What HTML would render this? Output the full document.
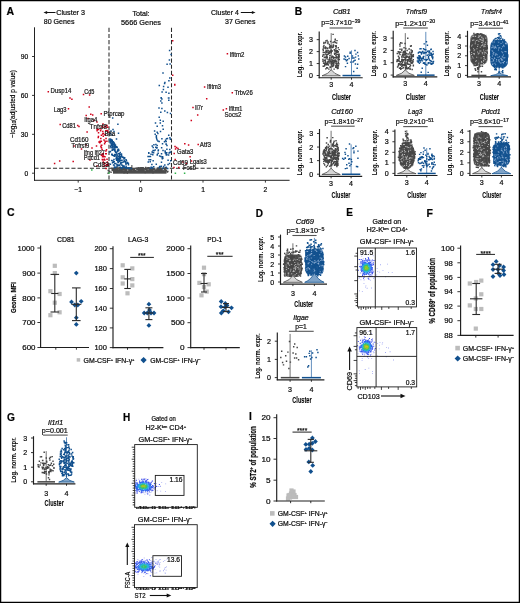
<!DOCTYPE html>
<html><head><meta charset="utf-8"><title>Figure</title>
<style>html,body{margin:0;padding:0;background:#fff;width:520px;height:603px;overflow:hidden}svg{display:block;will-change:transform}text{font-family:"Liberation Sans",sans-serif;stroke:#1a1a1a;stroke-width:0.22px}</style>
</head><body>
<svg width="520" height="603" viewBox="0 0 520 603" font-family='"Liberation Sans", sans-serif'><defs><filter id="bl" x="-20%" y="-20%" width="140%" height="140%"><feGaussianBlur stdDeviation="0.35"/></filter></defs><rect x="0.6" y="0.6" width="518.8" height="601.8" fill="none" stroke="#000" stroke-width="1.3"/>
<text x="6.6" y="14.55" font-size="10.5" font-weight="bold" fill="#000">A</text>
<line x1="55.5" y1="12.5" x2="45.66" y2="12.5" stroke="#111" stroke-width="1"/>
<path fill="#111" d="M43.5 12.5L47.1 10.88L47.1 14.12Z"/>
<text x="56.3" y="14.9" font-size="7.5" textLength="28.7" lengthAdjust="spacingAndGlyphs">Cluster 3</text>
<text x="43.7" y="24.2" font-size="7.5" textLength="30.8" lengthAdjust="spacingAndGlyphs">80 Genes</text>
<text x="141" y="16.1" font-size="7.5" text-anchor="middle" textLength="17.2" lengthAdjust="spacingAndGlyphs">Total:</text>
<text x="141" y="24.9" font-size="7.5" text-anchor="middle" textLength="40" lengthAdjust="spacingAndGlyphs">5666 Genes</text>
<text x="211" y="14.9" font-size="7.5" textLength="27.8" lengthAdjust="spacingAndGlyphs">Cluster 4</text>
<line x1="240.8" y1="12.5" x2="253.34" y2="12.5" stroke="#111" stroke-width="1"/>
<path fill="#111" d="M255.5 12.5L251.9 10.88L251.9 14.12Z"/>
<text x="255.5" y="24.2" font-size="7.5" text-anchor="end" textLength="30.4" lengthAdjust="spacingAndGlyphs">37 Genes</text>
<line x1="109" y1="27.8" x2="109" y2="180.3" stroke="#2a2a2a" stroke-width="1.05" stroke-dasharray="4.1 2.05"/>
<line x1="171.5" y1="27.8" x2="171.5" y2="180.3" stroke="#2a2a2a" stroke-width="1.05" stroke-dasharray="4.1 2.05"/>
<line x1="34.5" y1="168.2" x2="289.6" y2="168.2" stroke="#2a2a2a" stroke-width="1.1" stroke-dasharray="4.1 2.05"/>
<text x="11.9" y="104" font-size="7.8" text-anchor="middle" transform="rotate(-90 11.9 104)" textLength="68" lengthAdjust="spacingAndGlyphs" dy="2.8">−log<tspan font-size="5" dy="1.6">10</tspan><tspan dy="-1.6">(adjusted p value)</tspan></text>
<rect x="113" y="170.4" width="53.5" height="3.3" fill="#4d4d4d"/>
<path fill="#4a4a4a" d="M129.11 167.41h1.4v1.4h-1.4zM147.1 167.15h1.4v1.4h-1.4zM140.77 168.14h1.4v1.4h-1.4zM114.49 168.63h1.4v1.4h-1.4zM113.36 168.37h1.4v1.4h-1.4zM115.14 167.21h1.4v1.4h-1.4zM134.65 169.71h1.4v1.4h-1.4zM118.11 167.66h1.4v1.4h-1.4zM145.81 170.12h1.4v1.4h-1.4zM143.04 168.25h1.4v1.4h-1.4zM164.99 167.06h1.4v1.4h-1.4zM158.52 167.88h1.4v1.4h-1.4zM119.23 167.3h1.4v1.4h-1.4zM128.27 169.67h1.4v1.4h-1.4zM121.24 168.88h1.4v1.4h-1.4zM146.44 168.17h1.4v1.4h-1.4zM141.43 167.11h1.4v1.4h-1.4zM114.58 167.6h1.4v1.4h-1.4zM148.72 168.35h1.4v1.4h-1.4zM128.58 168.89h1.4v1.4h-1.4zM136.23 167.92h1.4v1.4h-1.4zM154.99 169.28h1.4v1.4h-1.4zM124.73 168.85h1.4v1.4h-1.4zM140.19 169.88h1.4v1.4h-1.4zM151.42 167.88h1.4v1.4h-1.4zM165.21 167.3h1.4v1.4h-1.4zM134.3 169.47h1.4v1.4h-1.4zM119.66 168.56h1.4v1.4h-1.4zM113.46 169.17h1.4v1.4h-1.4zM153.35 168.85h1.4v1.4h-1.4zM159.45 167.97h1.4v1.4h-1.4zM149.54 168.92h1.4v1.4h-1.4zM143.19 168.45h1.4v1.4h-1.4zM157.5 170.11h1.4v1.4h-1.4zM137.38 169.16h1.4v1.4h-1.4zM114.64 169.29h1.4v1.4h-1.4zM146.89 170.28h1.4v1.4h-1.4zM156.51 167.87h1.4v1.4h-1.4zM132.52 169.17h1.4v1.4h-1.4zM112.54 168.47h1.4v1.4h-1.4zM120.54 167.3h1.4v1.4h-1.4zM114.54 169.51h1.4v1.4h-1.4zM118.41 167.74h1.4v1.4h-1.4zM132.8 169.86h1.4v1.4h-1.4zM115.73 168.43h1.4v1.4h-1.4zM141.52 169.9h1.4v1.4h-1.4zM156.36 169.84h1.4v1.4h-1.4zM126.61 168.31h1.4v1.4h-1.4zM131.03 169.91h1.4v1.4h-1.4zM163.98 167.41h1.4v1.4h-1.4zM120.99 167.69h1.4v1.4h-1.4zM124.13 168.55h1.4v1.4h-1.4zM143.7 167.79h1.4v1.4h-1.4zM111.53 168.32h1.4v1.4h-1.4zM131.61 168.83h1.4v1.4h-1.4zM163.72 169.25h1.4v1.4h-1.4zM139.65 169h1.4v1.4h-1.4zM148.49 167.08h1.4v1.4h-1.4zM160.77 169.55h1.4v1.4h-1.4zM159.4 169.61h1.4v1.4h-1.4zM132.88 168.26h1.4v1.4h-1.4zM116.99 169.06h1.4v1.4h-1.4zM114.72 167.13h1.4v1.4h-1.4zM122.78 167.45h1.4v1.4h-1.4zM130 167.08h1.4v1.4h-1.4zM111.31 167.41h1.4v1.4h-1.4zM116.88 168.14h1.4v1.4h-1.4zM112.7 169.87h1.4v1.4h-1.4zM145.07 167.41h1.4v1.4h-1.4zM125.17 168.08h1.4v1.4h-1.4zM131.33 167.32h1.4v1.4h-1.4zM157.99 170.28h1.4v1.4h-1.4zM136.93 168.55h1.4v1.4h-1.4zM116.02 167.25h1.4v1.4h-1.4zM130.14 167.8h1.4v1.4h-1.4zM156.89 167.45h1.4v1.4h-1.4zM112.57 170.13h1.4v1.4h-1.4zM140.35 167.4h1.4v1.4h-1.4zM141.17 166.99h1.4v1.4h-1.4zM140.35 170.23h1.4v1.4h-1.4zM158.78 169.27h1.4v1.4h-1.4zM125.66 168.15h1.4v1.4h-1.4zM120.49 169.52h1.4v1.4h-1.4zM140.59 169.55h1.4v1.4h-1.4zM129.43 167.66h1.4v1.4h-1.4zM155.93 170.25h1.4v1.4h-1.4zM158.19 169.64h1.4v1.4h-1.4zM156.31 169.42h1.4v1.4h-1.4zM123.77 168.66h1.4v1.4h-1.4zM130.86 167h1.4v1.4h-1.4zM112.84 167.85h1.4v1.4h-1.4zM125.55 169.25h1.4v1.4h-1.4zM163.91 168.42h1.4v1.4h-1.4zM162.84 170.26h1.4v1.4h-1.4zM163.83 168.14h1.4v1.4h-1.4zM123.43 167.67h1.4v1.4h-1.4zM122.12 167.59h1.4v1.4h-1.4zM145.62 169.96h1.4v1.4h-1.4zM157.52 168.53h1.4v1.4h-1.4zM147.21 169.62h1.4v1.4h-1.4zM115.96 169.15h1.4v1.4h-1.4zM161.34 169.56h1.4v1.4h-1.4zM152.56 168.53h1.4v1.4h-1.4zM121.12 169.58h1.4v1.4h-1.4zM129.59 169.62h1.4v1.4h-1.4zM164.74 168.25h1.4v1.4h-1.4zM133.38 170.12h1.4v1.4h-1.4zM151.16 167.48h1.4v1.4h-1.4zM118.29 167.41h1.4v1.4h-1.4zM161.07 169.64h1.4v1.4h-1.4zM119.34 169.71h1.4v1.4h-1.4zM165.22 169.13h1.4v1.4h-1.4zM130.57 168.77h1.4v1.4h-1.4zM118.5 166.95h1.4v1.4h-1.4zM164.7 169.11h1.4v1.4h-1.4zM140.26 170.07h1.4v1.4h-1.4zM135.16 169.86h1.4v1.4h-1.4zM156.74 167.62h1.4v1.4h-1.4zM125.15 167.9h1.4v1.4h-1.4zM124.53 168.89h1.4v1.4h-1.4zM125.57 168.32h1.4v1.4h-1.4zM118.51 169.99h1.4v1.4h-1.4zM130.76 168.46h1.4v1.4h-1.4zM143.38 169.97h1.4v1.4h-1.4zM134.43 170.02h1.4v1.4h-1.4zM138.89 168.71h1.4v1.4h-1.4zM140.09 166.96h1.4v1.4h-1.4zM135.51 167.52h1.4v1.4h-1.4zM111.52 169.62h1.4v1.4h-1.4zM120.78 168.51h1.4v1.4h-1.4zM151.19 168.79h1.4v1.4h-1.4zM129.23 168.66h1.4v1.4h-1.4zM141.85 169.57h1.4v1.4h-1.4zM117.14 168.81h1.4v1.4h-1.4zM124.97 167.84h1.4v1.4h-1.4zM153.77 168.63h1.4v1.4h-1.4zM142.2 169.48h1.4v1.4h-1.4zM161.49 168.41h1.4v1.4h-1.4zM144.99 168.62h1.4v1.4h-1.4zM139.47 169.26h1.4v1.4h-1.4zM136.18 168.71h1.4v1.4h-1.4zM137.59 170.1h1.4v1.4h-1.4zM149.76 169.88h1.4v1.4h-1.4zM163.12 167.78h1.4v1.4h-1.4zM142.07 170.11h1.4v1.4h-1.4zM157.5 167.37h1.4v1.4h-1.4zM117.99 168.4h1.4v1.4h-1.4zM115.29 167.72h1.4v1.4h-1.4zM115.32 169.18h1.4v1.4h-1.4zM154.42 169.95h1.4v1.4h-1.4zM119.79 169.33h1.4v1.4h-1.4zM147.61 167.39h1.4v1.4h-1.4zM159.86 170.19h1.4v1.4h-1.4zM123.38 170.14h1.4v1.4h-1.4zM133.2 168.56h1.4v1.4h-1.4zM165.74 169.73h1.4v1.4h-1.4zM120.18 168.37h1.4v1.4h-1.4zM139.66 168.05h1.4v1.4h-1.4zM122.07 167.98h1.4v1.4h-1.4zM151.02 166.97h1.4v1.4h-1.4zM141.77 168.4h1.4v1.4h-1.4zM112.29 168.03h1.4v1.4h-1.4zM145.62 168.64h1.4v1.4h-1.4zM114.84 170.25h1.4v1.4h-1.4zM154.66 170.2h1.4v1.4h-1.4zM117.06 167.8h1.4v1.4h-1.4zM113.48 169.55h1.4v1.4h-1.4zM126.17 167.34h1.4v1.4h-1.4zM134.52 170h1.4v1.4h-1.4zM156.34 167.78h1.4v1.4h-1.4zM119.52 170.03h1.4v1.4h-1.4zM142.68 169.28h1.4v1.4h-1.4zM116.22 167.1h1.4v1.4h-1.4zM149.15 168.35h1.4v1.4h-1.4zM115.28 170.09h1.4v1.4h-1.4zM146.19 169.63h1.4v1.4h-1.4zM115.91 169.81h1.4v1.4h-1.4zM114.96 169.83h1.4v1.4h-1.4zM136.26 168.05h1.4v1.4h-1.4zM141.72 170.05h1.4v1.4h-1.4zM126.03 167.34h1.4v1.4h-1.4zM140.28 167.71h1.4v1.4h-1.4zM117.32 167.45h1.4v1.4h-1.4zM114.07 167.59h1.4v1.4h-1.4zM128.46 167.94h1.4v1.4h-1.4zM153.07 167.89h1.4v1.4h-1.4zM138.8 167.5h1.4v1.4h-1.4zM130.39 166.96h1.4v1.4h-1.4zM125.07 166.95h1.4v1.4h-1.4zM151.62 168.77h1.4v1.4h-1.4zM121.72 168.51h1.4v1.4h-1.4zM162.71 167.26h1.4v1.4h-1.4zM156.34 168.37h1.4v1.4h-1.4zM138.53 169.74h1.4v1.4h-1.4zM132.92 168.62h1.4v1.4h-1.4zM149.13 170.24h1.4v1.4h-1.4zM130.15 169.73h1.4v1.4h-1.4zM150.17 169.06h1.4v1.4h-1.4zM133.56 168.08h1.4v1.4h-1.4zM114.29 167.34h1.4v1.4h-1.4zM115.19 169.42h1.4v1.4h-1.4zM125.36 167.46h1.4v1.4h-1.4zM115.95 169.76h1.4v1.4h-1.4zM159.18 169.18h1.4v1.4h-1.4zM126.81 167.72h1.4v1.4h-1.4zM127.42 168.46h1.4v1.4h-1.4zM119.96 168.42h1.4v1.4h-1.4zM125.78 170.17h1.4v1.4h-1.4zM164.79 168.76h1.4v1.4h-1.4zM124.74 170.18h1.4v1.4h-1.4zM128.33 168.11h1.4v1.4h-1.4zM111.36 168.2h1.4v1.4h-1.4zM137.41 168.61h1.4v1.4h-1.4zM122.35 168.62h1.4v1.4h-1.4zM111.57 167.8h1.4v1.4h-1.4zM116.24 168.26h1.4v1.4h-1.4zM113.59 166.98h1.4v1.4h-1.4zM128.03 167.69h1.4v1.4h-1.4zM143.51 168.7h1.4v1.4h-1.4zM152.58 169.14h1.4v1.4h-1.4zM150.68 169.89h1.4v1.4h-1.4zM132.72 168.01h1.4v1.4h-1.4zM165.46 167.41h1.4v1.4h-1.4zM151.13 169.09h1.4v1.4h-1.4zM113.71 169.74h1.4v1.4h-1.4zM160.36 169.03h1.4v1.4h-1.4zM151.66 169.66h1.4v1.4h-1.4zM118.96 168.68h1.4v1.4h-1.4zM139.04 169.74h1.4v1.4h-1.4zM155.56 169.71h1.4v1.4h-1.4zM143.42 169.94h1.4v1.4h-1.4zM148.86 169.26h1.4v1.4h-1.4zM123.95 167.01h1.4v1.4h-1.4zM118.62 168.13h1.4v1.4h-1.4zM117.07 169.74h1.4v1.4h-1.4zM142.02 169.03h1.4v1.4h-1.4zM145.74 169.21h1.4v1.4h-1.4zM138.21 166.91h1.4v1.4h-1.4zM155.17 169.44h1.4v1.4h-1.4zM138.96 168.72h1.4v1.4h-1.4zM147.56 167.12h1.4v1.4h-1.4zM151.82 167.76h1.4v1.4h-1.4zM115.39 167.8h1.4v1.4h-1.4zM151.41 167.6h1.4v1.4h-1.4zM151.99 170.22h1.4v1.4h-1.4zM138.47 168.2h1.4v1.4h-1.4zM137.65 169.22h1.4v1.4h-1.4zM153.48 169h1.4v1.4h-1.4zM146.65 167.16h1.4v1.4h-1.4zM119.41 167.76h1.4v1.4h-1.4zM152.18 167.94h1.4v1.4h-1.4zM142.53 166.94h1.4v1.4h-1.4zM114.64 167.81h1.4v1.4h-1.4zM148.26 169.25h1.4v1.4h-1.4zM148.46 167.89h1.4v1.4h-1.4zM139.71 168.48h1.4v1.4h-1.4zM136.95 167.3h1.4v1.4h-1.4zM160.45 167.58h1.4v1.4h-1.4zM165.1 170.08h1.4v1.4h-1.4zM112.26 168.46h1.4v1.4h-1.4zM159.77 169.82h1.4v1.4h-1.4zM124.49 171.96h1.4v1.4h-1.4zM120.73 170.88h1.4v1.4h-1.4zM144.51 171.92h1.4v1.4h-1.4zM116.37 166.39h1.4v1.4h-1.4zM115.79 171.57h1.4v1.4h-1.4zM159.79 167.29h1.4v1.4h-1.4zM152.31 172.21h1.4v1.4h-1.4zM122.11 170.19h1.4v1.4h-1.4zM108.89 170.77h1.4v1.4h-1.4zM107.53 169.77h1.4v1.4h-1.4zM126.62 172.36h1.4v1.4h-1.4zM116.31 171.29h1.4v1.4h-1.4zM161.07 170.69h1.4v1.4h-1.4zM107.41 172.48h1.4v1.4h-1.4zM114.98 167.72h1.4v1.4h-1.4zM166.59 171.26h1.4v1.4h-1.4zM125.85 167.26h1.4v1.4h-1.4zM131.12 165.33h1.4v1.4h-1.4zM145.01 166.79h1.4v1.4h-1.4zM130.39 170.7h1.4v1.4h-1.4zM110.39 171.62h1.4v1.4h-1.4zM113.81 171.46h1.4v1.4h-1.4zM167.18 170.73h1.4v1.4h-1.4zM123.26 172.2h1.4v1.4h-1.4zM119.45 169.52h1.4v1.4h-1.4zM131.19 167.5h1.4v1.4h-1.4zM159.27 171.09h1.4v1.4h-1.4zM147.68 167.42h1.4v1.4h-1.4zM142.45 169.42h1.4v1.4h-1.4z"/>
<path fill="#11508e" d="M110.36 146.96h1.5v1.5h-1.5zM113.77 146.55h1.5v1.5h-1.5zM114.47 145.9h1.5v1.5h-1.5zM112.18 160.27h1.5v1.5h-1.5zM109.84 140.26h1.5v1.5h-1.5zM116.35 154.71h1.5v1.5h-1.5zM123.46 159.94h1.5v1.5h-1.5zM109.76 138.63h1.5v1.5h-1.5zM113.69 148.98h1.5v1.5h-1.5zM115.8 152.08h1.5v1.5h-1.5zM116.17 163.65h1.5v1.5h-1.5zM126.95 162.52h1.5v1.5h-1.5zM114.48 153.94h1.5v1.5h-1.5zM112.41 140.93h1.5v1.5h-1.5zM113.58 155.39h1.5v1.5h-1.5zM114.04 162.95h1.5v1.5h-1.5zM113.22 158.64h1.5v1.5h-1.5zM117.63 161.63h1.5v1.5h-1.5zM119.45 151.7h1.5v1.5h-1.5zM113.29 146h1.5v1.5h-1.5zM119.2 156.48h1.5v1.5h-1.5zM117.43 157.6h1.5v1.5h-1.5zM119.69 166.44h1.5v1.5h-1.5zM109.53 138.91h1.5v1.5h-1.5zM118.77 153.75h1.5v1.5h-1.5zM110.82 142.34h1.5v1.5h-1.5zM117.13 160.71h1.5v1.5h-1.5zM118.52 156.91h1.5v1.5h-1.5zM111.08 139.37h1.5v1.5h-1.5zM109.38 142.02h1.5v1.5h-1.5zM127.45 167.16h1.5v1.5h-1.5zM111.38 141.27h1.5v1.5h-1.5zM108.94 151.15h1.5v1.5h-1.5zM123.48 157.16h1.5v1.5h-1.5zM113.86 143.55h1.5v1.5h-1.5zM109.78 138.76h1.5v1.5h-1.5zM116.39 165.23h1.5v1.5h-1.5zM118.88 153.16h1.5v1.5h-1.5zM111.14 139.78h1.5v1.5h-1.5zM117.1 149.26h1.5v1.5h-1.5zM118.81 155.16h1.5v1.5h-1.5zM128.36 166.99h1.5v1.5h-1.5zM126.63 161.82h1.5v1.5h-1.5zM113.84 149.31h1.5v1.5h-1.5zM118.55 164.72h1.5v1.5h-1.5zM116.91 149.61h1.5v1.5h-1.5zM113.73 165.15h1.5v1.5h-1.5zM118.01 153.1h1.5v1.5h-1.5zM115.57 157.26h1.5v1.5h-1.5zM109.71 150.71h1.5v1.5h-1.5zM120.06 159.83h1.5v1.5h-1.5zM110.68 139.2h1.5v1.5h-1.5zM111.57 141.66h1.5v1.5h-1.5zM117.45 161.76h1.5v1.5h-1.5zM110.74 139.15h1.5v1.5h-1.5zM110.93 159.65h1.5v1.5h-1.5zM119.25 153.91h1.5v1.5h-1.5zM115.79 156.3h1.5v1.5h-1.5zM117.58 148.62h1.5v1.5h-1.5zM111.77 161.98h1.5v1.5h-1.5zM119.04 158.75h1.5v1.5h-1.5zM112.45 148.14h1.5v1.5h-1.5zM114.03 144.47h1.5v1.5h-1.5zM114.19 153.7h1.5v1.5h-1.5zM109.94 138.84h1.5v1.5h-1.5zM111.34 143.73h1.5v1.5h-1.5zM125.05 162.14h1.5v1.5h-1.5zM125.7 160.02h1.5v1.5h-1.5zM114.01 153.98h1.5v1.5h-1.5zM120.47 162.08h1.5v1.5h-1.5zM117.74 148.69h1.5v1.5h-1.5zM121.03 164.23h1.5v1.5h-1.5zM127.59 162.38h1.5v1.5h-1.5zM112.86 164.35h1.5v1.5h-1.5zM122 166.49h1.5v1.5h-1.5zM112.36 141.19h1.5v1.5h-1.5zM116.45 146.54h1.5v1.5h-1.5zM110.46 140.1h1.5v1.5h-1.5zM127.72 163.15h1.5v1.5h-1.5zM109.95 146.11h1.5v1.5h-1.5zM114.23 148.72h1.5v1.5h-1.5zM117.37 157.68h1.5v1.5h-1.5zM109.65 163.6h1.5v1.5h-1.5zM118.77 160.46h1.5v1.5h-1.5zM109.61 139.31h1.5v1.5h-1.5zM109.78 139.03h1.5v1.5h-1.5zM123.21 158.2h1.5v1.5h-1.5zM112.34 143.67h1.5v1.5h-1.5zM123.54 166.76h1.5v1.5h-1.5zM123.8 157.72h1.5v1.5h-1.5zM119.99 162.94h1.5v1.5h-1.5zM109.4 141.23h1.5v1.5h-1.5zM122.08 156.57h1.5v1.5h-1.5zM110.02 145.45h1.5v1.5h-1.5zM113.73 167.1h1.5v1.5h-1.5zM110.39 140.48h1.5v1.5h-1.5zM115.71 146.08h1.5v1.5h-1.5zM116.86 158.72h1.5v1.5h-1.5zM110.66 139.24h1.5v1.5h-1.5zM123.83 160.97h1.5v1.5h-1.5zM117.15 159.39h1.5v1.5h-1.5zM128.48 167.79h1.5v1.5h-1.5zM111.44 140.6h1.5v1.5h-1.5zM109.2 139.72h1.5v1.5h-1.5zM121.19 161.78h1.5v1.5h-1.5zM111.17 139.27h1.5v1.5h-1.5zM116.03 157.31h1.5v1.5h-1.5zM118.63 156h1.5v1.5h-1.5zM110.05 140.21h1.5v1.5h-1.5zM113.92 144.3h1.5v1.5h-1.5zM113.64 143.64h1.5v1.5h-1.5zM114.52 150.52h1.5v1.5h-1.5zM118.45 159.3h1.5v1.5h-1.5zM110.45 144.95h1.5v1.5h-1.5zM125.38 162.82h1.5v1.5h-1.5zM112.91 161.4h1.5v1.5h-1.5zM125.04 167.13h1.5v1.5h-1.5zM125.33 159.11h1.5v1.5h-1.5zM112.93 141.67h1.5v1.5h-1.5zM113.45 160.89h1.5v1.5h-1.5zM123.38 165.56h1.5v1.5h-1.5zM114.08 147.27h1.5v1.5h-1.5zM120.33 161.77h1.5v1.5h-1.5zM117.04 150.11h1.5v1.5h-1.5zM115.47 146.05h1.5v1.5h-1.5zM111.72 148.72h1.5v1.5h-1.5zM111.45 143.06h1.5v1.5h-1.5zM115.47 151.78h1.5v1.5h-1.5zM111.93 146.37h1.5v1.5h-1.5zM117.3 161.39h1.5v1.5h-1.5zM127.73 164.04h1.5v1.5h-1.5zM114.86 151.43h1.5v1.5h-1.5zM123.94 157.02h1.5v1.5h-1.5zM114.53 153.63h1.5v1.5h-1.5zM113.48 144.11h1.5v1.5h-1.5zM109.3 138.15h1.5v1.5h-1.5zM120.89 154.63h1.5v1.5h-1.5zM113.71 143.07h1.5v1.5h-1.5zM120.23 166.97h1.5v1.5h-1.5zM117.21 164.96h1.5v1.5h-1.5zM110.33 138.74h1.5v1.5h-1.5zM110.6 140.15h1.5v1.5h-1.5zM111.75 142.24h1.5v1.5h-1.5zM124.57 161.03h1.5v1.5h-1.5zM109.62 139.64h1.5v1.5h-1.5zM117.09 150.87h1.5v1.5h-1.5zM119.78 162.24h1.5v1.5h-1.5zM117.38 164.36h1.5v1.5h-1.5zM122.55 161.18h1.5v1.5h-1.5zM112.79 149.12h1.5v1.5h-1.5zM121.18 167.63h1.5v1.5h-1.5zM112.35 148.28h1.5v1.5h-1.5zM115.91 159.51h1.5v1.5h-1.5zM113.28 144.53h1.5v1.5h-1.5zM115.07 166.41h1.5v1.5h-1.5zM119.77 157.04h1.5v1.5h-1.5zM111.46 149.51h1.5v1.5h-1.5zM125.23 163.75h1.5v1.5h-1.5zM116.27 156.61h1.5v1.5h-1.5zM125.45 159.65h1.5v1.5h-1.5zM121.25 159.51h1.5v1.5h-1.5zM118.73 158.18h1.5v1.5h-1.5zM113.4 142.3h1.5v1.5h-1.5zM115.34 157.99h1.5v1.5h-1.5zM112.07 146.69h1.5v1.5h-1.5zM130.46 167.74h1.5v1.5h-1.5zM121.9 156.18h1.5v1.5h-1.5zM122.79 156.71h1.5v1.5h-1.5zM113.91 155.05h1.5v1.5h-1.5zM125.24 167.56h1.5v1.5h-1.5zM118.07 149.47h1.5v1.5h-1.5zM125.37 165.75h1.5v1.5h-1.5zM119.62 157.78h1.5v1.5h-1.5zM119.02 164.24h1.5v1.5h-1.5zM120.74 153.2h1.5v1.5h-1.5zM123.09 165.24h1.5v1.5h-1.5zM114.68 144.22h1.5v1.5h-1.5zM115.05 162.82h1.5v1.5h-1.5zM111.51 139.72h1.5v1.5h-1.5zM111.5 154.39h1.5v1.5h-1.5zM110.69 140.28h1.5v1.5h-1.5zM111.63 141h1.5v1.5h-1.5zM110.85 143.59h1.5v1.5h-1.5zM111.64 144.84h1.5v1.5h-1.5zM122.51 156.77h1.5v1.5h-1.5zM110.96 143.44h1.5v1.5h-1.5zM120.27 162.23h1.5v1.5h-1.5zM116.22 153.3h1.5v1.5h-1.5zM118.49 164.86h1.5v1.5h-1.5zM116.19 146.79h1.5v1.5h-1.5zM125.1 166.95h1.5v1.5h-1.5zM110.02 145.75h1.5v1.5h-1.5zM110.44 143.14h1.5v1.5h-1.5zM116.51 150.76h1.5v1.5h-1.5zM114.08 149.9h1.5v1.5h-1.5zM119.72 156.29h1.5v1.5h-1.5zM120.38 156.12h1.5v1.5h-1.5zM117.78 155.48h1.5v1.5h-1.5zM126.21 167.37h1.5v1.5h-1.5zM114.76 154.18h1.5v1.5h-1.5zM114.87 145.55h1.5v1.5h-1.5zM114.22 155.13h1.5v1.5h-1.5zM112.79 154.68h1.5v1.5h-1.5zM121.87 164.71h1.5v1.5h-1.5zM122.5 165.68h1.5v1.5h-1.5zM111.03 153.54h1.5v1.5h-1.5zM111.33 149.6h1.5v1.5h-1.5zM115.46 146.52h1.5v1.5h-1.5zM111.39 153.5h1.5v1.5h-1.5zM116.34 153.73h1.5v1.5h-1.5zM169.12 151.77h1.5v1.5h-1.5zM166.96 167.68h1.5v1.5h-1.5zM164.09 164.33h1.5v1.5h-1.5zM151.71 167.41h1.5v1.5h-1.5zM158.56 166.95h1.5v1.5h-1.5zM168.32 152.3h1.5v1.5h-1.5zM165.38 166.47h1.5v1.5h-1.5zM148.76 155.74h1.5v1.5h-1.5zM164.64 152.19h1.5v1.5h-1.5zM167.87 154.34h1.5v1.5h-1.5zM166.01 151.91h1.5v1.5h-1.5zM158.8 166.27h1.5v1.5h-1.5zM152.04 154.11h1.5v1.5h-1.5zM158.89 155.15h1.5v1.5h-1.5zM148.1 152.62h1.5v1.5h-1.5zM150.96 166.57h1.5v1.5h-1.5zM162.88 165.82h1.5v1.5h-1.5zM151.13 163.77h1.5v1.5h-1.5zM149.9 159.07h1.5v1.5h-1.5zM161.89 155.91h1.5v1.5h-1.5zM167.33 159.52h1.5v1.5h-1.5zM160.59 165.58h1.5v1.5h-1.5zM149.66 167.62h1.5v1.5h-1.5zM161.73 156.54h1.5v1.5h-1.5zM165.6 154.15h1.5v1.5h-1.5zM170.03 159.93h1.5v1.5h-1.5zM155.54 163.4h1.5v1.5h-1.5zM157.42 152.52h1.5v1.5h-1.5zM164.35 150.14h1.5v1.5h-1.5zM166.11 153.94h1.5v1.5h-1.5zM161.95 167.46h1.5v1.5h-1.5zM160.73 161.53h1.5v1.5h-1.5zM154.44 149.28h1.5v1.5h-1.5zM148.03 152.01h1.5v1.5h-1.5zM161.42 157.25h1.5v1.5h-1.5zM159.04 165.82h1.5v1.5h-1.5zM150.29 153.45h1.5v1.5h-1.5zM162.27 149.66h1.5v1.5h-1.5zM147.31 155.82h1.5v1.5h-1.5zM149.7 155.86h1.5v1.5h-1.5zM152.41 160.05h1.5v1.5h-1.5zM160.8 153.03h1.5v1.5h-1.5zM161.6 158.04h1.5v1.5h-1.5zM150.35 166.58h1.5v1.5h-1.5zM152.85 152.01h1.5v1.5h-1.5zM149.45 161.06h1.5v1.5h-1.5zM167.29 163.72h1.5v1.5h-1.5zM156.49 154.14h1.5v1.5h-1.5zM147.51 161.18h1.5v1.5h-1.5zM160.18 155.73h1.5v1.5h-1.5zM162.1 157.46h1.5v1.5h-1.5zM168.8 162.82h1.5v1.5h-1.5zM152.97 165.96h1.5v1.5h-1.5zM148.26 159.08h1.5v1.5h-1.5zM156.59 153.65h1.5v1.5h-1.5zM152.36 149.83h1.5v1.5h-1.5zM151.48 145.27h1.5v1.5h-1.5zM169.13 137.1h1.5v1.5h-1.5zM155.04 146.41h1.5v1.5h-1.5zM160.88 147.08h1.5v1.5h-1.5zM166.7 137.74h1.5v1.5h-1.5zM157.13 140.26h1.5v1.5h-1.5zM152.17 152.04h1.5v1.5h-1.5zM166.13 148.56h1.5v1.5h-1.5zM151.37 151.14h1.5v1.5h-1.5zM165.41 143.56h1.5v1.5h-1.5zM165.34 143.3h1.5v1.5h-1.5zM155.54 136.36h1.5v1.5h-1.5zM155.66 135.03h1.5v1.5h-1.5zM157.62 149.24h1.5v1.5h-1.5zM164.46 151.16h1.5v1.5h-1.5zM164.77 139.57h1.5v1.5h-1.5zM161.77 142.97h1.5v1.5h-1.5zM166.23 144.71h1.5v1.5h-1.5zM156.29 147.09h1.5v1.5h-1.5zM169.59 138.59h1.5v1.5h-1.5zM167.97 134.55h1.5v1.5h-1.5zM156.2 138.97h1.5v1.5h-1.5zM165.38 153.14h1.5v1.5h-1.5zM165.43 140.79h1.5v1.5h-1.5zM168.85 49.75h1.5v1.5h-1.5zM170.35 53.85h1.5v1.5h-1.5zM168.65 59.35h1.5v1.5h-1.5zM166.35 63.45h1.5v1.5h-1.5zM169.35 63.15h1.5v1.5h-1.5zM162.25 72.15h1.5v1.5h-1.5zM169.05 77.15h1.5v1.5h-1.5zM168.15 79.95h1.5v1.5h-1.5zM164.15 81.75h1.5v1.5h-1.5zM163.85 82.75h1.5v1.5h-1.5zM158.55 84.65h1.5v1.5h-1.5zM162.85 85.85h1.5v1.5h-1.5zM167.25 86.55h1.5v1.5h-1.5zM162.65 88.75h1.5v1.5h-1.5zM161.35 91.25h1.5v1.5h-1.5zM165.35 91.45h1.5v1.5h-1.5zM168.15 92.45h1.5v1.5h-1.5zM160.35 97.15h1.5v1.5h-1.5zM168.15 97.15h1.5v1.5h-1.5zM160.45 96.95h1.5v1.5h-1.5zM161.15 98.25h1.5v1.5h-1.5zM160.05 100.25h1.5v1.5h-1.5zM161.15 102.25h1.5v1.5h-1.5zM167.75 97.15h1.5v1.5h-1.5zM168.05 99.55h1.5v1.5h-1.5zM158.25 107.25h1.5v1.5h-1.5zM161.15 107.75h1.5v1.5h-1.5zM160.05 111.55h1.5v1.5h-1.5zM164.05 110.15h1.5v1.5h-1.5zM166.65 111.75h1.5v1.5h-1.5zM169.75 112.85h1.5v1.5h-1.5zM158.45 116.55h1.5v1.5h-1.5zM159.55 119.45h1.5v1.5h-1.5zM162.45 120.55h1.5v1.5h-1.5zM154.75 122.15h1.5v1.5h-1.5zM159.55 122.15h1.5v1.5h-1.5zM156.45 125.45h1.5v1.5h-1.5zM161.75 125.05h1.5v1.5h-1.5zM162.45 128.55h1.5v1.5h-1.5zM153.85 130.15h1.5v1.5h-1.5zM156.45 131.45h1.5v1.5h-1.5zM159.75 130.75h1.5v1.5h-1.5zM154.45 133.45h1.5v1.5h-1.5zM157.15 132.75h1.5v1.5h-1.5zM155.85 137.45h1.5v1.5h-1.5zM161.15 138.05h1.5v1.5h-1.5zM165.75 138.05h1.5v1.5h-1.5zM158.45 140.75h1.5v1.5h-1.5zM163.75 140.95h1.5v1.5h-1.5zM153.15 144.05h1.5v1.5h-1.5zM155.15 143.65h1.5v1.5h-1.5zM156.45 144.75h1.5v1.5h-1.5zM152.45 146.75h1.5v1.5h-1.5zM155.85 147.35h1.5v1.5h-1.5zM153.15 150.05h1.5v1.5h-1.5zM157.45 150.05h1.5v1.5h-1.5zM169.05 148.65h1.5v1.5h-1.5zM169.75 151.35h1.5v1.5h-1.5zM111.95 117.15h1.5v1.5h-1.5zM117.15 123.45h1.5v1.5h-1.5zM117.75 132.55h1.5v1.5h-1.5zM115.75 138.25h1.5v1.5h-1.5zM110.25 130.25h1.5v1.5h-1.5zM112.25 128.75h1.5v1.5h-1.5zM109.75 132.75h1.5v1.5h-1.5zM113.25 130.75h1.5v1.5h-1.5zM111.25 134.25h1.5v1.5h-1.5z"/>
<path fill="#d0021b" d="M47.55 90.95h1.5v1.5h-1.5zM82.75 93.85h1.5v1.5h-1.5zM88.85 94.25h1.5v1.5h-1.5zM69.25 97.35h1.5v1.5h-1.5zM71.15 98.45h1.5v1.5h-1.5zM67.75 107.95h1.5v1.5h-1.5zM88.45 106.15h1.5v1.5h-1.5zM85.45 114.85h1.5v1.5h-1.5zM90.05 113.45h1.5v1.5h-1.5zM91.95 114.25h1.5v1.5h-1.5zM100.45 112.95h1.5v1.5h-1.5zM59.45 123.85h1.5v1.5h-1.5zM76.95 124.65h1.5v1.5h-1.5zM78.25 125.75h1.5v1.5h-1.5zM86.35 131.15h1.5v1.5h-1.5zM87.25 117.75h1.5v1.5h-1.5zM93.25 119.75h1.5v1.5h-1.5zM96.25 121.25h1.5v1.5h-1.5zM102.25 123.25h1.5v1.5h-1.5zM104.75 126.25h1.5v1.5h-1.5zM106.25 124.75h1.5v1.5h-1.5zM171.95 40.05h1.5v1.5h-1.5zM171.95 74.55h1.5v1.5h-1.5zM174.05 84.25h1.5v1.5h-1.5zM226.65 53.05h1.5v1.5h-1.5zM203.85 86.25h1.5v1.5h-1.5zM231.55 92.05h1.5v1.5h-1.5zM205.95 98.05h1.5v1.5h-1.5zM192.25 106.75h1.5v1.5h-1.5zM222.55 109.35h1.5v1.5h-1.5zM225.65 107.95h1.5v1.5h-1.5zM196.95 114.15h1.5v1.5h-1.5zM190.55 119.85h1.5v1.5h-1.5zM174.05 83.85h1.5v1.5h-1.5zM197.45 143.65h1.5v1.5h-1.5zM184.05 143.05h1.5v1.5h-1.5zM187.85 144.25h1.5v1.5h-1.5zM174.25 145.75h1.5v1.5h-1.5zM175.75 146.75h1.5v1.5h-1.5zM177.25 147.75h1.5v1.5h-1.5zM174.75 148.25h1.5v1.5h-1.5zM173.45 152.85h1.5v1.5h-1.5zM189.35 156.05h1.5v1.5h-1.5zM174.45 158.65h1.5v1.5h-1.5zM190.75 160.15h1.5v1.5h-1.5zM185.55 162.75h1.5v1.5h-1.5zM178.05 166.75h1.5v1.5h-1.5zM173.25 166.75h1.5v1.5h-1.5zM182.25 161.25h1.5v1.5h-1.5zM72.45 160.75h1.5v1.5h-1.5zM89.25 159.25h1.5v1.5h-1.5zM58.95 160.15h1.5v1.5h-1.5zM53.85 162.85h1.5v1.5h-1.5zM98.25 141.25h1.5v1.5h-1.5zM95.75 145.25h1.5v1.5h-1.5zM91.25 147.25h1.5v1.5h-1.5zM85.25 144.25h1.5v1.5h-1.5zM73.25 145.25h1.5v1.5h-1.5zM80.75 148.25h1.5v1.5h-1.5zM96.25 165.25h1.5v1.5h-1.5zM102.25 159.25h1.5v1.5h-1.5zM105.88 163.98h1.5v1.5h-1.5zM97.71 135.77h1.5v1.5h-1.5zM102.48 153h1.5v1.5h-1.5zM100.68 154.52h1.5v1.5h-1.5zM100.18 145.91h1.5v1.5h-1.5zM101.79 155.95h1.5v1.5h-1.5zM100.98 144.49h1.5v1.5h-1.5zM105.13 150.34h1.5v1.5h-1.5zM100.64 134.58h1.5v1.5h-1.5zM96.35 128.67h1.5v1.5h-1.5zM107.24 131.61h1.5v1.5h-1.5zM96.37 129.94h1.5v1.5h-1.5zM106.15 140.42h1.5v1.5h-1.5zM107.02 126.51h1.5v1.5h-1.5zM103.26 155.73h1.5v1.5h-1.5zM102.59 155.92h1.5v1.5h-1.5zM100.22 128.14h1.5v1.5h-1.5zM99.6 141.24h1.5v1.5h-1.5zM102.54 161.31h1.5v1.5h-1.5zM96.78 128.15h1.5v1.5h-1.5zM103.05 165.48h1.5v1.5h-1.5zM105.07 129.96h1.5v1.5h-1.5zM107.14 130.18h1.5v1.5h-1.5zM103.19 162.55h1.5v1.5h-1.5zM101.53 153.15h1.5v1.5h-1.5zM105.45 153.04h1.5v1.5h-1.5zM106.37 129.64h1.5v1.5h-1.5zM106.28 158.57h1.5v1.5h-1.5zM103.26 139.29h1.5v1.5h-1.5zM104.26 126.17h1.5v1.5h-1.5zM100.07 137.68h1.5v1.5h-1.5zM104.44 141.44h1.5v1.5h-1.5zM105.37 167.67h1.5v1.5h-1.5zM104.25 162.71h1.5v1.5h-1.5zM102.3 126.61h1.5v1.5h-1.5zM100.54 144.45h1.5v1.5h-1.5zM100.59 140.51h1.5v1.5h-1.5zM105.78 148.92h1.5v1.5h-1.5zM107.07 163.19h1.5v1.5h-1.5zM106.59 161.32h1.5v1.5h-1.5zM104.93 125.31h1.5v1.5h-1.5zM101.55 158.79h1.5v1.5h-1.5zM101.19 125.44h1.5v1.5h-1.5zM100.72 146.88h1.5v1.5h-1.5zM101.94 133.37h1.5v1.5h-1.5zM99.34 140.53h1.5v1.5h-1.5zM97.49 136.72h1.5v1.5h-1.5zM105.31 137.73h1.5v1.5h-1.5zM104.21 156.03h1.5v1.5h-1.5zM99.9 130.09h1.5v1.5h-1.5zM97.88 128.81h1.5v1.5h-1.5zM102.26 155.92h1.5v1.5h-1.5zM104.94 152.88h1.5v1.5h-1.5zM103.85 142.91h1.5v1.5h-1.5zM107.12 164.43h1.5v1.5h-1.5zM107.42 164.34h1.5v1.5h-1.5zM104.62 134.32h1.5v1.5h-1.5zM105.1 164.9h1.5v1.5h-1.5zM99.08 141.94h1.5v1.5h-1.5zM102.53 135.53h1.5v1.5h-1.5zM101.35 148.64h1.5v1.5h-1.5zM103.53 158.38h1.5v1.5h-1.5zM104.33 140.58h1.5v1.5h-1.5zM97.77 132.08h1.5v1.5h-1.5zM102.33 154.38h1.5v1.5h-1.5zM102.52 132.71h1.5v1.5h-1.5zM104.05 159.28h1.5v1.5h-1.5zM102.07 130.8h1.5v1.5h-1.5zM106.35 164.2h1.5v1.5h-1.5zM104.15 133.68h1.5v1.5h-1.5z"/>
<path fill="#2fb34a" d="M91.05 169.25h1.5v1.5h-1.5zM108.25 172.25h1.5v1.5h-1.5zM174.65 172.55h1.5v1.5h-1.5zM183.85 172.55h1.5v1.5h-1.5z"/>
<text x="50.6" y="93.18" font-size="6.6" fill="#1a1a1a" textLength="20.8" lengthAdjust="spacingAndGlyphs">Dusp14</text>
<text x="84.2" y="93.58" font-size="6.6" fill="#1a1a1a" textLength="10.2" lengthAdjust="spacingAndGlyphs">Cd5</text>
<text x="53.7" y="111.58" font-size="6.6" fill="#1a1a1a" textLength="12.8" lengthAdjust="spacingAndGlyphs">Lag3</text>
<text x="103.5" y="116.38" font-size="6.6" fill="#1a1a1a" textLength="21" lengthAdjust="spacingAndGlyphs">Ptprcap</text>
<text x="84.2" y="122.18" font-size="6.6" fill="#1a1a1a" textLength="13" lengthAdjust="spacingAndGlyphs">Itga4</text>
<text x="62.2" y="128.18" font-size="6.6" fill="#1a1a1a" textLength="13.8" lengthAdjust="spacingAndGlyphs">Cd81</text>
<text x="89.6" y="128.78" font-size="6.6" fill="#1a1a1a" textLength="17.4" lengthAdjust="spacingAndGlyphs">Tnfsf8</text>
<text x="104.6" y="136.18" font-size="6.6" fill="#1a1a1a" textLength="10.5" lengthAdjust="spacingAndGlyphs">Btla</text>
<text x="70" y="141.58" font-size="6.6" fill="#1a1a1a" textLength="18.5" lengthAdjust="spacingAndGlyphs">Cd160</text>
<text x="71.5" y="147.78" font-size="6.6" fill="#1a1a1a" textLength="17.7" lengthAdjust="spacingAndGlyphs">Tnfrsf9</text>
<text x="83.8" y="154.68" font-size="6.6" fill="#1a1a1a" textLength="21" lengthAdjust="spacingAndGlyphs">Ifng Ifi27</text>
<text x="83.8" y="160.08" font-size="6.6" fill="#1a1a1a" textLength="16.2" lengthAdjust="spacingAndGlyphs">Pdcd1</text>
<text x="93" y="166.98" font-size="6.6" fill="#1a1a1a" textLength="16" lengthAdjust="spacingAndGlyphs">Cd83</text>
<text x="229.7" y="56.58" font-size="6.6" fill="#1a1a1a" textLength="14.7" lengthAdjust="spacingAndGlyphs">Ifitm2</text>
<text x="206.9" y="89.08" font-size="6.6" fill="#1a1a1a" textLength="14.1" lengthAdjust="spacingAndGlyphs">Ifitm3</text>
<text x="234.4" y="94.78" font-size="6.6" fill="#1a1a1a" textLength="18.3" lengthAdjust="spacingAndGlyphs">Trbv26</text>
<text x="195" y="109.88" font-size="6.6" fill="#1a1a1a" textLength="7.9" lengthAdjust="spacingAndGlyphs">Il7r</text>
<text x="228.8" y="111.28" font-size="6.6" fill="#1a1a1a" textLength="13.5" lengthAdjust="spacingAndGlyphs">Ifitm1</text>
<text x="224.5" y="117.08" font-size="6.6" fill="#1a1a1a" textLength="16.8" lengthAdjust="spacingAndGlyphs">Socs2</text>
<text x="199.8" y="146.78" font-size="6.6" fill="#1a1a1a" textLength="11.1" lengthAdjust="spacingAndGlyphs">Atf3</text>
<text x="177.1" y="154.08" font-size="6.6" fill="#1a1a1a" textLength="16.2" lengthAdjust="spacingAndGlyphs">Gata3</text>
<text x="173" y="164.88" font-size="6.6" fill="#1a1a1a" textLength="15" lengthAdjust="spacingAndGlyphs">Cd69</text>
<text x="189.8" y="164.08" font-size="6.6" fill="#1a1a1a" textLength="17" lengthAdjust="spacingAndGlyphs">Lgals3</text>
<text x="182.9" y="170.18" font-size="6.6" fill="#1a1a1a" textLength="13.2" lengthAdjust="spacingAndGlyphs">Fosb</text>
<line x1="34.5" y1="27.3" x2="34.5" y2="180.8" stroke="#222" stroke-width="1"/>
<line x1="34" y1="180.3" x2="289.6" y2="180.3" stroke="#222" stroke-width="1"/>
<line x1="32" y1="173.2" x2="34.5" y2="173.2" stroke="#222" stroke-width="0.9"/>
<text x="28.2" y="175.61" font-size="6.7" text-anchor="end">0</text>
<line x1="32" y1="134.3" x2="34.5" y2="134.3" stroke="#222" stroke-width="0.9"/>
<text x="28.2" y="136.71" font-size="6.7" text-anchor="end">30</text>
<line x1="32" y1="95.4" x2="34.5" y2="95.4" stroke="#222" stroke-width="0.9"/>
<text x="28.2" y="97.81" font-size="6.7" text-anchor="end">60</text>
<line x1="32" y1="56.5" x2="34.5" y2="56.5" stroke="#222" stroke-width="0.9"/>
<text x="28.2" y="58.91" font-size="6.7" text-anchor="end">90</text>
<line x1="78.2" y1="180.3" x2="78.2" y2="182.6" stroke="#222" stroke-width="0.9"/>
<text x="78.2" y="191.91" font-size="6.7" text-anchor="middle">−1</text>
<line x1="140.6" y1="180.3" x2="140.6" y2="182.6" stroke="#222" stroke-width="0.9"/>
<text x="140.6" y="191.91" font-size="6.7" text-anchor="middle">0</text>
<line x1="203" y1="180.3" x2="203" y2="182.6" stroke="#222" stroke-width="0.9"/>
<text x="203" y="191.91" font-size="6.7" text-anchor="middle">1</text>
<line x1="265.4" y1="180.3" x2="265.4" y2="182.6" stroke="#222" stroke-width="0.9"/>
<text x="265.4" y="191.91" font-size="6.7" text-anchor="middle">2</text>
<text x="294.8" y="14.91" font-size="10.3" font-weight="bold" fill="#000">B</text>
<line x1="331.2" y1="33.08" x2="331.2" y2="75.5" stroke="#454545" stroke-width="0.75"/>
<path fill="#454545" d="M324.65 60.67h1.44v1.44h-1.44zM327.53 51.89h1.44v1.44h-1.44zM330.85 50.05h1.44v1.44h-1.44zM325.21 51.42h1.44v1.44h-1.44zM338.38 48.89h1.44v1.44h-1.44zM338.43 56.21h1.44v1.44h-1.44zM323.71 59.78h1.44v1.44h-1.44zM334.56 38.54h1.44v1.44h-1.44zM325.26 56.66h1.44v1.44h-1.44zM332.7 65.18h1.44v1.44h-1.44zM328.59 50.89h1.44v1.44h-1.44zM322.55 51.87h1.44v1.44h-1.44zM333.43 68.43h1.44v1.44h-1.44zM330.49 46.26h1.44v1.44h-1.44zM324.52 62.39h1.44v1.44h-1.44zM332.19 63.05h1.44v1.44h-1.44zM336.76 67.83h1.44v1.44h-1.44zM329.34 47.36h1.44v1.44h-1.44zM329.17 62.34h1.44v1.44h-1.44zM337 53.73h1.44v1.44h-1.44zM334.53 41.44h1.44v1.44h-1.44zM333.5 61.07h1.44v1.44h-1.44zM327.36 61.87h1.44v1.44h-1.44zM332.59 63.32h1.44v1.44h-1.44zM335.13 48.02h1.44v1.44h-1.44zM334.07 50.27h1.44v1.44h-1.44zM329.19 60.33h1.44v1.44h-1.44zM329.72 60.61h1.44v1.44h-1.44zM333.4 62.3h1.44v1.44h-1.44zM337.66 62.02h1.44v1.44h-1.44zM335.16 50.33h1.44v1.44h-1.44zM328.76 43.73h1.44v1.44h-1.44zM322.55 54.11h1.44v1.44h-1.44zM335.23 60.77h1.44v1.44h-1.44zM338.05 57.09h1.44v1.44h-1.44zM331.75 59.77h1.44v1.44h-1.44zM331.19 56.16h1.44v1.44h-1.44zM332.87 57.85h1.44v1.44h-1.44zM335.69 66.17h1.44v1.44h-1.44zM337.72 64.79h1.44v1.44h-1.44zM325.5 56.91h1.44v1.44h-1.44zM334.96 59.25h1.44v1.44h-1.44zM324.3 63.86h1.44v1.44h-1.44zM323.24 47.3h1.44v1.44h-1.44zM326.6 56.48h1.44v1.44h-1.44zM329.08 56.85h1.44v1.44h-1.44zM329.11 54.8h1.44v1.44h-1.44zM326.46 58.33h1.44v1.44h-1.44zM325.96 63.57h1.44v1.44h-1.44zM330.95 56.8h1.44v1.44h-1.44zM328.64 52.53h1.44v1.44h-1.44zM326.37 39.85h1.44v1.44h-1.44zM335.37 44.99h1.44v1.44h-1.44zM332.58 44.4h1.44v1.44h-1.44zM326.2 66.96h1.44v1.44h-1.44zM338.43 53.44h1.44v1.44h-1.44zM335.72 63.38h1.44v1.44h-1.44zM335.51 45.46h1.44v1.44h-1.44zM331.28 62.99h1.44v1.44h-1.44zM324.04 54.17h1.44v1.44h-1.44zM336.43 51.45h1.44v1.44h-1.44zM326.63 62.91h1.44v1.44h-1.44zM329.23 60.54h1.44v1.44h-1.44zM325.17 50.85h1.44v1.44h-1.44zM327.25 41.33h1.44v1.44h-1.44zM326.09 55.42h1.44v1.44h-1.44zM329.26 58.94h1.44v1.44h-1.44zM332.68 45.96h1.44v1.44h-1.44zM337.74 60.25h1.44v1.44h-1.44zM336.35 62.82h1.44v1.44h-1.44zM336.28 39.92h1.44v1.44h-1.44zM335.24 49.76h1.44v1.44h-1.44zM332.58 44.91h1.44v1.44h-1.44zM323.14 42.6h1.44v1.44h-1.44zM332.35 33.65h1.44v1.44h-1.44zM326.19 54.07h1.44v1.44h-1.44zM325.95 51.66h1.44v1.44h-1.44zM335.2 52.7h1.44v1.44h-1.44zM337.39 58.6h1.44v1.44h-1.44zM335.43 51.42h1.44v1.44h-1.44zM332.23 46.35h1.44v1.44h-1.44zM334.44 39.24h1.44v1.44h-1.44zM335.12 64.97h1.44v1.44h-1.44zM333.77 52.51h1.44v1.44h-1.44zM331 60.7h1.44v1.44h-1.44zM337.06 56.15h1.44v1.44h-1.44zM331.36 65.28h1.44v1.44h-1.44zM324.28 56.26h1.44v1.44h-1.44zM330.36 49.14h1.44v1.44h-1.44zM324.75 46.27h1.44v1.44h-1.44zM330.33 52.05h1.44v1.44h-1.44zM336.17 66.82h1.44v1.44h-1.44zM321.99 55.53h1.44v1.44h-1.44zM331.53 50.22h1.44v1.44h-1.44zM333.17 64.14h1.44v1.44h-1.44zM329.11 50.98h1.44v1.44h-1.44zM338.09 62.98h1.44v1.44h-1.44zM332.61 44.31h1.44v1.44h-1.44zM322.57 49.84h1.44v1.44h-1.44zM337.32 66.14h1.44v1.44h-1.44zM327.72 64.29h1.44v1.44h-1.44zM330.24 45.02h1.44v1.44h-1.44zM337.31 56.89h1.44v1.44h-1.44zM332.34 41.72h1.44v1.44h-1.44zM327.72 52.64h1.44v1.44h-1.44zM330.05 50.13h1.44v1.44h-1.44zM330.91 62.2h1.44v1.44h-1.44zM329.37 54.87h1.44v1.44h-1.44zM329.18 61.77h1.44v1.44h-1.44zM327 61.25h1.44v1.44h-1.44zM330.54 51.38h1.44v1.44h-1.44zM326.74 63.71h1.44v1.44h-1.44zM333.14 56.64h1.44v1.44h-1.44zM327.34 53.57h1.44v1.44h-1.44zM327.18 63.42h1.44v1.44h-1.44zM334.95 66.55h1.44v1.44h-1.44zM322.82 62.24h1.44v1.44h-1.44zM331.25 58.85h1.44v1.44h-1.44zM322.31 48.45h1.44v1.44h-1.44zM325.17 53.33h1.44v1.44h-1.44zM332.97 44.85h1.44v1.44h-1.44zM335.33 61.48h1.44v1.44h-1.44zM332.33 45.26h1.44v1.44h-1.44zM332.59 62.28h1.44v1.44h-1.44zM333.56 59.65h1.44v1.44h-1.44zM325.99 67.05h1.44v1.44h-1.44zM334.92 60.6h1.44v1.44h-1.44zM323.99 64.26h1.44v1.44h-1.44zM335.2 54.63h1.44v1.44h-1.44zM337.58 53.43h1.44v1.44h-1.44zM335.93 60.46h1.44v1.44h-1.44zM335.22 62.79h1.44v1.44h-1.44zM327.18 62.06h1.44v1.44h-1.44zM329.14 58.29h1.44v1.44h-1.44zM332.89 59.63h1.44v1.44h-1.44zM337.54 47.01h1.44v1.44h-1.44zM323.23 44.73h1.44v1.44h-1.44zM324 51.76h1.44v1.44h-1.44zM337.58 51.32h1.44v1.44h-1.44zM329.64 66.56h1.44v1.44h-1.44zM331.97 46.83h1.44v1.44h-1.44zM338.01 54.87h1.44v1.44h-1.44zM329.08 45.55h1.44v1.44h-1.44zM323.64 56.89h1.44v1.44h-1.44zM324.55 59.47h1.44v1.44h-1.44zM322.29 60.54h1.44v1.44h-1.44zM324.81 42.07h1.44v1.44h-1.44zM338.5 55.25h1.44v1.44h-1.44zM325.13 40.27h1.44v1.44h-1.44zM322.73 46.15h1.44v1.44h-1.44zM334.49 56.94h1.44v1.44h-1.44zM325.27 62.21h1.44v1.44h-1.44zM333.61 40.96h1.44v1.44h-1.44zM336.49 50.87h1.44v1.44h-1.44zM332.69 56.14h1.44v1.44h-1.44zM334.04 59.39h1.44v1.44h-1.44zM326.33 50.56h1.44v1.44h-1.44zM323.2 41.77h1.44v1.44h-1.44zM322.2 58.83h1.44v1.44h-1.44zM323.74 65.32h1.44v1.44h-1.44zM324.86 61.08h1.44v1.44h-1.44zM335.91 42.22h1.44v1.44h-1.44zM328.22 58.8h1.44v1.44h-1.44zM331.77 55.39h1.44v1.44h-1.44zM325.04 68.15h1.44v1.44h-1.44zM335.5 50.6h1.44v1.44h-1.44zM332.6 64.08h1.44v1.44h-1.44zM329.17 45.89h1.44v1.44h-1.44zM337.37 67.52h1.44v1.44h-1.44zM335 45.3h1.44v1.44h-1.44zM323.18 62.47h1.44v1.44h-1.44zM338.58 58.7h1.44v1.44h-1.44zM327.64 60.52h1.44v1.44h-1.44zM327.27 49.72h1.44v1.44h-1.44zM329.35 66.26h1.44v1.44h-1.44zM333.56 49.01h1.44v1.44h-1.44zM332.19 61.29h1.44v1.44h-1.44zM327.19 42.74h1.44v1.44h-1.44zM322.51 65.54h1.44v1.44h-1.44zM331.97 56.43h1.44v1.44h-1.44zM335.57 46.3h1.44v1.44h-1.44zM336.19 53.66h1.44v1.44h-1.44zM335.83 57.37h1.44v1.44h-1.44zM326.76 47.82h1.44v1.44h-1.44zM336.19 64.31h1.44v1.44h-1.44zM337.48 50.88h1.44v1.44h-1.44zM328.15 68.41h1.44v1.44h-1.44zM335.24 45.86h1.44v1.44h-1.44zM325.46 49.86h1.44v1.44h-1.44zM325.91 55.64h1.44v1.44h-1.44zM329.93 66.22h1.44v1.44h-1.44zM325.69 64.05h1.44v1.44h-1.44zM335.5 56.1h1.44v1.44h-1.44zM329.89 40.72h1.44v1.44h-1.44zM334.54 41.82h1.44v1.44h-1.44zM326.13 47.15h1.44v1.44h-1.44zM336.7 64.82h1.44v1.44h-1.44zM331.9 65.76h1.44v1.44h-1.44zM325.14 57.06h1.44v1.44h-1.44zM333.93 53.65h1.44v1.44h-1.44zM328.17 50.37h1.44v1.44h-1.44zM330.76 64.02h1.44v1.44h-1.44zM324.5 59.24h1.44v1.44h-1.44zM328.43 47.18h1.44v1.44h-1.44zM335.07 45.69h1.44v1.44h-1.44zM324.83 47.81h1.44v1.44h-1.44zM330.8 62.41h1.44v1.44h-1.44zM322.37 60.39h1.44v1.44h-1.44zM336.62 49.94h1.44v1.44h-1.44zM326.77 67.22h1.44v1.44h-1.44zM335.28 54.66h1.44v1.44h-1.44z"/>
<path d="M322 75.8 Q328.44 74.05 331.2 69.7 Q333.96 74.05 340.4 75.8 Z" fill="#d6d6d6" stroke="#454545" stroke-width="0.8"/>
<line x1="351.5" y1="50.41" x2="351.5" y2="75.5" stroke="#2f6aa8" stroke-width="0.75"/>
<path fill="#11508e" d="M352.98 70.87h1.44v1.44h-1.44zM355.21 53.41h1.44v1.44h-1.44zM343.72 55.24h1.44v1.44h-1.44zM345.84 60.18h1.44v1.44h-1.44zM343.36 58.3h1.44v1.44h-1.44zM351.71 57.21h1.44v1.44h-1.44zM357.59 55.15h1.44v1.44h-1.44zM356.96 63.57h1.44v1.44h-1.44zM349.43 52.57h1.44v1.44h-1.44zM344.73 56.4h1.44v1.44h-1.44zM351.76 55.23h1.44v1.44h-1.44zM353.1 60.29h1.44v1.44h-1.44zM349.48 51.54h1.44v1.44h-1.44zM349.94 61.41h1.44v1.44h-1.44zM356.87 51.74h1.44v1.44h-1.44zM346.73 58.98h1.44v1.44h-1.44zM348.35 57.76h1.44v1.44h-1.44zM354.27 49.7h1.44v1.44h-1.44zM344.82 65.93h1.44v1.44h-1.44zM353.17 57.33h1.44v1.44h-1.44zM356.45 67.48h1.44v1.44h-1.44zM354.84 56.42h1.44v1.44h-1.44zM358.03 58.21h1.44v1.44h-1.44zM352.27 61.25h1.44v1.44h-1.44zM354.71 63.31h1.44v1.44h-1.44zM347.03 55.49h1.44v1.44h-1.44zM344.81 56.32h1.44v1.44h-1.44zM346.67 62.49h1.44v1.44h-1.44zM344.86 58.86h1.44v1.44h-1.44zM354.38 59.62h1.44v1.44h-1.44zM345.73 60.01h1.44v1.44h-1.44z"/>
<rect x="342.5" y="74.8" width="18" height="1.5" fill="#11508e"/>
<line x1="319.2" y1="31.5" x2="319.2" y2="78.25" stroke="#1e1e1e" stroke-width="1.15"/>
<line x1="318.65" y1="77.7" x2="362.7" y2="77.7" stroke="#1e1e1e" stroke-width="1.15"/>
<line x1="316.7" y1="75.5" x2="319.2" y2="75.5" stroke="#1e1e1e" stroke-width="0.9"/>
<text x="312.9" y="78.06" font-size="7.1" text-anchor="end">0</text>
<line x1="316.7" y1="63.55" x2="319.2" y2="63.55" stroke="#1e1e1e" stroke-width="0.9"/>
<text x="312.9" y="66.11" font-size="7.1" text-anchor="end">1</text>
<line x1="316.7" y1="51.6" x2="319.2" y2="51.6" stroke="#1e1e1e" stroke-width="0.9"/>
<text x="312.9" y="54.16" font-size="7.1" text-anchor="end">2</text>
<line x1="316.7" y1="39.65" x2="319.2" y2="39.65" stroke="#1e1e1e" stroke-width="0.9"/>
<text x="312.9" y="42.21" font-size="7.1" text-anchor="end">3</text>
<line x1="331.2" y1="77.7" x2="331.2" y2="79.7" stroke="#1e1e1e" stroke-width="0.9"/>
<text x="331.2" y="87.26" font-size="7.1" text-anchor="middle">3</text>
<line x1="351.5" y1="77.7" x2="351.5" y2="79.7" stroke="#1e1e1e" stroke-width="0.9"/>
<text x="351.5" y="87.26" font-size="7.1" text-anchor="middle">4</text>
<text x="341.7" y="14.09" font-size="7.2" text-anchor="middle" font-style="italic" textLength="17.6" lengthAdjust="spacingAndGlyphs">Cd81</text>
<text x="340.8" y="25.3" font-size="6.4" text-anchor="middle" textLength="39" lengthAdjust="spacingAndGlyphs" fill="#111">p=3.7×10<tspan font-size="4.5" dy="-2.4">−39</tspan></text>
<line x1="329.6" y1="28" x2="352.7" y2="28" stroke="#555" stroke-width="1.1"/>
<text x="298.7" y="57.44" font-size="7.9" text-anchor="middle" font-weight="bold" textLength="45.5" lengthAdjust="spacingAndGlyphs" transform="rotate(-90 298.7 54.6)" style="stroke-width:0.05px">Log. norm. expr.</text>
<text x="341.5" y="100.2" font-size="8.9" text-anchor="middle" font-weight="bold" textLength="19" lengthAdjust="spacingAndGlyphs" style="stroke-width:0.1px">Cluster</text>
<line x1="405.3" y1="33.11" x2="405.3" y2="75.1" stroke="#454545" stroke-width="0.75"/>
<path fill="#454545" d="M401.31 42.39h1.44v1.44h-1.44zM411.81 55.13h1.44v1.44h-1.44zM399.3 48.55h1.44v1.44h-1.44zM411.77 62.11h1.44v1.44h-1.44zM410.39 57.85h1.44v1.44h-1.44zM401.97 64.57h1.44v1.44h-1.44zM409.82 64.81h1.44v1.44h-1.44zM398.52 57.48h1.44v1.44h-1.44zM408.21 58.49h1.44v1.44h-1.44zM405.48 56.45h1.44v1.44h-1.44zM401.04 49.73h1.44v1.44h-1.44zM403.34 47.12h1.44v1.44h-1.44zM410.27 55.65h1.44v1.44h-1.44zM401.86 54.05h1.44v1.44h-1.44zM401.56 54.69h1.44v1.44h-1.44zM410.93 51.45h1.44v1.44h-1.44zM399.15 43.46h1.44v1.44h-1.44zM409.81 45.43h1.44v1.44h-1.44zM404.2 61.45h1.44v1.44h-1.44zM401.04 63.39h1.44v1.44h-1.44zM402.27 59.19h1.44v1.44h-1.44zM412.65 53.98h1.44v1.44h-1.44zM399.94 42.07h1.44v1.44h-1.44zM401 59.15h1.44v1.44h-1.44zM408.41 56.92h1.44v1.44h-1.44zM401.08 60.49h1.44v1.44h-1.44zM409.79 57.62h1.44v1.44h-1.44zM401.88 59.12h1.44v1.44h-1.44zM410.23 58.65h1.44v1.44h-1.44zM405.03 58.59h1.44v1.44h-1.44zM411.49 55.83h1.44v1.44h-1.44zM400.13 51.66h1.44v1.44h-1.44zM399.24 62.58h1.44v1.44h-1.44zM409.16 60.69h1.44v1.44h-1.44zM397.44 60.11h1.44v1.44h-1.44zM397.78 63.71h1.44v1.44h-1.44zM400.97 65.67h1.44v1.44h-1.44zM399.78 64.41h1.44v1.44h-1.44zM409.34 67.78h1.44v1.44h-1.44zM405.88 66.49h1.44v1.44h-1.44zM408.53 58.14h1.44v1.44h-1.44zM403.03 56.33h1.44v1.44h-1.44zM409.86 59.39h1.44v1.44h-1.44zM401.8 61.4h1.44v1.44h-1.44zM404.47 50.85h1.44v1.44h-1.44zM404.3 42.75h1.44v1.44h-1.44zM410.88 57.37h1.44v1.44h-1.44zM410.22 59.43h1.44v1.44h-1.44zM402.39 54.21h1.44v1.44h-1.44zM406.16 55.25h1.44v1.44h-1.44zM396.58 52.83h1.44v1.44h-1.44zM404.82 66.93h1.44v1.44h-1.44zM398.14 59.94h1.44v1.44h-1.44zM410.72 61.95h1.44v1.44h-1.44zM402.63 63.98h1.44v1.44h-1.44zM408.25 48.41h1.44v1.44h-1.44zM410.5 44.99h1.44v1.44h-1.44zM404.5 53.3h1.44v1.44h-1.44zM405.15 68.02h1.44v1.44h-1.44zM396.44 59.7h1.44v1.44h-1.44zM399.37 53.78h1.44v1.44h-1.44zM397.84 60.01h1.44v1.44h-1.44zM396.59 58.98h1.44v1.44h-1.44zM399.26 45.28h1.44v1.44h-1.44zM396.41 60.48h1.44v1.44h-1.44zM406.22 63.58h1.44v1.44h-1.44zM407.74 66.94h1.44v1.44h-1.44zM397.99 63.11h1.44v1.44h-1.44zM397.5 50.91h1.44v1.44h-1.44zM398.79 67.55h1.44v1.44h-1.44zM401.2 67.67h1.44v1.44h-1.44zM398.16 58.59h1.44v1.44h-1.44zM406.12 62.28h1.44v1.44h-1.44zM410.68 56.7h1.44v1.44h-1.44zM408.58 53.13h1.44v1.44h-1.44zM399.32 51.22h1.44v1.44h-1.44zM402.85 50.92h1.44v1.44h-1.44zM404.99 52.15h1.44v1.44h-1.44zM408.6 48.18h1.44v1.44h-1.44zM401.81 61.84h1.44v1.44h-1.44zM403.52 54.28h1.44v1.44h-1.44zM410.09 45.65h1.44v1.44h-1.44zM409.92 60.52h1.44v1.44h-1.44zM404.87 57.53h1.44v1.44h-1.44zM412.32 60.95h1.44v1.44h-1.44zM403.3 53.8h1.44v1.44h-1.44zM406.82 61.19h1.44v1.44h-1.44zM397.61 64.95h1.44v1.44h-1.44zM403.51 52.08h1.44v1.44h-1.44zM398.47 60.46h1.44v1.44h-1.44zM412.56 58.99h1.44v1.44h-1.44zM406.82 56.05h1.44v1.44h-1.44zM410.84 53.34h1.44v1.44h-1.44zM401.14 48.57h1.44v1.44h-1.44zM407.59 56.67h1.44v1.44h-1.44zM411.78 60.3h1.44v1.44h-1.44zM406.42 49.78h1.44v1.44h-1.44zM403.45 58.98h1.44v1.44h-1.44zM411.45 49.96h1.44v1.44h-1.44zM407.08 60.42h1.44v1.44h-1.44zM398.45 52.79h1.44v1.44h-1.44zM404.04 64.78h1.44v1.44h-1.44zM405.15 59.45h1.44v1.44h-1.44zM398.36 56.67h1.44v1.44h-1.44zM401.12 55.88h1.44v1.44h-1.44zM400.37 64.03h1.44v1.44h-1.44zM397.68 55.56h1.44v1.44h-1.44zM406.41 63.01h1.44v1.44h-1.44zM400.11 68.66h1.44v1.44h-1.44zM408.05 63.53h1.44v1.44h-1.44zM406.29 68h1.44v1.44h-1.44zM404.06 56.67h1.44v1.44h-1.44zM399.87 60.99h1.44v1.44h-1.44zM404.78 53.82h1.44v1.44h-1.44zM396.87 66.25h1.44v1.44h-1.44zM402.22 52.35h1.44v1.44h-1.44zM405.53 55.41h1.44v1.44h-1.44zM404.44 63.12h1.44v1.44h-1.44zM401.21 63.7h1.44v1.44h-1.44zM407.05 37.53h1.44v1.44h-1.44zM410.87 57.45h1.44v1.44h-1.44zM403.57 56.63h1.44v1.44h-1.44zM403.62 52.15h1.44v1.44h-1.44zM408.54 56.15h1.44v1.44h-1.44zM412.21 54.85h1.44v1.44h-1.44zM408.57 55.59h1.44v1.44h-1.44zM402.12 55.15h1.44v1.44h-1.44zM407.44 53.4h1.44v1.44h-1.44zM409.39 68.58h1.44v1.44h-1.44zM408.71 60.3h1.44v1.44h-1.44zM409.42 58.43h1.44v1.44h-1.44zM407.8 67.34h1.44v1.44h-1.44zM410.79 55.62h1.44v1.44h-1.44zM396.2 60.92h1.44v1.44h-1.44zM404.54 57.97h1.44v1.44h-1.44zM411.48 68.73h1.44v1.44h-1.44zM409.1 65.88h1.44v1.44h-1.44zM410.82 62.31h1.44v1.44h-1.44zM403.8 64.6h1.44v1.44h-1.44zM403.88 63.46h1.44v1.44h-1.44zM402.72 59.98h1.44v1.44h-1.44zM405.47 65.02h1.44v1.44h-1.44zM409.3 63.83h1.44v1.44h-1.44zM410.37 54.61h1.44v1.44h-1.44zM399.66 66.97h1.44v1.44h-1.44zM401.25 58.92h1.44v1.44h-1.44zM405.9 53h1.44v1.44h-1.44zM398.11 51.28h1.44v1.44h-1.44zM410.16 53.19h1.44v1.44h-1.44zM410.25 62.09h1.44v1.44h-1.44zM403.37 54.1h1.44v1.44h-1.44zM411.54 60.23h1.44v1.44h-1.44zM405.68 56.64h1.44v1.44h-1.44zM404.53 58.79h1.44v1.44h-1.44zM405.13 47.74h1.44v1.44h-1.44zM412.63 65.07h1.44v1.44h-1.44zM407.41 67.83h1.44v1.44h-1.44zM402.7 59.92h1.44v1.44h-1.44zM402.18 65.18h1.44v1.44h-1.44zM411.59 51.18h1.44v1.44h-1.44zM397.91 62.97h1.44v1.44h-1.44zM402.63 67.04h1.44v1.44h-1.44zM405.74 66.67h1.44v1.44h-1.44zM410.77 53.39h1.44v1.44h-1.44zM403.66 50.6h1.44v1.44h-1.44zM406.69 60.84h1.44v1.44h-1.44zM405.06 52.15h1.44v1.44h-1.44zM409.95 59.11h1.44v1.44h-1.44zM412.61 55.84h1.44v1.44h-1.44zM409.88 53.25h1.44v1.44h-1.44zM411.17 62.52h1.44v1.44h-1.44zM407.81 59.23h1.44v1.44h-1.44zM410.39 49.27h1.44v1.44h-1.44zM401.08 62.74h1.44v1.44h-1.44zM404.78 56.88h1.44v1.44h-1.44zM399.35 63.72h1.44v1.44h-1.44zM406.79 59.09h1.44v1.44h-1.44zM412.63 64.46h1.44v1.44h-1.44zM406.85 63.12h1.44v1.44h-1.44zM409.12 51.58h1.44v1.44h-1.44zM401.31 56.94h1.44v1.44h-1.44zM401.26 59.18h1.44v1.44h-1.44zM410.39 59.55h1.44v1.44h-1.44zM400.01 68.37h1.44v1.44h-1.44zM404.55 64.62h1.44v1.44h-1.44z"/>
<path d="M396.3 75.4 Q402.6 73.8 405.3 69.9 Q408 73.8 414.3 75.4 Z" fill="#d6d6d6" stroke="#454545" stroke-width="0.8"/>
<line x1="425.8" y1="31.87" x2="425.8" y2="75.1" stroke="#2f6aa8" stroke-width="0.75"/>
<path fill="#11508e" d="M427.47 62.75h1.44v1.44h-1.44zM425.61 59.46h1.44v1.44h-1.44zM423.75 48.83h1.44v1.44h-1.44zM418.65 57.87h1.44v1.44h-1.44zM418.82 51.37h1.44v1.44h-1.44zM419.22 48.15h1.44v1.44h-1.44zM430.44 53.75h1.44v1.44h-1.44zM426.84 50.46h1.44v1.44h-1.44zM416.8 56.86h1.44v1.44h-1.44zM429.64 59.99h1.44v1.44h-1.44zM422.69 62.46h1.44v1.44h-1.44zM420.25 48.05h1.44v1.44h-1.44zM431.94 58.03h1.44v1.44h-1.44zM426.46 54.62h1.44v1.44h-1.44zM423.19 62.03h1.44v1.44h-1.44zM417.95 51.67h1.44v1.44h-1.44zM432.31 50.77h1.44v1.44h-1.44zM424.11 63.41h1.44v1.44h-1.44zM417.5 61.45h1.44v1.44h-1.44zM432.26 61.23h1.44v1.44h-1.44zM431.72 54.1h1.44v1.44h-1.44zM430.26 62.38h1.44v1.44h-1.44zM432.78 60.76h1.44v1.44h-1.44zM425.01 49h1.44v1.44h-1.44zM423.28 52.89h1.44v1.44h-1.44zM428.78 59.28h1.44v1.44h-1.44zM431.45 56.66h1.44v1.44h-1.44zM424.83 51.96h1.44v1.44h-1.44zM419.55 56.36h1.44v1.44h-1.44zM422.76 62.6h1.44v1.44h-1.44zM421.8 50.67h1.44v1.44h-1.44zM425.74 41.01h1.44v1.44h-1.44zM423.26 51.41h1.44v1.44h-1.44zM423.51 52.16h1.44v1.44h-1.44zM430.53 54.51h1.44v1.44h-1.44zM422.56 56.31h1.44v1.44h-1.44zM421.4 57.57h1.44v1.44h-1.44zM420.75 53.28h1.44v1.44h-1.44zM422.77 47.91h1.44v1.44h-1.44zM419.28 55.52h1.44v1.44h-1.44zM421.17 58.53h1.44v1.44h-1.44zM430.7 60.59h1.44v1.44h-1.44zM430.56 52.6h1.44v1.44h-1.44zM430.03 52.42h1.44v1.44h-1.44zM428.79 54.29h1.44v1.44h-1.44zM423.08 52.37h1.44v1.44h-1.44zM432.5 53.23h1.44v1.44h-1.44zM425.16 58.91h1.44v1.44h-1.44zM418.82 56.65h1.44v1.44h-1.44zM428.29 50.33h1.44v1.44h-1.44zM426.57 58.69h1.44v1.44h-1.44zM423.49 43.18h1.44v1.44h-1.44zM420.19 57.49h1.44v1.44h-1.44zM430.58 48.41h1.44v1.44h-1.44zM425.77 51.87h1.44v1.44h-1.44zM421.38 52.03h1.44v1.44h-1.44zM427.75 56.8h1.44v1.44h-1.44zM426.15 64.34h1.44v1.44h-1.44zM418.11 60.22h1.44v1.44h-1.44zM419.93 51.44h1.44v1.44h-1.44zM427.79 54.16h1.44v1.44h-1.44zM418.68 62.52h1.44v1.44h-1.44zM425.09 63.66h1.44v1.44h-1.44zM421.66 60.15h1.44v1.44h-1.44zM420.64 52.34h1.44v1.44h-1.44zM418.78 55.35h1.44v1.44h-1.44zM423.44 58.86h1.44v1.44h-1.44zM431.71 63.12h1.44v1.44h-1.44zM431.17 55.51h1.44v1.44h-1.44zM420.51 71.6h1.44v1.44h-1.44zM428.13 57.98h1.44v1.44h-1.44zM427.85 56.07h1.44v1.44h-1.44zM427.71 61.88h1.44v1.44h-1.44zM428.3 52.08h1.44v1.44h-1.44zM422.57 57.58h1.44v1.44h-1.44zM426.73 44.55h1.44v1.44h-1.44zM432.07 56.31h1.44v1.44h-1.44zM429 54.65h1.44v1.44h-1.44zM417.26 58.16h1.44v1.44h-1.44zM419.37 59.61h1.44v1.44h-1.44zM423.06 55.86h1.44v1.44h-1.44zM417.62 52.24h1.44v1.44h-1.44zM419.75 61.33h1.44v1.44h-1.44zM430.14 48.72h1.44v1.44h-1.44zM421.51 67.46h1.44v1.44h-1.44zM424.01 62.31h1.44v1.44h-1.44zM416.68 60.23h1.44v1.44h-1.44zM430.46 63.47h1.44v1.44h-1.44zM417.32 56.78h1.44v1.44h-1.44zM430.81 63.21h1.44v1.44h-1.44zM420.76 59.36h1.44v1.44h-1.44zM418.49 59.03h1.44v1.44h-1.44zM432.11 56.51h1.44v1.44h-1.44zM429.18 62.22h1.44v1.44h-1.44zM423.49 48.74h1.44v1.44h-1.44zM429.09 52.32h1.44v1.44h-1.44zM418.19 55.09h1.44v1.44h-1.44zM432.38 62.56h1.44v1.44h-1.44zM427.46 71.63h1.44v1.44h-1.44zM428.81 50.5h1.44v1.44h-1.44z"/>
<rect x="417" y="74.4" width="17.6" height="1.5" fill="#11508e"/>
<line x1="393.2" y1="30.8" x2="393.2" y2="77.45" stroke="#1e1e1e" stroke-width="1.15"/>
<line x1="392.65" y1="76.9" x2="437.3" y2="76.9" stroke="#1e1e1e" stroke-width="1.15"/>
<line x1="390.7" y1="75.1" x2="393.2" y2="75.1" stroke="#1e1e1e" stroke-width="0.9"/>
<text x="386.9" y="77.66" font-size="7.1" text-anchor="end">0</text>
<line x1="390.7" y1="62.75" x2="393.2" y2="62.75" stroke="#1e1e1e" stroke-width="0.9"/>
<text x="386.9" y="65.31" font-size="7.1" text-anchor="end">1</text>
<line x1="390.7" y1="50.4" x2="393.2" y2="50.4" stroke="#1e1e1e" stroke-width="0.9"/>
<text x="386.9" y="52.96" font-size="7.1" text-anchor="end">2</text>
<line x1="390.7" y1="38.05" x2="393.2" y2="38.05" stroke="#1e1e1e" stroke-width="0.9"/>
<text x="386.9" y="40.61" font-size="7.1" text-anchor="end">3</text>
<line x1="405.3" y1="76.9" x2="405.3" y2="78.9" stroke="#1e1e1e" stroke-width="0.9"/>
<text x="405.3" y="86.46" font-size="7.1" text-anchor="middle">3</text>
<line x1="425.8" y1="76.9" x2="425.8" y2="78.9" stroke="#1e1e1e" stroke-width="0.9"/>
<text x="425.8" y="86.46" font-size="7.1" text-anchor="middle">4</text>
<text x="416.5" y="14.19" font-size="7.2" text-anchor="middle" font-style="italic" textLength="21.4" lengthAdjust="spacingAndGlyphs">Tnfrsf9</text>
<text x="415.2" y="25.7" font-size="6.4" text-anchor="middle" textLength="40" lengthAdjust="spacingAndGlyphs" fill="#111">p=1.2×10<tspan font-size="4.5" dy="-2.4">−20</tspan></text>
<line x1="403.2" y1="28" x2="427.8" y2="28" stroke="#555" stroke-width="1.1"/>
<text x="373" y="56.69" font-size="7.9" text-anchor="middle" font-weight="bold" textLength="45.5" lengthAdjust="spacingAndGlyphs" transform="rotate(-90 373 53.85)" style="stroke-width:0.05px">Log. norm. expr.</text>
<text x="415.6" y="100.4" font-size="8.9" text-anchor="middle" font-weight="bold" textLength="19.7" lengthAdjust="spacingAndGlyphs" style="stroke-width:0.1px">Cluster</text>
<line x1="478.9" y1="33.26" x2="478.9" y2="75.4" stroke="#454545" stroke-width="0.75"/>
<rect x="470.3" y="33.75" width="17.2" height="30.87" fill="#525252" rx="5.16"/>
<path fill="#454545" d="M477.42 42.24h1.44v1.44h-1.44zM472.08 59.09h1.44v1.44h-1.44zM478.38 51.2h1.44v1.44h-1.44zM484.51 57.06h1.44v1.44h-1.44zM471.81 37.83h1.44v1.44h-1.44zM480.97 37.48h1.44v1.44h-1.44zM478.97 45.87h1.44v1.44h-1.44zM485.63 54.67h1.44v1.44h-1.44zM474.28 55.4h1.44v1.44h-1.44zM471.57 56.62h1.44v1.44h-1.44zM473.36 53.91h1.44v1.44h-1.44zM475.22 41.14h1.44v1.44h-1.44zM480.68 39.18h1.44v1.44h-1.44zM474.53 37.77h1.44v1.44h-1.44zM477.24 47.67h1.44v1.44h-1.44zM484.22 37.62h1.44v1.44h-1.44zM484.55 52.65h1.44v1.44h-1.44zM472.43 42.24h1.44v1.44h-1.44zM483.07 55.55h1.44v1.44h-1.44zM479 51.3h1.44v1.44h-1.44zM481.04 47.87h1.44v1.44h-1.44zM479.79 53.58h1.44v1.44h-1.44zM481.96 62.81h1.44v1.44h-1.44zM471.72 44.59h1.44v1.44h-1.44zM473.17 50.26h1.44v1.44h-1.44zM471.51 40.13h1.44v1.44h-1.44zM481.64 49.35h1.44v1.44h-1.44zM477.34 42.49h1.44v1.44h-1.44zM477.68 42.3h1.44v1.44h-1.44zM475.94 43.13h1.44v1.44h-1.44zM469.81 46.54h1.44v1.44h-1.44zM486.5 45.26h1.44v1.44h-1.44zM481.91 48.21h1.44v1.44h-1.44zM486.23 51.91h1.44v1.44h-1.44zM477.99 52.12h1.44v1.44h-1.44zM477.05 49.87h1.44v1.44h-1.44zM469.99 44.14h1.44v1.44h-1.44zM484.07 37.96h1.44v1.44h-1.44zM484.87 55.85h1.44v1.44h-1.44zM480.36 57.99h1.44v1.44h-1.44zM471.96 48.28h1.44v1.44h-1.44zM470.72 41.59h1.44v1.44h-1.44zM474.72 45.64h1.44v1.44h-1.44zM475.02 64.89h1.44v1.44h-1.44zM483.99 59.25h1.44v1.44h-1.44zM474.07 61.23h1.44v1.44h-1.44zM482.25 44.63h1.44v1.44h-1.44zM476.39 64.44h1.44v1.44h-1.44zM475.33 41.63h1.44v1.44h-1.44zM476.72 33.12h1.44v1.44h-1.44zM483.21 56.25h1.44v1.44h-1.44zM473.76 50.89h1.44v1.44h-1.44zM479.92 37.19h1.44v1.44h-1.44zM483.59 45.3h1.44v1.44h-1.44zM485.43 53.5h1.44v1.44h-1.44zM478.13 66.62h1.44v1.44h-1.44zM474.91 53.38h1.44v1.44h-1.44zM479.58 48.2h1.44v1.44h-1.44zM473.75 36.43h1.44v1.44h-1.44zM477.28 41.72h1.44v1.44h-1.44zM470.48 44.47h1.44v1.44h-1.44zM477.14 48.94h1.44v1.44h-1.44zM470.05 43.09h1.44v1.44h-1.44zM482.38 35.05h1.44v1.44h-1.44zM477.1 38.69h1.44v1.44h-1.44zM475.39 60.46h1.44v1.44h-1.44zM476.9 53.81h1.44v1.44h-1.44zM475.81 57.23h1.44v1.44h-1.44zM482.41 60.33h1.44v1.44h-1.44zM484.81 43.31h1.44v1.44h-1.44zM477.23 44.44h1.44v1.44h-1.44zM479.19 41.88h1.44v1.44h-1.44zM471.2 51.58h1.44v1.44h-1.44zM475.28 43.47h1.44v1.44h-1.44zM480.76 71h1.44v1.44h-1.44zM484.07 42.44h1.44v1.44h-1.44zM480.19 51.83h1.44v1.44h-1.44zM481.21 47.06h1.44v1.44h-1.44zM480.03 51.1h1.44v1.44h-1.44zM485.8 51.56h1.44v1.44h-1.44zM477.92 37.24h1.44v1.44h-1.44zM475.59 52.69h1.44v1.44h-1.44zM484.37 54.16h1.44v1.44h-1.44zM481.07 42.6h1.44v1.44h-1.44zM477.28 47.23h1.44v1.44h-1.44zM476.45 37.07h1.44v1.44h-1.44zM479.46 41.61h1.44v1.44h-1.44zM479.12 57.6h1.44v1.44h-1.44zM476.5 42.78h1.44v1.44h-1.44zM484.66 44.03h1.44v1.44h-1.44zM478.99 44.56h1.44v1.44h-1.44zM475.18 34.85h1.44v1.44h-1.44zM472.75 36.84h1.44v1.44h-1.44zM478.01 54.81h1.44v1.44h-1.44zM479.11 49.51h1.44v1.44h-1.44zM471.56 46.53h1.44v1.44h-1.44zM478.36 36.84h1.44v1.44h-1.44zM476.63 51.28h1.44v1.44h-1.44zM470.89 50.12h1.44v1.44h-1.44zM478.7 64.57h1.44v1.44h-1.44zM481.58 41.69h1.44v1.44h-1.44zM486.62 48.03h1.44v1.44h-1.44zM481.86 52.57h1.44v1.44h-1.44zM476.86 34.91h1.44v1.44h-1.44zM473.51 38.28h1.44v1.44h-1.44zM481.93 37.23h1.44v1.44h-1.44zM472.03 51.04h1.44v1.44h-1.44zM473.66 47.72h1.44v1.44h-1.44zM476.02 51.22h1.44v1.44h-1.44zM474.41 36.43h1.44v1.44h-1.44zM474.75 47.09h1.44v1.44h-1.44zM484.79 50.68h1.44v1.44h-1.44zM479.97 57.18h1.44v1.44h-1.44zM484.55 40.34h1.44v1.44h-1.44zM483.79 56.39h1.44v1.44h-1.44zM475.71 41.03h1.44v1.44h-1.44zM481.5 35.52h1.44v1.44h-1.44zM472.27 55.19h1.44v1.44h-1.44zM476.76 63.16h1.44v1.44h-1.44zM481.97 49.94h1.44v1.44h-1.44zM474.93 69.6h1.44v1.44h-1.44zM479 51.43h1.44v1.44h-1.44zM483.33 50.67h1.44v1.44h-1.44zM480.11 32.98h1.44v1.44h-1.44zM475.15 35.13h1.44v1.44h-1.44zM483.87 44.86h1.44v1.44h-1.44zM479.38 39.23h1.44v1.44h-1.44zM471.5 46.85h1.44v1.44h-1.44zM483.34 47.03h1.44v1.44h-1.44zM474.7 43.78h1.44v1.44h-1.44zM480.8 37.92h1.44v1.44h-1.44zM484.48 51.83h1.44v1.44h-1.44zM478.83 44.87h1.44v1.44h-1.44zM485.39 54.17h1.44v1.44h-1.44zM472.72 63.1h1.44v1.44h-1.44zM478.21 50.99h1.44v1.44h-1.44zM484.38 44h1.44v1.44h-1.44zM472.72 47.48h1.44v1.44h-1.44zM483.6 50.47h1.44v1.44h-1.44zM477.77 51.99h1.44v1.44h-1.44zM472.98 56.18h1.44v1.44h-1.44zM484.3 43.26h1.44v1.44h-1.44zM479.9 55.51h1.44v1.44h-1.44zM473.74 41.22h1.44v1.44h-1.44zM484.79 44.6h1.44v1.44h-1.44zM472.55 50.45h1.44v1.44h-1.44zM475.8 49.62h1.44v1.44h-1.44zM476.67 59.55h1.44v1.44h-1.44zM475.69 45.89h1.44v1.44h-1.44zM475.97 36.62h1.44v1.44h-1.44zM469.94 47.78h1.44v1.44h-1.44zM470.98 41.7h1.44v1.44h-1.44zM474.72 40.21h1.44v1.44h-1.44zM475.02 37.79h1.44v1.44h-1.44zM479.26 55.1h1.44v1.44h-1.44zM478.66 48.22h1.44v1.44h-1.44zM470.96 55.56h1.44v1.44h-1.44zM482.56 62.28h1.44v1.44h-1.44zM482.62 53.85h1.44v1.44h-1.44zM476.12 56.61h1.44v1.44h-1.44zM475 57.51h1.44v1.44h-1.44zM485.37 43.19h1.44v1.44h-1.44zM479.94 65.41h1.44v1.44h-1.44zM482.11 53.2h1.44v1.44h-1.44zM478.28 34.1h1.44v1.44h-1.44zM479 53.63h1.44v1.44h-1.44zM476.68 54.37h1.44v1.44h-1.44zM475.45 40.79h1.44v1.44h-1.44zM486.44 45.25h1.44v1.44h-1.44zM474.33 56.6h1.44v1.44h-1.44zM473.63 47.24h1.44v1.44h-1.44zM469.83 51h1.44v1.44h-1.44zM484.38 44.35h1.44v1.44h-1.44zM479.19 57.39h1.44v1.44h-1.44zM474.83 45.44h1.44v1.44h-1.44zM474.78 46.63h1.44v1.44h-1.44zM474.94 45.37h1.44v1.44h-1.44zM485.67 49.85h1.44v1.44h-1.44zM476.01 59.27h1.44v1.44h-1.44zM472.29 37.95h1.44v1.44h-1.44zM472.97 53.76h1.44v1.44h-1.44zM477.28 71.06h1.44v1.44h-1.44zM481.65 60.86h1.44v1.44h-1.44zM473.64 64.21h1.44v1.44h-1.44zM477.94 40.48h1.44v1.44h-1.44zM474.26 42.51h1.44v1.44h-1.44zM470.25 52.42h1.44v1.44h-1.44zM481.61 44.66h1.44v1.44h-1.44zM473.66 42.23h1.44v1.44h-1.44zM479.87 52.98h1.44v1.44h-1.44zM484.3 44.74h1.44v1.44h-1.44zM482.11 51.71h1.44v1.44h-1.44zM485.82 52.9h1.44v1.44h-1.44zM483.42 51.11h1.44v1.44h-1.44zM484.58 50.35h1.44v1.44h-1.44zM472.89 50.81h1.44v1.44h-1.44zM478.8 44.2h1.44v1.44h-1.44zM484.42 39.28h1.44v1.44h-1.44zM473.93 57.11h1.44v1.44h-1.44zM480.52 55.02h1.44v1.44h-1.44zM477 35.22h1.44v1.44h-1.44zM470.74 51.68h1.44v1.44h-1.44zM476.85 55.44h1.44v1.44h-1.44zM476.01 36.35h1.44v1.44h-1.44zM478.09 44.73h1.44v1.44h-1.44zM477.59 53.77h1.44v1.44h-1.44zM470.06 52.14h1.44v1.44h-1.44zM485.06 38.08h1.44v1.44h-1.44zM470.92 53.36h1.44v1.44h-1.44zM475.82 58.9h1.44v1.44h-1.44zM472.26 57.51h1.44v1.44h-1.44zM482.71 45.5h1.44v1.44h-1.44zM471.35 44.15h1.44v1.44h-1.44zM478.83 44.6h1.44v1.44h-1.44zM479.5 56.73h1.44v1.44h-1.44zM479.49 60.37h1.44v1.44h-1.44zM475.38 52.59h1.44v1.44h-1.44zM481.82 48.6h1.44v1.44h-1.44zM482.32 55.02h1.44v1.44h-1.44zM482.86 46.99h1.44v1.44h-1.44zM485.55 55.71h1.44v1.44h-1.44zM478.55 55.04h1.44v1.44h-1.44zM485.7 46.15h1.44v1.44h-1.44zM477.76 47.42h1.44v1.44h-1.44zM480.85 47.34h1.44v1.44h-1.44zM486.57 46.95h1.44v1.44h-1.44zM474.08 56.49h1.44v1.44h-1.44zM470.06 48.06h1.44v1.44h-1.44zM472.06 52.05h1.44v1.44h-1.44zM478.97 38.54h1.44v1.44h-1.44zM472.86 44.38h1.44v1.44h-1.44zM472.82 40.4h1.44v1.44h-1.44zM472.73 51.33h1.44v1.44h-1.44zM472.39 49.75h1.44v1.44h-1.44zM474.39 68.06h1.44v1.44h-1.44zM486.45 47.06h1.44v1.44h-1.44zM478.16 54.69h1.44v1.44h-1.44zM483.08 53.54h1.44v1.44h-1.44zM477.54 54.34h1.44v1.44h-1.44zM472.32 56.75h1.44v1.44h-1.44zM480.68 48.56h1.44v1.44h-1.44zM476.53 51.45h1.44v1.44h-1.44zM479.28 46.18h1.44v1.44h-1.44zM476.65 50.56h1.44v1.44h-1.44zM479.96 58.55h1.44v1.44h-1.44zM474.1 47.13h1.44v1.44h-1.44zM477.13 41.59h1.44v1.44h-1.44zM482.63 47.53h1.44v1.44h-1.44zM480.48 42.32h1.44v1.44h-1.44zM473.94 56.72h1.44v1.44h-1.44zM484.17 52.89h1.44v1.44h-1.44zM484.47 50.4h1.44v1.44h-1.44zM483.71 49.81h1.44v1.44h-1.44zM475.71 33.59h1.44v1.44h-1.44zM484.59 53.2h1.44v1.44h-1.44zM473.18 39.36h1.44v1.44h-1.44zM477.41 53.1h1.44v1.44h-1.44zM479.27 59.07h1.44v1.44h-1.44zM484.53 43.73h1.44v1.44h-1.44zM475.85 52.28h1.44v1.44h-1.44zM472.83 44.94h1.44v1.44h-1.44zM481.7 65.51h1.44v1.44h-1.44zM470.82 40.81h1.44v1.44h-1.44zM471.5 48.46h1.44v1.44h-1.44zM485.24 47.02h1.44v1.44h-1.44zM472.17 48.41h1.44v1.44h-1.44zM472.48 48.57h1.44v1.44h-1.44zM481.23 52.2h1.44v1.44h-1.44zM484.77 41.44h1.44v1.44h-1.44zM481.77 43.91h1.44v1.44h-1.44zM473.47 64.85h1.44v1.44h-1.44zM481.42 46.71h1.44v1.44h-1.44zM473.2 32.66h1.44v1.44h-1.44zM477.08 54.62h1.44v1.44h-1.44zM471.38 48.41h1.44v1.44h-1.44zM475.09 44.85h1.44v1.44h-1.44zM477.97 44.99h1.44v1.44h-1.44zM472.03 51.31h1.44v1.44h-1.44zM481.22 53.21h1.44v1.44h-1.44zM472.19 45.81h1.44v1.44h-1.44zM471.52 48.99h1.44v1.44h-1.44zM476.13 58.59h1.44v1.44h-1.44zM476.96 67.97h1.44v1.44h-1.44zM473.28 47.76h1.44v1.44h-1.44zM482.06 51.93h1.44v1.44h-1.44zM474.14 49.01h1.44v1.44h-1.44zM471.18 42.77h1.44v1.44h-1.44zM476.88 38.09h1.44v1.44h-1.44zM479.14 45.4h1.44v1.44h-1.44zM481.41 49.06h1.44v1.44h-1.44zM480.81 47.24h1.44v1.44h-1.44zM480.8 58.93h1.44v1.44h-1.44zM486.33 51.26h1.44v1.44h-1.44zM476.74 38.36h1.44v1.44h-1.44zM475.6 58.2h1.44v1.44h-1.44zM477.33 68.93h1.44v1.44h-1.44zM476.65 36.69h1.44v1.44h-1.44zM486.47 52.36h1.44v1.44h-1.44zM469.78 45.59h1.44v1.44h-1.44zM475.56 63.91h1.44v1.44h-1.44zM479.58 60.85h1.44v1.44h-1.44zM473.21 52.91h1.44v1.44h-1.44zM471.84 43.65h1.44v1.44h-1.44zM484.29 39.7h1.44v1.44h-1.44zM472.55 61.1h1.44v1.44h-1.44zM480.66 50.9h1.44v1.44h-1.44zM478.94 55.56h1.44v1.44h-1.44zM470.95 57.65h1.44v1.44h-1.44zM478.35 48.63h1.44v1.44h-1.44zM479.07 65.5h1.44v1.44h-1.44zM480.24 41.78h1.44v1.44h-1.44zM482.36 48.43h1.44v1.44h-1.44zM476.67 58.3h1.44v1.44h-1.44zM478.56 38.62h1.44v1.44h-1.44zM475.66 58.29h1.44v1.44h-1.44zM480.1 56.85h1.44v1.44h-1.44zM479.98 54.26h1.44v1.44h-1.44zM474.16 49.9h1.44v1.44h-1.44zM481.51 39.83h1.44v1.44h-1.44zM478.54 53.64h1.44v1.44h-1.44zM472.46 54.39h1.44v1.44h-1.44zM485.52 47.31h1.44v1.44h-1.44zM478.56 58.79h1.44v1.44h-1.44zM483.53 50.15h1.44v1.44h-1.44zM483.71 47.83h1.44v1.44h-1.44zM477.53 42.81h1.44v1.44h-1.44zM483.66 58.72h1.44v1.44h-1.44zM482.8 60.99h1.44v1.44h-1.44zM483.18 39.89h1.44v1.44h-1.44zM483.59 45.9h1.44v1.44h-1.44zM474.01 44.57h1.44v1.44h-1.44zM471.51 44.66h1.44v1.44h-1.44zM478.48 58.1h1.44v1.44h-1.44zM477.58 35.76h1.44v1.44h-1.44zM485.84 40.69h1.44v1.44h-1.44zM481.4 43.57h1.44v1.44h-1.44zM482.48 57.78h1.44v1.44h-1.44zM482.55 45.07h1.44v1.44h-1.44zM476.15 40.38h1.44v1.44h-1.44zM478.46 37.45h1.44v1.44h-1.44zM475.43 47.56h1.44v1.44h-1.44zM476.4 39.76h1.44v1.44h-1.44zM479.32 42.35h1.44v1.44h-1.44zM470.58 47.56h1.44v1.44h-1.44zM474.57 42.12h1.44v1.44h-1.44zM475.96 35.58h1.44v1.44h-1.44zM471.16 47.36h1.44v1.44h-1.44zM474.19 59.67h1.44v1.44h-1.44zM477.23 61.4h1.44v1.44h-1.44zM476.02 45.01h1.44v1.44h-1.44zM472.18 60.02h1.44v1.44h-1.44zM481.42 56.11h1.44v1.44h-1.44zM474.72 45.24h1.44v1.44h-1.44zM482.47 58.89h1.44v1.44h-1.44zM475.87 41.25h1.44v1.44h-1.44zM484.49 56.94h1.44v1.44h-1.44zM473.44 40.57h1.44v1.44h-1.44zM476.65 34.53h1.44v1.44h-1.44zM480.99 50.71h1.44v1.44h-1.44zM482.56 49.84h1.44v1.44h-1.44zM476.14 45.25h1.44v1.44h-1.44zM483.83 58.42h1.44v1.44h-1.44zM482.58 49.89h1.44v1.44h-1.44zM477.68 36.55h1.44v1.44h-1.44zM477.53 46.33h1.44v1.44h-1.44zM477.75 43.35h1.44v1.44h-1.44zM484.16 55.94h1.44v1.44h-1.44zM478.35 57.75h1.44v1.44h-1.44zM483.61 44.44h1.44v1.44h-1.44zM476.64 55.17h1.44v1.44h-1.44zM472.39 60.93h1.44v1.44h-1.44zM482.61 53h1.44v1.44h-1.44zM481.99 58.35h1.44v1.44h-1.44zM471.2 43.63h1.44v1.44h-1.44zM483.46 44.01h1.44v1.44h-1.44zM482.46 45.18h1.44v1.44h-1.44zM479.28 45.96h1.44v1.44h-1.44zM480.86 35.68h1.44v1.44h-1.44zM477.9 43.7h1.44v1.44h-1.44zM477.15 35.5h1.44v1.44h-1.44zM479.57 43.66h1.44v1.44h-1.44zM484.58 48.41h1.44v1.44h-1.44zM478.48 43.36h1.44v1.44h-1.44zM470.31 41.92h1.44v1.44h-1.44zM474.47 41.17h1.44v1.44h-1.44zM474.97 48.72h1.44v1.44h-1.44zM479.14 48.77h1.44v1.44h-1.44zM471.62 57.41h1.44v1.44h-1.44zM474.82 48.85h1.44v1.44h-1.44zM483.11 37.59h1.44v1.44h-1.44zM474.98 60.01h1.44v1.44h-1.44zM478.81 47.36h1.44v1.44h-1.44zM476.04 45.46h1.44v1.44h-1.44zM479.37 58.18h1.44v1.44h-1.44zM475.89 45.94h1.44v1.44h-1.44zM485.34 46.35h1.44v1.44h-1.44zM479.09 53.81h1.44v1.44h-1.44zM478.69 40.95h1.44v1.44h-1.44zM476.63 45.8h1.44v1.44h-1.44zM474.65 55.38h1.44v1.44h-1.44zM483.18 51.31h1.44v1.44h-1.44zM483.26 51.8h1.44v1.44h-1.44zM479.3 34.8h1.44v1.44h-1.44zM477.73 68h1.44v1.44h-1.44zM484.27 42.42h1.44v1.44h-1.44zM480.24 39.43h1.44v1.44h-1.44zM470.59 44.88h1.44v1.44h-1.44zM479.82 46h1.44v1.44h-1.44zM472.75 50.81h1.44v1.44h-1.44zM482.45 38.22h1.44v1.44h-1.44zM478.15 53.52h1.44v1.44h-1.44zM474.9 54.31h1.44v1.44h-1.44zM474.37 59.96h1.44v1.44h-1.44zM485.27 45.61h1.44v1.44h-1.44zM473.31 52.43h1.44v1.44h-1.44zM482.97 45.04h1.44v1.44h-1.44zM485.85 45.88h1.44v1.44h-1.44zM474.9 59.34h1.44v1.44h-1.44zM484.6 41.61h1.44v1.44h-1.44zM470.61 50.22h1.44v1.44h-1.44zM481.41 52.93h1.44v1.44h-1.44zM474.76 43.87h1.44v1.44h-1.44zM475.07 46.95h1.44v1.44h-1.44zM478.98 36.64h1.44v1.44h-1.44zM475.79 37.19h1.44v1.44h-1.44zM483.25 45.47h1.44v1.44h-1.44zM486.15 52.47h1.44v1.44h-1.44zM476.13 49.99h1.44v1.44h-1.44zM480.59 46.78h1.44v1.44h-1.44zM471.24 46.37h1.44v1.44h-1.44zM477.69 37.29h1.44v1.44h-1.44zM481.25 49.49h1.44v1.44h-1.44zM472.56 57.48h1.44v1.44h-1.44zM485.4 46.09h1.44v1.44h-1.44zM486.46 52.19h1.44v1.44h-1.44zM475.21 38.21h1.44v1.44h-1.44zM475.64 52.23h1.44v1.44h-1.44zM485.57 48.2h1.44v1.44h-1.44zM472.48 58.55h1.44v1.44h-1.44zM479.11 65.76h1.44v1.44h-1.44zM478.88 46.53h1.44v1.44h-1.44zM474.37 44.11h1.44v1.44h-1.44zM484.86 45.67h1.44v1.44h-1.44zM485.31 44.65h1.44v1.44h-1.44zM470.55 53.45h1.44v1.44h-1.44zM476.82 66.99h1.44v1.44h-1.44zM483.58 61.64h1.44v1.44h-1.44zM475.32 49.79h1.44v1.44h-1.44zM477.32 50.57h1.44v1.44h-1.44zM472.66 47.98h1.44v1.44h-1.44zM481.48 33.7h1.44v1.44h-1.44zM479.2 49.22h1.44v1.44h-1.44zM471.36 45.03h1.44v1.44h-1.44zM479.26 62.95h1.44v1.44h-1.44zM477.55 53.17h1.44v1.44h-1.44zM472.54 37.87h1.44v1.44h-1.44zM480.68 45.99h1.44v1.44h-1.44zM475.93 40.39h1.44v1.44h-1.44zM476.31 39.68h1.44v1.44h-1.44zM472.58 50.96h1.44v1.44h-1.44zM485.48 52.73h1.44v1.44h-1.44zM483.8 56.54h1.44v1.44h-1.44zM477.96 33.45h1.44v1.44h-1.44zM484.63 45.9h1.44v1.44h-1.44zM471.72 45.06h1.44v1.44h-1.44zM472.96 59.15h1.44v1.44h-1.44zM477.63 47.95h1.44v1.44h-1.44zM478.29 42.6h1.44v1.44h-1.44zM476.25 38.85h1.44v1.44h-1.44zM473.16 45.33h1.44v1.44h-1.44zM472.6 39.73h1.44v1.44h-1.44zM478.21 47.09h1.44v1.44h-1.44zM485.78 47.03h1.44v1.44h-1.44zM477.98 49.2h1.44v1.44h-1.44zM481.38 45.3h1.44v1.44h-1.44zM474.51 59.31h1.44v1.44h-1.44zM474.12 48.22h1.44v1.44h-1.44zM470.51 53.31h1.44v1.44h-1.44zM475.05 56.57h1.44v1.44h-1.44zM484.35 41.6h1.44v1.44h-1.44zM474.41 38.22h1.44v1.44h-1.44zM479.71 42.36h1.44v1.44h-1.44zM470.77 45.27h1.44v1.44h-1.44zM475.12 61.8h1.44v1.44h-1.44z"/>
<path fill="#b8b8b8" d="M479.99 35.2h1v1h-1zM471.06 45.57h1v1h-1zM481.47 39.99h1v1h-1zM475.87 40.1h1v1h-1zM477.79 36.97h1v1h-1zM470.57 36.42h1v1h-1zM476.99 51.57h1v1h-1zM471.81 56.18h1v1h-1zM482.14 43.85h1v1h-1zM472.82 53.35h1v1h-1zM472.65 57.51h1v1h-1zM473.91 53.73h1v1h-1zM486.02 34.8h1v1h-1zM483.07 49.51h1v1h-1zM478.36 40.99h1v1h-1zM484.93 41.78h1v1h-1zM480.58 57.48h1v1h-1zM480.4 39.1h1v1h-1zM482.99 60.51h1v1h-1zM481.88 53.22h1v1h-1zM473 35.69h1v1h-1zM481.16 41.95h1v1h-1zM472.56 39.6h1v1h-1zM485.39 37.43h1v1h-1zM482.32 39.48h1v1h-1zM483.23 46.36h1v1h-1zM477.37 39.69h1v1h-1zM482.95 38.39h1v1h-1zM475.18 35.83h1v1h-1zM478.91 36.26h1v1h-1zM472.25 35.62h1v1h-1zM483 55.98h1v1h-1zM483.81 56.54h1v1h-1zM473.57 50.13h1v1h-1zM474.19 49.14h1v1h-1zM484.93 43.66h1v1h-1zM481.77 52h1v1h-1zM482.94 40.58h1v1h-1zM481.33 36.38h1v1h-1zM483.61 51.59h1v1h-1zM471.79 44.6h1v1h-1zM483.78 53.49h1v1h-1zM479.92 39.37h1v1h-1zM483.09 63.01h1v1h-1zM478.22 62.68h1v1h-1zM472.17 40.05h1v1h-1zM477.1 45.95h1v1h-1zM477.72 53.61h1v1h-1zM473.82 53.09h1v1h-1zM483.91 45.54h1v1h-1zM475.07 60.64h1v1h-1zM474.74 43.21h1v1h-1zM477.47 44.35h1v1h-1zM483.31 59.71h1v1h-1zM481.33 61.96h1v1h-1zM483.57 57.91h1v1h-1zM474.74 35.92h1v1h-1zM476.2 56.77h1v1h-1zM484.64 45.8h1v1h-1zM484.7 51.93h1v1h-1zM478.39 35.98h1v1h-1zM478.51 35.05h1v1h-1zM473.43 39.53h1v1h-1zM473 48.16h1v1h-1zM470.41 58.16h1v1h-1zM485.52 50.22h1v1h-1zM483.35 56.01h1v1h-1zM476.04 60.27h1v1h-1zM479.24 38.63h1v1h-1zM478.62 52.43h1v1h-1zM485.26 37.74h1v1h-1zM481.06 60.98h1v1h-1zM480.38 50.52h1v1h-1zM485.73 52.86h1v1h-1zM480.98 45.18h1v1h-1zM476.41 48.3h1v1h-1zM481.22 37.36h1v1h-1zM478.37 52.8h1v1h-1zM486.02 61.52h1v1h-1zM483.76 43.71h1v1h-1zM479.32 50.42h1v1h-1zM482.42 37.81h1v1h-1zM482.06 41.83h1v1h-1zM470.96 53.9h1v1h-1zM472.59 36.06h1v1h-1zM484.66 59.03h1v1h-1zM479.8 46.75h1v1h-1zM471.15 51.99h1v1h-1zM482.36 44.91h1v1h-1zM474.89 41.47h1v1h-1z"/>
<rect x="471.4" y="74.7" width="15" height="1.5" fill="#454545"/>
<line x1="499.2" y1="33.26" x2="499.2" y2="75.4" stroke="#2f6aa8" stroke-width="0.75"/>
<rect x="490.4" y="40.12" width="17.6" height="27.44" fill="#1b5894" rx="5.28"/>
<path fill="#11508e" d="M497.11 55.63h1.44v1.44h-1.44zM505.23 43.62h1.44v1.44h-1.44zM501.09 61.54h1.44v1.44h-1.44zM496.95 64.52h1.44v1.44h-1.44zM500.84 41.12h1.44v1.44h-1.44zM494.64 55.96h1.44v1.44h-1.44zM503.82 47.73h1.44v1.44h-1.44zM502.77 44.39h1.44v1.44h-1.44zM498.76 55.59h1.44v1.44h-1.44zM504.92 49.59h1.44v1.44h-1.44zM493.29 46.39h1.44v1.44h-1.44zM496.01 42.19h1.44v1.44h-1.44zM496.61 46.9h1.44v1.44h-1.44zM506.6 50.95h1.44v1.44h-1.44zM495.32 48.22h1.44v1.44h-1.44zM506.26 54.31h1.44v1.44h-1.44zM497.41 50.88h1.44v1.44h-1.44zM492.27 46.6h1.44v1.44h-1.44zM496.47 53.62h1.44v1.44h-1.44zM505.51 45.29h1.44v1.44h-1.44zM505.67 53.68h1.44v1.44h-1.44zM497.66 47.85h1.44v1.44h-1.44zM503 47.31h1.44v1.44h-1.44zM495.87 62.65h1.44v1.44h-1.44zM498.02 45.51h1.44v1.44h-1.44zM499.26 42.35h1.44v1.44h-1.44zM494.89 59.39h1.44v1.44h-1.44zM496.73 64.63h1.44v1.44h-1.44zM495.34 44.76h1.44v1.44h-1.44zM500.65 57.89h1.44v1.44h-1.44zM490.42 53.94h1.44v1.44h-1.44zM502.18 39.68h1.44v1.44h-1.44zM505.42 59.81h1.44v1.44h-1.44zM494.44 56.09h1.44v1.44h-1.44zM499.33 53h1.44v1.44h-1.44zM502.85 50.14h1.44v1.44h-1.44zM503.73 56.65h1.44v1.44h-1.44zM492.47 60.4h1.44v1.44h-1.44zM506.4 57.07h1.44v1.44h-1.44zM500.27 42.55h1.44v1.44h-1.44zM496.73 57.94h1.44v1.44h-1.44zM503.73 65.77h1.44v1.44h-1.44zM496.59 53.46h1.44v1.44h-1.44zM503.23 60.28h1.44v1.44h-1.44zM504.88 56.07h1.44v1.44h-1.44zM499.02 49.05h1.44v1.44h-1.44zM503.58 64.68h1.44v1.44h-1.44zM492.07 54.67h1.44v1.44h-1.44zM496.96 54.65h1.44v1.44h-1.44zM498.52 50.66h1.44v1.44h-1.44zM499.7 46.16h1.44v1.44h-1.44zM497.11 62.45h1.44v1.44h-1.44zM504.1 58.73h1.44v1.44h-1.44zM503.46 55.92h1.44v1.44h-1.44zM501.46 50.75h1.44v1.44h-1.44zM502.8 56.93h1.44v1.44h-1.44zM502.02 69.88h1.44v1.44h-1.44zM502.76 53.18h1.44v1.44h-1.44zM504.77 48.23h1.44v1.44h-1.44zM493.45 63.35h1.44v1.44h-1.44zM500.4 56.6h1.44v1.44h-1.44zM495.65 64.84h1.44v1.44h-1.44zM503.01 43.4h1.44v1.44h-1.44zM494.67 48.74h1.44v1.44h-1.44zM491.36 51.84h1.44v1.44h-1.44zM501.36 47.69h1.44v1.44h-1.44zM496.94 39.18h1.44v1.44h-1.44zM501.95 55.34h1.44v1.44h-1.44zM496.5 39.66h1.44v1.44h-1.44zM490.61 46.56h1.44v1.44h-1.44zM494.6 56.07h1.44v1.44h-1.44zM490.9 56.23h1.44v1.44h-1.44zM502.84 62.52h1.44v1.44h-1.44zM490.59 49.78h1.44v1.44h-1.44zM493.67 51.35h1.44v1.44h-1.44zM500.7 56.47h1.44v1.44h-1.44zM499.64 56.89h1.44v1.44h-1.44zM493.92 47.19h1.44v1.44h-1.44zM504.42 51.67h1.44v1.44h-1.44zM503.57 58.29h1.44v1.44h-1.44zM503.33 55.02h1.44v1.44h-1.44zM490.18 53.57h1.44v1.44h-1.44zM491.96 61.35h1.44v1.44h-1.44zM500.77 53.36h1.44v1.44h-1.44zM496.73 54.78h1.44v1.44h-1.44zM498.64 63.38h1.44v1.44h-1.44zM504.6 57.89h1.44v1.44h-1.44zM507.02 56.09h1.44v1.44h-1.44zM495.79 46.44h1.44v1.44h-1.44zM502.08 71.97h1.44v1.44h-1.44zM492.98 45.07h1.44v1.44h-1.44zM497.7 49.24h1.44v1.44h-1.44zM497.73 58.17h1.44v1.44h-1.44zM496.43 64.34h1.44v1.44h-1.44zM494.73 50.19h1.44v1.44h-1.44zM493.77 45.72h1.44v1.44h-1.44zM497.4 53.95h1.44v1.44h-1.44zM494.19 62.53h1.44v1.44h-1.44zM494.38 54.61h1.44v1.44h-1.44zM499.48 58.09h1.44v1.44h-1.44zM502.43 59.48h1.44v1.44h-1.44zM500.46 36.42h1.44v1.44h-1.44zM502.06 58.74h1.44v1.44h-1.44zM490.4 48.21h1.44v1.44h-1.44zM504.81 51.08h1.44v1.44h-1.44zM494.36 55.06h1.44v1.44h-1.44zM496.57 64.01h1.44v1.44h-1.44zM506.46 47.39h1.44v1.44h-1.44zM495.74 43.62h1.44v1.44h-1.44zM496.07 48.44h1.44v1.44h-1.44zM505.47 51.78h1.44v1.44h-1.44zM491.62 50.22h1.44v1.44h-1.44zM492.59 61.26h1.44v1.44h-1.44zM498.04 45.4h1.44v1.44h-1.44zM504.84 41.93h1.44v1.44h-1.44zM498.18 41.26h1.44v1.44h-1.44zM503.45 60.47h1.44v1.44h-1.44zM499.58 50.51h1.44v1.44h-1.44zM498.62 50.4h1.44v1.44h-1.44zM490.1 51.61h1.44v1.44h-1.44zM505.11 47.34h1.44v1.44h-1.44zM506.5 57.8h1.44v1.44h-1.44zM497.99 71.43h1.44v1.44h-1.44zM503.96 53.97h1.44v1.44h-1.44zM503.68 60.79h1.44v1.44h-1.44zM493.46 52.28h1.44v1.44h-1.44zM499.98 52.18h1.44v1.44h-1.44zM504.29 53.89h1.44v1.44h-1.44zM503.51 52.39h1.44v1.44h-1.44zM505.24 55.39h1.44v1.44h-1.44zM499.08 52.59h1.44v1.44h-1.44zM500.47 46.87h1.44v1.44h-1.44zM505.12 50.13h1.44v1.44h-1.44zM494.66 64.27h1.44v1.44h-1.44zM493.98 52.03h1.44v1.44h-1.44zM492.17 46.73h1.44v1.44h-1.44zM500.01 57.42h1.44v1.44h-1.44zM497.74 49.45h1.44v1.44h-1.44zM499.94 49.39h1.44v1.44h-1.44zM497.57 61.16h1.44v1.44h-1.44zM492.31 62.4h1.44v1.44h-1.44zM497.96 53.54h1.44v1.44h-1.44zM496.75 55.69h1.44v1.44h-1.44zM494.26 58.9h1.44v1.44h-1.44zM500.44 64.09h1.44v1.44h-1.44zM492.33 56.28h1.44v1.44h-1.44zM504.57 61.4h1.44v1.44h-1.44zM493.94 55.41h1.44v1.44h-1.44zM506.99 54.77h1.44v1.44h-1.44zM503.54 52.08h1.44v1.44h-1.44zM503.4 45.36h1.44v1.44h-1.44zM491.69 61.72h1.44v1.44h-1.44zM492.77 62.74h1.44v1.44h-1.44zM493.43 39.15h1.44v1.44h-1.44zM490.62 55.23h1.44v1.44h-1.44zM493.56 52.03h1.44v1.44h-1.44zM499.84 35.04h1.44v1.44h-1.44zM504.22 42.99h1.44v1.44h-1.44zM494.53 57.86h1.44v1.44h-1.44zM503 52.26h1.44v1.44h-1.44zM491.53 51.88h1.44v1.44h-1.44zM494.64 40.96h1.44v1.44h-1.44zM503.83 55.19h1.44v1.44h-1.44zM491.94 48.23h1.44v1.44h-1.44zM502.8 45.1h1.44v1.44h-1.44zM492.84 39.69h1.44v1.44h-1.44zM503.04 64.28h1.44v1.44h-1.44zM498.51 66.78h1.44v1.44h-1.44zM500.46 58.13h1.44v1.44h-1.44zM493.14 64.77h1.44v1.44h-1.44zM491.73 60.99h1.44v1.44h-1.44zM496.83 59.36h1.44v1.44h-1.44zM489.89 54.95h1.44v1.44h-1.44zM504.28 53.17h1.44v1.44h-1.44zM503.92 54.85h1.44v1.44h-1.44zM501.03 56.98h1.44v1.44h-1.44zM493.34 52.08h1.44v1.44h-1.44zM506.63 56.54h1.44v1.44h-1.44zM499.29 51.48h1.44v1.44h-1.44zM502.49 55.21h1.44v1.44h-1.44zM504.52 50.33h1.44v1.44h-1.44zM496.17 51.02h1.44v1.44h-1.44zM495.08 56.08h1.44v1.44h-1.44zM500.35 52.77h1.44v1.44h-1.44zM506.51 57.54h1.44v1.44h-1.44zM491 53.01h1.44v1.44h-1.44zM491.69 54.04h1.44v1.44h-1.44zM498.82 56.87h1.44v1.44h-1.44zM497.87 63.03h1.44v1.44h-1.44zM500.63 62.12h1.44v1.44h-1.44zM505.21 47.2h1.44v1.44h-1.44zM505.71 54.64h1.44v1.44h-1.44zM502.18 67.03h1.44v1.44h-1.44zM501.66 53.53h1.44v1.44h-1.44zM504.58 55.03h1.44v1.44h-1.44zM495.13 67.71h1.44v1.44h-1.44zM505.45 46.34h1.44v1.44h-1.44zM495.32 64.58h1.44v1.44h-1.44zM495.13 48.73h1.44v1.44h-1.44zM491.62 57.15h1.44v1.44h-1.44zM497.55 47.46h1.44v1.44h-1.44zM504.04 41.78h1.44v1.44h-1.44zM503.08 54.49h1.44v1.44h-1.44zM501.41 40.05h1.44v1.44h-1.44zM496.94 54.02h1.44v1.44h-1.44zM490.73 47.25h1.44v1.44h-1.44zM505.82 51.15h1.44v1.44h-1.44zM496.89 36.89h1.44v1.44h-1.44zM505.29 51.39h1.44v1.44h-1.44zM501.82 66.55h1.44v1.44h-1.44zM504.03 56.74h1.44v1.44h-1.44zM495.2 53.86h1.44v1.44h-1.44zM499.09 58.36h1.44v1.44h-1.44zM506.12 58.49h1.44v1.44h-1.44zM500.96 48.01h1.44v1.44h-1.44zM499.05 44.94h1.44v1.44h-1.44zM504.85 45.7h1.44v1.44h-1.44zM501.75 56.17h1.44v1.44h-1.44zM493.55 49.79h1.44v1.44h-1.44zM494.74 53.81h1.44v1.44h-1.44zM494.27 52.04h1.44v1.44h-1.44zM502.27 53.84h1.44v1.44h-1.44zM497.45 48.25h1.44v1.44h-1.44zM501.77 53.44h1.44v1.44h-1.44zM502.7 57.85h1.44v1.44h-1.44zM495.38 65.21h1.44v1.44h-1.44zM501.84 53.2h1.44v1.44h-1.44zM493.41 51.26h1.44v1.44h-1.44zM500.99 54.33h1.44v1.44h-1.44zM499.07 32.91h1.44v1.44h-1.44zM501.63 59.01h1.44v1.44h-1.44zM495.62 61.91h1.44v1.44h-1.44zM490.08 50.43h1.44v1.44h-1.44zM496.05 51.98h1.44v1.44h-1.44zM498.37 50.72h1.44v1.44h-1.44zM506.57 50.13h1.44v1.44h-1.44zM503.16 55.52h1.44v1.44h-1.44zM493.26 58.91h1.44v1.44h-1.44zM496.99 47.73h1.44v1.44h-1.44zM501.69 49.2h1.44v1.44h-1.44zM493.43 65.03h1.44v1.44h-1.44zM505.75 48.83h1.44v1.44h-1.44zM491.45 61.24h1.44v1.44h-1.44zM502.46 40.73h1.44v1.44h-1.44zM503.74 50.83h1.44v1.44h-1.44zM500.19 37.88h1.44v1.44h-1.44zM493.02 53.31h1.44v1.44h-1.44zM505.59 52.04h1.44v1.44h-1.44zM499.87 46.84h1.44v1.44h-1.44zM500.74 43.48h1.44v1.44h-1.44zM491.45 51.28h1.44v1.44h-1.44zM506.66 49.16h1.44v1.44h-1.44zM499.51 61.57h1.44v1.44h-1.44zM494.26 45.48h1.44v1.44h-1.44zM504.66 51.88h1.44v1.44h-1.44zM491.97 52.58h1.44v1.44h-1.44zM501.93 45.87h1.44v1.44h-1.44zM492.16 54.83h1.44v1.44h-1.44zM496.14 51.71h1.44v1.44h-1.44zM498.85 58.92h1.44v1.44h-1.44zM503.43 48.59h1.44v1.44h-1.44zM494.83 49.3h1.44v1.44h-1.44zM494.63 62.89h1.44v1.44h-1.44zM494.08 44.04h1.44v1.44h-1.44zM496.12 51.63h1.44v1.44h-1.44zM500.64 45.55h1.44v1.44h-1.44zM494.11 68.7h1.44v1.44h-1.44zM501.31 50.33h1.44v1.44h-1.44zM490.37 50.16h1.44v1.44h-1.44zM497.46 58.03h1.44v1.44h-1.44zM501.84 46.62h1.44v1.44h-1.44zM491.89 47.33h1.44v1.44h-1.44zM493.32 46.5h1.44v1.44h-1.44zM494.14 47.08h1.44v1.44h-1.44zM491.12 56.78h1.44v1.44h-1.44zM496.05 51.68h1.44v1.44h-1.44zM498.91 71.19h1.44v1.44h-1.44zM491.17 49.58h1.44v1.44h-1.44zM499.57 50.89h1.44v1.44h-1.44zM502.86 40.37h1.44v1.44h-1.44zM494.53 38.06h1.44v1.44h-1.44zM506.04 56.74h1.44v1.44h-1.44zM493.13 58.85h1.44v1.44h-1.44zM504.89 54.02h1.44v1.44h-1.44zM494.36 52.36h1.44v1.44h-1.44zM505.76 49.95h1.44v1.44h-1.44zM493.31 65.45h1.44v1.44h-1.44zM497.67 50.03h1.44v1.44h-1.44zM501.31 55.32h1.44v1.44h-1.44zM496.17 48.28h1.44v1.44h-1.44zM498.31 36.63h1.44v1.44h-1.44zM495.33 37.69h1.44v1.44h-1.44zM498.67 41.74h1.44v1.44h-1.44zM490.12 52.34h1.44v1.44h-1.44zM498.92 65.77h1.44v1.44h-1.44zM493.86 50.73h1.44v1.44h-1.44zM500.49 63.8h1.44v1.44h-1.44zM492.23 53.05h1.44v1.44h-1.44zM502.33 46.86h1.44v1.44h-1.44zM501.37 70.97h1.44v1.44h-1.44zM494.4 64.53h1.44v1.44h-1.44zM495.2 40.62h1.44v1.44h-1.44zM493.85 66.9h1.44v1.44h-1.44zM494.53 62.87h1.44v1.44h-1.44zM493.11 44.9h1.44v1.44h-1.44zM493.1 51.23h1.44v1.44h-1.44zM506.21 53.19h1.44v1.44h-1.44zM497.15 63.49h1.44v1.44h-1.44zM506.37 53.66h1.44v1.44h-1.44zM493.8 54.25h1.44v1.44h-1.44zM504.87 62.41h1.44v1.44h-1.44zM498.34 51.77h1.44v1.44h-1.44zM494.75 42.21h1.44v1.44h-1.44zM504.35 53.68h1.44v1.44h-1.44zM497.86 43.92h1.44v1.44h-1.44zM495.41 50.15h1.44v1.44h-1.44zM497.85 33.35h1.44v1.44h-1.44zM490.89 59.56h1.44v1.44h-1.44zM496.72 43.41h1.44v1.44h-1.44zM490.87 45.4h1.44v1.44h-1.44zM499.77 40.6h1.44v1.44h-1.44zM499.57 53.55h1.44v1.44h-1.44zM501.59 44.5h1.44v1.44h-1.44zM492.03 49.35h1.44v1.44h-1.44zM506.2 48.69h1.44v1.44h-1.44zM498.86 50.6h1.44v1.44h-1.44zM499.87 49.69h1.44v1.44h-1.44zM493.85 51.09h1.44v1.44h-1.44zM492.67 54.88h1.44v1.44h-1.44zM497.08 60.51h1.44v1.44h-1.44zM505 57.53h1.44v1.44h-1.44zM505.31 61.31h1.44v1.44h-1.44zM495.83 66.34h1.44v1.44h-1.44zM491.6 45.62h1.44v1.44h-1.44zM505.64 55.98h1.44v1.44h-1.44zM494.79 51.95h1.44v1.44h-1.44zM494.77 52.22h1.44v1.44h-1.44zM497.7 37.61h1.44v1.44h-1.44zM498.98 56.39h1.44v1.44h-1.44zM500.76 44.85h1.44v1.44h-1.44zM498.64 64.69h1.44v1.44h-1.44zM501.14 48.76h1.44v1.44h-1.44zM499.94 49.2h1.44v1.44h-1.44zM506.08 47.83h1.44v1.44h-1.44zM495.57 69.04h1.44v1.44h-1.44zM499.2 38.26h1.44v1.44h-1.44zM493.63 45.43h1.44v1.44h-1.44zM493.9 55.26h1.44v1.44h-1.44zM496.3 58.75h1.44v1.44h-1.44zM493.09 64.78h1.44v1.44h-1.44zM502.69 54.88h1.44v1.44h-1.44zM501.23 59.41h1.44v1.44h-1.44zM503.28 59.35h1.44v1.44h-1.44zM501.06 44.23h1.44v1.44h-1.44zM502.16 52.58h1.44v1.44h-1.44zM506.38 56.09h1.44v1.44h-1.44zM503.32 57.07h1.44v1.44h-1.44zM506.52 52.23h1.44v1.44h-1.44zM494.12 44.85h1.44v1.44h-1.44zM502 69.96h1.44v1.44h-1.44zM494.94 42.3h1.44v1.44h-1.44zM501.35 53.8h1.44v1.44h-1.44zM502.59 60.49h1.44v1.44h-1.44zM493.64 49.25h1.44v1.44h-1.44zM494.52 49.12h1.44v1.44h-1.44zM496.9 48.99h1.44v1.44h-1.44zM497.09 52.18h1.44v1.44h-1.44zM504.83 43.97h1.44v1.44h-1.44zM499.76 48.26h1.44v1.44h-1.44zM497.52 60.66h1.44v1.44h-1.44zM493.93 43.48h1.44v1.44h-1.44zM501.56 54.59h1.44v1.44h-1.44zM492.51 52.95h1.44v1.44h-1.44zM501.44 66.84h1.44v1.44h-1.44zM501.97 38.45h1.44v1.44h-1.44zM501.68 60.1h1.44v1.44h-1.44zM505.31 61.78h1.44v1.44h-1.44zM495.14 48.7h1.44v1.44h-1.44zM495.56 40.51h1.44v1.44h-1.44zM504.32 48.5h1.44v1.44h-1.44zM503.76 62.69h1.44v1.44h-1.44zM490.34 57.54h1.44v1.44h-1.44zM499.08 55.88h1.44v1.44h-1.44zM490.93 54.07h1.44v1.44h-1.44zM490.54 59.3h1.44v1.44h-1.44zM490.4 47.51h1.44v1.44h-1.44zM494.89 42.4h1.44v1.44h-1.44zM507.03 54.29h1.44v1.44h-1.44zM492.63 40.82h1.44v1.44h-1.44zM503.68 39.33h1.44v1.44h-1.44zM494.14 41.08h1.44v1.44h-1.44zM495.49 57.99h1.44v1.44h-1.44zM497.25 44.93h1.44v1.44h-1.44zM491.31 59.13h1.44v1.44h-1.44zM491.17 52.32h1.44v1.44h-1.44zM500.65 51.33h1.44v1.44h-1.44zM501.87 50.19h1.44v1.44h-1.44z"/>
<path fill="#8eaed4" d="M494.91 45.7h1v1h-1zM502.36 56.73h1v1h-1zM498.57 60.48h1v1h-1zM505.56 51.37h1v1h-1zM491.52 61.33h1v1h-1zM501.78 55.66h1v1h-1zM502.17 59.48h1v1h-1zM503.45 45.45h1v1h-1zM492.21 50.74h1v1h-1zM493.76 47.76h1v1h-1zM503.56 45.71h1v1h-1zM494.4 62.81h1v1h-1zM501.32 51.26h1v1h-1zM492.91 60.38h1v1h-1zM500.02 62.46h1v1h-1zM500.84 59.2h1v1h-1zM494.84 54.72h1v1h-1zM499.23 47.35h1v1h-1zM491.19 47.35h1v1h-1zM494.24 57.98h1v1h-1zM500.94 48.17h1v1h-1zM500.54 43.01h1v1h-1zM493.97 57.48h1v1h-1zM501.3 58.71h1v1h-1zM493.22 59.56h1v1h-1zM503.04 44.84h1v1h-1zM502.16 41.61h1v1h-1zM503.41 57.51h1v1h-1zM495.75 47.43h1v1h-1zM491.59 50.17h1v1h-1zM492.13 63.9h1v1h-1zM498.92 61.39h1v1h-1zM505.61 43.61h1v1h-1zM498.09 60.26h1v1h-1zM492.61 52.68h1v1h-1zM499.04 56.21h1v1h-1zM502.16 52.13h1v1h-1zM503.11 62.5h1v1h-1zM491.82 55.62h1v1h-1zM498.44 58.91h1v1h-1zM501.4 59.66h1v1h-1zM495.79 53.42h1v1h-1zM502.1 46.23h1v1h-1zM496.65 54.15h1v1h-1zM505.54 42.22h1v1h-1zM500.6 62.53h1v1h-1zM497.99 49.5h1v1h-1zM495.16 64.18h1v1h-1zM506.4 42.81h1v1h-1zM492.76 53.69h1v1h-1zM500.61 57.75h1v1h-1zM491.8 46.71h1v1h-1zM503.03 54.38h1v1h-1zM492.07 55.45h1v1h-1zM492.2 41.49h1v1h-1zM491.52 58.04h1v1h-1zM502.99 61.79h1v1h-1zM492.4 63.37h1v1h-1zM493.32 52.07h1v1h-1zM504.03 60.96h1v1h-1zM493.48 46.36h1v1h-1zM497.51 56.82h1v1h-1zM492.67 59.15h1v1h-1zM506.25 62.23h1v1h-1zM494.85 46.95h1v1h-1zM504.97 42.95h1v1h-1zM498.26 41.67h1v1h-1zM500.36 58.03h1v1h-1zM498.14 47.56h1v1h-1zM502.44 61.92h1v1h-1zM493.8 41.62h1v1h-1zM492.41 45.17h1v1h-1zM496.12 59.03h1v1h-1zM494.78 53.6h1v1h-1zM506.55 61.46h1v1h-1zM504.37 57.23h1v1h-1zM493.46 46.85h1v1h-1zM496.17 60.51h1v1h-1zM497.39 44.97h1v1h-1zM504.51 51.02h1v1h-1z"/>
<path d="M490.7 75.7 Q496.65 74.78 499.2 72.9 Q501.75 74.78 507.7 75.7 Z" fill="#7ea3c8" stroke="#11508e" stroke-width="0.8"/>
<line x1="467.5" y1="30.8" x2="467.5" y2="77.45" stroke="#1e1e1e" stroke-width="1.15"/>
<line x1="466.95" y1="76.9" x2="511" y2="76.9" stroke="#1e1e1e" stroke-width="1.15"/>
<line x1="465" y1="75.4" x2="467.5" y2="75.4" stroke="#1e1e1e" stroke-width="0.9"/>
<text x="461.2" y="77.96" font-size="7.1" text-anchor="end">0</text>
<line x1="465" y1="65.6" x2="467.5" y2="65.6" stroke="#1e1e1e" stroke-width="0.9"/>
<text x="461.2" y="68.16" font-size="7.1" text-anchor="end">1</text>
<line x1="465" y1="55.8" x2="467.5" y2="55.8" stroke="#1e1e1e" stroke-width="0.9"/>
<text x="461.2" y="58.36" font-size="7.1" text-anchor="end">2</text>
<line x1="465" y1="46" x2="467.5" y2="46" stroke="#1e1e1e" stroke-width="0.9"/>
<text x="461.2" y="48.56" font-size="7.1" text-anchor="end">3</text>
<line x1="465" y1="36.2" x2="467.5" y2="36.2" stroke="#1e1e1e" stroke-width="0.9"/>
<text x="461.2" y="38.76" font-size="7.1" text-anchor="end">4</text>
<line x1="478.9" y1="76.9" x2="478.9" y2="78.9" stroke="#1e1e1e" stroke-width="0.9"/>
<text x="478.9" y="86.46" font-size="7.1" text-anchor="middle">3</text>
<line x1="499.2" y1="76.9" x2="499.2" y2="78.9" stroke="#1e1e1e" stroke-width="0.9"/>
<text x="499.2" y="86.46" font-size="7.1" text-anchor="middle">4</text>
<text x="491.5" y="14.39" font-size="7.2" text-anchor="middle" font-style="italic" textLength="20.9" lengthAdjust="spacingAndGlyphs">Tnfsfr4</text>
<text x="489.5" y="26.2" font-size="6.4" text-anchor="middle" textLength="38.3" lengthAdjust="spacingAndGlyphs" fill="#111">p=3.4×10<tspan font-size="4.5" dy="-2.4">−41</tspan></text>
<line x1="478.5" y1="28.2" x2="503" y2="28.2" stroke="#555" stroke-width="1.1"/>
<text x="446.5" y="56.69" font-size="7.9" text-anchor="middle" font-weight="bold" textLength="45.5" lengthAdjust="spacingAndGlyphs" transform="rotate(-90 446.5 53.85)" style="stroke-width:0.05px">Log. norm. expr.</text>
<text x="489.3" y="100.4" font-size="8.9" text-anchor="middle" font-weight="bold" textLength="19.3" lengthAdjust="spacingAndGlyphs" style="stroke-width:0.1px">Cluster</text>
<line x1="331.1" y1="130.78" x2="331.1" y2="174.2" stroke="#454545" stroke-width="0.75"/>
<path fill="#454545" d="M331.71 143.66h1.44v1.44h-1.44zM337 154.41h1.44v1.44h-1.44zM335.76 149.39h1.44v1.44h-1.44zM335.64 156.95h1.44v1.44h-1.44zM328.3 155.81h1.44v1.44h-1.44zM328.15 148.72h1.44v1.44h-1.44zM325.91 157.53h1.44v1.44h-1.44zM337.1 152.89h1.44v1.44h-1.44zM335.94 163.32h1.44v1.44h-1.44zM334.39 150.02h1.44v1.44h-1.44zM335.43 154.62h1.44v1.44h-1.44zM335.3 139.94h1.44v1.44h-1.44zM335.55 156.72h1.44v1.44h-1.44zM328.4 155.36h1.44v1.44h-1.44zM334.94 145.25h1.44v1.44h-1.44zM327.85 149.52h1.44v1.44h-1.44zM335.26 148.88h1.44v1.44h-1.44zM335.51 162.53h1.44v1.44h-1.44zM335.26 144.36h1.44v1.44h-1.44zM333.6 144.88h1.44v1.44h-1.44zM332.5 142.88h1.44v1.44h-1.44zM336.5 156.38h1.44v1.44h-1.44zM331.17 156.9h1.44v1.44h-1.44zM334.73 161.1h1.44v1.44h-1.44zM335.04 153.46h1.44v1.44h-1.44zM327.79 151.94h1.44v1.44h-1.44zM326.32 158.6h1.44v1.44h-1.44zM322.91 150.28h1.44v1.44h-1.44zM335.17 151.6h1.44v1.44h-1.44zM323.21 154.79h1.44v1.44h-1.44zM334.33 152.59h1.44v1.44h-1.44zM328.77 152.76h1.44v1.44h-1.44zM334.87 148h1.44v1.44h-1.44zM332.43 149.56h1.44v1.44h-1.44zM336.89 156.82h1.44v1.44h-1.44zM334.2 152.48h1.44v1.44h-1.44zM331.53 160.37h1.44v1.44h-1.44zM325.79 142.37h1.44v1.44h-1.44zM330.66 161.82h1.44v1.44h-1.44zM336.06 162.17h1.44v1.44h-1.44zM333.12 154.45h1.44v1.44h-1.44zM328.12 153.48h1.44v1.44h-1.44zM337.38 148.95h1.44v1.44h-1.44zM337.24 156.33h1.44v1.44h-1.44zM322.84 158.46h1.44v1.44h-1.44zM333.71 161.24h1.44v1.44h-1.44zM329.24 159.06h1.44v1.44h-1.44zM335.17 148.25h1.44v1.44h-1.44zM334.97 150.63h1.44v1.44h-1.44zM334.37 158.15h1.44v1.44h-1.44zM335.24 151.39h1.44v1.44h-1.44zM338.42 152.44h1.44v1.44h-1.44zM329.65 141.37h1.44v1.44h-1.44zM336.63 162.97h1.44v1.44h-1.44zM325.97 147.88h1.44v1.44h-1.44zM334.2 157.1h1.44v1.44h-1.44zM325.54 149.42h1.44v1.44h-1.44zM332.84 162.81h1.44v1.44h-1.44zM324.53 157.48h1.44v1.44h-1.44zM331.26 163.37h1.44v1.44h-1.44zM337.17 153.95h1.44v1.44h-1.44zM331.2 159.31h1.44v1.44h-1.44zM328.09 154.34h1.44v1.44h-1.44zM322.75 151.05h1.44v1.44h-1.44zM330.42 157.29h1.44v1.44h-1.44zM335.98 143.44h1.44v1.44h-1.44zM330.53 163.83h1.44v1.44h-1.44zM325.22 147.23h1.44v1.44h-1.44zM332.5 158.73h1.44v1.44h-1.44zM332.05 152.81h1.44v1.44h-1.44zM326.76 161.89h1.44v1.44h-1.44zM330.6 156.31h1.44v1.44h-1.44zM329.91 148.17h1.44v1.44h-1.44zM327.73 154.56h1.44v1.44h-1.44zM333.98 154.76h1.44v1.44h-1.44zM326.32 155.21h1.44v1.44h-1.44zM330.64 160.15h1.44v1.44h-1.44zM336.84 151h1.44v1.44h-1.44zM326.11 146.93h1.44v1.44h-1.44zM333.81 164.47h1.44v1.44h-1.44zM333.67 160.71h1.44v1.44h-1.44zM335.98 156.49h1.44v1.44h-1.44zM337.03 160.41h1.44v1.44h-1.44zM329.81 139.74h1.44v1.44h-1.44zM323.92 149.88h1.44v1.44h-1.44zM332.65 144.19h1.44v1.44h-1.44zM324.77 150.03h1.44v1.44h-1.44zM337.2 164.54h1.44v1.44h-1.44zM327.69 152.75h1.44v1.44h-1.44zM325.38 154.63h1.44v1.44h-1.44zM325.06 160.22h1.44v1.44h-1.44zM327.53 163.11h1.44v1.44h-1.44zM325.07 150.12h1.44v1.44h-1.44zM325.29 154.6h1.44v1.44h-1.44zM327.37 152.36h1.44v1.44h-1.44zM330.06 159.48h1.44v1.44h-1.44zM329.38 155.28h1.44v1.44h-1.44zM336.87 147.44h1.44v1.44h-1.44zM329.91 156.48h1.44v1.44h-1.44zM324.59 152.24h1.44v1.44h-1.44zM325.7 146.56h1.44v1.44h-1.44zM336.77 145.71h1.44v1.44h-1.44zM328.85 150.47h1.44v1.44h-1.44zM328.02 159.5h1.44v1.44h-1.44zM333.33 149.49h1.44v1.44h-1.44zM336.31 158.2h1.44v1.44h-1.44zM331.57 152.71h1.44v1.44h-1.44zM332.98 141.97h1.44v1.44h-1.44zM327.97 154.63h1.44v1.44h-1.44zM329.09 165.61h1.44v1.44h-1.44zM331.23 160.37h1.44v1.44h-1.44zM333.05 152.81h1.44v1.44h-1.44zM324.52 156.71h1.44v1.44h-1.44zM334.46 163.98h1.44v1.44h-1.44zM331.59 145.27h1.44v1.44h-1.44zM337.65 157.89h1.44v1.44h-1.44zM331.15 160.71h1.44v1.44h-1.44zM324.17 158.68h1.44v1.44h-1.44zM336.89 152.68h1.44v1.44h-1.44zM327.45 154.67h1.44v1.44h-1.44zM330.04 156.66h1.44v1.44h-1.44zM336.37 161.61h1.44v1.44h-1.44zM327.89 154.99h1.44v1.44h-1.44zM332.64 158.28h1.44v1.44h-1.44zM328.65 161.2h1.44v1.44h-1.44zM332.19 154.28h1.44v1.44h-1.44zM328.24 153.98h1.44v1.44h-1.44zM328.62 160.3h1.44v1.44h-1.44zM330.91 164.92h1.44v1.44h-1.44zM327.57 143.78h1.44v1.44h-1.44zM325.2 161.39h1.44v1.44h-1.44zM332.81 144.22h1.44v1.44h-1.44zM323.37 150.76h1.44v1.44h-1.44zM335.45 154.55h1.44v1.44h-1.44zM323.17 152.21h1.44v1.44h-1.44zM326.59 151.27h1.44v1.44h-1.44zM337.17 156.29h1.44v1.44h-1.44zM336.15 165.93h1.44v1.44h-1.44zM323.9 159.98h1.44v1.44h-1.44zM325.72 148.71h1.44v1.44h-1.44zM334.4 158.44h1.44v1.44h-1.44zM323.88 150.94h1.44v1.44h-1.44zM336.22 160.36h1.44v1.44h-1.44zM338.29 154.96h1.44v1.44h-1.44zM323.99 164.31h1.44v1.44h-1.44zM322.63 151.88h1.44v1.44h-1.44zM333.83 153.96h1.44v1.44h-1.44zM324.83 157.43h1.44v1.44h-1.44zM325.15 157.58h1.44v1.44h-1.44zM337.2 163h1.44v1.44h-1.44zM328.27 161.59h1.44v1.44h-1.44zM328.76 147.98h1.44v1.44h-1.44zM326.29 156.11h1.44v1.44h-1.44zM338.52 153.16h1.44v1.44h-1.44zM332.03 136.88h1.44v1.44h-1.44zM324.65 153.22h1.44v1.44h-1.44zM327.98 151.35h1.44v1.44h-1.44zM330.88 155.35h1.44v1.44h-1.44zM333.34 157.52h1.44v1.44h-1.44zM334.7 148.02h1.44v1.44h-1.44zM331.63 153.63h1.44v1.44h-1.44zM331.99 150.96h1.44v1.44h-1.44zM337.54 158.7h1.44v1.44h-1.44zM335.92 149.34h1.44v1.44h-1.44zM325.13 147.67h1.44v1.44h-1.44zM325.21 159.6h1.44v1.44h-1.44zM323.16 162.88h1.44v1.44h-1.44zM334.89 148.2h1.44v1.44h-1.44zM322.23 153.33h1.44v1.44h-1.44zM334.69 163.11h1.44v1.44h-1.44zM331.37 163.82h1.44v1.44h-1.44zM333.96 149.97h1.44v1.44h-1.44zM336.64 145.83h1.44v1.44h-1.44zM327.77 146.7h1.44v1.44h-1.44zM328.4 159.21h1.44v1.44h-1.44zM335.2 156.9h1.44v1.44h-1.44zM333.39 140.58h1.44v1.44h-1.44zM333 146.17h1.44v1.44h-1.44zM326.62 159.91h1.44v1.44h-1.44zM331.84 144.77h1.44v1.44h-1.44zM330.21 147.87h1.44v1.44h-1.44zM327.54 143.92h1.44v1.44h-1.44zM337.43 152.66h1.44v1.44h-1.44zM334.63 156.48h1.44v1.44h-1.44zM331.48 148.36h1.44v1.44h-1.44zM335.99 145.91h1.44v1.44h-1.44zM337.01 161.29h1.44v1.44h-1.44zM323.73 158.87h1.44v1.44h-1.44zM326.67 154.63h1.44v1.44h-1.44zM324.1 158.28h1.44v1.44h-1.44zM333.93 150.1h1.44v1.44h-1.44zM326.58 160.46h1.44v1.44h-1.44zM323.72 156.37h1.44v1.44h-1.44zM330.3 164.9h1.44v1.44h-1.44zM332.94 155.99h1.44v1.44h-1.44zM326.86 159.8h1.44v1.44h-1.44zM336.18 165.63h1.44v1.44h-1.44zM336.71 144.08h1.44v1.44h-1.44zM334.85 163.08h1.44v1.44h-1.44zM334.53 151.24h1.44v1.44h-1.44zM328.79 151.48h1.44v1.44h-1.44zM324.74 147.86h1.44v1.44h-1.44zM334.47 157.53h1.44v1.44h-1.44zM323.58 148.88h1.44v1.44h-1.44zM337.41 147.08h1.44v1.44h-1.44zM325.62 165.94h1.44v1.44h-1.44zM332.61 158h1.44v1.44h-1.44zM335.46 158.83h1.44v1.44h-1.44zM322.85 151.56h1.44v1.44h-1.44zM336.11 158.03h1.44v1.44h-1.44zM336.91 154.76h1.44v1.44h-1.44zM329.92 147.75h1.44v1.44h-1.44zM333.99 153.53h1.44v1.44h-1.44zM337.55 155.97h1.44v1.44h-1.44zM325.57 161.33h1.44v1.44h-1.44zM324.92 147.02h1.44v1.44h-1.44zM326.08 145.73h1.44v1.44h-1.44zM325.24 161.3h1.44v1.44h-1.44zM337.52 155.17h1.44v1.44h-1.44zM326.27 153.22h1.44v1.44h-1.44zM336.89 151.07h1.44v1.44h-1.44zM332.23 157.66h1.44v1.44h-1.44zM332.01 143.7h1.44v1.44h-1.44zM330.92 157.27h1.44v1.44h-1.44zM324 150.66h1.44v1.44h-1.44zM336.76 160.97h1.44v1.44h-1.44zM334.33 151.65h1.44v1.44h-1.44zM326.75 164.81h1.44v1.44h-1.44zM337.91 152.28h1.44v1.44h-1.44zM333.35 151.6h1.44v1.44h-1.44zM331.27 157.02h1.44v1.44h-1.44zM324.51 158.56h1.44v1.44h-1.44zM329.89 152.85h1.44v1.44h-1.44zM328.32 160.51h1.44v1.44h-1.44zM331.28 154.93h1.44v1.44h-1.44zM324.78 154.49h1.44v1.44h-1.44zM335.75 164.19h1.44v1.44h-1.44zM336.01 142.45h1.44v1.44h-1.44zM337.6 149.46h1.44v1.44h-1.44zM328.66 148.24h1.44v1.44h-1.44zM323.08 160.79h1.44v1.44h-1.44zM325.51 156.89h1.44v1.44h-1.44zM332.46 151.21h1.44v1.44h-1.44zM331.39 151.26h1.44v1.44h-1.44zM328.52 145.38h1.44v1.44h-1.44zM337.67 158.46h1.44v1.44h-1.44zM335.99 160.82h1.44v1.44h-1.44zM332.96 161.5h1.44v1.44h-1.44zM327.31 161.07h1.44v1.44h-1.44zM337.36 148.05h1.44v1.44h-1.44zM323.16 154.5h1.44v1.44h-1.44zM326.42 136.95h1.44v1.44h-1.44zM330.5 159.51h1.44v1.44h-1.44zM324.07 156.67h1.44v1.44h-1.44z"/>
<path d="M321.9 174.5 Q328.34 172.7 331.1 168.2 Q333.86 172.7 340.3 174.5 Z" fill="#d6d6d6" stroke="#454545" stroke-width="0.8"/>
<line x1="351.1" y1="144.35" x2="351.1" y2="174.2" stroke="#2f6aa8" stroke-width="0.75"/>
<path fill="#11508e" d="M353.24 151.96h1.44v1.44h-1.44zM356.07 165.82h1.44v1.44h-1.44zM352.96 146.99h1.44v1.44h-1.44zM341.92 157.7h1.44v1.44h-1.44zM357.23 150.38h1.44v1.44h-1.44zM347.25 155.02h1.44v1.44h-1.44zM348.95 158.02h1.44v1.44h-1.44zM357.22 157.57h1.44v1.44h-1.44zM344.68 167.9h1.44v1.44h-1.44zM346.02 163.94h1.44v1.44h-1.44zM344.25 151.68h1.44v1.44h-1.44zM355.13 145.62h1.44v1.44h-1.44zM350.64 158.73h1.44v1.44h-1.44zM348.78 143.29h1.44v1.44h-1.44zM353.27 150.43h1.44v1.44h-1.44zM343.07 158.64h1.44v1.44h-1.44zM345.37 147.94h1.44v1.44h-1.44zM344.39 157.32h1.44v1.44h-1.44zM348.28 162.58h1.44v1.44h-1.44zM356.89 166.04h1.44v1.44h-1.44zM352.33 147.72h1.44v1.44h-1.44zM344.62 157.58h1.44v1.44h-1.44zM348 158.48h1.44v1.44h-1.44zM355.76 165.69h1.44v1.44h-1.44zM344.57 157.32h1.44v1.44h-1.44zM344.69 153.45h1.44v1.44h-1.44zM346.3 167.55h1.44v1.44h-1.44zM350.42 163.63h1.44v1.44h-1.44zM349.16 164.96h1.44v1.44h-1.44zM351.08 161.12h1.44v1.44h-1.44z"/>
<rect x="341.9" y="173.5" width="18.4" height="1.5" fill="#11508e"/>
<line x1="319.5" y1="129" x2="319.5" y2="176.85" stroke="#1e1e1e" stroke-width="1.15"/>
<line x1="318.95" y1="176.3" x2="362.2" y2="176.3" stroke="#1e1e1e" stroke-width="1.15"/>
<line x1="317" y1="174.2" x2="319.5" y2="174.2" stroke="#1e1e1e" stroke-width="0.9"/>
<text x="313.2" y="176.76" font-size="7.1" text-anchor="end">0</text>
<line x1="317" y1="160.63" x2="319.5" y2="160.63" stroke="#1e1e1e" stroke-width="0.9"/>
<text x="313.2" y="163.19" font-size="7.1" text-anchor="end">1</text>
<line x1="317" y1="147.06" x2="319.5" y2="147.06" stroke="#1e1e1e" stroke-width="0.9"/>
<text x="313.2" y="149.62" font-size="7.1" text-anchor="end">2</text>
<line x1="317" y1="133.49" x2="319.5" y2="133.49" stroke="#1e1e1e" stroke-width="0.9"/>
<text x="313.2" y="136.05" font-size="7.1" text-anchor="end">3</text>
<line x1="331.1" y1="176.3" x2="331.1" y2="178.3" stroke="#1e1e1e" stroke-width="0.9"/>
<text x="331.1" y="185.86" font-size="7.1" text-anchor="middle">3</text>
<line x1="351.1" y1="176.3" x2="351.1" y2="178.3" stroke="#1e1e1e" stroke-width="0.9"/>
<text x="351.1" y="185.86" font-size="7.1" text-anchor="middle">4</text>
<text x="342" y="113.89" font-size="7.2" text-anchor="middle" font-style="italic" textLength="21.6" lengthAdjust="spacingAndGlyphs">Cd160</text>
<text x="343.7" y="123.9" font-size="6.4" text-anchor="middle" textLength="38.5" lengthAdjust="spacingAndGlyphs" fill="#111">p=1.8×10<tspan font-size="4.5" dy="-2.4">−27</tspan></text>
<line x1="331.1" y1="126.2" x2="354.7" y2="126.2" stroke="#555" stroke-width="1.1"/>
<text x="299.1" y="155.49" font-size="7.9" text-anchor="middle" font-weight="bold" textLength="45.5" lengthAdjust="spacingAndGlyphs" transform="rotate(-90 299.1 152.65)" style="stroke-width:0.05px">Log. norm. expr.</text>
<text x="341" y="197.8" font-size="8.9" text-anchor="middle" font-weight="bold" textLength="19" lengthAdjust="spacingAndGlyphs" style="stroke-width:0.1px">Cluster</text>
<line x1="406.8" y1="130.15" x2="406.8" y2="173.4" stroke="#454545" stroke-width="0.75"/>
<ellipse cx="406.8" cy="155.47" rx="8.3" ry="13.72" fill="#525252"/>
<path fill="#454545" d="M404.79 150.78h1.44v1.44h-1.44zM401.55 153.41h1.44v1.44h-1.44zM411.65 153.42h1.44v1.44h-1.44zM402.21 159.97h1.44v1.44h-1.44zM404.54 145.66h1.44v1.44h-1.44zM403.51 148.41h1.44v1.44h-1.44zM409 153.12h1.44v1.44h-1.44zM411.16 159.65h1.44v1.44h-1.44zM411.37 163.23h1.44v1.44h-1.44zM407.82 150.76h1.44v1.44h-1.44zM398.94 152.34h1.44v1.44h-1.44zM403.27 150.78h1.44v1.44h-1.44zM405.18 143.33h1.44v1.44h-1.44zM403.24 147.22h1.44v1.44h-1.44zM401.72 155.2h1.44v1.44h-1.44zM403.23 149.63h1.44v1.44h-1.44zM412.31 147.74h1.44v1.44h-1.44zM400.45 156.12h1.44v1.44h-1.44zM400.05 162.29h1.44v1.44h-1.44zM407.65 141.93h1.44v1.44h-1.44zM402.33 142.3h1.44v1.44h-1.44zM406.2 155.76h1.44v1.44h-1.44zM403.29 155.76h1.44v1.44h-1.44zM408.5 142.57h1.44v1.44h-1.44zM406.22 145.35h1.44v1.44h-1.44zM405.08 147.51h1.44v1.44h-1.44zM407.9 142.76h1.44v1.44h-1.44zM402.32 138.4h1.44v1.44h-1.44zM402.7 143.79h1.44v1.44h-1.44zM399.48 158.2h1.44v1.44h-1.44zM409.18 150.34h1.44v1.44h-1.44zM402.8 146.07h1.44v1.44h-1.44zM409.01 153.98h1.44v1.44h-1.44zM409.3 152.23h1.44v1.44h-1.44zM405.15 145.27h1.44v1.44h-1.44zM406.81 151.89h1.44v1.44h-1.44zM414.31 151.01h1.44v1.44h-1.44zM406.12 150.3h1.44v1.44h-1.44zM405.88 155.56h1.44v1.44h-1.44zM406.01 149.36h1.44v1.44h-1.44zM409.34 141.89h1.44v1.44h-1.44zM411.01 158.81h1.44v1.44h-1.44zM405.95 134.7h1.44v1.44h-1.44zM400.46 147.57h1.44v1.44h-1.44zM408.7 146.16h1.44v1.44h-1.44zM413.91 157.28h1.44v1.44h-1.44zM400.76 164.18h1.44v1.44h-1.44zM399.67 156.97h1.44v1.44h-1.44zM407.5 154.92h1.44v1.44h-1.44zM409.83 151.17h1.44v1.44h-1.44zM404.2 161.21h1.44v1.44h-1.44zM408.54 143.06h1.44v1.44h-1.44zM405.07 157.62h1.44v1.44h-1.44zM404.75 130.68h1.44v1.44h-1.44zM410.06 142.29h1.44v1.44h-1.44zM408.02 146.31h1.44v1.44h-1.44zM408.78 144.1h1.44v1.44h-1.44zM402.81 139.51h1.44v1.44h-1.44zM399.74 162.9h1.44v1.44h-1.44zM400 145.1h1.44v1.44h-1.44zM411.91 164.11h1.44v1.44h-1.44zM404.46 140.01h1.44v1.44h-1.44zM409.72 141.23h1.44v1.44h-1.44zM407.29 161.72h1.44v1.44h-1.44zM410.76 141.78h1.44v1.44h-1.44zM407.19 156.01h1.44v1.44h-1.44zM405.8 150.33h1.44v1.44h-1.44zM404.06 144.05h1.44v1.44h-1.44zM407.35 160.77h1.44v1.44h-1.44zM402.1 146.5h1.44v1.44h-1.44zM406.15 155.4h1.44v1.44h-1.44zM405.08 143.86h1.44v1.44h-1.44zM406.61 156.47h1.44v1.44h-1.44zM402.5 158.33h1.44v1.44h-1.44zM410.87 152.04h1.44v1.44h-1.44zM406.24 166.75h1.44v1.44h-1.44zM406.27 153.56h1.44v1.44h-1.44zM405.49 134.45h1.44v1.44h-1.44zM409.61 155.84h1.44v1.44h-1.44zM410.39 145.41h1.44v1.44h-1.44zM403.5 167.29h1.44v1.44h-1.44zM405.26 152.2h1.44v1.44h-1.44zM403.83 158.22h1.44v1.44h-1.44zM410 148.07h1.44v1.44h-1.44zM401.51 154.29h1.44v1.44h-1.44zM410.44 159.41h1.44v1.44h-1.44zM408.02 160.84h1.44v1.44h-1.44zM408.35 164.15h1.44v1.44h-1.44zM403.68 154.12h1.44v1.44h-1.44zM398.28 150.73h1.44v1.44h-1.44zM408.14 143.69h1.44v1.44h-1.44zM413.94 156.13h1.44v1.44h-1.44zM403.32 151.65h1.44v1.44h-1.44zM400.08 159.43h1.44v1.44h-1.44zM405.88 149.79h1.44v1.44h-1.44zM404.86 166.92h1.44v1.44h-1.44zM409.71 154.9h1.44v1.44h-1.44zM410.98 144.01h1.44v1.44h-1.44zM405.34 143.81h1.44v1.44h-1.44zM405.39 167.49h1.44v1.44h-1.44zM401.97 162.63h1.44v1.44h-1.44zM404.83 132.69h1.44v1.44h-1.44zM411.86 157.37h1.44v1.44h-1.44zM405.23 134.98h1.44v1.44h-1.44zM405.24 143.1h1.44v1.44h-1.44zM404.12 148.54h1.44v1.44h-1.44zM402.65 140.11h1.44v1.44h-1.44zM404.63 146.25h1.44v1.44h-1.44zM407.57 158.9h1.44v1.44h-1.44zM404.19 153.75h1.44v1.44h-1.44zM404.02 151.98h1.44v1.44h-1.44zM409.65 145.57h1.44v1.44h-1.44zM403.21 153.12h1.44v1.44h-1.44zM401.18 158.75h1.44v1.44h-1.44zM400.55 164.37h1.44v1.44h-1.44zM402.87 159h1.44v1.44h-1.44zM402.53 164h1.44v1.44h-1.44zM403.16 142.33h1.44v1.44h-1.44zM403.84 163.15h1.44v1.44h-1.44zM398.96 159.37h1.44v1.44h-1.44zM407.65 159.22h1.44v1.44h-1.44zM406.19 142.89h1.44v1.44h-1.44zM403.03 149.49h1.44v1.44h-1.44zM404.72 149.63h1.44v1.44h-1.44zM402.06 165.57h1.44v1.44h-1.44zM410.37 139.9h1.44v1.44h-1.44zM401.69 152.69h1.44v1.44h-1.44zM406.65 137.09h1.44v1.44h-1.44zM411.13 155.37h1.44v1.44h-1.44zM411.37 152.05h1.44v1.44h-1.44zM405.73 155.45h1.44v1.44h-1.44zM410.09 139.19h1.44v1.44h-1.44zM402.29 145.91h1.44v1.44h-1.44zM408.17 150.92h1.44v1.44h-1.44zM406.89 150.86h1.44v1.44h-1.44zM401.8 165.18h1.44v1.44h-1.44zM403.14 143.84h1.44v1.44h-1.44zM414.56 153.54h1.44v1.44h-1.44zM400.82 162.78h1.44v1.44h-1.44zM398.43 159.36h1.44v1.44h-1.44zM399.14 152.31h1.44v1.44h-1.44zM405.09 146.88h1.44v1.44h-1.44zM406.21 149.31h1.44v1.44h-1.44zM406.35 156.9h1.44v1.44h-1.44zM410.77 140.96h1.44v1.44h-1.44zM405.98 148.79h1.44v1.44h-1.44zM404.4 144.87h1.44v1.44h-1.44zM412.27 149.97h1.44v1.44h-1.44zM403.8 158.12h1.44v1.44h-1.44zM407.04 159.65h1.44v1.44h-1.44zM403.47 143.67h1.44v1.44h-1.44zM405.37 135.55h1.44v1.44h-1.44zM401.62 143.04h1.44v1.44h-1.44zM403.44 159.45h1.44v1.44h-1.44zM403.81 162.35h1.44v1.44h-1.44zM404.75 149.38h1.44v1.44h-1.44zM412.9 160.04h1.44v1.44h-1.44zM400.85 159.18h1.44v1.44h-1.44zM408.48 147.12h1.44v1.44h-1.44zM404.58 158.37h1.44v1.44h-1.44zM402.39 161.58h1.44v1.44h-1.44zM411.68 151.37h1.44v1.44h-1.44zM404.47 162.73h1.44v1.44h-1.44zM401.26 153.9h1.44v1.44h-1.44zM413.89 155.72h1.44v1.44h-1.44zM406.03 158.92h1.44v1.44h-1.44zM405.78 165.23h1.44v1.44h-1.44zM408.55 152.01h1.44v1.44h-1.44zM409.14 148.77h1.44v1.44h-1.44zM399.83 154.35h1.44v1.44h-1.44zM407.24 141.57h1.44v1.44h-1.44zM403.13 148.93h1.44v1.44h-1.44zM406.74 144.81h1.44v1.44h-1.44zM407.81 147.23h1.44v1.44h-1.44zM400.85 146.45h1.44v1.44h-1.44zM406.82 158.27h1.44v1.44h-1.44zM407.3 141.83h1.44v1.44h-1.44zM401.37 151.64h1.44v1.44h-1.44zM405.42 164.48h1.44v1.44h-1.44zM410.03 148.42h1.44v1.44h-1.44zM404.38 163.25h1.44v1.44h-1.44zM410.72 146.59h1.44v1.44h-1.44zM407.97 155.99h1.44v1.44h-1.44zM398.35 156.97h1.44v1.44h-1.44zM406.96 133.03h1.44v1.44h-1.44zM403.09 162.8h1.44v1.44h-1.44zM411.55 150.71h1.44v1.44h-1.44zM406.41 158.03h1.44v1.44h-1.44zM405.73 136.03h1.44v1.44h-1.44zM411.7 151.94h1.44v1.44h-1.44zM411.99 157.61h1.44v1.44h-1.44zM402.39 163.33h1.44v1.44h-1.44zM398.95 147.52h1.44v1.44h-1.44zM403.47 158.26h1.44v1.44h-1.44zM408.15 150.7h1.44v1.44h-1.44zM399.6 152.37h1.44v1.44h-1.44zM402.46 149.92h1.44v1.44h-1.44zM412.47 147.77h1.44v1.44h-1.44zM410.26 139.56h1.44v1.44h-1.44zM405.33 163.24h1.44v1.44h-1.44zM413.32 151.74h1.44v1.44h-1.44zM410.67 160.26h1.44v1.44h-1.44zM399.06 154.37h1.44v1.44h-1.44zM412.52 159.72h1.44v1.44h-1.44zM410.15 164.69h1.44v1.44h-1.44zM400.24 157.43h1.44v1.44h-1.44zM410.85 156.64h1.44v1.44h-1.44zM405.51 162.64h1.44v1.44h-1.44zM402.9 146.75h1.44v1.44h-1.44zM407.12 133.74h1.44v1.44h-1.44zM409.32 150.58h1.44v1.44h-1.44zM404.48 159.25h1.44v1.44h-1.44zM413.86 152.73h1.44v1.44h-1.44zM404.07 147.86h1.44v1.44h-1.44zM400.32 163.63h1.44v1.44h-1.44zM410.44 154.31h1.44v1.44h-1.44zM403.62 154.22h1.44v1.44h-1.44zM410.02 151.74h1.44v1.44h-1.44zM408.3 146.14h1.44v1.44h-1.44zM401.48 162.24h1.44v1.44h-1.44zM412.5 147.96h1.44v1.44h-1.44zM409.58 163.57h1.44v1.44h-1.44zM400.94 151.92h1.44v1.44h-1.44zM411.42 155.05h1.44v1.44h-1.44zM400.43 161.45h1.44v1.44h-1.44zM405.78 155.64h1.44v1.44h-1.44zM404.78 141.86h1.44v1.44h-1.44zM405.1 158.9h1.44v1.44h-1.44zM397.75 156.5h1.44v1.44h-1.44zM411.69 151.75h1.44v1.44h-1.44zM406.87 159.85h1.44v1.44h-1.44zM401.39 163.2h1.44v1.44h-1.44zM410.09 160.74h1.44v1.44h-1.44zM410.68 158.08h1.44v1.44h-1.44zM407.29 137.45h1.44v1.44h-1.44zM408.93 150.09h1.44v1.44h-1.44zM412.2 161.98h1.44v1.44h-1.44zM404.58 152.24h1.44v1.44h-1.44zM406.24 150.08h1.44v1.44h-1.44zM412.11 150.16h1.44v1.44h-1.44zM404.3 148.88h1.44v1.44h-1.44zM407.37 150.51h1.44v1.44h-1.44zM401.09 149.37h1.44v1.44h-1.44zM405.37 164.05h1.44v1.44h-1.44zM406.14 152.05h1.44v1.44h-1.44zM413.46 152.89h1.44v1.44h-1.44zM400.94 155.02h1.44v1.44h-1.44zM406.68 139.69h1.44v1.44h-1.44zM406.71 150.25h1.44v1.44h-1.44zM402.85 150.72h1.44v1.44h-1.44zM407.96 139.28h1.44v1.44h-1.44zM408.61 152.19h1.44v1.44h-1.44zM404.63 142.78h1.44v1.44h-1.44z"/>
<path fill="#b8b8b8" d="M406.06 165.06h1v1h-1zM408.02 150.53h1v1h-1zM402.14 153.79h1v1h-1zM409.1 164.22h1v1h-1zM410.37 146.37h1v1h-1zM400.91 160.8h1v1h-1zM401.31 160.71h1v1h-1zM401.34 155.21h1v1h-1zM403.3 159.6h1v1h-1zM405.84 157.95h1v1h-1zM409.76 149.8h1v1h-1zM401.67 161.38h1v1h-1zM400.4 158.93h1v1h-1zM401.6 150.39h1v1h-1zM409.66 143.46h1v1h-1zM402.81 165.72h1v1h-1zM409.38 157.01h1v1h-1zM411.47 157.46h1v1h-1zM404.05 164.88h1v1h-1zM411.67 154.68h1v1h-1zM405.59 156.43h1v1h-1zM409.52 147.29h1v1h-1zM406.01 162.43h1v1h-1zM405.18 145.88h1v1h-1zM405.19 151.23h1v1h-1zM407.02 155.86h1v1h-1zM407.2 160.88h1v1h-1zM406.99 146.5h1v1h-1zM401.26 158.01h1v1h-1zM410.87 143.86h1v1h-1zM400.46 152.02h1v1h-1zM407.88 147h1v1h-1zM405.94 163.53h1v1h-1zM403.9 150.03h1v1h-1zM409.04 161.82h1v1h-1zM408.01 151.33h1v1h-1zM408.19 166.06h1v1h-1zM405.6 159.03h1v1h-1zM407.47 158.75h1v1h-1zM401.84 151.01h1v1h-1zM403.74 148.22h1v1h-1zM403.97 153.9h1v1h-1zM410 163.89h1v1h-1zM409.07 164.99h1v1h-1zM411.54 165.99h1v1h-1zM408.99 158.01h1v1h-1zM402.46 157.4h1v1h-1zM406.32 156.94h1v1h-1zM401.77 154.44h1v1h-1zM403.9 144.12h1v1h-1zM404.9 156.47h1v1h-1zM403.04 144.08h1v1h-1zM404.16 151.57h1v1h-1zM410.29 157.44h1v1h-1zM409.36 160.1h1v1h-1zM401.61 165.59h1v1h-1zM405.69 146.29h1v1h-1zM402.74 156.35h1v1h-1zM409.45 160.16h1v1h-1zM402.13 154.52h1v1h-1z"/>
<path d="M397.5 173.7 Q404.01 172.2 406.8 168.6 Q409.59 172.2 416.1 173.7 Z" fill="#d6d6d6" stroke="#454545" stroke-width="0.8"/>
<line x1="426.7" y1="148.08" x2="426.7" y2="173.4" stroke="#2f6aa8" stroke-width="0.75"/>
<path fill="#11508e" d="M432.26 154.88h1.44v1.44h-1.44zM424.54 160.52h1.44v1.44h-1.44zM418.89 153.65h1.44v1.44h-1.44zM422.73 156.65h1.44v1.44h-1.44zM419.42 168.9h1.44v1.44h-1.44zM432.92 165.78h1.44v1.44h-1.44zM429.58 157.27h1.44v1.44h-1.44zM417.89 157.96h1.44v1.44h-1.44zM425.53 163.22h1.44v1.44h-1.44zM417.74 158.95h1.44v1.44h-1.44zM418.87 158.68h1.44v1.44h-1.44zM419.11 157.73h1.44v1.44h-1.44zM419.81 158.68h1.44v1.44h-1.44zM430.99 154.49h1.44v1.44h-1.44zM421.67 164.91h1.44v1.44h-1.44zM431.76 158.87h1.44v1.44h-1.44zM420.23 151.93h1.44v1.44h-1.44zM433.5 158.3h1.44v1.44h-1.44zM431.66 167.64h1.44v1.44h-1.44zM419.38 156.81h1.44v1.44h-1.44zM427.28 152.86h1.44v1.44h-1.44zM429.68 157.58h1.44v1.44h-1.44zM420.61 162.26h1.44v1.44h-1.44zM425 154.38h1.44v1.44h-1.44zM422.54 162.6h1.44v1.44h-1.44zM422.57 153.52h1.44v1.44h-1.44zM431.13 162.61h1.44v1.44h-1.44zM425.91 162.99h1.44v1.44h-1.44zM426.13 160.7h1.44v1.44h-1.44zM426.05 158.23h1.44v1.44h-1.44zM424.47 162.14h1.44v1.44h-1.44zM432.29 166.59h1.44v1.44h-1.44zM432.64 163.51h1.44v1.44h-1.44zM423.26 147.2h1.44v1.44h-1.44zM431.38 161.93h1.44v1.44h-1.44zM434.37 164.06h1.44v1.44h-1.44zM428.48 163.61h1.44v1.44h-1.44zM418.87 158.36h1.44v1.44h-1.44zM431.6 167.97h1.44v1.44h-1.44zM427.96 159.05h1.44v1.44h-1.44zM420.9 157.07h1.44v1.44h-1.44zM420.16 170h1.44v1.44h-1.44zM428.72 158.94h1.44v1.44h-1.44zM428.4 155.85h1.44v1.44h-1.44zM429.09 157.05h1.44v1.44h-1.44zM433.66 157.43h1.44v1.44h-1.44zM424.11 160.06h1.44v1.44h-1.44zM429.17 166.08h1.44v1.44h-1.44zM430.06 158.52h1.44v1.44h-1.44zM427.14 164.53h1.44v1.44h-1.44zM426.23 165.84h1.44v1.44h-1.44zM433.47 155.68h1.44v1.44h-1.44zM429.23 147.96h1.44v1.44h-1.44zM431.29 154.59h1.44v1.44h-1.44zM421.52 161.38h1.44v1.44h-1.44zM433.52 161.5h1.44v1.44h-1.44zM430.73 170.26h1.44v1.44h-1.44zM430.8 157.75h1.44v1.44h-1.44zM425.56 164.22h1.44v1.44h-1.44zM431.07 163.2h1.44v1.44h-1.44zM431.54 155.94h1.44v1.44h-1.44zM420.6 156.24h1.44v1.44h-1.44zM420.7 168.23h1.44v1.44h-1.44zM423.25 164.72h1.44v1.44h-1.44zM419.18 162.73h1.44v1.44h-1.44zM421.5 155.88h1.44v1.44h-1.44zM431.24 153.46h1.44v1.44h-1.44zM422.8 166.45h1.44v1.44h-1.44zM422.77 151.16h1.44v1.44h-1.44zM424.87 161.79h1.44v1.44h-1.44zM423.92 160.52h1.44v1.44h-1.44zM424.38 149.57h1.44v1.44h-1.44zM417.4 160.16h1.44v1.44h-1.44zM421.88 157.03h1.44v1.44h-1.44zM417.82 162.1h1.44v1.44h-1.44zM427.23 153.68h1.44v1.44h-1.44zM426.05 155.73h1.44v1.44h-1.44z"/>
<rect x="417.7" y="172.7" width="18" height="1.5" fill="#11508e"/>
<line x1="394.9" y1="129.5" x2="394.9" y2="176.05" stroke="#1e1e1e" stroke-width="1.15"/>
<line x1="394.35" y1="175.5" x2="437.5" y2="175.5" stroke="#1e1e1e" stroke-width="1.15"/>
<line x1="392.4" y1="173.4" x2="394.9" y2="173.4" stroke="#1e1e1e" stroke-width="0.9"/>
<text x="388.6" y="175.96" font-size="7.1" text-anchor="end">0</text>
<line x1="392.4" y1="162.85" x2="394.9" y2="162.85" stroke="#1e1e1e" stroke-width="0.9"/>
<text x="388.6" y="165.41" font-size="7.1" text-anchor="end">1</text>
<line x1="392.4" y1="152.3" x2="394.9" y2="152.3" stroke="#1e1e1e" stroke-width="0.9"/>
<text x="388.6" y="154.86" font-size="7.1" text-anchor="end">2</text>
<line x1="392.4" y1="141.75" x2="394.9" y2="141.75" stroke="#1e1e1e" stroke-width="0.9"/>
<text x="388.6" y="144.31" font-size="7.1" text-anchor="end">3</text>
<line x1="392.4" y1="131.2" x2="394.9" y2="131.2" stroke="#1e1e1e" stroke-width="0.9"/>
<text x="388.6" y="133.76" font-size="7.1" text-anchor="end">4</text>
<line x1="406.8" y1="175.5" x2="406.8" y2="177.5" stroke="#1e1e1e" stroke-width="0.9"/>
<text x="406.8" y="185.06" font-size="7.1" text-anchor="middle">3</text>
<line x1="426.7" y1="175.5" x2="426.7" y2="177.5" stroke="#1e1e1e" stroke-width="0.9"/>
<text x="426.7" y="185.06" font-size="7.1" text-anchor="middle">4</text>
<text x="415.2" y="114.09" font-size="7.2" text-anchor="middle" font-style="italic" textLength="14.2" lengthAdjust="spacingAndGlyphs">Lag3</text>
<text x="414.8" y="123.9" font-size="6.4" text-anchor="middle" textLength="38.2" lengthAdjust="spacingAndGlyphs" fill="#111">p=9.2×10<tspan font-size="4.5" dy="-2.4">−51</tspan></text>
<line x1="403.2" y1="126.6" x2="427.7" y2="126.6" stroke="#555" stroke-width="1.1"/>
<text x="374.1" y="155.34" font-size="7.9" text-anchor="middle" font-weight="bold" textLength="45.5" lengthAdjust="spacingAndGlyphs" transform="rotate(-90 374.1 152.5)" style="stroke-width:0.05px">Log. norm. expr.</text>
<text x="416.8" y="198.1" font-size="8.9" text-anchor="middle" font-weight="bold" textLength="19" lengthAdjust="spacingAndGlyphs" style="stroke-width:0.1px">Cluster</text>
<line x1="481.8" y1="132.25" x2="481.8" y2="173.4" stroke="#454545" stroke-width="0.75"/>
<rect x="473.6" y="132.25" width="16.4" height="34.29" fill="#525252" rx="4.92"/>
<path fill="#454545" d="M489.17 149.28h1.44v1.44h-1.44zM478.96 141.67h1.44v1.44h-1.44zM474.63 150.78h1.44v1.44h-1.44zM484.71 148.34h1.44v1.44h-1.44zM486.4 151.07h1.44v1.44h-1.44zM486.41 153.5h1.44v1.44h-1.44zM475.54 160.77h1.44v1.44h-1.44zM479.4 156.7h1.44v1.44h-1.44zM475.78 151.32h1.44v1.44h-1.44zM485.86 152.68h1.44v1.44h-1.44zM483.12 161.44h1.44v1.44h-1.44zM486.01 161.98h1.44v1.44h-1.44zM488.2 157.17h1.44v1.44h-1.44zM478.88 152.91h1.44v1.44h-1.44zM484.54 142.62h1.44v1.44h-1.44zM488.39 144.35h1.44v1.44h-1.44zM488.3 158h1.44v1.44h-1.44zM485.54 160.57h1.44v1.44h-1.44zM485.31 159.42h1.44v1.44h-1.44zM477.97 145.92h1.44v1.44h-1.44zM486.1 139.29h1.44v1.44h-1.44zM476.92 141.07h1.44v1.44h-1.44zM474.91 157.59h1.44v1.44h-1.44zM478.31 142.19h1.44v1.44h-1.44zM488.52 141.13h1.44v1.44h-1.44zM485.83 139.16h1.44v1.44h-1.44zM483.35 149.68h1.44v1.44h-1.44zM475.89 137.73h1.44v1.44h-1.44zM473.17 140.21h1.44v1.44h-1.44zM480.75 144.68h1.44v1.44h-1.44zM479.72 137.09h1.44v1.44h-1.44zM482.49 139.78h1.44v1.44h-1.44zM477 162.85h1.44v1.44h-1.44zM479.29 153.2h1.44v1.44h-1.44zM483.44 139.08h1.44v1.44h-1.44zM482.85 157.85h1.44v1.44h-1.44zM489.62 149.75h1.44v1.44h-1.44zM472.72 146.95h1.44v1.44h-1.44zM474.35 141.26h1.44v1.44h-1.44zM486.59 140.11h1.44v1.44h-1.44zM484.46 146.07h1.44v1.44h-1.44zM482.32 131.79h1.44v1.44h-1.44zM482.45 153.29h1.44v1.44h-1.44zM477.17 140.16h1.44v1.44h-1.44zM483.16 148.74h1.44v1.44h-1.44zM479.08 138.59h1.44v1.44h-1.44zM480.94 144.72h1.44v1.44h-1.44zM485.03 153.11h1.44v1.44h-1.44zM486.23 146.98h1.44v1.44h-1.44zM482.77 153.31h1.44v1.44h-1.44zM487.44 152.2h1.44v1.44h-1.44zM474.3 133.52h1.44v1.44h-1.44zM487.58 150.82h1.44v1.44h-1.44zM488.24 153.36h1.44v1.44h-1.44zM486.56 156.05h1.44v1.44h-1.44zM482.38 143.81h1.44v1.44h-1.44zM479.02 153.85h1.44v1.44h-1.44zM483.06 154.05h1.44v1.44h-1.44zM478.54 134.07h1.44v1.44h-1.44zM482.21 155.29h1.44v1.44h-1.44zM489.04 138.97h1.44v1.44h-1.44zM473.16 155.81h1.44v1.44h-1.44zM484.7 161.13h1.44v1.44h-1.44zM489.1 146.47h1.44v1.44h-1.44zM483.31 157.21h1.44v1.44h-1.44zM481.64 157.04h1.44v1.44h-1.44zM472.91 155.9h1.44v1.44h-1.44zM473.79 157.78h1.44v1.44h-1.44zM485.29 131.92h1.44v1.44h-1.44zM485.75 136h1.44v1.44h-1.44zM476.59 146.82h1.44v1.44h-1.44zM484.55 154.47h1.44v1.44h-1.44zM481.57 144.85h1.44v1.44h-1.44zM482.54 156.11h1.44v1.44h-1.44zM488.78 154.66h1.44v1.44h-1.44zM476.78 145.21h1.44v1.44h-1.44zM478.56 158.8h1.44v1.44h-1.44zM486.3 150.41h1.44v1.44h-1.44zM485.71 143.96h1.44v1.44h-1.44zM488.1 138.65h1.44v1.44h-1.44zM480.96 141.98h1.44v1.44h-1.44zM488.58 148.59h1.44v1.44h-1.44zM479.4 140.02h1.44v1.44h-1.44zM481.8 133.91h1.44v1.44h-1.44zM478.16 146.36h1.44v1.44h-1.44zM475.17 150.98h1.44v1.44h-1.44zM484.48 144.08h1.44v1.44h-1.44zM482.44 143.45h1.44v1.44h-1.44zM481.2 137.16h1.44v1.44h-1.44zM475.4 137.64h1.44v1.44h-1.44zM476.36 141.93h1.44v1.44h-1.44zM487.65 165.38h1.44v1.44h-1.44zM472.53 146.93h1.44v1.44h-1.44zM487.26 155.83h1.44v1.44h-1.44zM485.65 147.49h1.44v1.44h-1.44zM485.74 153.29h1.44v1.44h-1.44zM488.78 161.45h1.44v1.44h-1.44zM478.4 162.84h1.44v1.44h-1.44zM478.07 138.71h1.44v1.44h-1.44zM486.97 155.32h1.44v1.44h-1.44zM482.12 162.65h1.44v1.44h-1.44zM481.82 150.63h1.44v1.44h-1.44zM474.98 142.33h1.44v1.44h-1.44zM477.02 136.82h1.44v1.44h-1.44zM484.06 164.85h1.44v1.44h-1.44zM485.86 151.72h1.44v1.44h-1.44zM485.61 153.76h1.44v1.44h-1.44zM477.33 150.97h1.44v1.44h-1.44zM485.71 145.42h1.44v1.44h-1.44zM476.1 166.54h1.44v1.44h-1.44zM474.36 145.85h1.44v1.44h-1.44zM475.67 160.86h1.44v1.44h-1.44zM474.7 133.58h1.44v1.44h-1.44zM483.97 149.4h1.44v1.44h-1.44zM473.98 153.62h1.44v1.44h-1.44zM487.51 149.19h1.44v1.44h-1.44zM479.68 135.46h1.44v1.44h-1.44zM478.35 151.74h1.44v1.44h-1.44zM476.64 148.73h1.44v1.44h-1.44zM485.94 145.85h1.44v1.44h-1.44zM481.56 164.06h1.44v1.44h-1.44zM479.11 151.02h1.44v1.44h-1.44zM477.56 154.17h1.44v1.44h-1.44zM476.19 152.6h1.44v1.44h-1.44zM478.44 134.22h1.44v1.44h-1.44zM483.44 153.31h1.44v1.44h-1.44zM480.8 130.89h1.44v1.44h-1.44zM487.68 165.08h1.44v1.44h-1.44zM480.31 134.79h1.44v1.44h-1.44zM477.53 166.74h1.44v1.44h-1.44zM477.06 157.18h1.44v1.44h-1.44zM485.5 140.53h1.44v1.44h-1.44zM475.32 142.7h1.44v1.44h-1.44zM480.78 137.52h1.44v1.44h-1.44zM487.18 162.89h1.44v1.44h-1.44zM479.12 137.24h1.44v1.44h-1.44zM485.01 139.83h1.44v1.44h-1.44zM488.01 140.01h1.44v1.44h-1.44zM481.33 153.83h1.44v1.44h-1.44zM477.52 156.35h1.44v1.44h-1.44zM487.78 159.53h1.44v1.44h-1.44zM488.01 145.92h1.44v1.44h-1.44zM488.66 139.78h1.44v1.44h-1.44zM474.95 154.3h1.44v1.44h-1.44zM487 137.53h1.44v1.44h-1.44zM479.62 155.93h1.44v1.44h-1.44zM487.05 147.34h1.44v1.44h-1.44zM486.58 149.59h1.44v1.44h-1.44zM476.57 162.02h1.44v1.44h-1.44zM485.05 136.8h1.44v1.44h-1.44zM476.12 159.05h1.44v1.44h-1.44zM486.23 147.55h1.44v1.44h-1.44zM489.3 149.96h1.44v1.44h-1.44zM476.33 153.54h1.44v1.44h-1.44zM482.36 156.43h1.44v1.44h-1.44zM487.62 142.53h1.44v1.44h-1.44zM478.96 136.81h1.44v1.44h-1.44zM474.4 154.01h1.44v1.44h-1.44zM482.43 139.04h1.44v1.44h-1.44zM480.18 144.66h1.44v1.44h-1.44zM478.65 139.72h1.44v1.44h-1.44zM479.67 150.55h1.44v1.44h-1.44zM482.55 138.86h1.44v1.44h-1.44zM477 159.11h1.44v1.44h-1.44zM477.92 152.12h1.44v1.44h-1.44zM488.85 159.79h1.44v1.44h-1.44zM482.16 149.05h1.44v1.44h-1.44zM475.22 148.63h1.44v1.44h-1.44zM478.44 146.43h1.44v1.44h-1.44zM476.59 145.43h1.44v1.44h-1.44zM481.72 147.53h1.44v1.44h-1.44zM481.62 159.54h1.44v1.44h-1.44zM483.94 146.08h1.44v1.44h-1.44zM484.33 148.54h1.44v1.44h-1.44zM485.89 165.02h1.44v1.44h-1.44zM478.05 134.93h1.44v1.44h-1.44zM483.56 138.47h1.44v1.44h-1.44zM476.4 144.55h1.44v1.44h-1.44zM473.55 138.91h1.44v1.44h-1.44zM485.13 146.49h1.44v1.44h-1.44zM480.16 154.88h1.44v1.44h-1.44zM476.56 154.92h1.44v1.44h-1.44zM486.49 147.12h1.44v1.44h-1.44zM480.29 143.94h1.44v1.44h-1.44zM486.35 151.36h1.44v1.44h-1.44zM482.66 158.04h1.44v1.44h-1.44zM482.13 154.85h1.44v1.44h-1.44zM475.94 157.28h1.44v1.44h-1.44zM481.58 135.48h1.44v1.44h-1.44zM483.46 151.8h1.44v1.44h-1.44zM476.57 142.54h1.44v1.44h-1.44zM486.9 144.43h1.44v1.44h-1.44zM487.06 139.21h1.44v1.44h-1.44zM485.94 148.64h1.44v1.44h-1.44zM476.48 151.04h1.44v1.44h-1.44zM484.48 157.36h1.44v1.44h-1.44zM478.53 154.05h1.44v1.44h-1.44zM485.07 134.96h1.44v1.44h-1.44zM488.37 165.12h1.44v1.44h-1.44zM479.06 157.2h1.44v1.44h-1.44zM487.56 148.13h1.44v1.44h-1.44zM472.99 149.58h1.44v1.44h-1.44zM485.52 158.51h1.44v1.44h-1.44zM477.91 152.11h1.44v1.44h-1.44zM481.94 145.16h1.44v1.44h-1.44zM484.89 133.41h1.44v1.44h-1.44zM485.73 152.06h1.44v1.44h-1.44zM476.23 149.3h1.44v1.44h-1.44zM476.93 149.78h1.44v1.44h-1.44zM483.93 149.41h1.44v1.44h-1.44zM480.1 148.27h1.44v1.44h-1.44zM484.7 162.92h1.44v1.44h-1.44zM481.68 152.62h1.44v1.44h-1.44zM482.73 155.1h1.44v1.44h-1.44zM477.83 150.31h1.44v1.44h-1.44zM478.44 155.72h1.44v1.44h-1.44zM484.92 142.23h1.44v1.44h-1.44zM482.4 144.49h1.44v1.44h-1.44zM474.67 142.3h1.44v1.44h-1.44zM484.98 135.84h1.44v1.44h-1.44zM476.83 146.91h1.44v1.44h-1.44zM481.34 146.05h1.44v1.44h-1.44zM488.59 151.95h1.44v1.44h-1.44zM484.42 152.76h1.44v1.44h-1.44zM482 134.01h1.44v1.44h-1.44zM488.93 150.19h1.44v1.44h-1.44zM478.12 141h1.44v1.44h-1.44zM475.89 148.77h1.44v1.44h-1.44zM473.22 140.86h1.44v1.44h-1.44zM472.79 145.28h1.44v1.44h-1.44zM487.77 156.48h1.44v1.44h-1.44zM474.49 150.39h1.44v1.44h-1.44zM478.85 142.98h1.44v1.44h-1.44zM476.83 145.1h1.44v1.44h-1.44zM482.41 145.39h1.44v1.44h-1.44zM481.51 157.11h1.44v1.44h-1.44zM485.78 146.78h1.44v1.44h-1.44zM488.26 150.88h1.44v1.44h-1.44zM485.89 158.07h1.44v1.44h-1.44zM478.31 159.46h1.44v1.44h-1.44zM474.84 153.55h1.44v1.44h-1.44zM474.53 139.69h1.44v1.44h-1.44zM488.11 158.03h1.44v1.44h-1.44zM484.52 147.59h1.44v1.44h-1.44zM476.58 151.09h1.44v1.44h-1.44zM478.53 153.46h1.44v1.44h-1.44zM476.34 163.52h1.44v1.44h-1.44zM483.26 149.32h1.44v1.44h-1.44zM476.14 137.24h1.44v1.44h-1.44zM477.2 150.14h1.44v1.44h-1.44zM474.53 152.14h1.44v1.44h-1.44zM475.63 142.56h1.44v1.44h-1.44zM485.91 140.1h1.44v1.44h-1.44zM486.89 138.56h1.44v1.44h-1.44zM474.86 141.92h1.44v1.44h-1.44zM480.57 146.19h1.44v1.44h-1.44zM487.55 133.65h1.44v1.44h-1.44zM488.84 154.49h1.44v1.44h-1.44zM478.49 141.33h1.44v1.44h-1.44zM475.98 153.67h1.44v1.44h-1.44zM474.65 155.88h1.44v1.44h-1.44zM485.16 139.94h1.44v1.44h-1.44zM482.65 162.8h1.44v1.44h-1.44zM474.95 135.4h1.44v1.44h-1.44zM477.96 146.28h1.44v1.44h-1.44zM483.89 164.35h1.44v1.44h-1.44zM473.97 162.86h1.44v1.44h-1.44zM488.25 141.04h1.44v1.44h-1.44zM480.63 162.27h1.44v1.44h-1.44zM486.08 138.1h1.44v1.44h-1.44zM472.98 153.23h1.44v1.44h-1.44zM480.91 138.16h1.44v1.44h-1.44zM483.7 132.95h1.44v1.44h-1.44zM479.85 140.5h1.44v1.44h-1.44zM488.88 153.17h1.44v1.44h-1.44zM484.65 136.6h1.44v1.44h-1.44zM482.85 142.13h1.44v1.44h-1.44zM480.03 147.34h1.44v1.44h-1.44zM477.63 163.89h1.44v1.44h-1.44zM473.4 159.27h1.44v1.44h-1.44zM473.38 142.79h1.44v1.44h-1.44zM474.87 152.96h1.44v1.44h-1.44zM476.72 133.9h1.44v1.44h-1.44zM475 149.98h1.44v1.44h-1.44zM482.41 138.23h1.44v1.44h-1.44zM474.98 157.88h1.44v1.44h-1.44zM473.18 137.56h1.44v1.44h-1.44zM489.6 152.31h1.44v1.44h-1.44zM474.28 147.89h1.44v1.44h-1.44zM484.45 132.02h1.44v1.44h-1.44zM473.33 154.69h1.44v1.44h-1.44zM480.93 153.19h1.44v1.44h-1.44zM475.33 159.89h1.44v1.44h-1.44zM475.68 166.51h1.44v1.44h-1.44zM487.54 150.78h1.44v1.44h-1.44zM476.7 156.01h1.44v1.44h-1.44zM480.39 145.87h1.44v1.44h-1.44zM487.59 156.88h1.44v1.44h-1.44zM481.27 159.33h1.44v1.44h-1.44zM476.2 151.73h1.44v1.44h-1.44zM477.99 141.04h1.44v1.44h-1.44zM474.62 148.59h1.44v1.44h-1.44zM488.3 151.67h1.44v1.44h-1.44zM480.81 148.23h1.44v1.44h-1.44zM484.79 138.84h1.44v1.44h-1.44zM485.28 159.6h1.44v1.44h-1.44z"/>
<path fill="#b8b8b8" d="M478.52 143.49h1v1h-1zM477.18 149.01h1v1h-1zM482.63 142.02h1v1h-1zM476.65 155.68h1v1h-1zM485.84 141.11h1v1h-1zM487.99 162.83h1v1h-1zM477.24 163.2h1v1h-1zM484.43 142.98h1v1h-1zM483.37 141.9h1v1h-1zM481.52 148.77h1v1h-1zM487.19 146.05h1v1h-1zM483.48 147.94h1v1h-1zM481.21 142.62h1v1h-1zM482.32 162.49h1v1h-1zM480.26 153.23h1v1h-1zM480.35 148.81h1v1h-1zM479.36 154.19h1v1h-1zM480.28 154.81h1v1h-1zM487.91 163.71h1v1h-1zM474.54 143.73h1v1h-1zM479.83 152.36h1v1h-1zM482.59 154.95h1v1h-1zM477.65 166.08h1v1h-1zM486.53 136.85h1v1h-1zM478.3 151.85h1v1h-1zM478.83 164.72h1v1h-1zM486.8 140.1h1v1h-1zM477.67 158.5h1v1h-1zM484.07 141.35h1v1h-1zM480.88 154.31h1v1h-1zM477.57 141.3h1v1h-1zM486.39 139.42h1v1h-1zM475.9 147.78h1v1h-1zM488.09 143.93h1v1h-1zM480.73 161.98h1v1h-1zM475.15 143.41h1v1h-1zM475.26 140.97h1v1h-1zM483.62 151.58h1v1h-1zM486.78 137.05h1v1h-1zM482.93 163.41h1v1h-1zM482.54 153.25h1v1h-1zM477.79 137.18h1v1h-1zM484.52 162.72h1v1h-1zM477.51 155.73h1v1h-1zM482.32 156.29h1v1h-1zM480.45 140.83h1v1h-1zM476.84 143.78h1v1h-1zM478.93 136.67h1v1h-1zM487.63 156.21h1v1h-1zM482.78 163.06h1v1h-1zM480.05 146.84h1v1h-1zM483.23 155.73h1v1h-1zM474.77 162.64h1v1h-1zM482.15 161.15h1v1h-1zM478.59 147h1v1h-1zM486.91 150.26h1v1h-1zM477.87 148.03h1v1h-1zM478.16 141.81h1v1h-1zM476.48 158.28h1v1h-1zM480.44 137.83h1v1h-1zM476.62 160.48h1v1h-1zM476.14 159.81h1v1h-1zM478.95 154.07h1v1h-1zM484.94 153.79h1v1h-1zM480.95 154.02h1v1h-1zM485.14 137.98h1v1h-1zM480.26 137.41h1v1h-1zM477.81 135.62h1v1h-1zM481.65 144.99h1v1h-1zM479.64 157.98h1v1h-1zM476.19 138.55h1v1h-1zM479.33 144.46h1v1h-1zM480.75 149.9h1v1h-1zM477.2 160.97h1v1h-1zM479.01 145h1v1h-1zM481.91 166.49h1v1h-1zM484.25 152.86h1v1h-1zM475.27 158.34h1v1h-1zM477.26 140.53h1v1h-1zM482 156.23h1v1h-1z"/>
<path d="M472.5 173.7 Q479.01 171.95 481.8 167.6 Q484.59 171.95 491.1 173.7 Z" fill="#d6d6d6" stroke="#454545" stroke-width="0.8"/>
<line x1="501.4" y1="135.42" x2="501.4" y2="173.4" stroke="#2f6aa8" stroke-width="0.75"/>
<rect x="493.2" y="142.81" width="16.4" height="23.21" fill="#1b5894" rx="4.92"/>
<path fill="#11508e" d="M496.9 152.57h1.44v1.44h-1.44zM498.17 145.63h1.44v1.44h-1.44zM504.04 148.87h1.44v1.44h-1.44zM494.6 143.42h1.44v1.44h-1.44zM493.37 160.77h1.44v1.44h-1.44zM501.16 149.29h1.44v1.44h-1.44zM506.04 147.04h1.44v1.44h-1.44zM496.51 160.31h1.44v1.44h-1.44zM508.78 157.22h1.44v1.44h-1.44zM492.87 152.47h1.44v1.44h-1.44zM508.47 160.34h1.44v1.44h-1.44zM494.1 153.26h1.44v1.44h-1.44zM502.67 136.27h1.44v1.44h-1.44zM497.61 163.6h1.44v1.44h-1.44zM495.07 138.75h1.44v1.44h-1.44zM508.71 147.81h1.44v1.44h-1.44zM502.65 138.14h1.44v1.44h-1.44zM496.8 155.49h1.44v1.44h-1.44zM493.86 158.88h1.44v1.44h-1.44zM502.6 150.13h1.44v1.44h-1.44zM498.1 152.87h1.44v1.44h-1.44zM507.99 149.14h1.44v1.44h-1.44zM496.65 144.31h1.44v1.44h-1.44zM503.28 146.56h1.44v1.44h-1.44zM500.84 142.41h1.44v1.44h-1.44zM494.36 145.28h1.44v1.44h-1.44zM496.33 137.1h1.44v1.44h-1.44zM500.27 152.11h1.44v1.44h-1.44zM501.51 142.51h1.44v1.44h-1.44zM500.14 155.21h1.44v1.44h-1.44zM494.22 137.27h1.44v1.44h-1.44zM497.61 148.49h1.44v1.44h-1.44zM505.28 145.5h1.44v1.44h-1.44zM494.81 143.66h1.44v1.44h-1.44zM503.86 157.17h1.44v1.44h-1.44zM495.51 136.8h1.44v1.44h-1.44zM499.16 158.47h1.44v1.44h-1.44zM497.72 145.69h1.44v1.44h-1.44zM495.04 142.38h1.44v1.44h-1.44zM494.39 148.26h1.44v1.44h-1.44zM498.81 145.27h1.44v1.44h-1.44zM499.19 162.78h1.44v1.44h-1.44zM505.78 156.03h1.44v1.44h-1.44zM507.82 146.21h1.44v1.44h-1.44zM506.84 148.68h1.44v1.44h-1.44zM501.2 140.01h1.44v1.44h-1.44zM505.39 159.49h1.44v1.44h-1.44zM496.54 156.43h1.44v1.44h-1.44zM493.78 154.49h1.44v1.44h-1.44zM499.13 147.37h1.44v1.44h-1.44zM501.32 157.89h1.44v1.44h-1.44zM505.19 142h1.44v1.44h-1.44zM505.46 144.81h1.44v1.44h-1.44zM494.77 147.23h1.44v1.44h-1.44zM505.06 157.65h1.44v1.44h-1.44zM498.01 155.48h1.44v1.44h-1.44zM495.08 160.26h1.44v1.44h-1.44zM505.93 148.02h1.44v1.44h-1.44zM498.11 160.8h1.44v1.44h-1.44zM504.82 157.02h1.44v1.44h-1.44zM506.71 143.5h1.44v1.44h-1.44zM499.13 160.48h1.44v1.44h-1.44zM506.24 142.29h1.44v1.44h-1.44zM498.32 151.95h1.44v1.44h-1.44zM497.23 163.36h1.44v1.44h-1.44zM497.76 141.26h1.44v1.44h-1.44zM494.25 162.67h1.44v1.44h-1.44zM493.19 145.27h1.44v1.44h-1.44zM501.59 148.82h1.44v1.44h-1.44zM501.3 162.26h1.44v1.44h-1.44zM494.22 161.74h1.44v1.44h-1.44zM507.65 146.88h1.44v1.44h-1.44zM503.61 148.95h1.44v1.44h-1.44zM503.08 149.86h1.44v1.44h-1.44zM507.93 148.11h1.44v1.44h-1.44zM494.08 164.78h1.44v1.44h-1.44zM505.29 146.44h1.44v1.44h-1.44zM494.71 152.22h1.44v1.44h-1.44zM494.82 155.46h1.44v1.44h-1.44zM504.89 155.75h1.44v1.44h-1.44zM497.09 160.36h1.44v1.44h-1.44zM508.33 146.87h1.44v1.44h-1.44zM497.34 150.04h1.44v1.44h-1.44zM504.06 165.12h1.44v1.44h-1.44zM498.34 151.38h1.44v1.44h-1.44zM499.91 143.2h1.44v1.44h-1.44zM501.68 161.32h1.44v1.44h-1.44zM508.49 149.13h1.44v1.44h-1.44zM493.01 162.38h1.44v1.44h-1.44zM500.52 141.97h1.44v1.44h-1.44zM506.3 160.67h1.44v1.44h-1.44zM504.28 148.09h1.44v1.44h-1.44zM506.02 146.47h1.44v1.44h-1.44zM502.4 133.25h1.44v1.44h-1.44zM493.52 148.48h1.44v1.44h-1.44zM501.88 151.42h1.44v1.44h-1.44zM499.79 155.5h1.44v1.44h-1.44zM493.69 146.73h1.44v1.44h-1.44zM501.51 139.09h1.44v1.44h-1.44zM499.8 161.36h1.44v1.44h-1.44zM498.09 156.75h1.44v1.44h-1.44zM507.93 141.93h1.44v1.44h-1.44zM505.36 139.55h1.44v1.44h-1.44zM493.48 156.33h1.44v1.44h-1.44zM494.45 147.09h1.44v1.44h-1.44zM499.39 147.19h1.44v1.44h-1.44zM506.72 136.69h1.44v1.44h-1.44zM495.9 154.03h1.44v1.44h-1.44zM496.79 152.31h1.44v1.44h-1.44zM493.08 150.83h1.44v1.44h-1.44zM503.52 159.66h1.44v1.44h-1.44zM501.73 153.89h1.44v1.44h-1.44zM504.58 158.47h1.44v1.44h-1.44zM503.88 156.73h1.44v1.44h-1.44zM500.06 154.76h1.44v1.44h-1.44zM497.32 161.92h1.44v1.44h-1.44zM502.51 143.48h1.44v1.44h-1.44zM495.31 150.28h1.44v1.44h-1.44zM506.03 141.58h1.44v1.44h-1.44zM505.18 166h1.44v1.44h-1.44zM496.86 157.87h1.44v1.44h-1.44zM504.77 152.25h1.44v1.44h-1.44zM492.34 148.56h1.44v1.44h-1.44zM498.16 153.03h1.44v1.44h-1.44zM494.32 159.29h1.44v1.44h-1.44zM506.09 143.39h1.44v1.44h-1.44zM498.02 162.34h1.44v1.44h-1.44zM498.1 136.93h1.44v1.44h-1.44zM502.07 142.79h1.44v1.44h-1.44zM504.42 133.05h1.44v1.44h-1.44zM504.31 142.89h1.44v1.44h-1.44zM508.86 148.56h1.44v1.44h-1.44zM498.53 148.99h1.44v1.44h-1.44zM509.24 154.17h1.44v1.44h-1.44zM496.53 157.24h1.44v1.44h-1.44zM496.66 149.37h1.44v1.44h-1.44zM501.94 160.04h1.44v1.44h-1.44zM508.07 155.6h1.44v1.44h-1.44zM497.52 136.31h1.44v1.44h-1.44zM506.02 158.29h1.44v1.44h-1.44zM507.73 143.93h1.44v1.44h-1.44zM496.46 151.63h1.44v1.44h-1.44zM496.41 160.12h1.44v1.44h-1.44zM504.02 144.38h1.44v1.44h-1.44zM507.87 154.8h1.44v1.44h-1.44zM493.38 155.72h1.44v1.44h-1.44zM494.59 155.21h1.44v1.44h-1.44zM493.83 160.01h1.44v1.44h-1.44zM500.12 137.5h1.44v1.44h-1.44zM505.75 152.85h1.44v1.44h-1.44zM501.06 133.7h1.44v1.44h-1.44zM496.86 156.27h1.44v1.44h-1.44zM504.61 155.4h1.44v1.44h-1.44zM499.21 160.48h1.44v1.44h-1.44zM495.69 158.57h1.44v1.44h-1.44zM501.32 151.44h1.44v1.44h-1.44zM501.96 154.09h1.44v1.44h-1.44zM499.77 141.08h1.44v1.44h-1.44zM496.43 137.48h1.44v1.44h-1.44zM499.57 162.23h1.44v1.44h-1.44zM492.44 146.68h1.44v1.44h-1.44zM495.13 141.48h1.44v1.44h-1.44zM496.7 145.32h1.44v1.44h-1.44zM507 146.7h1.44v1.44h-1.44zM505.05 152.24h1.44v1.44h-1.44zM502.38 151.87h1.44v1.44h-1.44zM499.5 153.71h1.44v1.44h-1.44zM496.17 151.41h1.44v1.44h-1.44zM496.43 165.08h1.44v1.44h-1.44zM494.82 141.06h1.44v1.44h-1.44zM496.09 146.73h1.44v1.44h-1.44zM497.92 143.44h1.44v1.44h-1.44zM494.96 156.49h1.44v1.44h-1.44zM499.13 143.86h1.44v1.44h-1.44zM505.75 154.93h1.44v1.44h-1.44zM495.53 159.74h1.44v1.44h-1.44zM499.94 143.11h1.44v1.44h-1.44zM507.5 145.57h1.44v1.44h-1.44zM503.25 141.6h1.44v1.44h-1.44zM498.62 144.06h1.44v1.44h-1.44zM504.83 144.6h1.44v1.44h-1.44zM500.24 144.26h1.44v1.44h-1.44zM502.27 165.29h1.44v1.44h-1.44zM499.37 150.43h1.44v1.44h-1.44zM501.52 148.95h1.44v1.44h-1.44zM506.98 143.96h1.44v1.44h-1.44zM498.07 141.87h1.44v1.44h-1.44zM495.91 152.99h1.44v1.44h-1.44zM496.73 162.07h1.44v1.44h-1.44zM503.62 162.74h1.44v1.44h-1.44zM507.69 144.22h1.44v1.44h-1.44zM499.59 152.68h1.44v1.44h-1.44zM496.07 162.4h1.44v1.44h-1.44zM500.29 146.02h1.44v1.44h-1.44zM504.85 149.76h1.44v1.44h-1.44zM503.1 165.9h1.44v1.44h-1.44zM492.8 149.39h1.44v1.44h-1.44zM499.5 152.6h1.44v1.44h-1.44zM502.73 142.47h1.44v1.44h-1.44zM495.58 150.89h1.44v1.44h-1.44zM508.35 147.24h1.44v1.44h-1.44zM498.35 159.49h1.44v1.44h-1.44zM496.85 160.32h1.44v1.44h-1.44zM505.24 159.85h1.44v1.44h-1.44zM497.73 146.24h1.44v1.44h-1.44zM507.25 152.47h1.44v1.44h-1.44zM497.24 154.94h1.44v1.44h-1.44zM502.56 152.64h1.44v1.44h-1.44zM505.47 151.17h1.44v1.44h-1.44zM498.83 156.42h1.44v1.44h-1.44zM499.7 161.36h1.44v1.44h-1.44zM509.1 153.97h1.44v1.44h-1.44zM503.73 136.15h1.44v1.44h-1.44zM503.83 161.83h1.44v1.44h-1.44zM506.36 151.21h1.44v1.44h-1.44zM503.65 150.88h1.44v1.44h-1.44zM496.78 157.62h1.44v1.44h-1.44zM507.7 157.98h1.44v1.44h-1.44zM497.94 154.29h1.44v1.44h-1.44zM498.08 152.97h1.44v1.44h-1.44zM506.97 143.02h1.44v1.44h-1.44zM499.26 152.33h1.44v1.44h-1.44zM494 153.35h1.44v1.44h-1.44zM505.63 154.96h1.44v1.44h-1.44zM492.32 151.52h1.44v1.44h-1.44zM493.8 156.77h1.44v1.44h-1.44zM500.94 143.93h1.44v1.44h-1.44zM496.89 165.9h1.44v1.44h-1.44zM497.69 149.97h1.44v1.44h-1.44zM492.21 155.98h1.44v1.44h-1.44zM504.99 143.95h1.44v1.44h-1.44zM505.86 153.57h1.44v1.44h-1.44zM504.73 164.75h1.44v1.44h-1.44zM495.86 133.17h1.44v1.44h-1.44zM504.59 162.24h1.44v1.44h-1.44zM497.96 151.52h1.44v1.44h-1.44zM508.61 145.24h1.44v1.44h-1.44z"/>
<path fill="#8eaed4" d="M494.74 155.88h1v1h-1zM495.69 143.42h1v1h-1zM500.85 149.96h1v1h-1zM501.18 148.52h1v1h-1zM498.61 156.36h1v1h-1zM504.32 149.95h1v1h-1zM506.33 158.66h1v1h-1zM505.78 149.18h1v1h-1zM501.93 156.47h1v1h-1zM501.84 163.81h1v1h-1zM495.26 158.62h1v1h-1zM495.63 164.44h1v1h-1zM503.94 149.31h1v1h-1zM502.52 160.95h1v1h-1zM504.01 147.22h1v1h-1zM502.57 160.48h1v1h-1zM501.8 156.77h1v1h-1zM497.67 162.22h1v1h-1zM506.01 151.51h1v1h-1zM506.96 161.7h1v1h-1zM497.6 154.23h1v1h-1zM494.73 158.82h1v1h-1zM501.46 154.84h1v1h-1zM506.63 152.72h1v1h-1zM502.83 152.55h1v1h-1zM504.89 157.4h1v1h-1zM493.91 143.79h1v1h-1zM504.99 162.71h1v1h-1zM495.47 160.59h1v1h-1zM503.11 162.61h1v1h-1zM494.18 154.57h1v1h-1zM493.99 159.78h1v1h-1zM499.25 160.97h1v1h-1zM493.93 159.76h1v1h-1zM497.31 158.33h1v1h-1zM499.7 157.54h1v1h-1zM498.44 165.09h1v1h-1zM505.62 149.16h1v1h-1zM500.8 165.45h1v1h-1zM497.17 145.56h1v1h-1zM500.3 160.97h1v1h-1zM505.38 145.76h1v1h-1zM495.61 154.41h1v1h-1zM501.76 162.92h1v1h-1zM498.37 151.82h1v1h-1zM503.33 151.59h1v1h-1zM502.58 157.14h1v1h-1zM494.86 165.16h1v1h-1zM505.63 146.35h1v1h-1zM506.57 163.83h1v1h-1zM504.67 161.71h1v1h-1zM498.75 161.08h1v1h-1zM505.94 147.37h1v1h-1zM505.56 157.06h1v1h-1zM507 159.75h1v1h-1zM501.94 150.6h1v1h-1zM497.17 157.06h1v1h-1zM495.3 147.87h1v1h-1zM496.48 162.5h1v1h-1zM497.79 151.33h1v1h-1z"/>
<path d="M492.1 173.7 Q498.61 171.85 501.4 167.2 Q504.19 171.85 510.7 173.7 Z" fill="#7ea3c8" stroke="#11508e" stroke-width="0.8"/>
<line x1="469.9" y1="129.9" x2="469.9" y2="176.05" stroke="#1e1e1e" stroke-width="1.15"/>
<line x1="469.35" y1="175.5" x2="513" y2="175.5" stroke="#1e1e1e" stroke-width="1.15"/>
<line x1="467.4" y1="173.4" x2="469.9" y2="173.4" stroke="#1e1e1e" stroke-width="0.9"/>
<text x="463.6" y="175.96" font-size="7.1" text-anchor="end">0</text>
<line x1="467.4" y1="162.85" x2="469.9" y2="162.85" stroke="#1e1e1e" stroke-width="0.9"/>
<text x="463.6" y="165.41" font-size="7.1" text-anchor="end">1</text>
<line x1="467.4" y1="152.3" x2="469.9" y2="152.3" stroke="#1e1e1e" stroke-width="0.9"/>
<text x="463.6" y="154.86" font-size="7.1" text-anchor="end">2</text>
<line x1="467.4" y1="141.75" x2="469.9" y2="141.75" stroke="#1e1e1e" stroke-width="0.9"/>
<text x="463.6" y="144.31" font-size="7.1" text-anchor="end">3</text>
<line x1="467.4" y1="131.2" x2="469.9" y2="131.2" stroke="#1e1e1e" stroke-width="0.9"/>
<text x="463.6" y="133.76" font-size="7.1" text-anchor="end">4</text>
<line x1="481.8" y1="175.5" x2="481.8" y2="177.5" stroke="#1e1e1e" stroke-width="0.9"/>
<text x="481.8" y="185.06" font-size="7.1" text-anchor="middle">3</text>
<line x1="501.4" y1="175.5" x2="501.4" y2="177.5" stroke="#1e1e1e" stroke-width="0.9"/>
<text x="501.4" y="185.06" font-size="7.1" text-anchor="middle">4</text>
<text x="490.9" y="114.19" font-size="7.2" text-anchor="middle" font-style="italic" textLength="19.4" lengthAdjust="spacingAndGlyphs">Pdcd1</text>
<text x="489.4" y="123.9" font-size="6.4" text-anchor="middle" textLength="39" lengthAdjust="spacingAndGlyphs" fill="#111">p=3.6×10<tspan font-size="4.5" dy="-2.4">−17</tspan></text>
<line x1="478.5" y1="126.6" x2="502.7" y2="126.6" stroke="#555" stroke-width="1.1"/>
<text x="449.4" y="155.54" font-size="7.9" text-anchor="middle" font-weight="bold" textLength="45.5" lengthAdjust="spacingAndGlyphs" transform="rotate(-90 449.4 152.7)" style="stroke-width:0.05px">Log. norm. expr.</text>
<text x="491.8" y="198.1" font-size="8.9" text-anchor="middle" font-weight="bold" textLength="19" lengthAdjust="spacingAndGlyphs" style="stroke-width:0.1px">Cluster</text>
<text x="255.8" y="216.79" font-size="10" font-weight="bold" fill="#000">D</text>
<line x1="292.9" y1="243.3" x2="292.9" y2="282" stroke="#454545" stroke-width="0.75"/>
<rect x="283.9" y="254.55" width="18" height="22.5" fill="#525252" rx="5.4"/>
<path fill="#454545" d="M298.62 269.9h1.44v1.44h-1.44zM296.73 270.85h1.44v1.44h-1.44zM285.99 261.95h1.44v1.44h-1.44zM287.66 255.56h1.44v1.44h-1.44zM289.37 262.44h1.44v1.44h-1.44zM299.41 261.88h1.44v1.44h-1.44zM286.91 265.9h1.44v1.44h-1.44zM293.89 266.74h1.44v1.44h-1.44zM284.57 265.82h1.44v1.44h-1.44zM293.42 264.49h1.44v1.44h-1.44zM297.28 266.55h1.44v1.44h-1.44zM287.31 265.93h1.44v1.44h-1.44zM289.33 271.67h1.44v1.44h-1.44zM300.39 268.88h1.44v1.44h-1.44zM292.91 270.17h1.44v1.44h-1.44zM298.44 259.57h1.44v1.44h-1.44zM292.81 251.88h1.44v1.44h-1.44zM296.25 265.14h1.44v1.44h-1.44zM287.54 252.22h1.44v1.44h-1.44zM293.46 266.41h1.44v1.44h-1.44zM297.35 269.03h1.44v1.44h-1.44zM286.96 262.24h1.44v1.44h-1.44zM290.81 266.27h1.44v1.44h-1.44zM295.83 272.26h1.44v1.44h-1.44zM301.45 267.61h1.44v1.44h-1.44zM295.35 262.44h1.44v1.44h-1.44zM292.1 269.54h1.44v1.44h-1.44zM289.63 256.88h1.44v1.44h-1.44zM283.34 267.05h1.44v1.44h-1.44zM288.83 272.9h1.44v1.44h-1.44zM284.78 262.52h1.44v1.44h-1.44zM286.05 266.92h1.44v1.44h-1.44zM291.13 263.9h1.44v1.44h-1.44zM292.73 269.08h1.44v1.44h-1.44zM290.18 257.26h1.44v1.44h-1.44zM293.3 263.25h1.44v1.44h-1.44zM301.01 263.15h1.44v1.44h-1.44zM288.79 265.49h1.44v1.44h-1.44zM296.55 257.61h1.44v1.44h-1.44zM282.88 263.63h1.44v1.44h-1.44zM289.74 260.89h1.44v1.44h-1.44zM290.31 260.56h1.44v1.44h-1.44zM291.19 251.85h1.44v1.44h-1.44zM294.67 272.65h1.44v1.44h-1.44zM289.42 275.37h1.44v1.44h-1.44zM283.93 271.75h1.44v1.44h-1.44zM293.62 255.59h1.44v1.44h-1.44zM284.08 266.52h1.44v1.44h-1.44zM294.87 264.4h1.44v1.44h-1.44zM288.3 271.14h1.44v1.44h-1.44zM288.11 258.17h1.44v1.44h-1.44zM299.5 267.58h1.44v1.44h-1.44zM291.93 263.2h1.44v1.44h-1.44zM300.95 258.54h1.44v1.44h-1.44zM297.67 260.48h1.44v1.44h-1.44zM284.28 260.89h1.44v1.44h-1.44zM295.75 274.99h1.44v1.44h-1.44zM297.47 257.73h1.44v1.44h-1.44zM289.8 252.98h1.44v1.44h-1.44zM297.53 254.02h1.44v1.44h-1.44zM291.77 261.49h1.44v1.44h-1.44zM292.11 264.38h1.44v1.44h-1.44zM283.85 260.07h1.44v1.44h-1.44zM293.49 256.63h1.44v1.44h-1.44zM298.04 251.6h1.44v1.44h-1.44zM291.6 259.37h1.44v1.44h-1.44zM285.12 257.49h1.44v1.44h-1.44zM296.38 265.55h1.44v1.44h-1.44zM292.31 247.98h1.44v1.44h-1.44zM299.76 275.23h1.44v1.44h-1.44zM293.82 273.26h1.44v1.44h-1.44zM286.94 250.31h1.44v1.44h-1.44zM287.39 259.64h1.44v1.44h-1.44zM293.69 258.56h1.44v1.44h-1.44zM291.46 257.64h1.44v1.44h-1.44zM296.22 268.08h1.44v1.44h-1.44zM292.88 263.44h1.44v1.44h-1.44zM300.24 269.12h1.44v1.44h-1.44zM298.98 251.47h1.44v1.44h-1.44zM290.1 261.47h1.44v1.44h-1.44zM291.24 264.44h1.44v1.44h-1.44zM299.79 264.67h1.44v1.44h-1.44zM286.25 252.31h1.44v1.44h-1.44zM299.48 264.91h1.44v1.44h-1.44zM291.37 267.41h1.44v1.44h-1.44zM292.51 263.15h1.44v1.44h-1.44zM288.04 263.15h1.44v1.44h-1.44zM301.12 268.68h1.44v1.44h-1.44zM285.25 254.31h1.44v1.44h-1.44zM296.89 263.45h1.44v1.44h-1.44zM287.26 256.6h1.44v1.44h-1.44zM283.79 260.47h1.44v1.44h-1.44zM284.5 267.78h1.44v1.44h-1.44zM300.72 257.84h1.44v1.44h-1.44zM289.48 260.89h1.44v1.44h-1.44zM292.48 264.57h1.44v1.44h-1.44zM292.92 266.04h1.44v1.44h-1.44zM291.22 256.44h1.44v1.44h-1.44zM289.03 258.7h1.44v1.44h-1.44zM285.24 258.84h1.44v1.44h-1.44zM285.41 273.84h1.44v1.44h-1.44zM294.68 258.85h1.44v1.44h-1.44zM300.96 262.36h1.44v1.44h-1.44zM286.35 250.06h1.44v1.44h-1.44zM297.63 266.99h1.44v1.44h-1.44zM301.5 263.56h1.44v1.44h-1.44zM293.93 272.3h1.44v1.44h-1.44zM285.31 260.48h1.44v1.44h-1.44zM294.23 260.78h1.44v1.44h-1.44zM283.84 274.29h1.44v1.44h-1.44zM283.81 274.18h1.44v1.44h-1.44zM287.88 258.65h1.44v1.44h-1.44zM299.07 265.14h1.44v1.44h-1.44zM298.98 254.41h1.44v1.44h-1.44zM293.28 255.95h1.44v1.44h-1.44zM294.18 264.79h1.44v1.44h-1.44zM294.32 264.67h1.44v1.44h-1.44zM284.93 263.04h1.44v1.44h-1.44zM287.33 272.79h1.44v1.44h-1.44zM284.81 265.86h1.44v1.44h-1.44zM287.52 266.58h1.44v1.44h-1.44zM289.51 261.58h1.44v1.44h-1.44zM300.29 272.85h1.44v1.44h-1.44zM293.39 268.82h1.44v1.44h-1.44zM298.82 266.77h1.44v1.44h-1.44zM293.6 269.39h1.44v1.44h-1.44zM301.06 258.53h1.44v1.44h-1.44zM293.71 267.11h1.44v1.44h-1.44zM288.86 267.66h1.44v1.44h-1.44zM284.19 275.4h1.44v1.44h-1.44zM292.32 262.28h1.44v1.44h-1.44zM298.12 268h1.44v1.44h-1.44zM291.61 255.23h1.44v1.44h-1.44zM287.67 268.26h1.44v1.44h-1.44zM292.37 268.51h1.44v1.44h-1.44zM297.04 269.19h1.44v1.44h-1.44zM292.17 265.22h1.44v1.44h-1.44zM298.44 267.57h1.44v1.44h-1.44zM299.6 259.84h1.44v1.44h-1.44zM284.31 259.15h1.44v1.44h-1.44zM294.64 266.24h1.44v1.44h-1.44zM294.97 250.17h1.44v1.44h-1.44zM289.13 261.98h1.44v1.44h-1.44zM286.4 274.36h1.44v1.44h-1.44zM289.68 260.25h1.44v1.44h-1.44zM293.77 261.69h1.44v1.44h-1.44zM285.49 274.77h1.44v1.44h-1.44zM283.38 263.04h1.44v1.44h-1.44zM294.74 258.75h1.44v1.44h-1.44zM293.15 271.4h1.44v1.44h-1.44zM292.49 257.12h1.44v1.44h-1.44zM288.13 268.15h1.44v1.44h-1.44zM291.95 260.41h1.44v1.44h-1.44zM286.74 257.45h1.44v1.44h-1.44zM294.5 264.09h1.44v1.44h-1.44zM299.71 272.35h1.44v1.44h-1.44zM297.11 264.65h1.44v1.44h-1.44zM295.95 262.65h1.44v1.44h-1.44zM294 263.24h1.44v1.44h-1.44zM283.65 269.06h1.44v1.44h-1.44zM291.31 271.12h1.44v1.44h-1.44zM283.81 259.18h1.44v1.44h-1.44zM285.58 272.58h1.44v1.44h-1.44zM286.2 256.72h1.44v1.44h-1.44zM295.97 269.27h1.44v1.44h-1.44zM294.51 251.35h1.44v1.44h-1.44zM297.72 270.74h1.44v1.44h-1.44zM297.76 257.33h1.44v1.44h-1.44zM289.25 259.98h1.44v1.44h-1.44zM295.74 255.26h1.44v1.44h-1.44zM284 252.84h1.44v1.44h-1.44zM300.14 255.71h1.44v1.44h-1.44zM294.37 260.6h1.44v1.44h-1.44zM293.6 261.76h1.44v1.44h-1.44zM286.23 266.56h1.44v1.44h-1.44zM291.5 266.2h1.44v1.44h-1.44zM283.75 260.62h1.44v1.44h-1.44zM299.55 269.93h1.44v1.44h-1.44zM296.87 272.82h1.44v1.44h-1.44zM292.87 251.27h1.44v1.44h-1.44zM300.04 257.55h1.44v1.44h-1.44zM295.98 267.14h1.44v1.44h-1.44zM286.04 264.03h1.44v1.44h-1.44zM299.18 255.26h1.44v1.44h-1.44zM292.04 265.08h1.44v1.44h-1.44zM296.03 269.08h1.44v1.44h-1.44zM291.49 254.77h1.44v1.44h-1.44zM296.21 265.38h1.44v1.44h-1.44zM287.34 256.76h1.44v1.44h-1.44zM295.09 259.65h1.44v1.44h-1.44zM284.4 257.25h1.44v1.44h-1.44zM287.83 266.77h1.44v1.44h-1.44zM295.78 245.14h1.44v1.44h-1.44zM291.92 265.22h1.44v1.44h-1.44zM299.07 261.31h1.44v1.44h-1.44zM296 263.8h1.44v1.44h-1.44zM294.44 266.41h1.44v1.44h-1.44zM292.55 274.76h1.44v1.44h-1.44zM286.23 263h1.44v1.44h-1.44zM288.61 265.45h1.44v1.44h-1.44zM298.71 267.74h1.44v1.44h-1.44zM295.9 272.02h1.44v1.44h-1.44zM292.04 267.76h1.44v1.44h-1.44zM283.59 270.99h1.44v1.44h-1.44zM289.49 258.1h1.44v1.44h-1.44zM299.6 258.34h1.44v1.44h-1.44zM298.82 266.58h1.44v1.44h-1.44zM288.15 267.66h1.44v1.44h-1.44zM294.13 260.66h1.44v1.44h-1.44zM296.31 274.02h1.44v1.44h-1.44zM292.98 265.67h1.44v1.44h-1.44zM296.23 250.61h1.44v1.44h-1.44zM290.51 261.23h1.44v1.44h-1.44zM289.63 268.84h1.44v1.44h-1.44zM295.14 251.17h1.44v1.44h-1.44zM292 257.34h1.44v1.44h-1.44zM284.23 268.34h1.44v1.44h-1.44zM292.8 271.05h1.44v1.44h-1.44zM292.13 255.64h1.44v1.44h-1.44zM295.38 264.46h1.44v1.44h-1.44zM289.26 259.07h1.44v1.44h-1.44zM299.43 249.85h1.44v1.44h-1.44zM288.12 270.12h1.44v1.44h-1.44zM289.56 267.55h1.44v1.44h-1.44zM284.18 264.49h1.44v1.44h-1.44zM297.11 264.36h1.44v1.44h-1.44zM300.18 267.98h1.44v1.44h-1.44zM283.92 259.81h1.44v1.44h-1.44zM284.56 256.21h1.44v1.44h-1.44zM290.28 254.29h1.44v1.44h-1.44zM290.79 267.32h1.44v1.44h-1.44zM298.79 271.02h1.44v1.44h-1.44zM299.39 269.73h1.44v1.44h-1.44zM297.42 264.62h1.44v1.44h-1.44zM294.95 263.34h1.44v1.44h-1.44zM284.23 265.77h1.44v1.44h-1.44zM299.63 266.52h1.44v1.44h-1.44zM300.84 269.52h1.44v1.44h-1.44zM286.65 258.03h1.44v1.44h-1.44zM293.33 265.88h1.44v1.44h-1.44zM296.65 266.11h1.44v1.44h-1.44zM300.62 257.5h1.44v1.44h-1.44zM297.73 254.02h1.44v1.44h-1.44zM296.18 259.77h1.44v1.44h-1.44zM297.85 268.13h1.44v1.44h-1.44zM286.44 271.55h1.44v1.44h-1.44zM289.31 271.94h1.44v1.44h-1.44zM297.26 270.68h1.44v1.44h-1.44zM288.81 251.5h1.44v1.44h-1.44zM283.99 261.67h1.44v1.44h-1.44zM288.94 264.28h1.44v1.44h-1.44zM290.08 248.59h1.44v1.44h-1.44zM290.21 255.96h1.44v1.44h-1.44zM294.56 258.74h1.44v1.44h-1.44zM291.1 271.2h1.44v1.44h-1.44zM288.07 259.7h1.44v1.44h-1.44zM285.85 272.29h1.44v1.44h-1.44zM285.54 265.49h1.44v1.44h-1.44zM290.9 264.72h1.44v1.44h-1.44zM286.81 248.49h1.44v1.44h-1.44zM299.15 258.07h1.44v1.44h-1.44zM286.14 254.17h1.44v1.44h-1.44zM287.71 261.26h1.44v1.44h-1.44zM291.09 274.82h1.44v1.44h-1.44zM290.69 258.46h1.44v1.44h-1.44zM288.26 271.32h1.44v1.44h-1.44zM300.49 259.15h1.44v1.44h-1.44zM293.09 262.78h1.44v1.44h-1.44zM289.42 260.61h1.44v1.44h-1.44zM295.5 264.55h1.44v1.44h-1.44zM289.64 266.19h1.44v1.44h-1.44zM290.96 258.72h1.44v1.44h-1.44zM288.77 266.86h1.44v1.44h-1.44zM295.27 269.9h1.44v1.44h-1.44zM290.52 265.4h1.44v1.44h-1.44zM291.37 265.73h1.44v1.44h-1.44zM293.22 269.95h1.44v1.44h-1.44zM290.85 266.24h1.44v1.44h-1.44zM285.15 274.44h1.44v1.44h-1.44zM286.29 261.09h1.44v1.44h-1.44zM286.27 261.55h1.44v1.44h-1.44z"/>
<path fill="#b8b8b8" d="M294.99 269.35h1v1h-1zM298.93 271.47h1v1h-1zM288.33 272.48h1v1h-1zM286.71 262.59h1v1h-1zM293.65 271.12h1v1h-1zM297.37 262.72h1v1h-1zM291.26 264.07h1v1h-1zM294.91 267.37h1v1h-1zM285.87 268.88h1v1h-1zM299.54 268.71h1v1h-1zM294.62 274.35h1v1h-1zM296.78 258.99h1v1h-1zM290.37 268.73h1v1h-1zM292.61 271.1h1v1h-1zM287.76 273.55h1v1h-1zM295.39 266.01h1v1h-1zM299.7 257.04h1v1h-1zM298.39 257.4h1v1h-1zM297.81 275.61h1v1h-1zM286.47 256.78h1v1h-1zM298.38 263.91h1v1h-1zM294.31 267.46h1v1h-1zM291.2 273.21h1v1h-1zM293.17 270.66h1v1h-1zM286.35 258.87h1v1h-1zM293.6 258.75h1v1h-1zM289.1 264.68h1v1h-1zM288.83 259.65h1v1h-1zM287.74 263.28h1v1h-1zM293.28 269.65h1v1h-1zM285.68 266.46h1v1h-1zM292.77 259.9h1v1h-1zM287.65 272.43h1v1h-1zM289.29 260.21h1v1h-1zM288.11 263.55h1v1h-1zM284.91 274.47h1v1h-1zM295.73 266.26h1v1h-1zM286.2 266.74h1v1h-1zM299.45 268.36h1v1h-1zM293.31 267.78h1v1h-1zM292.49 275.24h1v1h-1zM298.53 264.62h1v1h-1zM289.95 270.47h1v1h-1zM287.39 257.61h1v1h-1zM297.86 268.61h1v1h-1zM294.05 265.16h1v1h-1zM287.6 275.44h1v1h-1zM296.17 272.88h1v1h-1zM293.44 275.76h1v1h-1zM284.75 272.85h1v1h-1zM294.86 263.97h1v1h-1zM300.26 263.03h1v1h-1zM292.75 275.84h1v1h-1zM299.73 266.42h1v1h-1zM298.13 275.27h1v1h-1zM297.76 266.68h1v1h-1zM287.87 268.06h1v1h-1zM285.6 264.6h1v1h-1zM287.9 262.21h1v1h-1zM287.18 262.44h1v1h-1zM294.28 262.01h1v1h-1zM299.61 270.25h1v1h-1zM295.33 268.23h1v1h-1zM298.7 259.76h1v1h-1zM296.62 264.22h1v1h-1zM288.58 258.12h1v1h-1zM299.9 257.29h1v1h-1zM289.81 259.83h1v1h-1zM295.26 259.47h1v1h-1zM297.23 267.1h1v1h-1z"/>
<path d="M283.4 282.3 Q290.05 280.38 292.9 275.5 Q295.75 280.38 302.4 282.3 Z" fill="#d6d6d6" stroke="#454545" stroke-width="0.8"/>
<line x1="314.4" y1="237.9" x2="314.4" y2="282" stroke="#2f6aa8" stroke-width="0.75"/>
<rect x="305.2" y="248.7" width="18.4" height="26.55" fill="#1b5894" rx="5.52"/>
<path fill="#11508e" d="M316.37 271.1h1.44v1.44h-1.44zM314.4 250.85h1.44v1.44h-1.44zM304.35 258.24h1.44v1.44h-1.44zM313 261.15h1.44v1.44h-1.44zM306.69 246.93h1.44v1.44h-1.44zM320.58 250.74h1.44v1.44h-1.44zM318.55 259h1.44v1.44h-1.44zM317.04 255.39h1.44v1.44h-1.44zM314.63 268.9h1.44v1.44h-1.44zM322.07 253.86h1.44v1.44h-1.44zM313.01 269.76h1.44v1.44h-1.44zM311.99 260.16h1.44v1.44h-1.44zM317.37 261.13h1.44v1.44h-1.44zM321.83 263.34h1.44v1.44h-1.44zM310.87 258.97h1.44v1.44h-1.44zM306.53 269.79h1.44v1.44h-1.44zM320.59 251.25h1.44v1.44h-1.44zM320.55 254.15h1.44v1.44h-1.44zM319.44 254.2h1.44v1.44h-1.44zM313.34 247.37h1.44v1.44h-1.44zM310.55 256.4h1.44v1.44h-1.44zM313.95 263.73h1.44v1.44h-1.44zM309.89 260.97h1.44v1.44h-1.44zM320.33 268.43h1.44v1.44h-1.44zM308.55 266.25h1.44v1.44h-1.44zM313.36 254.37h1.44v1.44h-1.44zM316.78 261.77h1.44v1.44h-1.44zM313.56 267.07h1.44v1.44h-1.44zM310.74 238.99h1.44v1.44h-1.44zM314.56 258.13h1.44v1.44h-1.44zM305.49 254.35h1.44v1.44h-1.44zM308.03 261.09h1.44v1.44h-1.44zM313.99 250.63h1.44v1.44h-1.44zM305.94 246.72h1.44v1.44h-1.44zM307.44 260.99h1.44v1.44h-1.44zM310.21 250.08h1.44v1.44h-1.44zM308.76 252.43h1.44v1.44h-1.44zM315.52 264.64h1.44v1.44h-1.44zM316.4 252.23h1.44v1.44h-1.44zM306.03 253.29h1.44v1.44h-1.44zM318.22 266.33h1.44v1.44h-1.44zM315.9 261.77h1.44v1.44h-1.44zM307.98 250.35h1.44v1.44h-1.44zM307.8 265.64h1.44v1.44h-1.44zM305.39 263.91h1.44v1.44h-1.44zM312.31 273.83h1.44v1.44h-1.44zM320.81 261.54h1.44v1.44h-1.44zM314.76 250.78h1.44v1.44h-1.44zM309.41 260.18h1.44v1.44h-1.44zM315.65 273.45h1.44v1.44h-1.44zM314.25 266.18h1.44v1.44h-1.44zM316.79 253.19h1.44v1.44h-1.44zM307.45 252.09h1.44v1.44h-1.44zM310.55 246.21h1.44v1.44h-1.44zM311.46 245.95h1.44v1.44h-1.44zM322.39 257.54h1.44v1.44h-1.44zM307.94 260.34h1.44v1.44h-1.44zM308.01 246.29h1.44v1.44h-1.44zM318.49 256.69h1.44v1.44h-1.44zM310.98 255.52h1.44v1.44h-1.44zM305.7 259.5h1.44v1.44h-1.44zM318.08 267.02h1.44v1.44h-1.44zM313.54 258.33h1.44v1.44h-1.44zM308.39 244.45h1.44v1.44h-1.44zM321.62 263.06h1.44v1.44h-1.44zM314.17 251.43h1.44v1.44h-1.44zM307.54 266.1h1.44v1.44h-1.44zM307.87 262.14h1.44v1.44h-1.44zM315.83 254.53h1.44v1.44h-1.44zM315.04 265.92h1.44v1.44h-1.44zM319.27 247.33h1.44v1.44h-1.44zM313.81 246.29h1.44v1.44h-1.44zM316.09 251.48h1.44v1.44h-1.44zM311.88 258.77h1.44v1.44h-1.44zM317.46 247.21h1.44v1.44h-1.44zM309.9 263.52h1.44v1.44h-1.44zM318.5 261.93h1.44v1.44h-1.44zM314.47 248.29h1.44v1.44h-1.44zM317.8 258.53h1.44v1.44h-1.44zM313.24 264.07h1.44v1.44h-1.44zM318.23 251.57h1.44v1.44h-1.44zM309.32 251h1.44v1.44h-1.44zM315.37 255.4h1.44v1.44h-1.44zM308.53 260.01h1.44v1.44h-1.44zM321.09 254.19h1.44v1.44h-1.44zM317.81 270.6h1.44v1.44h-1.44zM309.75 247.07h1.44v1.44h-1.44zM321.98 260.69h1.44v1.44h-1.44zM316.19 260.04h1.44v1.44h-1.44zM313.59 252.23h1.44v1.44h-1.44zM316.86 253.31h1.44v1.44h-1.44zM316 264.03h1.44v1.44h-1.44zM307.14 242.45h1.44v1.44h-1.44zM310.06 252.63h1.44v1.44h-1.44zM317.08 274.97h1.44v1.44h-1.44zM306.12 248.99h1.44v1.44h-1.44zM319.38 272.57h1.44v1.44h-1.44zM317.26 259.53h1.44v1.44h-1.44zM313.12 245.11h1.44v1.44h-1.44zM322.2 247.76h1.44v1.44h-1.44zM322.02 268.12h1.44v1.44h-1.44zM316.62 271.51h1.44v1.44h-1.44zM311.81 265.54h1.44v1.44h-1.44zM308.6 269.32h1.44v1.44h-1.44zM309.09 259.61h1.44v1.44h-1.44zM317.25 250.91h1.44v1.44h-1.44zM316.86 272.66h1.44v1.44h-1.44zM316.62 270.23h1.44v1.44h-1.44zM304.22 260.35h1.44v1.44h-1.44zM308.26 252.26h1.44v1.44h-1.44zM309.01 262.87h1.44v1.44h-1.44zM319.9 259.02h1.44v1.44h-1.44zM318.59 245.48h1.44v1.44h-1.44zM320.7 256.72h1.44v1.44h-1.44zM311.22 260.52h1.44v1.44h-1.44zM312.95 240.94h1.44v1.44h-1.44zM316.91 250h1.44v1.44h-1.44zM306.25 262.77h1.44v1.44h-1.44zM306.34 253.33h1.44v1.44h-1.44zM319.9 259.49h1.44v1.44h-1.44zM317.1 259.64h1.44v1.44h-1.44zM309.37 239.32h1.44v1.44h-1.44zM314.2 261.41h1.44v1.44h-1.44zM305.83 266.55h1.44v1.44h-1.44zM315.17 252.6h1.44v1.44h-1.44zM316.94 272.04h1.44v1.44h-1.44zM310.34 261.95h1.44v1.44h-1.44zM318.24 256.1h1.44v1.44h-1.44zM308.76 263.7h1.44v1.44h-1.44zM313.2 261.36h1.44v1.44h-1.44zM312.72 257.24h1.44v1.44h-1.44zM306.65 259.46h1.44v1.44h-1.44zM318.43 256.42h1.44v1.44h-1.44zM319.31 262.41h1.44v1.44h-1.44zM323.01 263.73h1.44v1.44h-1.44zM315.79 250.4h1.44v1.44h-1.44zM309.74 245.28h1.44v1.44h-1.44zM312.22 252.98h1.44v1.44h-1.44zM310.15 261.61h1.44v1.44h-1.44zM317.06 269.37h1.44v1.44h-1.44zM308.39 273.36h1.44v1.44h-1.44zM313.79 246.73h1.44v1.44h-1.44zM320.39 260.47h1.44v1.44h-1.44zM318.87 251.14h1.44v1.44h-1.44zM318.81 252.85h1.44v1.44h-1.44zM313.27 261.04h1.44v1.44h-1.44zM309.26 262.26h1.44v1.44h-1.44zM312.86 266.02h1.44v1.44h-1.44zM314.39 264.79h1.44v1.44h-1.44zM310.11 274.15h1.44v1.44h-1.44zM309.61 268.65h1.44v1.44h-1.44zM320.38 258.1h1.44v1.44h-1.44zM321.65 256.05h1.44v1.44h-1.44zM321.27 254.3h1.44v1.44h-1.44zM320.51 254.24h1.44v1.44h-1.44zM309.94 263.11h1.44v1.44h-1.44zM313.73 254.07h1.44v1.44h-1.44zM304.42 257.19h1.44v1.44h-1.44zM317.17 259.89h1.44v1.44h-1.44zM307.46 250.52h1.44v1.44h-1.44zM305.98 254.49h1.44v1.44h-1.44zM306.57 254.61h1.44v1.44h-1.44zM320.25 248.1h1.44v1.44h-1.44zM305.4 250.91h1.44v1.44h-1.44zM316.52 254.45h1.44v1.44h-1.44zM310.42 274.38h1.44v1.44h-1.44zM304.99 258.26h1.44v1.44h-1.44zM322.35 262.7h1.44v1.44h-1.44zM318.52 256.45h1.44v1.44h-1.44zM306.83 241.97h1.44v1.44h-1.44zM307.35 250h1.44v1.44h-1.44zM316.77 253.15h1.44v1.44h-1.44zM313.23 262.43h1.44v1.44h-1.44zM308.26 264.87h1.44v1.44h-1.44zM317.18 251.79h1.44v1.44h-1.44zM315.9 267.95h1.44v1.44h-1.44zM318.13 244.02h1.44v1.44h-1.44zM313.96 253.38h1.44v1.44h-1.44zM318.35 267.63h1.44v1.44h-1.44zM314.3 264.76h1.44v1.44h-1.44zM308.19 261.37h1.44v1.44h-1.44zM304.82 250.07h1.44v1.44h-1.44zM317.88 261.82h1.44v1.44h-1.44zM315.27 257.23h1.44v1.44h-1.44zM315.11 250.34h1.44v1.44h-1.44zM317.06 269.04h1.44v1.44h-1.44zM320.97 257.28h1.44v1.44h-1.44zM316.65 273.79h1.44v1.44h-1.44zM306.39 261.07h1.44v1.44h-1.44zM310.88 260.08h1.44v1.44h-1.44zM313.52 252.66h1.44v1.44h-1.44zM317.97 267.52h1.44v1.44h-1.44zM321.38 268.35h1.44v1.44h-1.44zM307.54 250.58h1.44v1.44h-1.44zM311.62 273.76h1.44v1.44h-1.44zM319.81 274.52h1.44v1.44h-1.44zM306.88 257.32h1.44v1.44h-1.44zM319.36 266.39h1.44v1.44h-1.44zM313.01 266.17h1.44v1.44h-1.44zM318.01 255.87h1.44v1.44h-1.44zM318.07 245.47h1.44v1.44h-1.44zM308.02 270.82h1.44v1.44h-1.44zM307.93 260.33h1.44v1.44h-1.44zM310.61 258.98h1.44v1.44h-1.44zM306.7 255.61h1.44v1.44h-1.44zM316.47 251.41h1.44v1.44h-1.44zM317.18 264.85h1.44v1.44h-1.44zM310.4 256.45h1.44v1.44h-1.44zM317.76 244.39h1.44v1.44h-1.44zM320.91 257.37h1.44v1.44h-1.44zM317.44 261.4h1.44v1.44h-1.44zM307.08 253.58h1.44v1.44h-1.44zM314.52 248.15h1.44v1.44h-1.44zM305.11 262.14h1.44v1.44h-1.44zM322.89 261.44h1.44v1.44h-1.44zM307.21 251.37h1.44v1.44h-1.44zM322.68 262.41h1.44v1.44h-1.44zM318.41 261.46h1.44v1.44h-1.44zM307.65 254.53h1.44v1.44h-1.44zM309.27 272.13h1.44v1.44h-1.44zM306.22 249.73h1.44v1.44h-1.44zM307.72 257.17h1.44v1.44h-1.44zM318.95 251.32h1.44v1.44h-1.44zM310.31 243.5h1.44v1.44h-1.44zM306.89 254.99h1.44v1.44h-1.44zM311.4 260.55h1.44v1.44h-1.44zM319.22 258.42h1.44v1.44h-1.44zM314.52 263.15h1.44v1.44h-1.44zM304.92 257.48h1.44v1.44h-1.44zM306.26 266.68h1.44v1.44h-1.44zM318.73 261.29h1.44v1.44h-1.44zM308.28 269.18h1.44v1.44h-1.44zM320.41 260.7h1.44v1.44h-1.44zM317.49 254.19h1.44v1.44h-1.44zM305.18 252.35h1.44v1.44h-1.44zM313.09 248.91h1.44v1.44h-1.44zM317.88 260.3h1.44v1.44h-1.44zM316.74 245.92h1.44v1.44h-1.44zM316.37 258.9h1.44v1.44h-1.44zM317.4 257.41h1.44v1.44h-1.44zM320.04 244.24h1.44v1.44h-1.44zM311.02 258.78h1.44v1.44h-1.44zM321.05 271.35h1.44v1.44h-1.44zM316.55 261.08h1.44v1.44h-1.44zM313.51 273.48h1.44v1.44h-1.44zM304.72 261.04h1.44v1.44h-1.44zM310.67 267.69h1.44v1.44h-1.44zM311.66 262.13h1.44v1.44h-1.44zM318.42 258.42h1.44v1.44h-1.44zM320.82 252.79h1.44v1.44h-1.44zM307.63 274.75h1.44v1.44h-1.44zM313.98 255.45h1.44v1.44h-1.44zM311.52 260.17h1.44v1.44h-1.44zM308.2 273.79h1.44v1.44h-1.44zM316.37 248.91h1.44v1.44h-1.44zM310.74 262.39h1.44v1.44h-1.44zM311.94 251.7h1.44v1.44h-1.44zM320.9 252.81h1.44v1.44h-1.44zM314.97 266.73h1.44v1.44h-1.44zM318.06 271.31h1.44v1.44h-1.44zM314.89 241.63h1.44v1.44h-1.44zM315.05 239.49h1.44v1.44h-1.44zM317.62 258.37h1.44v1.44h-1.44zM317.99 256.39h1.44v1.44h-1.44zM313.43 262.79h1.44v1.44h-1.44zM318.71 265.06h1.44v1.44h-1.44zM306.52 270.95h1.44v1.44h-1.44zM318.25 273.41h1.44v1.44h-1.44zM314.28 248.37h1.44v1.44h-1.44zM305.51 258.74h1.44v1.44h-1.44zM320.16 270.18h1.44v1.44h-1.44zM305.77 253.81h1.44v1.44h-1.44zM307.4 274.08h1.44v1.44h-1.44zM321.21 260.56h1.44v1.44h-1.44zM308.29 252.8h1.44v1.44h-1.44zM306.91 262.46h1.44v1.44h-1.44zM317.65 258.08h1.44v1.44h-1.44zM321.64 251.39h1.44v1.44h-1.44zM312.33 266.88h1.44v1.44h-1.44zM312.12 259.76h1.44v1.44h-1.44zM304.52 259.8h1.44v1.44h-1.44zM306.81 249.74h1.44v1.44h-1.44zM310.17 248.8h1.44v1.44h-1.44zM305.3 269.44h1.44v1.44h-1.44zM306.22 261.29h1.44v1.44h-1.44zM305.93 263.35h1.44v1.44h-1.44zM313.29 267.07h1.44v1.44h-1.44zM305.66 254.8h1.44v1.44h-1.44zM314.66 258.17h1.44v1.44h-1.44zM307.21 246.06h1.44v1.44h-1.44zM314.43 263.13h1.44v1.44h-1.44zM317.1 273.66h1.44v1.44h-1.44zM315.27 242.33h1.44v1.44h-1.44zM314.19 260.04h1.44v1.44h-1.44zM311.48 251.01h1.44v1.44h-1.44zM312.17 262.92h1.44v1.44h-1.44zM323.01 261.06h1.44v1.44h-1.44zM318.33 267.43h1.44v1.44h-1.44zM319.53 253.98h1.44v1.44h-1.44zM317.74 260.36h1.44v1.44h-1.44zM308.18 267.59h1.44v1.44h-1.44zM307.78 260.76h1.44v1.44h-1.44zM307.45 260.65h1.44v1.44h-1.44zM304.91 267.61h1.44v1.44h-1.44zM320.31 249.06h1.44v1.44h-1.44zM320.66 243.03h1.44v1.44h-1.44zM315.69 248.86h1.44v1.44h-1.44zM312.76 249.31h1.44v1.44h-1.44zM319.06 258.35h1.44v1.44h-1.44zM316.52 261.38h1.44v1.44h-1.44zM305.68 258.92h1.44v1.44h-1.44zM314.12 264.22h1.44v1.44h-1.44zM307.94 269.37h1.44v1.44h-1.44zM314.93 267.34h1.44v1.44h-1.44zM319.65 253.61h1.44v1.44h-1.44zM322.52 260.88h1.44v1.44h-1.44zM312.13 263.75h1.44v1.44h-1.44zM313.08 267.4h1.44v1.44h-1.44zM309.47 257.42h1.44v1.44h-1.44zM307.44 257.43h1.44v1.44h-1.44z"/>
<path fill="#8eaed4" d="M320.69 265.17h1v1h-1zM320.28 260.11h1v1h-1zM320.67 251.7h1v1h-1zM317.49 263h1v1h-1zM309.54 260.08h1v1h-1zM310.7 253.42h1v1h-1zM306.13 258.26h1v1h-1zM311.16 263.71h1v1h-1zM314.62 249.54h1v1h-1zM322.29 265.3h1v1h-1zM321.68 250.21h1v1h-1zM314.34 260.1h1v1h-1zM308.76 254.41h1v1h-1zM313.65 255.1h1v1h-1zM321.07 258.59h1v1h-1zM317.22 260.47h1v1h-1zM307.63 262.73h1v1h-1zM306.46 269.75h1v1h-1zM322.07 264.72h1v1h-1zM307.7 263.34h1v1h-1zM306.42 259h1v1h-1zM309.28 268.82h1v1h-1zM316.23 250.98h1v1h-1zM305.63 256.28h1v1h-1zM315.29 262.03h1v1h-1zM312.56 274.02h1v1h-1zM311.38 261.11h1v1h-1zM311.1 249.25h1v1h-1zM311.18 252.99h1v1h-1zM319.18 254.28h1v1h-1zM313.76 261.71h1v1h-1zM319.74 271.34h1v1h-1zM309.22 273.97h1v1h-1zM313.75 262.87h1v1h-1zM321.65 250.84h1v1h-1zM312.3 261.8h1v1h-1zM307.19 255.32h1v1h-1zM314.22 270.07h1v1h-1zM320.31 273.23h1v1h-1zM308.67 262.27h1v1h-1zM322.35 270.81h1v1h-1zM309.93 254.36h1v1h-1zM311.12 250.89h1v1h-1zM305.72 268.3h1v1h-1zM310.67 252.93h1v1h-1zM307.14 257.32h1v1h-1zM320.47 249.75h1v1h-1zM319.1 273.03h1v1h-1zM313.61 268.8h1v1h-1zM307.47 268.17h1v1h-1zM317.9 259.81h1v1h-1zM307.62 267.1h1v1h-1zM306.52 250.96h1v1h-1zM318.22 262.4h1v1h-1zM321.74 249.65h1v1h-1zM308.91 267.89h1v1h-1zM308.65 258.47h1v1h-1zM315.51 261.24h1v1h-1zM318.56 260.95h1v1h-1zM310.75 257.45h1v1h-1zM321.54 273.04h1v1h-1zM313.66 270.78h1v1h-1zM318.1 263.43h1v1h-1zM319.66 257.43h1v1h-1zM321.71 259.69h1v1h-1zM315.53 249.75h1v1h-1zM319.05 265.78h1v1h-1zM307.16 251.08h1v1h-1zM306.48 251.03h1v1h-1zM321.27 257.63h1v1h-1z"/>
<path d="M304.7 282.3 Q311.49 279.62 314.4 272.5 Q317.31 279.62 324.1 282.3 Z" fill="#7ea3c8" stroke="#11508e" stroke-width="0.8"/>
<line x1="280.5" y1="234.6" x2="280.5" y2="284.65" stroke="#1e1e1e" stroke-width="1.15"/>
<line x1="279.95" y1="284.1" x2="327" y2="284.1" stroke="#1e1e1e" stroke-width="1.15"/>
<line x1="278" y1="282" x2="280.5" y2="282" stroke="#1e1e1e" stroke-width="0.9"/>
<text x="274.2" y="284.56" font-size="7.1" text-anchor="end">0</text>
<line x1="278" y1="273" x2="280.5" y2="273" stroke="#1e1e1e" stroke-width="0.9"/>
<text x="274.2" y="275.56" font-size="7.1" text-anchor="end">1</text>
<line x1="278" y1="264" x2="280.5" y2="264" stroke="#1e1e1e" stroke-width="0.9"/>
<text x="274.2" y="266.56" font-size="7.1" text-anchor="end">2</text>
<line x1="278" y1="255" x2="280.5" y2="255" stroke="#1e1e1e" stroke-width="0.9"/>
<text x="274.2" y="257.56" font-size="7.1" text-anchor="end">3</text>
<line x1="278" y1="246" x2="280.5" y2="246" stroke="#1e1e1e" stroke-width="0.9"/>
<text x="274.2" y="248.56" font-size="7.1" text-anchor="end">4</text>
<line x1="278" y1="237" x2="280.5" y2="237" stroke="#1e1e1e" stroke-width="0.9"/>
<text x="274.2" y="239.56" font-size="7.1" text-anchor="end">5</text>
<line x1="292.9" y1="284.1" x2="292.9" y2="286.1" stroke="#1e1e1e" stroke-width="0.9"/>
<text x="292.9" y="296.16" font-size="7.1" text-anchor="middle">3</text>
<line x1="314.4" y1="284.1" x2="314.4" y2="286.1" stroke="#1e1e1e" stroke-width="0.9"/>
<text x="314.4" y="296.16" font-size="7.1" text-anchor="middle">4</text>
<text x="304.9" y="223.89" font-size="7.2" text-anchor="middle" font-style="italic" textLength="18.2" lengthAdjust="spacingAndGlyphs">Cd69</text>
<text x="305.4" y="232.9" font-size="6.4" text-anchor="middle" textLength="38" lengthAdjust="spacingAndGlyphs" fill="#111">p=1.8×10<tspan font-size="4.5" dy="-2.4">−5</tspan></text>
<line x1="292.4" y1="235.5" x2="316.6" y2="235.5" stroke="#555" stroke-width="1.1"/>
<text x="260.3" y="262.19" font-size="7.9" text-anchor="middle" font-weight="bold" textLength="45.5" lengthAdjust="spacingAndGlyphs" transform="rotate(-90 260.3 259.35)" style="stroke-width:0.05px">Log. norm. expr.</text>
<text x="303.7" y="307.2" font-size="8.9" text-anchor="middle" font-weight="bold" textLength="19" lengthAdjust="spacingAndGlyphs" style="stroke-width:0.1px">Cluster</text>
<line x1="290.1" y1="333.92" x2="290.1" y2="377.6" stroke="#454545" stroke-width="0.75"/>
<path fill="#454545" d="M280.98 350.49h1.44v1.44h-1.44zM287.18 351.4h1.44v1.44h-1.44zM280.08 356.86h1.44v1.44h-1.44zM284.98 355.04h1.44v1.44h-1.44zM285.78 360.5h1.44v1.44h-1.44zM281.88 361.77h1.44v1.44h-1.44zM282.78 364.14h1.44v1.44h-1.44zM288.78 340.84h1.44v1.44h-1.44zM293.98 343.21h1.44v1.44h-1.44zM292.98 345.94h1.44v1.44h-1.44zM296.48 346.85h1.44v1.44h-1.44zM292.38 352.31h1.44v1.44h-1.44zM295.88 357.22h1.44v1.44h-1.44zM297.88 359.04h1.44v1.44h-1.44zM293.88 357.22h1.44v1.44h-1.44zM289.68 361.41h1.44v1.44h-1.44zM288.18 367.78h1.44v1.44h-1.44zM295.08 353.22h1.44v1.44h-1.44z"/>
<rect x="280.8" y="376.9" width="18.6" height="1.5" fill="#454545"/>
<line x1="311.4" y1="350.3" x2="311.4" y2="377.6" stroke="#2f6aa8" stroke-width="0.75"/>
<path fill="#11508e" d="M303.88 355.95h1.44v1.44h-1.44zM305.68 355.95h1.44v1.44h-1.44zM308.48 352.67h1.44v1.44h-1.44zM309.08 355.04h1.44v1.44h-1.44zM311.88 352.31h1.44v1.44h-1.44zM316.28 349.03h1.44v1.44h-1.44zM317.18 351.76h1.44v1.44h-1.44zM315.38 356.86h1.44v1.44h-1.44zM309.88 358.32h1.44v1.44h-1.44zM307.88 365.05h1.44v1.44h-1.44zM307.08 366.32h1.44v1.44h-1.44zM309.08 350.49h1.44v1.44h-1.44zM311.18 356.86h1.44v1.44h-1.44z"/>
<rect x="301.9" y="376.9" width="19" height="1.5" fill="#11508e"/>
<line x1="277.3" y1="332.4" x2="277.3" y2="380.35" stroke="#1e1e1e" stroke-width="1.15"/>
<line x1="276.75" y1="379.8" x2="324.4" y2="379.8" stroke="#1e1e1e" stroke-width="1.15"/>
<line x1="274.8" y1="377.6" x2="277.3" y2="377.6" stroke="#1e1e1e" stroke-width="0.9"/>
<text x="271" y="380.16" font-size="7.1" text-anchor="end">0</text>
<line x1="274.8" y1="359.4" x2="277.3" y2="359.4" stroke="#1e1e1e" stroke-width="0.9"/>
<text x="271" y="361.96" font-size="7.1" text-anchor="end">1</text>
<line x1="274.8" y1="341.2" x2="277.3" y2="341.2" stroke="#1e1e1e" stroke-width="0.9"/>
<text x="271" y="343.76" font-size="7.1" text-anchor="end">2</text>
<line x1="290.1" y1="379.8" x2="290.1" y2="381.8" stroke="#1e1e1e" stroke-width="0.9"/>
<text x="290.1" y="392.36" font-size="7.1" text-anchor="middle">3</text>
<line x1="311.4" y1="379.8" x2="311.4" y2="381.8" stroke="#1e1e1e" stroke-width="0.9"/>
<text x="311.4" y="392.36" font-size="7.1" text-anchor="middle">4</text>
<text x="301" y="320.39" font-size="7.2" text-anchor="middle" font-style="italic" textLength="15.5" lengthAdjust="spacingAndGlyphs">Itgae</text>
<text x="301" y="329" font-size="6.4" text-anchor="middle" textLength="11.4" lengthAdjust="spacingAndGlyphs" fill="#111">p=1</text>
<line x1="288.9" y1="331.3" x2="313.7" y2="331.3" stroke="#555" stroke-width="1.1"/>
<text x="257.5" y="358.94" font-size="7.9" text-anchor="middle" font-weight="bold" textLength="45.5" lengthAdjust="spacingAndGlyphs" transform="rotate(-90 257.5 356.1)" style="stroke-width:0.05px">Log. norm. expr.</text>
<text x="302" y="402.5" font-size="8.9" text-anchor="middle" font-weight="bold" textLength="19.4" lengthAdjust="spacingAndGlyphs" style="stroke-width:0.1px">Cluster</text>
<text x="6.9" y="420.84" font-size="10.2" font-weight="bold" fill="#000">G</text>
<line x1="46.2" y1="451.14" x2="46.2" y2="481.8" stroke="#454545" stroke-width="0.75"/>
<path fill="#454545" d="M48.89 457.44h1.44v1.44h-1.44zM47.02 467.54h1.44v1.44h-1.44zM49.46 464.61h1.44v1.44h-1.44zM44.7 462.69h1.44v1.44h-1.44zM41.93 459.73h1.44v1.44h-1.44zM41.89 459.75h1.44v1.44h-1.44zM49.17 459.25h1.44v1.44h-1.44zM50.21 470.71h1.44v1.44h-1.44zM44.47 470.92h1.44v1.44h-1.44zM43.18 462.54h1.44v1.44h-1.44zM42.21 462.85h1.44v1.44h-1.44zM47.76 476.96h1.44v1.44h-1.44zM48.52 464.86h1.44v1.44h-1.44zM50 464.3h1.44v1.44h-1.44zM48.29 474.16h1.44v1.44h-1.44zM50.83 469.28h1.44v1.44h-1.44zM40.8 456.12h1.44v1.44h-1.44zM42.07 459.72h1.44v1.44h-1.44zM43.54 468.3h1.44v1.44h-1.44zM42.56 472.05h1.44v1.44h-1.44zM38.3 466.3h1.44v1.44h-1.44zM48.33 471.34h1.44v1.44h-1.44zM44 471.82h1.44v1.44h-1.44zM39.41 464.34h1.44v1.44h-1.44zM37.6 465.87h1.44v1.44h-1.44zM41.56 471.71h1.44v1.44h-1.44zM45.89 467.4h1.44v1.44h-1.44zM53.01 463.44h1.44v1.44h-1.44zM51.81 464.98h1.44v1.44h-1.44zM45.59 457.29h1.44v1.44h-1.44zM46.09 461.42h1.44v1.44h-1.44zM52.29 460.51h1.44v1.44h-1.44zM48.06 472.06h1.44v1.44h-1.44zM50.67 462.52h1.44v1.44h-1.44zM42.54 466.5h1.44v1.44h-1.44zM51.48 455.93h1.44v1.44h-1.44zM49.38 469.96h1.44v1.44h-1.44zM49.72 470.53h1.44v1.44h-1.44zM38.65 460.52h1.44v1.44h-1.44zM48.53 472.36h1.44v1.44h-1.44zM42.92 466.87h1.44v1.44h-1.44zM43.83 472.51h1.44v1.44h-1.44zM48.17 470.92h1.44v1.44h-1.44zM45.88 460.41h1.44v1.44h-1.44zM45.22 468.22h1.44v1.44h-1.44zM42.03 462.57h1.44v1.44h-1.44zM43.8 468.95h1.44v1.44h-1.44zM53.24 466.97h1.44v1.44h-1.44zM45.53 467.79h1.44v1.44h-1.44zM37.74 465.76h1.44v1.44h-1.44zM43.79 471h1.44v1.44h-1.44zM53.23 467.31h1.44v1.44h-1.44zM46.9 466.12h1.44v1.44h-1.44zM41.35 466.39h1.44v1.44h-1.44zM42.81 464.66h1.44v1.44h-1.44zM45.24 467.15h1.44v1.44h-1.44zM41.81 467.94h1.44v1.44h-1.44zM45.72 473.21h1.44v1.44h-1.44zM49.44 468.55h1.44v1.44h-1.44zM48.03 466.77h1.44v1.44h-1.44zM45.22 466.72h1.44v1.44h-1.44zM43.05 464.24h1.44v1.44h-1.44zM48.79 478.73h1.44v1.44h-1.44zM37.4 463.96h1.44v1.44h-1.44zM49.81 456.62h1.44v1.44h-1.44zM45.45 471.09h1.44v1.44h-1.44zM43.42 462.88h1.44v1.44h-1.44zM47.56 463.9h1.44v1.44h-1.44zM39.69 456.13h1.44v1.44h-1.44zM41.95 466.76h1.44v1.44h-1.44zM43.48 451.6h1.44v1.44h-1.44zM52.31 469.99h1.44v1.44h-1.44zM53.23 467.68h1.44v1.44h-1.44zM40.21 462.15h1.44v1.44h-1.44z"/>
<rect x="37.4" y="481.1" width="17.6" height="1.5" fill="#454545"/>
<line x1="66.5" y1="437.27" x2="66.5" y2="481.8" stroke="#2f6aa8" stroke-width="0.75"/>
<path fill="#11508e" d="M65 456.11h1.44v1.44h-1.44zM71.39 463.41h1.44v1.44h-1.44zM61.42 447.81h1.44v1.44h-1.44zM63.08 456.43h1.44v1.44h-1.44zM60.37 459.94h1.44v1.44h-1.44zM68.73 468.21h1.44v1.44h-1.44zM72.51 457.18h1.44v1.44h-1.44zM67.54 451.58h1.44v1.44h-1.44zM60.36 461.93h1.44v1.44h-1.44zM69.43 474.6h1.44v1.44h-1.44zM61.87 472.26h1.44v1.44h-1.44zM68.16 451.14h1.44v1.44h-1.44zM67.9 444.33h1.44v1.44h-1.44zM60.45 449.55h1.44v1.44h-1.44zM69.09 455.65h1.44v1.44h-1.44zM58.5 458.5h1.44v1.44h-1.44zM68.82 468.06h1.44v1.44h-1.44zM64.37 448.45h1.44v1.44h-1.44zM63.25 460.77h1.44v1.44h-1.44zM64.1 451.9h1.44v1.44h-1.44zM64.78 455.31h1.44v1.44h-1.44zM68.75 467.71h1.44v1.44h-1.44zM72.81 457.96h1.44v1.44h-1.44zM64.34 457.33h1.44v1.44h-1.44zM70.26 474.56h1.44v1.44h-1.44zM69.11 453.22h1.44v1.44h-1.44zM71.69 465.25h1.44v1.44h-1.44zM64.48 450.31h1.44v1.44h-1.44zM58.64 463.76h1.44v1.44h-1.44zM59.41 468.73h1.44v1.44h-1.44zM73.05 462.02h1.44v1.44h-1.44zM59.41 467.81h1.44v1.44h-1.44zM64.87 441.64h1.44v1.44h-1.44zM68.29 457.88h1.44v1.44h-1.44zM65.66 473.45h1.44v1.44h-1.44zM68.27 446.76h1.44v1.44h-1.44zM65.51 451.67h1.44v1.44h-1.44zM65.73 475.27h1.44v1.44h-1.44zM65.45 466.65h1.44v1.44h-1.44zM67.98 474.87h1.44v1.44h-1.44zM63.35 459.25h1.44v1.44h-1.44zM68.34 459.24h1.44v1.44h-1.44zM64.23 469.03h1.44v1.44h-1.44zM67.95 443.88h1.44v1.44h-1.44zM64.54 472.94h1.44v1.44h-1.44zM67.22 466.19h1.44v1.44h-1.44zM59.71 453.13h1.44v1.44h-1.44zM59.78 466.3h1.44v1.44h-1.44zM71.94 451.79h1.44v1.44h-1.44zM68.71 467.85h1.44v1.44h-1.44zM64.63 463.49h1.44v1.44h-1.44zM62.25 475.01h1.44v1.44h-1.44zM68.27 449.67h1.44v1.44h-1.44zM63.14 474.84h1.44v1.44h-1.44zM64.22 471.17h1.44v1.44h-1.44zM65.62 460.6h1.44v1.44h-1.44zM67.49 454.15h1.44v1.44h-1.44zM63.67 441.7h1.44v1.44h-1.44zM69.72 463.48h1.44v1.44h-1.44zM66.57 469.31h1.44v1.44h-1.44zM68.84 452.61h1.44v1.44h-1.44zM63.92 464.77h1.44v1.44h-1.44zM68.7 448.12h1.44v1.44h-1.44zM70.91 473.21h1.44v1.44h-1.44zM62.53 460.13h1.44v1.44h-1.44zM65.95 442.03h1.44v1.44h-1.44zM67.94 460.08h1.44v1.44h-1.44zM64.37 451.71h1.44v1.44h-1.44zM68.6 451.95h1.44v1.44h-1.44zM70.69 461.34h1.44v1.44h-1.44zM63.96 466.59h1.44v1.44h-1.44zM63.69 453.7h1.44v1.44h-1.44zM61.74 475.1h1.44v1.44h-1.44zM71.82 451.71h1.44v1.44h-1.44zM67.85 457.81h1.44v1.44h-1.44zM63.51 471.49h1.44v1.44h-1.44zM64.04 459h1.44v1.44h-1.44zM62.4 466.8h1.44v1.44h-1.44zM70.99 460.61h1.44v1.44h-1.44zM67.69 466.62h1.44v1.44h-1.44zM61.67 468.07h1.44v1.44h-1.44zM66.73 452.41h1.44v1.44h-1.44zM61.11 460.45h1.44v1.44h-1.44zM62.69 468.14h1.44v1.44h-1.44zM69.3 462.66h1.44v1.44h-1.44zM68.82 469.89h1.44v1.44h-1.44zM64.39 449.57h1.44v1.44h-1.44zM66.19 444.12h1.44v1.44h-1.44zM66.94 457.31h1.44v1.44h-1.44zM71.55 465h1.44v1.44h-1.44zM60.03 470.79h1.44v1.44h-1.44zM64.79 448.75h1.44v1.44h-1.44zM71.73 463.02h1.44v1.44h-1.44zM59.83 451.3h1.44v1.44h-1.44zM67.4 467.85h1.44v1.44h-1.44zM69.72 470.38h1.44v1.44h-1.44zM60.76 454.64h1.44v1.44h-1.44zM62.25 456.42h1.44v1.44h-1.44zM59.52 466.9h1.44v1.44h-1.44zM66.18 455.22h1.44v1.44h-1.44zM72.02 456.35h1.44v1.44h-1.44zM63.95 457.23h1.44v1.44h-1.44zM67.67 454.26h1.44v1.44h-1.44zM61.29 468.56h1.44v1.44h-1.44zM60.5 450.27h1.44v1.44h-1.44zM61.95 472.97h1.44v1.44h-1.44zM59.75 467.39h1.44v1.44h-1.44zM72.04 462.22h1.44v1.44h-1.44zM68.55 463.45h1.44v1.44h-1.44zM59.54 455.84h1.44v1.44h-1.44zM60.43 453.03h1.44v1.44h-1.44zM70.44 471.36h1.44v1.44h-1.44zM68.12 446.24h1.44v1.44h-1.44zM65.92 468.18h1.44v1.44h-1.44zM67.71 469.46h1.44v1.44h-1.44zM69.95 469.46h1.44v1.44h-1.44zM62.83 460.45h1.44v1.44h-1.44zM71 471.6h1.44v1.44h-1.44zM63.75 453.27h1.44v1.44h-1.44zM62.09 468.75h1.44v1.44h-1.44zM63.69 457.02h1.44v1.44h-1.44zM65.45 459.25h1.44v1.44h-1.44zM62.8 466.12h1.44v1.44h-1.44zM61.98 473.95h1.44v1.44h-1.44zM65.6 467.76h1.44v1.44h-1.44zM68.27 455.81h1.44v1.44h-1.44zM62.76 448.97h1.44v1.44h-1.44zM63.24 459.73h1.44v1.44h-1.44zM70.91 453.25h1.44v1.44h-1.44zM64.58 449.74h1.44v1.44h-1.44zM65.3 471.68h1.44v1.44h-1.44zM72.32 457.71h1.44v1.44h-1.44zM60.81 451.37h1.44v1.44h-1.44zM70.65 465.19h1.44v1.44h-1.44zM62.92 457.08h1.44v1.44h-1.44zM68.55 463.49h1.44v1.44h-1.44zM65.99 460.41h1.44v1.44h-1.44zM69.24 456.24h1.44v1.44h-1.44zM63.43 473.94h1.44v1.44h-1.44zM59.11 460.71h1.44v1.44h-1.44zM70.48 448.82h1.44v1.44h-1.44zM63.74 462.52h1.44v1.44h-1.44zM60.81 470.68h1.44v1.44h-1.44zM62.21 474.85h1.44v1.44h-1.44zM60.18 465.7h1.44v1.44h-1.44zM69.95 464.53h1.44v1.44h-1.44zM64.69 469.71h1.44v1.44h-1.44zM64.48 442.97h1.44v1.44h-1.44zM66.32 462.62h1.44v1.44h-1.44zM69.82 468.83h1.44v1.44h-1.44zM68.65 465.62h1.44v1.44h-1.44zM65.85 457.85h1.44v1.44h-1.44zM66.37 466.72h1.44v1.44h-1.44zM70.38 462h1.44v1.44h-1.44zM65.01 461.43h1.44v1.44h-1.44zM66.47 451.32h1.44v1.44h-1.44zM67.99 446.17h1.44v1.44h-1.44zM71.9 461.42h1.44v1.44h-1.44zM61.1 472.85h1.44v1.44h-1.44zM67.76 463.26h1.44v1.44h-1.44zM61.82 456.1h1.44v1.44h-1.44zM61.19 455.97h1.44v1.44h-1.44zM66.37 459.8h1.44v1.44h-1.44zM59.88 470.05h1.44v1.44h-1.44zM66.19 457.93h1.44v1.44h-1.44zM59.22 460.72h1.44v1.44h-1.44zM60.78 456.8h1.44v1.44h-1.44zM65.26 464.94h1.44v1.44h-1.44zM60.91 457.55h1.44v1.44h-1.44zM63.19 462.32h1.44v1.44h-1.44zM63.4 440.21h1.44v1.44h-1.44zM67.56 450.74h1.44v1.44h-1.44zM71.57 460.23h1.44v1.44h-1.44zM61.63 470.69h1.44v1.44h-1.44zM71.49 464.16h1.44v1.44h-1.44zM65.94 455.17h1.44v1.44h-1.44zM70.3 468.26h1.44v1.44h-1.44zM59.21 465.54h1.44v1.44h-1.44zM61.61 456.03h1.44v1.44h-1.44zM63.84 447.84h1.44v1.44h-1.44zM64.52 445.05h1.44v1.44h-1.44zM65.12 447.39h1.44v1.44h-1.44zM60 462.78h1.44v1.44h-1.44zM72.08 465.45h1.44v1.44h-1.44zM64.68 455.2h1.44v1.44h-1.44zM59.76 453.79h1.44v1.44h-1.44zM71.67 461.82h1.44v1.44h-1.44zM66.7 446.89h1.44v1.44h-1.44zM62.92 453.63h1.44v1.44h-1.44zM72.59 455.96h1.44v1.44h-1.44zM66.52 468.65h1.44v1.44h-1.44zM64.97 441.66h1.44v1.44h-1.44zM68.31 467.64h1.44v1.44h-1.44zM58.77 462.4h1.44v1.44h-1.44zM67.71 473.3h1.44v1.44h-1.44zM59.79 460.22h1.44v1.44h-1.44zM59.84 466.37h1.44v1.44h-1.44zM70.74 464.63h1.44v1.44h-1.44zM64.53 461.78h1.44v1.44h-1.44zM65.11 446.39h1.44v1.44h-1.44zM61.08 461.04h1.44v1.44h-1.44zM69.9 471.36h1.44v1.44h-1.44zM71.22 455.31h1.44v1.44h-1.44zM68.21 461.5h1.44v1.44h-1.44zM68.54 458.94h1.44v1.44h-1.44zM69.54 470.13h1.44v1.44h-1.44zM67.07 473.26h1.44v1.44h-1.44zM72.32 458.67h1.44v1.44h-1.44zM68.15 464.72h1.44v1.44h-1.44zM67.78 456.23h1.44v1.44h-1.44z"/>
<path d="M58.7 482.1 Q64.16 480.75 66.5 477.6 Q68.84 480.75 74.3 482.1 Z" fill="#7ea3c8" stroke="#11508e" stroke-width="0.8"/>
<line x1="33.5" y1="436.2" x2="33.5" y2="484.35" stroke="#1e1e1e" stroke-width="1.15"/>
<line x1="32.95" y1="483.8" x2="75.4" y2="483.8" stroke="#1e1e1e" stroke-width="1.15"/>
<line x1="31" y1="481.8" x2="33.5" y2="481.8" stroke="#1e1e1e" stroke-width="0.9"/>
<text x="27.2" y="484.36" font-size="7.1" text-anchor="end">0</text>
<line x1="31" y1="467.2" x2="33.5" y2="467.2" stroke="#1e1e1e" stroke-width="0.9"/>
<text x="27.2" y="469.76" font-size="7.1" text-anchor="end">1</text>
<line x1="31" y1="452.6" x2="33.5" y2="452.6" stroke="#1e1e1e" stroke-width="0.9"/>
<text x="27.2" y="455.16" font-size="7.1" text-anchor="end">2</text>
<line x1="31" y1="438" x2="33.5" y2="438" stroke="#1e1e1e" stroke-width="0.9"/>
<text x="27.2" y="440.56" font-size="7.1" text-anchor="end">3</text>
<line x1="46.2" y1="483.8" x2="46.2" y2="485.8" stroke="#1e1e1e" stroke-width="0.9"/>
<text x="46.2" y="495.86" font-size="7.1" text-anchor="middle">3</text>
<line x1="66.5" y1="483.8" x2="66.5" y2="485.8" stroke="#1e1e1e" stroke-width="0.9"/>
<text x="66.5" y="495.86" font-size="7.1" text-anchor="middle">4</text>
<text x="55.5" y="424.89" font-size="7.2" text-anchor="middle" font-style="italic" textLength="15" lengthAdjust="spacingAndGlyphs">Il1rl1</text>
<text x="54.8" y="433.1" font-size="6.4" text-anchor="middle" textLength="26" lengthAdjust="spacingAndGlyphs" fill="#111">p=0.001</text>
<line x1="43" y1="435.1" x2="67.7" y2="435.1" stroke="#555" stroke-width="1.1"/>
<text x="12.9" y="462.84" font-size="7.9" text-anchor="middle" font-weight="bold" textLength="45.5" lengthAdjust="spacingAndGlyphs" transform="rotate(-90 12.9 460)" style="stroke-width:0.05px">Log. norm. expr.</text>
<text x="54.2" y="506.3" font-size="8.9" text-anchor="middle" font-weight="bold" textLength="19.2" lengthAdjust="spacingAndGlyphs" style="stroke-width:0.1px">Cluster</text>
<text x="6.9" y="216.25" font-size="10.5" font-weight="bold" fill="#000">C</text>
<line x1="37.4" y1="248" x2="40.6" y2="248" stroke="#1e1e1e" stroke-width="0.9"/>
<text x="34.5" y="250.74" font-size="7.6" text-anchor="end" textLength="17" lengthAdjust="spacingAndGlyphs">1000</text>
<line x1="37.4" y1="273.1" x2="40.6" y2="273.1" stroke="#1e1e1e" stroke-width="0.9"/>
<text x="35.5" y="275.84" font-size="7.6" text-anchor="end" textLength="13.2" lengthAdjust="spacingAndGlyphs">900</text>
<line x1="37.4" y1="297.9" x2="40.6" y2="297.9" stroke="#1e1e1e" stroke-width="0.9"/>
<text x="35.5" y="300.64" font-size="7.6" text-anchor="end" textLength="13.2" lengthAdjust="spacingAndGlyphs">800</text>
<line x1="37.4" y1="322.5" x2="40.6" y2="322.5" stroke="#1e1e1e" stroke-width="0.9"/>
<text x="35.5" y="325.24" font-size="7.6" text-anchor="end" textLength="13.2" lengthAdjust="spacingAndGlyphs">700</text>
<line x1="37.4" y1="347.5" x2="40.6" y2="347.5" stroke="#1e1e1e" stroke-width="0.9"/>
<text x="35.5" y="350.24" font-size="7.6" text-anchor="end" textLength="13.2" lengthAdjust="spacingAndGlyphs">600</text>
<rect x="52.7" y="263.7" width="4.2" height="4.2" fill="#bcbcbc"/>
<rect x="52.7" y="271" width="4.2" height="4.2" fill="#bcbcbc"/>
<rect x="48.3" y="289.1" width="4.2" height="4.2" fill="#bcbcbc"/>
<rect x="57.5" y="291.9" width="4.2" height="4.2" fill="#bcbcbc"/>
<rect x="52.7" y="300.6" width="4.2" height="4.2" fill="#bcbcbc"/>
<rect x="57.5" y="310.2" width="4.2" height="4.2" fill="#bcbcbc"/>
<rect x="48.3" y="313.1" width="4.2" height="4.2" fill="#bcbcbc"/>
<path fill="#11508e" d="M76.3 270.7L78.7 273.1L76.3 275.5L73.9 273.1Z"/>
<path fill="#11508e" d="M71.5 299.5L73.9 301.9L71.5 304.3L69.1 301.9Z"/>
<path fill="#11508e" d="M81.2 298.9L83.6 301.3L81.2 303.7L78.8 301.3Z"/>
<path fill="#11508e" d="M74.8 302.6L77.2 305L74.8 307.4L72.4 305Z"/>
<path fill="#11508e" d="M77.8 302.6L80.2 305L77.8 307.4L75.4 305Z"/>
<path fill="#11508e" d="M76.3 315.3L78.7 317.7L76.3 320.1L73.9 317.7Z"/>
<path fill="#11508e" d="M76.3 322L78.7 324.4L76.3 326.8L73.9 324.4Z"/>
<line x1="54.8" y1="274.4" x2="54.8" y2="312" stroke="#2a2a2a" stroke-width="1.1"/>
<line x1="50.5" y1="274.4" x2="59.1" y2="274.4" stroke="#2a2a2a" stroke-width="1.1"/>
<line x1="50.5" y1="312" x2="59.1" y2="312" stroke="#2a2a2a" stroke-width="1.1"/>
<line x1="51.2" y1="293.5" x2="58.4" y2="293.5" stroke="#2a2a2a" stroke-width="1.1"/>
<line x1="76.3" y1="287.9" x2="76.3" y2="320.6" stroke="#2a2a2a" stroke-width="1.1"/>
<line x1="72" y1="287.9" x2="80.6" y2="287.9" stroke="#2a2a2a" stroke-width="1.1"/>
<line x1="72" y1="320.6" x2="80.6" y2="320.6" stroke="#2a2a2a" stroke-width="1.1"/>
<line x1="71.3" y1="304.3" x2="81.3" y2="304.3" stroke="#2a2a2a" stroke-width="1.1"/>
<line x1="40.6" y1="245.4" x2="40.6" y2="348.05" stroke="#1e1e1e" stroke-width="1.15"/>
<line x1="40.05" y1="347.5" x2="89" y2="347.5" stroke="#1e1e1e" stroke-width="1.15"/>
<line x1="55.8" y1="347.5" x2="55.8" y2="349.7" stroke="#1e1e1e" stroke-width="0.9"/>
<line x1="76.4" y1="347.5" x2="76.4" y2="349.7" stroke="#1e1e1e" stroke-width="0.9"/>
<text x="65.8" y="241.65" font-size="6.8" text-anchor="middle" textLength="17.7" lengthAdjust="spacingAndGlyphs">CD81</text>
<line x1="109.8" y1="248.7" x2="113" y2="248.7" stroke="#1e1e1e" stroke-width="0.9"/>
<text x="106.9" y="251.44" font-size="7.6" text-anchor="end" textLength="12.5" lengthAdjust="spacingAndGlyphs">200</text>
<line x1="109.8" y1="268.6" x2="113" y2="268.6" stroke="#1e1e1e" stroke-width="0.9"/>
<text x="106.9" y="271.34" font-size="7.6" text-anchor="end" textLength="12.5" lengthAdjust="spacingAndGlyphs">180</text>
<line x1="109.8" y1="288.5" x2="113" y2="288.5" stroke="#1e1e1e" stroke-width="0.9"/>
<text x="106.9" y="291.24" font-size="7.6" text-anchor="end" textLength="12.5" lengthAdjust="spacingAndGlyphs">160</text>
<line x1="109.8" y1="308.2" x2="113" y2="308.2" stroke="#1e1e1e" stroke-width="0.9"/>
<text x="106.9" y="310.94" font-size="7.6" text-anchor="end" textLength="12.5" lengthAdjust="spacingAndGlyphs">140</text>
<line x1="109.8" y1="327.9" x2="113" y2="327.9" stroke="#1e1e1e" stroke-width="0.9"/>
<text x="106.9" y="330.64" font-size="7.6" text-anchor="end" textLength="12.5" lengthAdjust="spacingAndGlyphs">120</text>
<line x1="109.8" y1="347.6" x2="113" y2="347.6" stroke="#1e1e1e" stroke-width="0.9"/>
<text x="106.9" y="350.34" font-size="7.6" text-anchor="end" textLength="12.5" lengthAdjust="spacingAndGlyphs">100</text>
<rect x="120.6" y="263.2" width="4.2" height="4.2" fill="#bcbcbc"/>
<rect x="130.2" y="266.3" width="4.2" height="4.2" fill="#bcbcbc"/>
<rect x="120.6" y="275.2" width="4.2" height="4.2" fill="#bcbcbc"/>
<rect x="130.2" y="277" width="4.2" height="4.2" fill="#bcbcbc"/>
<rect x="120.6" y="281.4" width="4.2" height="4.2" fill="#bcbcbc"/>
<rect x="130.2" y="283.3" width="4.2" height="4.2" fill="#bcbcbc"/>
<rect x="125.4" y="291.2" width="4.2" height="4.2" fill="#bcbcbc"/>
<path fill="#11508e" d="M148.9 301.8L151.3 304.2L148.9 306.6L146.5 304.2Z"/>
<path fill="#11508e" d="M144.2 310.6L146.6 313L144.2 315.4L141.8 313Z"/>
<path fill="#11508e" d="M147.3 310.6L149.7 313L147.3 315.4L144.9 313Z"/>
<path fill="#11508e" d="M151 310.6L153.4 313L151 315.4L148.6 313Z"/>
<path fill="#11508e" d="M154 310.6L156.4 313L154 315.4L151.6 313Z"/>
<path fill="#11508e" d="M148.9 323L151.3 325.4L148.9 327.8L146.5 325.4Z"/>
<path fill="#11508e" d="M149.5 307.6L151.9 310L149.5 312.4L147.1 310Z"/>
<line x1="127.5" y1="269.4" x2="127.5" y2="288.5" stroke="#2a2a2a" stroke-width="1.1"/>
<line x1="124.3" y1="269.4" x2="130.7" y2="269.4" stroke="#2a2a2a" stroke-width="1.1"/>
<line x1="124.3" y1="288.5" x2="130.7" y2="288.5" stroke="#2a2a2a" stroke-width="1.1"/>
<line x1="124.3" y1="278.9" x2="130.7" y2="278.9" stroke="#2a2a2a" stroke-width="1.1"/>
<line x1="148.9" y1="307.8" x2="148.9" y2="319.6" stroke="#2a2a2a" stroke-width="1.1"/>
<line x1="145.4" y1="307.8" x2="152.4" y2="307.8" stroke="#2a2a2a" stroke-width="1.1"/>
<line x1="145.4" y1="319.6" x2="152.4" y2="319.6" stroke="#2a2a2a" stroke-width="1.1"/>
<line x1="144.4" y1="313" x2="153.4" y2="313" stroke="#2a2a2a" stroke-width="1.1"/>
<line x1="113" y1="246.2" x2="113" y2="348.15" stroke="#1e1e1e" stroke-width="1.15"/>
<line x1="112.45" y1="347.6" x2="163.4" y2="347.6" stroke="#1e1e1e" stroke-width="1.15"/>
<line x1="127.5" y1="347.6" x2="127.5" y2="349.8" stroke="#1e1e1e" stroke-width="0.9"/>
<line x1="148.9" y1="347.6" x2="148.9" y2="349.8" stroke="#1e1e1e" stroke-width="0.9"/>
<text x="138.2" y="241.75" font-size="6.8" text-anchor="middle" textLength="20.2" lengthAdjust="spacingAndGlyphs">LAG-3</text>
<line x1="130.2" y1="257.4" x2="153.9" y2="257.4" stroke="#222" stroke-width="1"/>
<text x="141.8" y="258.3" font-size="7.5" text-anchor="middle" textLength="7.8" lengthAdjust="spacingAndGlyphs">***</text>
<line x1="187.5" y1="248.7" x2="190.7" y2="248.7" stroke="#1e1e1e" stroke-width="0.9"/>
<text x="184.6" y="251.44" font-size="7.6" text-anchor="end" textLength="18.3" lengthAdjust="spacingAndGlyphs">2000</text>
<line x1="187.5" y1="273.5" x2="190.7" y2="273.5" stroke="#1e1e1e" stroke-width="0.9"/>
<text x="184.6" y="276.24" font-size="7.6" text-anchor="end" textLength="18.3" lengthAdjust="spacingAndGlyphs">1500</text>
<line x1="187.5" y1="298" x2="190.7" y2="298" stroke="#1e1e1e" stroke-width="0.9"/>
<text x="184.6" y="300.74" font-size="7.6" text-anchor="end" textLength="18.3" lengthAdjust="spacingAndGlyphs">1000</text>
<line x1="187.5" y1="322.7" x2="190.7" y2="322.7" stroke="#1e1e1e" stroke-width="0.9"/>
<text x="184.6" y="325.44" font-size="7.6" text-anchor="end" textLength="13.7" lengthAdjust="spacingAndGlyphs">500</text>
<line x1="187.5" y1="347.6" x2="190.7" y2="347.6" stroke="#1e1e1e" stroke-width="0.9"/>
<text x="184.6" y="350.34" font-size="7.6" text-anchor="end" textLength="4.6" lengthAdjust="spacingAndGlyphs">0</text>
<rect x="201.9" y="265.6" width="4.2" height="4.2" fill="#bcbcbc"/>
<rect x="201.9" y="272.1" width="4.2" height="4.2" fill="#bcbcbc"/>
<rect x="197.3" y="280.8" width="4.2" height="4.2" fill="#bcbcbc"/>
<rect x="206.6" y="282.2" width="4.2" height="4.2" fill="#bcbcbc"/>
<rect x="201.9" y="284.9" width="4.2" height="4.2" fill="#bcbcbc"/>
<rect x="204.6" y="289.5" width="4.2" height="4.2" fill="#bcbcbc"/>
<rect x="199.4" y="293.2" width="4.2" height="4.2" fill="#bcbcbc"/>
<path fill="#11508e" d="M221.2 299.1L223.6 301.5L221.2 303.9L218.8 301.5Z"/>
<path fill="#11508e" d="M225.3 301.1L227.7 303.5L225.3 305.9L222.9 303.5Z"/>
<path fill="#11508e" d="M227 303.1L229.4 305.5L227 307.9L224.6 305.5Z"/>
<path fill="#11508e" d="M221 304.3L223.4 306.7L221 309.1L218.6 306.7Z"/>
<path fill="#11508e" d="M231.5 305.4L233.9 307.8L231.5 310.2L229.1 307.8Z"/>
<path fill="#11508e" d="M223.2 308.4L225.6 310.8L223.2 313.2L220.8 310.8Z"/>
<path fill="#11508e" d="M228.5 309.4L230.9 311.8L228.5 314.2L226.1 311.8Z"/>
<path fill="#11508e" d="M221.3 310.6L223.7 313L221.3 315.4L218.9 313Z"/>
<path fill="#11508e" d="M225 304.6L227.4 307L225 309.4L222.6 307Z"/>
<line x1="204" y1="273.5" x2="204" y2="292" stroke="#2a2a2a" stroke-width="1.1"/>
<line x1="201" y1="273.5" x2="207" y2="273.5" stroke="#2a2a2a" stroke-width="1.1"/>
<line x1="201" y1="292" x2="207" y2="292" stroke="#2a2a2a" stroke-width="1.1"/>
<line x1="200.5" y1="283.5" x2="207.5" y2="283.5" stroke="#2a2a2a" stroke-width="1.1"/>
<line x1="226" y1="303.6" x2="226" y2="311.6" stroke="#2a2a2a" stroke-width="1.1"/>
<line x1="223" y1="303.6" x2="229" y2="303.6" stroke="#2a2a2a" stroke-width="1.1"/>
<line x1="223" y1="311.6" x2="229" y2="311.6" stroke="#2a2a2a" stroke-width="1.1"/>
<line x1="222" y1="307.4" x2="230" y2="307.4" stroke="#2a2a2a" stroke-width="1.1"/>
<line x1="190.7" y1="245.6" x2="190.7" y2="348.15" stroke="#1e1e1e" stroke-width="1.15"/>
<line x1="190.15" y1="347.6" x2="239.8" y2="347.6" stroke="#1e1e1e" stroke-width="1.15"/>
<line x1="204" y1="347.6" x2="204" y2="349.8" stroke="#1e1e1e" stroke-width="0.9"/>
<line x1="226" y1="347.6" x2="226" y2="349.8" stroke="#1e1e1e" stroke-width="0.9"/>
<text x="214.8" y="241.75" font-size="6.8" text-anchor="middle" textLength="14.9" lengthAdjust="spacingAndGlyphs">PD-1</text>
<line x1="207.3" y1="256.3" x2="232.6" y2="256.3" stroke="#222" stroke-width="1"/>
<text x="219.7" y="256.9" font-size="7.5" text-anchor="middle" textLength="7.8" lengthAdjust="spacingAndGlyphs">***</text>
<text x="12.7" y="300.38" font-size="8" text-anchor="middle" font-weight="bold" textLength="31" lengthAdjust="spacingAndGlyphs" transform="rotate(-90 12.7 297.5)">Geom. MFI</text>
<rect x="76.7" y="358.15" width="3.5" height="3.5" fill="#bcbcbc"/>
<text x="83.5" y="362.55" font-size="6.8" textLength="51" lengthAdjust="spacingAndGlyphs">GM-CSF<tspan font-size="4" dy="-2">+</tspan><tspan dy="2"> IFN-γ</tspan><tspan font-size="4" dy="-2">+</tspan></text>
<path fill="#11508e" d="M143.6 357L146.7 360.1L143.6 363.2L140.5 360.1Z"/>
<text x="150.2" y="362.55" font-size="6.8" textLength="50.5" lengthAdjust="spacingAndGlyphs">GM-CSF<tspan font-size="4" dy="-2">+</tspan><tspan dy="2"> IFN-γ</tspan><tspan font-size="4" dy="-2">−</tspan></text>
<text x="426.6" y="216.85" font-size="10.5" font-weight="bold" fill="#000">F</text>
<line x1="457.4" y1="248.2" x2="460.6" y2="248.2" stroke="#1e1e1e" stroke-width="0.9"/>
<text x="454.5" y="250.94" font-size="7.6" text-anchor="end" textLength="13.4" lengthAdjust="spacingAndGlyphs">100</text>
<line x1="457.4" y1="262.8" x2="460.6" y2="262.8" stroke="#1e1e1e" stroke-width="0.9"/>
<text x="452.9" y="265.54" font-size="7.6" text-anchor="end" textLength="8.6" lengthAdjust="spacingAndGlyphs">98</text>
<line x1="457.4" y1="277.4" x2="460.6" y2="277.4" stroke="#1e1e1e" stroke-width="0.9"/>
<text x="452.9" y="280.14" font-size="7.6" text-anchor="end" textLength="8.6" lengthAdjust="spacingAndGlyphs">96</text>
<line x1="457.4" y1="291.7" x2="460.6" y2="291.7" stroke="#1e1e1e" stroke-width="0.9"/>
<text x="452.9" y="294.44" font-size="7.6" text-anchor="end" textLength="8.6" lengthAdjust="spacingAndGlyphs">94</text>
<line x1="457.4" y1="306.1" x2="460.6" y2="306.1" stroke="#1e1e1e" stroke-width="0.9"/>
<text x="452.9" y="308.84" font-size="7.6" text-anchor="end" textLength="8.6" lengthAdjust="spacingAndGlyphs">92</text>
<line x1="457.4" y1="320.7" x2="460.6" y2="320.7" stroke="#1e1e1e" stroke-width="0.9"/>
<text x="452.9" y="323.44" font-size="7.6" text-anchor="end" textLength="8.6" lengthAdjust="spacingAndGlyphs">90</text>
<line x1="457.4" y1="335.4" x2="460.6" y2="335.4" stroke="#1e1e1e" stroke-width="0.9"/>
<text x="452.9" y="338.14" font-size="7.6" text-anchor="end" textLength="8.6" lengthAdjust="spacingAndGlyphs">88</text>
<rect x="467.7" y="281.4" width="4.2" height="4.2" fill="#bcbcbc"/>
<rect x="474.1" y="279.9" width="4.2" height="4.2" fill="#bcbcbc"/>
<rect x="479.2" y="278.5" width="4.2" height="4.2" fill="#bcbcbc"/>
<rect x="479.2" y="292.2" width="4.2" height="4.2" fill="#bcbcbc"/>
<rect x="473.7" y="296.4" width="4.2" height="4.2" fill="#bcbcbc"/>
<rect x="467.7" y="303.3" width="4.2" height="4.2" fill="#bcbcbc"/>
<rect x="473.7" y="306.9" width="4.2" height="4.2" fill="#bcbcbc"/>
<rect x="479.2" y="306.9" width="4.2" height="4.2" fill="#bcbcbc"/>
<rect x="473.7" y="326.5" width="4.2" height="4.2" fill="#bcbcbc"/>
<path fill="#11508e" d="M496.2 259L498.6 261.4L496.2 263.8L493.8 261.4Z"/>
<path fill="#11508e" d="M493 262.3L495.4 264.7L493 267.1L490.6 264.7Z"/>
<path fill="#11508e" d="M499.5 263.1L501.9 265.5L499.5 267.9L497.1 265.5Z"/>
<path fill="#11508e" d="M503.6 264.6L506 267L503.6 269.4L501.2 267Z"/>
<path fill="#11508e" d="M493 267.1L495.4 269.5L493 271.9L490.6 269.5Z"/>
<path fill="#11508e" d="M498 267.1L500.4 269.5L498 271.9L495.6 269.5Z"/>
<path fill="#11508e" d="M503.6 268.1L506 270.5L503.6 272.9L501.2 270.5Z"/>
<path fill="#11508e" d="M498.5 271.1L500.9 273.5L498.5 275.9L496.1 273.5Z"/>
<path fill="#11508e" d="M493 274.1L495.4 276.5L493 278.9L490.6 276.5Z"/>
<path fill="#11508e" d="M500 273.1L502.4 275.5L500 277.9L497.6 275.5Z"/>
<path fill="#11508e" d="M504 272.1L506.4 274.5L504 276.9L501.6 274.5Z"/>
<line x1="476.2" y1="283.5" x2="476.2" y2="314.5" stroke="#2a2a2a" stroke-width="1.1"/>
<line x1="472.3" y1="283.5" x2="480.1" y2="283.5" stroke="#2a2a2a" stroke-width="1.1"/>
<line x1="472.3" y1="314.5" x2="480.1" y2="314.5" stroke="#2a2a2a" stroke-width="1.1"/>
<line x1="470" y1="298.8" x2="482.4" y2="298.8" stroke="#2a2a2a" stroke-width="1.1"/>
<line x1="498.1" y1="264.3" x2="498.1" y2="273.4" stroke="#2a2a2a" stroke-width="1.1"/>
<line x1="494.6" y1="264.3" x2="501.6" y2="264.3" stroke="#2a2a2a" stroke-width="1.1"/>
<line x1="494.6" y1="273.4" x2="501.6" y2="273.4" stroke="#2a2a2a" stroke-width="1.1"/>
<line x1="493.1" y1="269.2" x2="503.1" y2="269.2" stroke="#2a2a2a" stroke-width="1.1"/>
<line x1="460.6" y1="245.4" x2="460.6" y2="335.95" stroke="#1e1e1e" stroke-width="1.15"/>
<line x1="460.05" y1="335.4" x2="513.6" y2="335.4" stroke="#1e1e1e" stroke-width="1.15"/>
<line x1="475.8" y1="335.4" x2="475.8" y2="337.6" stroke="#1e1e1e" stroke-width="0.9"/>
<line x1="498.1" y1="335.4" x2="498.1" y2="337.6" stroke="#1e1e1e" stroke-width="0.9"/>
<line x1="476.2" y1="254.4" x2="495" y2="254.4" stroke="#222" stroke-width="1"/>
<text x="485.7" y="255.5" font-size="7.5" text-anchor="middle" textLength="10.4" lengthAdjust="spacingAndGlyphs">****</text>
<text x="431.8" y="293.82" font-size="8.4" text-anchor="middle" font-weight="bold" textLength="65.5" lengthAdjust="spacingAndGlyphs" transform="rotate(-90 431.8 290.8)">% CD69<tspan font-size="4.8" dy="-2.4">+</tspan><tspan dy="2.4"> of population</tspan></text>
<rect x="455.3" y="345.8" width="4.6" height="4.6" fill="#bcbcbc"/>
<text x="462.7" y="350.75" font-size="6.8" textLength="51.5" lengthAdjust="spacingAndGlyphs">GM-CSF<tspan font-size="4" dy="-2">+</tspan><tspan dy="2"> IFN-γ</tspan><tspan font-size="4" dy="-2">+</tspan></text>
<path fill="#11508e" d="M457.7 355.4L460.8 358.5L457.7 361.6L454.6 358.5Z"/>
<text x="462.7" y="360.95" font-size="6.8" textLength="51.5" lengthAdjust="spacingAndGlyphs">GM-CSF<tspan font-size="4" dy="-2">+</tspan><tspan dy="2"> IFN-γ</tspan><tspan font-size="4" dy="-2">−</tspan></text>
<text x="249" y="420.19" font-size="10" font-weight="bold" fill="#000">I</text>
<line x1="273.5" y1="417.7" x2="276.7" y2="417.7" stroke="#1e1e1e" stroke-width="0.9"/>
<text x="270.6" y="420.44" font-size="7.6" text-anchor="end" textLength="9.1" lengthAdjust="spacingAndGlyphs">20</text>
<line x1="273.5" y1="438.5" x2="276.7" y2="438.5" stroke="#1e1e1e" stroke-width="0.9"/>
<text x="270.6" y="441.24" font-size="7.6" text-anchor="end" textLength="9.1" lengthAdjust="spacingAndGlyphs">15</text>
<line x1="273.5" y1="459.2" x2="276.7" y2="459.2" stroke="#1e1e1e" stroke-width="0.9"/>
<text x="270.6" y="461.94" font-size="7.6" text-anchor="end" textLength="9.1" lengthAdjust="spacingAndGlyphs">10</text>
<line x1="273.5" y1="480.2" x2="276.7" y2="480.2" stroke="#1e1e1e" stroke-width="0.9"/>
<text x="270.6" y="482.94" font-size="7.6" text-anchor="end" textLength="4.6" lengthAdjust="spacingAndGlyphs">5</text>
<line x1="273.5" y1="501" x2="276.7" y2="501" stroke="#1e1e1e" stroke-width="0.9"/>
<text x="270.6" y="503.74" font-size="7.6" text-anchor="end" textLength="4.6" lengthAdjust="spacingAndGlyphs">0</text>
<rect x="286.4" y="493.4" width="4.2" height="4.2" fill="#bcbcbc"/>
<rect x="288.9" y="491.4" width="4.2" height="4.2" fill="#bcbcbc"/>
<rect x="291.4" y="489.4" width="4.2" height="4.2" fill="#bcbcbc"/>
<rect x="292.4" y="492.9" width="4.2" height="4.2" fill="#bcbcbc"/>
<rect x="293.9" y="494.9" width="4.2" height="4.2" fill="#bcbcbc"/>
<rect x="287.9" y="495.4" width="4.2" height="4.2" fill="#bcbcbc"/>
<rect x="285.9" y="496.4" width="4.2" height="4.2" fill="#bcbcbc"/>
<rect x="289.9" y="494.9" width="4.2" height="4.2" fill="#bcbcbc"/>
<rect x="290.9" y="493.9" width="4.2" height="4.2" fill="#bcbcbc"/>
<rect x="287.4" y="492.9" width="4.2" height="4.2" fill="#bcbcbc"/>
<rect x="289.4" y="488.4" width="4.2" height="4.2" fill="#bcbcbc"/>
<path fill="#11508e" d="M312.4 435.5L314.8 437.9L312.4 440.3L310 437.9Z"/>
<path fill="#11508e" d="M315.4 439.1L317.8 441.5L315.4 443.9L313 441.5Z"/>
<path fill="#11508e" d="M305.8 442L308.2 444.4L305.8 446.8L303.4 444.4Z"/>
<path fill="#11508e" d="M309.2 441.8L311.6 444.2L309.2 446.6L306.8 444.2Z"/>
<path fill="#11508e" d="M312.3 440.9L314.7 443.3L312.3 445.7L309.9 443.3Z"/>
<path fill="#11508e" d="M309.2 445.9L311.6 448.3L309.2 450.7L306.8 448.3Z"/>
<path fill="#11508e" d="M312.3 447.6L314.7 450L312.3 452.4L309.9 450Z"/>
<path fill="#11508e" d="M306 447L308.4 449.4L306 451.8L303.6 449.4Z"/>
<path fill="#11508e" d="M308.8 459.5L311.2 461.9L308.8 464.3L306.4 461.9Z"/>
<path fill="#11508e" d="M312.7 463L315.1 465.4L312.7 467.8L310.3 465.4Z"/>
<path fill="#11508e" d="M310.8 469.1L313.2 471.5L310.8 473.9L308.4 471.5Z"/>
<line x1="310.8" y1="439.4" x2="310.8" y2="462.3" stroke="#2a2a2a" stroke-width="1.1"/>
<line x1="307.7" y1="439.4" x2="313.9" y2="439.4" stroke="#2a2a2a" stroke-width="1.1"/>
<line x1="307.7" y1="462.3" x2="313.9" y2="462.3" stroke="#2a2a2a" stroke-width="1.1"/>
<line x1="304.3" y1="450.8" x2="317.3" y2="450.8" stroke="#2a2a2a" stroke-width="1.1"/>
<line x1="276.7" y1="414.2" x2="276.7" y2="501.55" stroke="#1e1e1e" stroke-width="1.15"/>
<line x1="276.15" y1="501" x2="324.8" y2="501" stroke="#1e1e1e" stroke-width="1.15"/>
<line x1="290.6" y1="501" x2="290.6" y2="503.2" stroke="#1e1e1e" stroke-width="0.9"/>
<line x1="310.8" y1="501" x2="310.8" y2="503.2" stroke="#1e1e1e" stroke-width="0.9"/>
<line x1="292.5" y1="432.1" x2="311.7" y2="432.1" stroke="#222" stroke-width="1"/>
<text x="302.1" y="433.2" font-size="7.5" text-anchor="middle" textLength="10.4" lengthAdjust="spacingAndGlyphs">****</text>
<text x="252.6" y="460.02" font-size="8.4" text-anchor="middle" font-weight="bold" textLength="61.6" lengthAdjust="spacingAndGlyphs" transform="rotate(-90 252.6 457)">% ST2<tspan font-size="4.8" dy="-2.4">+</tspan><tspan dy="2.4"> of population</tspan></text>
<rect x="270" y="511.1" width="4.6" height="4.6" fill="#bcbcbc"/>
<text x="277.7" y="515.95" font-size="6.8" textLength="50" lengthAdjust="spacingAndGlyphs">GM-CSF<tspan font-size="4" dy="-2">+</tspan><tspan dy="2"> IFN-γ</tspan><tspan font-size="4" dy="-2">+</tspan></text>
<path fill="#11508e" d="M272.6 520.7L275.7 523.8L272.6 526.9L269.5 523.8Z"/>
<text x="277.7" y="526.25" font-size="6.8" textLength="50" lengthAdjust="spacingAndGlyphs">GM-CSF<tspan font-size="4" dy="-2">+</tspan><tspan dy="2"> IFN-γ</tspan><tspan font-size="4" dy="-2">−</tspan></text>
<text x="346.2" y="216.49" font-size="10" font-weight="bold" fill="#000">E</text>
<text x="386.9" y="223.84" font-size="6.5" text-anchor="middle" textLength="28.6" lengthAdjust="spacingAndGlyphs">Gated on</text>
<text x="387.1" y="232.34" font-size="6.5" text-anchor="middle" textLength="41.2" lengthAdjust="spacingAndGlyphs">H2-K<tspan font-size="3.6" dy="-2">bm</tspan><tspan dy="2"> CD4</tspan><tspan font-size="3.8" dy="-2">+</tspan></text>
<text x="386.8" y="244.02" font-size="7" text-anchor="middle" textLength="54.1" lengthAdjust="spacingAndGlyphs">GM-CSF<tspan font-size="4" dy="-2">+</tspan><tspan dy="2"> IFN-γ</tspan><tspan font-size="4" dy="-2">+</tspan></text>
<text x="386.8" y="325.32" font-size="7" text-anchor="middle" textLength="54.5" lengthAdjust="spacingAndGlyphs">GM-CSF<tspan font-size="4" dy="-2">+</tspan><tspan dy="2"> IFN-γ</tspan><tspan font-size="4" dy="-2">−</tspan></text>
<g filter="url(#bl)">
<path fill="#b4b8f4" d="M365.18 267.03h1v1h-1zM358.17 259.01h1v1h-1zM368.97 271.38h1v1h-1zM359.8 272.52h1v1h-1zM368.56 258.55h1v1h-1zM368.21 267.3h1v1h-1zM363.86 265.5h1v1h-1zM364.89 266.94h1v1h-1zM361.83 264.42h1v1h-1zM368.42 270.33h1v1h-1zM359.91 264.83h1v1h-1zM372.96 271.34h1v1h-1zM373.34 260.21h1v1h-1zM361.22 255.79h1v1h-1zM361.17 261.61h1v1h-1zM362.76 266.48h1v1h-1zM369.65 270.51h1v1h-1zM357.98 275.53h1v1h-1zM364.41 262.09h1v1h-1zM365.76 265.33h1v1h-1zM359.64 275.9h1v1h-1zM363.29 264.25h1v1h-1zM368.33 276.53h1v1h-1zM368.08 262.64h1v1h-1zM367.88 273.47h1v1h-1zM367.62 270.99h1v1h-1zM363.74 267.12h1v1h-1zM358.32 263.61h1v1h-1zM360.78 267.53h1v1h-1zM372.64 255.35h1v1h-1zM359.95 262.47h1v1h-1zM365.5 273.78h1v1h-1zM362.4 263.25h1v1h-1zM371.37 269.51h1v1h-1zM368.28 272h1v1h-1zM362.56 268.7h1v1h-1zM362.94 263.59h1v1h-1zM366.51 269.85h1v1h-1zM360.16 263.33h1v1h-1zM368.65 268.4h1v1h-1zM368.9 265.79h1v1h-1zM362.28 271.72h1v1h-1zM368.61 252.12h1v1h-1zM369.81 263.38h1v1h-1zM368.92 276h1v1h-1zM364.64 262.24h1v1h-1zM367.06 267.98h1v1h-1zM368.46 259.89h1v1h-1zM367.01 272.33h1v1h-1zM369.06 270.9h1v1h-1zM371.31 263.02h1v1h-1zM371.42 268.63h1v1h-1zM361.41 265.88h1v1h-1zM367.13 269.29h1v1h-1zM371.99 268.53h1v1h-1zM363.6 279.33h1v1h-1zM364.41 263.03h1v1h-1zM370.09 265.24h1v1h-1zM362.35 261.73h1v1h-1zM371.26 261.74h1v1h-1zM366.37 265.02h1v1h-1zM365.04 263.07h1v1h-1zM366.59 270.77h1v1h-1zM370.66 265.55h1v1h-1zM360.65 259.46h1v1h-1zM365.94 254.04h1v1h-1zM371.92 267.66h1v1h-1zM366.46 259.93h1v1h-1zM363 263.47h1v1h-1zM368.96 265.28h1v1h-1zM368.7 270.29h1v1h-1zM371.61 264.72h1v1h-1zM366.5 266.81h1v1h-1zM360.39 279.33h1v1h-1zM365.32 270.96h1v1h-1zM363.9 275.1h1v1h-1zM371.12 273.9h1v1h-1zM370.22 271.3h1v1h-1zM372.18 269.68h1v1h-1zM366.54 271.89h1v1h-1zM361.9 253.75h1v1h-1zM369.58 268.33h1v1h-1zM362.76 266.04h1v1h-1zM361.63 262.94h1v1h-1zM366.78 268.16h1v1h-1zM369.68 267h1v1h-1zM368.78 271.2h1v1h-1zM362.77 258.35h1v1h-1zM362.85 266.13h1v1h-1zM363.54 279.47h1v1h-1zM362.86 270.07h1v1h-1zM362.49 271.24h1v1h-1zM360.26 272.66h1v1h-1zM366.75 265.33h1v1h-1zM360.56 276.54h1v1h-1zM363.34 275.31h1v1h-1zM374.1 277.17h1v1h-1zM366.02 272.91h1v1h-1zM368.68 265.56h1v1h-1zM366.53 261.28h1v1h-1zM359.91 268.17h1v1h-1zM369.23 268.36h1v1h-1zM360.43 272.09h1v1h-1zM366.35 271.57h1v1h-1zM364.65 266.06h1v1h-1zM370.68 274.93h1v1h-1zM360.54 261.5h1v1h-1zM370.31 269.45h1v1h-1zM366.18 262.19h1v1h-1zM370.5 268.51h1v1h-1zM366.93 269.59h1v1h-1zM363.6 269.65h1v1h-1zM366.54 271.4h1v1h-1zM367.66 260.56h1v1h-1zM362.77 266.05h1v1h-1zM371.18 263.98h1v1h-1zM371.05 273.35h1v1h-1zM369.89 279.72h1v1h-1zM365.92 269.24h1v1h-1zM371.44 269.7h1v1h-1zM370.42 266.8h1v1h-1zM372.31 269.41h1v1h-1zM365.1 262.72h1v1h-1zM364.62 265.97h1v1h-1zM371.11 269.3h1v1h-1zM365.64 267.42h1v1h-1zM361.93 264.03h1v1h-1zM363.86 266.27h1v1h-1z"/>
<path fill="#8c94f0" d="M363.56 283.32h0.8v0.8h-0.8zM358.67 278.07h0.8v0.8h-0.8zM373.12 277.84h0.8v0.8h-0.8zM364.96 286.64h0.8v0.8h-0.8zM359.18 290.57h0.8v0.8h-0.8zM361.91 291.03h0.8v0.8h-0.8zM365.54 285.39h0.8v0.8h-0.8zM368.26 277.93h0.8v0.8h-0.8zM366.7 287.84h0.8v0.8h-0.8zM371.23 287.62h0.8v0.8h-0.8zM387.17 263.78h0.8v0.8h-0.8zM382.56 270.26h0.8v0.8h-0.8zM376.29 274.62h0.8v0.8h-0.8zM377.34 271.19h0.8v0.8h-0.8zM380.14 264.37h0.8v0.8h-0.8zM391.79 272.14h0.8v0.8h-0.8zM388.06 271.91h0.8v0.8h-0.8zM385.19 276.43h0.8v0.8h-0.8zM376.68 268.03h0.8v0.8h-0.8zM379.32 271.74h0.8v0.8h-0.8z"/>
<path fill="#3b46eb" d="M359.07 276.24h1v1h-1zM359.09 258.89h1v1h-1zM373.53 259.96h1v1h-1zM368.41 278.84h1v1h-1zM363.01 277.79h1v1h-1z"/>
<path fill="#3b47eb" d="M367.77 256.89h1v1h-1zM371.58 275.83h1v1h-1zM360.71 258.89h1v1h-1zM371.87 259.61h1v1h-1zM367.71 277.84h1v1h-1z"/>
<path fill="#3a48eb" d="M357.94 269.66h1v1h-1zM368.03 257.93h1v1h-1zM369.82 275.96h1v1h-1zM372.82 262.19h1v1h-1zM371.34 260.58h1v1h-1z"/>
<path fill="#3a49eb" d="M363.64 276.72h1v1h-1zM371.99 273.2h1v1h-1zM360.06 261.47h1v1h-1zM365.05 258.11h1v1h-1z"/>
<path fill="#394aeb" d="M372.74 263.99h1v1h-1zM362.24 259.74h1v1h-1zM368.37 259.05h1v1h-1zM372.04 272.22h1v1h-1z"/>
<path fill="#394beb" d="M371.94 272.66h1v1h-1zM372.83 264.26h1v1h-1zM372.52 263.26h1v1h-1zM361.99 275.02h1v1h-1zM372.35 272.08h1v1h-1zM368.83 275.53h1v1h-1zM369.42 259.79h1v1h-1z"/>
<path fill="#384ceb" d="M368.3 259.74h1v1h-1zM372.37 270.85h1v1h-1z"/>
<path fill="#384deb" d="M360.97 261.49h1v1h-1zM369.85 274.25h1v1h-1zM362.4 260.11h1v1h-1zM359.22 265.91h1v1h-1z"/>
<path fill="#374eec" d="M367 259.48h1v1h-1zM365.35 259.32h1v1h-1zM362.27 261.15h1v1h-1zM364.31 259.91h1v1h-1z"/>
<path fill="#374fec" d="M365.29 259.51h1v1h-1z"/>
<path fill="#3650ec" d="M369.21 260.52h1v1h-1zM362.24 261.35h1v1h-1z"/>
<path fill="#3651ec" d="M370.83 272.31h1v1h-1z"/>
<path fill="#3552ec" d="M362.24 273.69h1v1h-1zM363.66 274.08h1v1h-1zM369.94 261.83h1v1h-1z"/>
<path fill="#3553ec" d="M371.48 269.39h1v1h-1zM371.92 267.35h1v1h-1z"/>
<path fill="#3454ec" d="M359.81 266.85h1v1h-1zM360.74 263.29h1v1h-1zM370.83 263.85h1v1h-1zM362.59 273.48h1v1h-1zM371.76 267.59h1v1h-1zM370.07 262.01h1v1h-1zM366.19 260.18h1v1h-1z"/>
<path fill="#3455ec" d="M362.13 262.42h1v1h-1zM363.75 260.7h1v1h-1z"/>
<path fill="#3356ed" d="M366.94 260.83h1v1h-1zM370.25 271.7h1v1h-1zM370.68 270.68h1v1h-1zM362.61 261.7h1v1h-1z"/>
<path fill="#3357ed" d="M370.21 263.53h1v1h-1zM369.08 273.4h1v1h-1zM360.49 266.03h1v1h-1zM371.48 268.84h1v1h-1zM360.6 269.85h1v1h-1zM371.42 265.03h1v1h-1z"/>
<path fill="#3258ed" d="M362.68 272.64h1v1h-1zM371.09 269.03h1v1h-1z"/>
<path fill="#3259ed" d="M370.71 264.65h1v1h-1z"/>
<path fill="#315aed" d="M361.15 271.04h1v1h-1zM364.14 273.69h1v1h-1zM361.51 271.08h1v1h-1zM365.88 274.02h1v1h-1z"/>
<path fill="#315bed" d="M368.77 262.04h1v1h-1zM368.62 262.51h1v1h-1z"/>
<path fill="#305ced" d="M371.21 266.94h1v1h-1zM364.53 273.88h1v1h-1zM370.75 266.22h1v1h-1z"/>
<path fill="#305ded" d="M367.88 273.66h1v1h-1zM360.96 267.64h1v1h-1zM371.06 267.59h1v1h-1zM360.65 266.05h1v1h-1z"/>
<path fill="#2f5eee" d="M360.68 269.19h1v1h-1zM369.1 262.87h1v1h-1zM369.27 263.31h1v1h-1zM362.02 263.91h1v1h-1zM363.84 262.27h1v1h-1zM368.8 262.69h1v1h-1z"/>
<path fill="#2f5fee" d="M368.93 262.78h1v1h-1zM368.57 262.46h1v1h-1zM361.12 270.37h1v1h-1zM363.19 272.97h1v1h-1z"/>
<path fill="#2e60ee" d="M363.63 262.07h1v1h-1zM362.42 262.88h1v1h-1zM370.48 266.75h1v1h-1zM369.97 264.03h1v1h-1z"/>
<path fill="#2e61ee" d="M370.89 267.77h1v1h-1zM361.08 265.79h1v1h-1zM365.27 261.56h1v1h-1zM363.63 262.19h1v1h-1z"/>
<path fill="#2d62ee" d="M367.77 273.15h1v1h-1zM362.52 263.34h1v1h-1z"/>
<path fill="#2d63ee" d="M370.49 266.73h1v1h-1z"/>
<path fill="#2c64ee" d="M363.36 272.6h1v1h-1zM361.15 269.36h1v1h-1z"/>
<path fill="#2c65ee" d="M370.18 265.43h1v1h-1zM363.89 272.05h1v1h-1zM367.97 262.17h1v1h-1z"/>
<path fill="#2b66ef" d="M369.46 264.32h1v1h-1zM365.1 262h1v1h-1z"/>
<path fill="#2b67ef" d="M365.63 272.93h1v1h-1zM369.02 271.97h1v1h-1z"/>
<path fill="#2a68ef" d="M361.24 267.18h1v1h-1zM367.31 272.7h1v1h-1zM364.08 262.22h1v1h-1zM367.32 262.83h1v1h-1z"/>
<path fill="#2a69ef" d="M362.34 264.77h1v1h-1zM369.07 263.99h1v1h-1z"/>
<path fill="#296aef" d="M361.85 269.99h1v1h-1zM363.17 271.2h1v1h-1zM367.64 262.88h1v1h-1zM364.24 272.77h1v1h-1z"/>
<path fill="#296bef" d="M370.13 267.97h1v1h-1zM361.78 265.36h1v1h-1zM361.83 266.79h1v1h-1zM362.5 270.01h1v1h-1zM363.75 263.61h1v1h-1zM363.07 264.23h1v1h-1z"/>
<path fill="#286cef" d="M368.01 262.87h1v1h-1zM370.04 269.81h1v1h-1zM369.59 265.21h1v1h-1zM362.58 263.92h1v1h-1zM367.12 271.9h1v1h-1z"/>
<path fill="#286def" d="M369.09 264.53h1v1h-1zM365.32 262.76h1v1h-1zM367.63 262.92h1v1h-1zM362.13 268.46h1v1h-1zM368.61 264.23h1v1h-1z"/>
<path fill="#286eef" d="M369.32 269.94h1v1h-1z"/>
<path fill="#286fef" d="M364.82 272.2h1v1h-1zM369.98 269.32h1v1h-1zM366.66 272.73h1v1h-1z"/>
<path fill="#2870ef" d="M364.12 271.56h1v1h-1zM365.33 262.87h1v1h-1zM364.1 263.61h1v1h-1z"/>
<path fill="#2872ee" d="M369.47 266.48h1v1h-1z"/>
<path fill="#2873ee" d="M363.94 271.23h1v1h-1zM362.99 263.76h1v1h-1zM369.26 269.49h1v1h-1z"/>
<path fill="#2875ee" d="M367.17 271.95h1v1h-1zM369.82 267.99h1v1h-1z"/>
<path fill="#2876ed" d="M366.32 271.84h1v1h-1z"/>
<path fill="#2877ed" d="M362.74 264.33h1v1h-1zM362.37 264.8h1v1h-1z"/>
<path fill="#2878ed" d="M362.27 267.12h1v1h-1z"/>
<path fill="#2879ed" d="M366.29 263h1v1h-1zM367.21 263.45h1v1h-1zM361.93 267.51h1v1h-1z"/>
<path fill="#287aec" d="M369.15 265.99h1v1h-1zM368.39 270.51h1v1h-1z"/>
<path fill="#287bec" d="M368.84 264.24h1v1h-1zM364.04 271.47h1v1h-1z"/>
<path fill="#287cec" d="M369.12 265.5h1v1h-1z"/>
<path fill="#287feb" d="M362.78 264.51h1v1h-1zM369.31 270.18h1v1h-1z"/>
<path fill="#2883ea" d="M363.08 265.41h1v1h-1zM362.54 266.13h1v1h-1zM364.15 263.59h1v1h-1zM368.48 265.03h1v1h-1z"/>
<path fill="#2885ea" d="M368.17 270.79h1v1h-1zM362.22 267.75h1v1h-1z"/>
<path fill="#2886e9" d="M365.22 263.7h1v1h-1z"/>
<path fill="#2887e9" d="M363 269.15h1v1h-1z"/>
<path fill="#2888e9" d="M363.87 263.72h1v1h-1zM362.29 269.26h1v1h-1zM369.26 264.75h1v1h-1z"/>
<path fill="#288ae8" d="M369.03 265.52h1v1h-1z"/>
<path fill="#288be8" d="M362.62 267.44h1v1h-1z"/>
<path fill="#288ce8" d="M369.09 265.17h1v1h-1z"/>
<path fill="#288de8" d="M362.87 264.49h1v1h-1z"/>
<path fill="#288ee7" d="M366.79 271.51h1v1h-1z"/>
<path fill="#288fe7" d="M363.65 264.78h1v1h-1zM362.25 267.83h1v1h-1zM365.94 262.97h1v1h-1z"/>
<path fill="#2890e7" d="M367.67 264.07h1v1h-1zM363.6 270.24h1v1h-1zM363.65 270.01h1v1h-1zM369.33 266.44h1v1h-1z"/>
<path fill="#2891e7" d="M366.76 263.94h1v1h-1z"/>
<path fill="#2892e6" d="M363.37 271.07h1v1h-1zM362.73 265.72h1v1h-1z"/>
<path fill="#2893e6" d="M362.85 267.48h1v1h-1z"/>
<path fill="#2894e6" d="M362.55 267.86h1v1h-1z"/>
<path fill="#2895e6" d="M362.91 269.36h1v1h-1z"/>
<path fill="#2897e5" d="M368.04 264.68h1v1h-1z"/>
<path fill="#2898e5" d="M362.85 265.55h1v1h-1z"/>
<path fill="#2899e5" d="M366.5 263.85h1v1h-1zM367.51 264.21h1v1h-1z"/>
<path fill="#289be4" d="M367.28 264.4h1v1h-1zM362.69 266h1v1h-1z"/>
<path fill="#289ee3" d="M368.65 268.53h1v1h-1zM362.89 266.89h1v1h-1zM368.23 270.86h1v1h-1zM363.15 266.64h1v1h-1z"/>
<path fill="#289fe3" d="M363.74 270.67h1v1h-1zM367.17 271.06h1v1h-1z"/>
<path fill="#28a0e3" d="M368.67 268.92h1v1h-1zM369.57 267.78h1v1h-1z"/>
<path fill="#28a1e3" d="M362.18 267.6h1v1h-1zM363.98 264.22h1v1h-1z"/>
<path fill="#28a2e2" d="M363.53 264.85h1v1h-1z"/>
<path fill="#28a3e2" d="M366.68 263.78h1v1h-1z"/>
<path fill="#28a5e2" d="M368.95 266.74h1v1h-1z"/>
<path fill="#28a6e1" d="M368.66 266.19h1v1h-1zM365.88 263.21h1v1h-1z"/>
<path fill="#28a8e1" d="M368.62 266.45h1v1h-1z"/>
<path fill="#28a9e1" d="M365.08 271.27h1v1h-1z"/>
<path fill="#28aae0" d="M369.34 268.07h1v1h-1zM364.78 264.19h1v1h-1z"/>
<path fill="#28abe0" d="M367.45 269.99h1v1h-1zM368.47 268.19h1v1h-1z"/>
<path fill="#28ace0" d="M368.93 269.02h1v1h-1z"/>
<path fill="#28ade0" d="M366.05 271.78h1v1h-1z"/>
<path fill="#28aedf" d="M368.47 267.37h1v1h-1z"/>
<path fill="#28afdf" d="M364.59 263.64h1v1h-1z"/>
<path fill="#28b0df" d="M365.66 264.21h1v1h-1zM366.24 263.68h1v1h-1z"/>
<path fill="#28b1df" d="M363.73 270.55h1v1h-1zM362.91 266.68h1v1h-1zM369.42 267.2h1v1h-1z"/>
<path fill="#28b2de" d="M366.63 271.48h1v1h-1z"/>
<path fill="#28b3de" d="M368.01 269.89h1v1h-1zM363.54 264.75h1v1h-1zM368.44 265.82h1v1h-1zM364.53 270.11h1v1h-1zM368.29 270.5h1v1h-1z"/>
<path fill="#28b4de" d="M369 269.28h1v1h-1zM364.78 269.97h1v1h-1z"/>
<path fill="#28b5de" d="M364.75 271.2h1v1h-1z"/>
<path fill="#28b7dd" d="M366.38 264.43h1v1h-1z"/>
<path fill="#28b8dd" d="M362.84 266.9h1v1h-1z"/>
<path fill="#28b9dd" d="M368.17 270.04h1v1h-1zM368.51 267.43h1v1h-1z"/>
<path fill="#28badc" d="M366.24 270.15h1v1h-1zM364.8 270.67h1v1h-1z"/>
<path fill="#28bbdc" d="M368.77 265.88h1v1h-1z"/>
<path fill="#28bcdc" d="M366.92 264.58h1v1h-1zM365.16 263.95h1v1h-1z"/>
<path fill="#28beda" d="M362.92 265.79h1v1h-1zM367.16 270.46h1v1h-1zM365.97 271.09h1v1h-1z"/>
<path fill="#28bed7" d="M363.68 268.65h1v1h-1z"/>
<path fill="#28bed5" d="M363.73 267.24h1v1h-1z"/>
<path fill="#28bed4" d="M368.32 269.68h1v1h-1z"/>
<path fill="#28bed3" d="M365.04 269.85h1v1h-1z"/>
<path fill="#29bece" d="M365.6 264.87h1v1h-1z"/>
<path fill="#29bec9" d="M367.52 265.49h1v1h-1z"/>
<path fill="#29bec6" d="M368.73 266.78h1v1h-1z"/>
<path fill="#2abec5" d="M365.69 270.29h1v1h-1z"/>
<path fill="#2abec4" d="M363.19 269.13h1v1h-1zM365.64 270.47h1v1h-1z"/>
<path fill="#2abec1" d="M367.6 269.47h1v1h-1z"/>
<path fill="#2abec0" d="M368.55 267.52h1v1h-1z"/>
<path fill="#2abebf" d="M364.06 268.4h1v1h-1zM368.38 265.69h1v1h-1zM367.75 267.43h1v1h-1zM366.88 264.85h1v1h-1z"/>
<path fill="#2abebd" d="M366.12 270.57h1v1h-1z"/>
<path fill="#2bbeba" d="M368.94 267.65h1v1h-1z"/>
<path fill="#2bbeb9" d="M363.03 266.32h1v1h-1z"/>
<path fill="#2bbeb8" d="M363.79 269.41h1v1h-1zM364.21 266.33h1v1h-1z"/>
<path fill="#2bbeb7" d="M363.14 267.93h1v1h-1z"/>
<path fill="#2bbeb6" d="M367.47 269.68h1v1h-1z"/>
<path fill="#2bbeb4" d="M368.14 266.89h1v1h-1z"/>
<path fill="#2bbeb2" d="M364.14 269.79h1v1h-1z"/>
<path fill="#2bbeb0" d="M366.51 265.14h1v1h-1z"/>
<path fill="#2cbeaf" d="M365.5 264.73h1v1h-1zM364.53 269.67h1v1h-1z"/>
<path fill="#2cbeae" d="M368.2 267.69h1v1h-1z"/>
<path fill="#2cbeac" d="M363.97 265.72h1v1h-1z"/>
<path fill="#2cbeab" d="M367.29 266.89h1v1h-1z"/>
<path fill="#2cbeaa" d="M364.77 265.19h1v1h-1z"/>
<path fill="#2cbea9" d="M364.32 269.86h1v1h-1z"/>
<path fill="#2cbea8" d="M366.93 264.93h1v1h-1zM366.12 269.44h1v1h-1z"/>
<path fill="#2cbea7" d="M367.95 269.2h1v1h-1zM367.24 264.51h1v1h-1z"/>
<path fill="#2cbea6" d="M363.8 266.95h1v1h-1z"/>
<path fill="#2dbea3" d="M368.37 268.31h1v1h-1zM363.71 268.9h1v1h-1z"/>
<path fill="#2dbea0" d="M364.24 264.82h1v1h-1z"/>
<path fill="#2dbe9f" d="M364.81 265.25h1v1h-1zM364.01 265.1h1v1h-1zM366.18 269.76h1v1h-1z"/>
<path fill="#2dbe9e" d="M368.54 268.43h1v1h-1z"/>
<path fill="#2ebe97" d="M366.78 265.35h1v1h-1z"/>
<path fill="#2ebe94" d="M366.37 266.53h1v1h-1z"/>
<path fill="#2ebe93" d="M363.54 266.81h1v1h-1z"/>
<path fill="#2ebe92" d="M363.85 265.79h1v1h-1z"/>
<path fill="#2ebe91" d="M364.02 268.1h1v1h-1zM366.2 269.8h1v1h-1z"/>
<path fill="#2ebe90" d="M367.91 268.03h1v1h-1zM364.46 267.41h1v1h-1z"/>
<path fill="#2ebe8f" d="M367.23 266.38h1v1h-1z"/>
<path fill="#2fbe8d" d="M364.61 267.14h1v1h-1zM366.39 269.95h1v1h-1z"/>
<path fill="#2fbe8c" d="M364.46 269.87h1v1h-1zM366.56 264.37h1v1h-1z"/>
<path fill="#2fbe8a" d="M363.98 266.95h1v1h-1z"/>
<path fill="#2fbe89" d="M363.63 266.53h1v1h-1z"/>
<path fill="#2fbe88" d="M367.05 265.29h1v1h-1zM366.69 269.57h1v1h-1z"/>
<path fill="#2fbe85" d="M365.16 265.5h1v1h-1z"/>
<path fill="#30be83" d="M366.27 267.88h1v1h-1z"/>
<path fill="#30be82" d="M364.82 266.33h1v1h-1z"/>
<path fill="#30be81" d="M366.81 264.87h1v1h-1zM364.83 264.9h1v1h-1z"/>
<path fill="#30be80" d="M366.72 270.09h1v1h-1z"/>
<path fill="#30be7a" d="M365.68 266.52h1v1h-1z"/>
<path fill="#30be79" d="M365.85 267.44h1v1h-1z"/>
<path fill="#31be77" d="M364.89 267.39h1v1h-1z"/>
<path fill="#31be76" d="M367.91 268.52h1v1h-1z"/>
<path fill="#31be74" d="M367.88 267.64h1v1h-1z"/>
<path fill="#31be73" d="M366.21 264.98h1v1h-1z"/>
<path fill="#31be71" d="M367 265.99h1v1h-1zM364.38 268.36h1v1h-1z"/>
<path fill="#32be6d" d="M365.31 265.22h1v1h-1zM364.98 269.22h1v1h-1zM364.75 269.85h1v1h-1z"/>
<path fill="#38be69" d="M363.74 267.1h1v1h-1z"/>
<path fill="#3bbe67" d="M364.75 268.36h1v1h-1z"/>
<path fill="#3ebf65" d="M367.74 267.02h1v1h-1z"/>
<path fill="#3fbf64" d="M366.06 265.54h1v1h-1z"/>
<path fill="#41bf63" d="M365.06 268.77h1v1h-1zM365.38 264.94h1v1h-1z"/>
<path fill="#42bf62" d="M364.7 269.28h1v1h-1z"/>
<path fill="#43bf62" d="M366.74 265.82h1v1h-1z"/>
<path fill="#46c05f" d="M364.42 266.21h1v1h-1z"/>
<path fill="#47c05e" d="M366.16 268.39h1v1h-1zM364.29 268.5h1v1h-1z"/>
<path fill="#49c05d" d="M363.97 267.69h1v1h-1z"/>
<path fill="#4ac05c" d="M365.02 266.74h1v1h-1z"/>
<path fill="#51c158" d="M365 265.91h1v1h-1z"/>
<path fill="#5dc24f" d="M367.4 267.99h1v1h-1zM367.06 267.61h1v1h-1zM366.49 265.32h1v1h-1z"/>
<path fill="#60c24d" d="M366.12 268.37h1v1h-1z"/>
<path fill="#61c24c" d="M365.31 265.77h1v1h-1z"/>
<path fill="#64c34a" d="M364.23 266.66h1v1h-1zM366.97 267.42h1v1h-1zM366.12 266.73h1v1h-1z"/>
<path fill="#66c348" d="M366.41 269.53h1v1h-1z"/>
<path fill="#67c348" d="M366.44 268.64h1v1h-1z"/>
<path fill="#6cc344" d="M367.64 267.66h1v1h-1z"/>
<path fill="#6fc443" d="M367.57 268.1h1v1h-1z"/>
<path fill="#73c440" d="M365.26 266.01h1v1h-1z"/>
<path fill="#75c43e" d="M367.01 269.04h1v1h-1z"/>
<path fill="#76c43e" d="M364.7 268.33h1v1h-1z"/>
<path fill="#7ac53a" d="M366.33 268.06h1v1h-1z"/>
<path fill="#7bc53a" d="M365.37 266.21h1v1h-1zM365.52 268.76h1v1h-1zM364.5 268.65h1v1h-1z"/>
<path fill="#7fc537" d="M365.68 267.21h1v1h-1z"/>
<path fill="#81c536" d="M365.62 267.29h1v1h-1z"/>
<path fill="#82c635" d="M364.96 266.05h1v1h-1z"/>
<path fill="#83c634" d="M366.61 266.04h1v1h-1z"/>
<path fill="#89c630" d="M366.01 267.42h1v1h-1z"/>
<path fill="#8ac62f" d="M367.13 267.98h1v1h-1z"/>
<path fill="#8ec72d" d="M365.85 268.79h1v1h-1z"/>
<path fill="#94c729" d="M366.96 266.9h1v1h-1z"/>
<path fill="#95c728" d="M364.83 267.29h1v1h-1z"/>
<path fill="#97c727" d="M365.74 267.18h1v1h-1z"/>
<path fill="#99c727" d="M364.87 268.1h1v1h-1z"/>
<path fill="#9ac727" d="M365.88 266.33h1v1h-1z"/>
<path fill="#a4c525" d="M365.53 266.61h1v1h-1z"/>
<path fill="#b0c424" d="M365.25 267.86h1v1h-1z"/>
</g>
<rect x="357.6" y="248" width="58.9" height="58.9" fill="none" stroke="#1a1a1a" stroke-width="0.9"/>
<line x1="375.3" y1="248" x2="375.3" y2="306.9" stroke="#1a1a1a" stroke-width="0.9"/>
<line x1="357.6" y1="276.6" x2="416.5" y2="276.6" stroke="#1a1a1a" stroke-width="0.9"/>
<text x="359.9" y="255.14" font-size="6.5" textLength="13.3" lengthAdjust="spacingAndGlyphs">91.5</text>
<text x="414.9" y="255.14" font-size="6.5" text-anchor="end" textLength="9.4" lengthAdjust="spacingAndGlyphs">1.6</text>
<text x="414.9" y="305.24" font-size="6.5" text-anchor="end" textLength="9.4" lengthAdjust="spacingAndGlyphs">0.3</text>
<line x1="355.6" y1="253.3" x2="357.6" y2="253.3" stroke="#111" stroke-width="0.8"/>
<line x1="354.3" y1="256.07" x2="357.6" y2="256.07" stroke="#111" stroke-width="0.8"/>
<line x1="354.3" y1="266.67" x2="357.6" y2="266.67" stroke="#111" stroke-width="0.8"/>
<line x1="355.6" y1="270.03" x2="357.6" y2="270.03" stroke="#111" stroke-width="0.8"/>
<line x1="354.3" y1="280.63" x2="357.6" y2="280.63" stroke="#111" stroke-width="0.8"/>
<line x1="354.3" y1="293.94" x2="357.6" y2="293.94" stroke="#111" stroke-width="0.8"/>
<line x1="355.6" y1="296.06" x2="357.6" y2="296.06" stroke="#111" stroke-width="0.8"/>
<line x1="355.6" y1="298.36" x2="357.6" y2="298.36" stroke="#111" stroke-width="0.8"/>
<line x1="354.3" y1="300.66" x2="357.6" y2="300.66" stroke="#111" stroke-width="0.8"/>
<line x1="355.6" y1="302.54" x2="357.6" y2="302.54" stroke="#111" stroke-width="0.8"/>
<line x1="355.6" y1="305.6" x2="357.6" y2="305.6" stroke="#111" stroke-width="0.8"/>
<line x1="358.78" y1="306.9" x2="358.78" y2="308.9" stroke="#111" stroke-width="0.8"/>
<line x1="361.13" y1="306.9" x2="361.13" y2="309.9" stroke="#111" stroke-width="0.8"/>
<line x1="363.49" y1="306.9" x2="363.49" y2="308.9" stroke="#111" stroke-width="0.8"/>
<line x1="365.85" y1="306.9" x2="365.85" y2="309.9" stroke="#111" stroke-width="0.8"/>
<line x1="368.2" y1="306.9" x2="368.2" y2="308.9" stroke="#111" stroke-width="0.8"/>
<line x1="370.56" y1="306.9" x2="370.56" y2="308.9" stroke="#111" stroke-width="0.8"/>
<line x1="375.27" y1="306.9" x2="375.27" y2="308.9" stroke="#111" stroke-width="0.8"/>
<line x1="381.75" y1="306.9" x2="381.75" y2="309.9" stroke="#111" stroke-width="0.8"/>
<line x1="388.82" y1="306.9" x2="388.82" y2="308.9" stroke="#111" stroke-width="0.8"/>
<line x1="398.24" y1="306.9" x2="398.24" y2="309.9" stroke="#111" stroke-width="0.8"/>
<line x1="411.2" y1="306.9" x2="411.2" y2="308.9" stroke="#111" stroke-width="0.8"/>
<g filter="url(#bl)">
<path fill="#b4b8f4" d="M360.61 347.47h1v1h-1zM358.88 336.62h1v1h-1zM362.98 340.44h1v1h-1zM361.43 345.45h1v1h-1zM367.76 343.12h1v1h-1zM364.53 349.63h1v1h-1zM365.08 349.73h1v1h-1zM363.15 348.55h1v1h-1zM371.4 339.59h1v1h-1zM379 344.66h1v1h-1zM364.25 345.44h1v1h-1zM367.81 340.42h1v1h-1zM365.93 343.41h1v1h-1zM372.06 337.94h1v1h-1zM368.62 344.7h1v1h-1zM362.45 346.87h1v1h-1zM364.7 346.41h1v1h-1zM366.81 351.97h1v1h-1zM363.97 354.21h1v1h-1zM371.12 353.7h1v1h-1zM366.64 347.57h1v1h-1zM361.28 352.61h1v1h-1zM360.65 342.4h1v1h-1zM365.76 347.33h1v1h-1zM367.26 340.64h1v1h-1zM364.24 348.55h1v1h-1zM370.98 349.87h1v1h-1zM367.59 344.96h1v1h-1zM363.37 343.75h1v1h-1zM365.34 348.74h1v1h-1zM363.54 356.06h1v1h-1zM361.35 350.11h1v1h-1zM364.87 345.54h1v1h-1zM364.09 353.56h1v1h-1zM364.45 348.85h1v1h-1zM366.28 349.8h1v1h-1zM368.35 354.12h1v1h-1zM362.55 342.28h1v1h-1zM373.22 352.31h1v1h-1zM366.09 344.84h1v1h-1zM366.88 352.45h1v1h-1zM362.4 353.16h1v1h-1zM365.52 344.48h1v1h-1zM364.03 336.19h1v1h-1zM367.18 339.92h1v1h-1zM363.31 341.92h1v1h-1zM366.8 349.66h1v1h-1zM365.94 347.12h1v1h-1zM367.57 353.9h1v1h-1zM368.3 353.72h1v1h-1zM365.49 347.9h1v1h-1zM362.91 349.05h1v1h-1zM362.01 348.46h1v1h-1zM362.99 344.52h1v1h-1zM371.12 346.91h1v1h-1zM369.25 345.06h1v1h-1zM357.58 353.26h1v1h-1zM364.98 343.11h1v1h-1zM369.92 340.78h1v1h-1zM362.5 351.69h1v1h-1zM362.72 351.61h1v1h-1zM364.43 345.2h1v1h-1zM366.07 343.82h1v1h-1zM370.47 351.45h1v1h-1zM366.06 349.13h1v1h-1zM368.14 354.26h1v1h-1zM358.82 351.11h1v1h-1zM369.78 344.71h1v1h-1zM365.83 344.56h1v1h-1zM371.2 340.74h1v1h-1zM368.43 352.35h1v1h-1zM368.28 343.92h1v1h-1zM363.76 336.08h1v1h-1zM361.27 351.45h1v1h-1zM361.63 338.38h1v1h-1zM364.69 339.09h1v1h-1zM367.78 342.04h1v1h-1zM369.94 345.65h1v1h-1zM359.56 342.53h1v1h-1zM362.94 342.18h1v1h-1zM371.19 341.42h1v1h-1zM367.37 343.42h1v1h-1zM368.36 339.38h1v1h-1zM358.92 348.66h1v1h-1zM372.04 339.6h1v1h-1zM364.4 343.79h1v1h-1zM361.68 350.85h1v1h-1zM365.99 339.6h1v1h-1zM364.83 352.6h1v1h-1zM362.68 343.75h1v1h-1zM362.16 347h1v1h-1zM363.35 350.48h1v1h-1zM362.14 339.24h1v1h-1zM367.76 331.03h1v1h-1zM361.62 347.57h1v1h-1zM366.86 343.45h1v1h-1zM363.83 348.72h1v1h-1zM382.1 342.37h1v1h-1zM365 344.04h1v1h-1zM368.2 346.27h1v1h-1zM368.2 354.04h1v1h-1zM364.58 344.84h1v1h-1zM367.42 356.26h1v1h-1zM364.21 354.31h1v1h-1zM370.97 333.11h1v1h-1zM361.43 341.52h1v1h-1zM367.52 352.58h1v1h-1zM366.02 347h1v1h-1zM375.27 347.93h1v1h-1zM375.2 341.94h1v1h-1zM372.99 343.8h1v1h-1zM363.7 346.02h1v1h-1zM369.09 349.53h1v1h-1zM368.07 342.65h1v1h-1zM373.59 351.96h1v1h-1zM365.94 343.49h1v1h-1zM365.57 345.16h1v1h-1zM362.73 346.17h1v1h-1zM362.87 349.3h1v1h-1zM362.92 348.57h1v1h-1zM367.18 347.03h1v1h-1zM368.07 341.31h1v1h-1zM377.07 342.91h1v1h-1zM369 346.34h1v1h-1zM363.88 354.56h1v1h-1zM370.61 344.92h1v1h-1zM368.25 349.51h1v1h-1zM372.71 351.09h1v1h-1zM365.04 345.03h1v1h-1zM360.67 347.49h1v1h-1zM369.57 344.36h1v1h-1z"/>
<path fill="#8c94f0" d="M371.3 358.14h0.8v0.8h-0.8zM364.78 369.09h0.8v0.8h-0.8zM359.13 372.98h0.8v0.8h-0.8zM368.44 367.69h0.8v0.8h-0.8zM361.68 360.05h0.8v0.8h-0.8zM372.09 373.18h0.8v0.8h-0.8zM358.84 370.49h0.8v0.8h-0.8zM361.8 357.91h0.8v0.8h-0.8zM368.15 358.22h0.8v0.8h-0.8zM372.05 370.95h0.8v0.8h-0.8zM381.75 343.64h0.8v0.8h-0.8zM385.83 356.34h0.8v0.8h-0.8zM377.28 355.39h0.8v0.8h-0.8zM378.82 348.54h0.8v0.8h-0.8zM379.57 342.3h0.8v0.8h-0.8zM386.23 346.89h0.8v0.8h-0.8zM393 359.58h0.8v0.8h-0.8zM389.67 351.35h0.8v0.8h-0.8zM388.24 347.58h0.8v0.8h-0.8zM385.04 352.1h0.8v0.8h-0.8z"/>
<path fill="#3b46eb" d="M367.03 356.28h1v1h-1z"/>
<path fill="#3b47eb" d="M357.81 340.98h1v1h-1zM364.71 336.98h1v1h-1zM371.31 339.03h1v1h-1zM373.72 341.86h1v1h-1zM374.72 347.89h1v1h-1zM374.2 349.4h1v1h-1zM370.02 354.62h1v1h-1z"/>
<path fill="#3a48eb" d="M357.07 345.24h1v1h-1zM368.97 337.89h1v1h-1zM360.09 339.65h1v1h-1z"/>
<path fill="#3a49eb" d="M371.7 340.49h1v1h-1z"/>
<path fill="#394aeb" d="M362.1 353.85h1v1h-1z"/>
<path fill="#394beb" d="M367.63 353.88h1v1h-1zM373.24 345.8h1v1h-1z"/>
<path fill="#384ceb" d="M367.22 353.81h1v1h-1zM363.93 338.86h1v1h-1z"/>
<path fill="#384deb" d="M366.7 353.6h1v1h-1zM359.91 351.31h1v1h-1zM372.57 343.51h1v1h-1zM367.83 339.39h1v1h-1zM358.94 348.2h1v1h-1z"/>
<path fill="#374eec" d="M358.79 346.43h1v1h-1zM362.96 339.55h1v1h-1z"/>
<path fill="#374fec" d="M359.43 349.45h1v1h-1z"/>
<path fill="#3650ec" d="M361.93 340.6h1v1h-1zM370.19 351.48h1v1h-1zM372.2 347.46h1v1h-1zM360.8 350.69h1v1h-1z"/>
<path fill="#3651ec" d="M362.14 340.62h1v1h-1zM359.75 343.07h1v1h-1z"/>
<path fill="#3552ec" d="M370.22 350.98h1v1h-1zM370.7 341.75h1v1h-1zM360.81 351.04h1v1h-1z"/>
<path fill="#3553ec" d="M372.27 345.63h1v1h-1zM367.28 352.81h1v1h-1zM359.55 345.64h1v1h-1zM371.54 349h1v1h-1z"/>
<path fill="#3454ec" d="M361.3 351.33h1v1h-1zM371.7 348.67h1v1h-1zM365 339.86h1v1h-1z"/>
<path fill="#3455ec" d="M359.32 347.1h1v1h-1zM366.8 340.32h1v1h-1zM366.3 352.62h1v1h-1z"/>
<path fill="#3356ed" d="M371.9 347.64h1v1h-1zM370.76 350.27h1v1h-1zM368.46 340.63h1v1h-1z"/>
<path fill="#3357ed" d="M365.93 352.42h1v1h-1zM371.79 346.85h1v1h-1zM371.64 346.51h1v1h-1zM369.22 341.04h1v1h-1zM371.29 347.83h1v1h-1z"/>
<path fill="#3258ed" d="M367.15 340.26h1v1h-1z"/>
<path fill="#3259ed" d="M371.03 344.38h1v1h-1zM361.99 351.36h1v1h-1zM371.34 345.38h1v1h-1zM367.69 340.76h1v1h-1zM368.26 351.65h1v1h-1zM364.43 340.63h1v1h-1zM361.73 341.95h1v1h-1z"/>
<path fill="#315aed" d="M366.68 340.19h1v1h-1zM368.24 341.37h1v1h-1zM363.52 351.66h1v1h-1z"/>
<path fill="#315bed" d="M360.32 346.46h1v1h-1zM368.53 351.24h1v1h-1zM367.76 352.03h1v1h-1z"/>
<path fill="#305ced" d="M359.96 347.33h1v1h-1zM367.99 351.82h1v1h-1z"/>
<path fill="#305ded" d="M365.65 340.47h1v1h-1zM365.49 340.38h1v1h-1z"/>
<path fill="#2f5eee" d="M369.76 350.51h1v1h-1zM369.37 342.28h1v1h-1zM360.45 344.77h1v1h-1z"/>
<path fill="#2f5fee" d="M360.39 346.31h1v1h-1zM367.09 340.92h1v1h-1zM360.2 347.24h1v1h-1zM365.72 340.84h1v1h-1zM360.99 349.39h1v1h-1zM364.76 340.93h1v1h-1z"/>
<path fill="#2e60ee" d="M363.46 351.08h1v1h-1zM363.77 341.26h1v1h-1zM364.32 341.07h1v1h-1z"/>
<path fill="#2e61ee" d="M369.12 342.06h1v1h-1zM366.45 351.58h1v1h-1zM371.01 346.08h1v1h-1z"/>
<path fill="#2d62ee" d="M360.99 344.97h1v1h-1zM365.67 341.2h1v1h-1z"/>
<path fill="#2d63ee" d="M364.44 351.22h1v1h-1zM369.28 342.28h1v1h-1zM369.11 349.83h1v1h-1zM370.47 345.3h1v1h-1zM363.99 341.47h1v1h-1z"/>
<path fill="#2c64ee" d="M365.17 351.38h1v1h-1zM370.98 345.54h1v1h-1z"/>
<path fill="#2c65ee" d="M369.95 348.58h1v1h-1zM369.24 349.64h1v1h-1zM361.2 344.54h1v1h-1z"/>
<path fill="#2b66ef" d="M370.24 347.91h1v1h-1zM364.86 340.97h1v1h-1zM370.84 345.21h1v1h-1zM369.87 343.01h1v1h-1zM364.44 351.38h1v1h-1zM369.51 343.45h1v1h-1z"/>
<path fill="#2b67ef" d="M368.01 350.8h1v1h-1z"/>
<path fill="#2a68ef" d="M360.85 345.68h1v1h-1zM361.33 346.68h1v1h-1z"/>
<path fill="#2a69ef" d="M361.59 349.21h1v1h-1zM370.34 348.46h1v1h-1zM360.88 344.91h1v1h-1z"/>
<path fill="#296aef" d="M368.44 349.84h1v1h-1zM361.55 348.72h1v1h-1z"/>
<path fill="#296bef" d="M362.5 350.23h1v1h-1z"/>
<path fill="#286cef" d="M365.76 341.66h1v1h-1zM368.8 343.34h1v1h-1zM369.31 343.7h1v1h-1z"/>
<path fill="#286def" d="M370.45 345.2h1v1h-1zM363.06 350.27h1v1h-1zM362.79 350.03h1v1h-1z"/>
<path fill="#286eef" d="M369.79 344.03h1v1h-1zM367.24 342.15h1v1h-1z"/>
<path fill="#286fef" d="M366.4 351.07h1v1h-1z"/>
<path fill="#2871ef" d="M365.28 351.19h1v1h-1z"/>
<path fill="#2873ee" d="M362.95 349.96h1v1h-1z"/>
<path fill="#2874ee" d="M370.01 347.36h1v1h-1zM362.08 344.51h1v1h-1z"/>
<path fill="#2876ed" d="M362.73 349.32h1v1h-1zM361.82 345.04h1v1h-1z"/>
<path fill="#2877ed" d="M368.91 349.76h1v1h-1z"/>
<path fill="#2879ed" d="M366.77 350.56h1v1h-1z"/>
<path fill="#287aec" d="M364.46 350.36h1v1h-1zM361.42 345.8h1v1h-1z"/>
<path fill="#287bec" d="M370.1 345.74h1v1h-1zM368.26 349.72h1v1h-1z"/>
<path fill="#287cec" d="M361.74 346.73h1v1h-1zM367.81 342.31h1v1h-1z"/>
<path fill="#287dec" d="M369.49 348.32h1v1h-1zM367.94 342.64h1v1h-1z"/>
<path fill="#287eeb" d="M370.01 344.55h1v1h-1z"/>
<path fill="#2880eb" d="M362.61 349.54h1v1h-1zM362.84 349.7h1v1h-1zM367.01 342.01h1v1h-1zM364.75 350.23h1v1h-1zM362.71 342.79h1v1h-1z"/>
<path fill="#2881eb" d="M361.33 346.95h1v1h-1zM364.73 341.74h1v1h-1z"/>
<path fill="#2882ea" d="M370 345.44h1v1h-1z"/>
<path fill="#2883ea" d="M369.59 347.29h1v1h-1z"/>
<path fill="#2884ea" d="M362.15 347.54h1v1h-1z"/>
<path fill="#2885ea" d="M366.89 341.88h1v1h-1zM370.03 345.73h1v1h-1zM369.76 347.24h1v1h-1z"/>
<path fill="#2887e9" d="M369.55 344.66h1v1h-1zM363.09 343.22h1v1h-1z"/>
<path fill="#2888e9" d="M365.27 342.33h1v1h-1z"/>
<path fill="#2889e9" d="M362.22 348.56h1v1h-1z"/>
<path fill="#288ae8" d="M364.93 350.67h1v1h-1z"/>
<path fill="#288be8" d="M366.02 341.79h1v1h-1zM364.36 342.1h1v1h-1z"/>
<path fill="#288ce8" d="M363.26 349.44h1v1h-1zM364.39 350.08h1v1h-1z"/>
<path fill="#288fe7" d="M362.63 344.66h1v1h-1z"/>
<path fill="#2891e7" d="M362.21 345.4h1v1h-1zM367.81 349.67h1v1h-1z"/>
<path fill="#2892e6" d="M369.64 346.56h1v1h-1z"/>
<path fill="#2898e5" d="M364.66 349.78h1v1h-1zM363.42 349.38h1v1h-1z"/>
<path fill="#2899e5" d="M369.43 345.86h1v1h-1zM368.15 349.43h1v1h-1z"/>
<path fill="#289ae4" d="M369.68 347.51h1v1h-1z"/>
<path fill="#289be4" d="M369.2 347.18h1v1h-1z"/>
<path fill="#289ce4" d="M367.9 343.34h1v1h-1z"/>
<path fill="#289de4" d="M368.96 346h1v1h-1zM363.27 343.46h1v1h-1zM369.16 346.42h1v1h-1zM366.86 350.29h1v1h-1z"/>
<path fill="#289ee3" d="M366.61 349.74h1v1h-1zM363.02 343.98h1v1h-1z"/>
<path fill="#289fe3" d="M369.14 347.72h1v1h-1zM365.64 342.66h1v1h-1zM365.21 342.29h1v1h-1z"/>
<path fill="#28a0e3" d="M362.17 344.19h1v1h-1zM362.27 348.54h1v1h-1z"/>
<path fill="#28a1e3" d="M365.83 342.67h1v1h-1z"/>
<path fill="#28a3e2" d="M368.04 343.2h1v1h-1z"/>
<path fill="#28a5e2" d="M368.88 345.07h1v1h-1zM361.73 345.39h1v1h-1z"/>
<path fill="#28a6e1" d="M369.69 346.73h1v1h-1zM368.45 349.29h1v1h-1zM367.52 342.64h1v1h-1zM362.38 345.34h1v1h-1zM363.55 344.03h1v1h-1z"/>
<path fill="#28a7e1" d="M365.53 342.83h1v1h-1z"/>
<path fill="#28aae0" d="M367.09 349.21h1v1h-1zM361.89 345.42h1v1h-1z"/>
<path fill="#28abe0" d="M361.98 347.76h1v1h-1z"/>
<path fill="#28ace0" d="M369.08 346.04h1v1h-1zM363.95 343.77h1v1h-1z"/>
<path fill="#28ade0" d="M362.07 347.23h1v1h-1zM366.99 349.34h1v1h-1z"/>
<path fill="#28aedf" d="M368.1 343.49h1v1h-1zM364.22 349.91h1v1h-1zM361.98 347.67h1v1h-1z"/>
<path fill="#28b0df" d="M362.76 347.63h1v1h-1z"/>
<path fill="#28b1df" d="M362.8 346.19h1v1h-1zM369.06 346.92h1v1h-1zM362.58 348.74h1v1h-1z"/>
<path fill="#28b2de" d="M366.08 343.08h1v1h-1zM365.31 342.89h1v1h-1z"/>
<path fill="#28b8dd" d="M362.66 348.18h1v1h-1zM367.79 348.29h1v1h-1z"/>
<path fill="#28b9dd" d="M367.83 343.04h1v1h-1z"/>
<path fill="#28bbdc" d="M362.57 345.07h1v1h-1zM368.38 343.77h1v1h-1zM367.33 343.49h1v1h-1z"/>
<path fill="#28bddc" d="M367.63 348.74h1v1h-1z"/>
<path fill="#28bedb" d="M364.68 349.61h1v1h-1z"/>
<path fill="#28beda" d="M367.06 343.05h1v1h-1z"/>
<path fill="#28bed4" d="M366.15 343.74h1v1h-1zM368.53 346.52h1v1h-1z"/>
<path fill="#29bed0" d="M363.74 344.6h1v1h-1zM366.66 349.85h1v1h-1z"/>
<path fill="#29becf" d="M366.27 342.87h1v1h-1z"/>
<path fill="#29bece" d="M367.35 343.57h1v1h-1zM364.45 343.64h1v1h-1zM367.67 344h1v1h-1zM363.21 345.29h1v1h-1z"/>
<path fill="#29becc" d="M368.71 346.8h1v1h-1zM363.77 347.91h1v1h-1zM367.21 349.16h1v1h-1z"/>
<path fill="#29beca" d="M365.14 349.63h1v1h-1z"/>
<path fill="#29bec9" d="M364.68 348.96h1v1h-1z"/>
<path fill="#29bec8" d="M368.37 347.37h1v1h-1z"/>
<path fill="#29bec6" d="M363.05 348.48h1v1h-1z"/>
<path fill="#2abec4" d="M368.85 347.71h1v1h-1z"/>
<path fill="#2abec1" d="M362.69 347.71h1v1h-1z"/>
<path fill="#2abebe" d="M365.32 343.8h1v1h-1z"/>
<path fill="#2abebd" d="M363.11 343.92h1v1h-1z"/>
<path fill="#2abebc" d="M368.68 345.1h1v1h-1z"/>
<path fill="#2abebb" d="M366.98 348.33h1v1h-1z"/>
<path fill="#2bbeba" d="M366.32 349.76h1v1h-1zM364.09 344.35h1v1h-1z"/>
<path fill="#2bbeb9" d="M365.86 349.78h1v1h-1z"/>
<path fill="#2bbeb5" d="M368.51 347.27h1v1h-1z"/>
<path fill="#2bbeb3" d="M363.24 345.64h1v1h-1z"/>
<path fill="#2bbeb1" d="M367.25 349.23h1v1h-1zM367.95 344.77h1v1h-1z"/>
<path fill="#2bbeb0" d="M362.95 345.45h1v1h-1z"/>
<path fill="#2cbeae" d="M364.48 349.09h1v1h-1z"/>
<path fill="#2cbead" d="M363.36 345.1h1v1h-1zM363.26 346.92h1v1h-1z"/>
<path fill="#2cbeac" d="M363.9 343.74h1v1h-1z"/>
<path fill="#2cbeab" d="M366.35 348.73h1v1h-1z"/>
<path fill="#2cbea9" d="M363.32 346.29h1v1h-1zM362.92 348.04h1v1h-1zM365.66 348.6h1v1h-1z"/>
<path fill="#2cbea8" d="M365.7 348.97h1v1h-1z"/>
<path fill="#2cbea7" d="M365.79 344.21h1v1h-1zM363.69 345.48h1v1h-1z"/>
<path fill="#2cbea6" d="M364.7 344.16h1v1h-1z"/>
<path fill="#2cbea5" d="M365.93 349.67h1v1h-1zM366.07 348.39h1v1h-1z"/>
<path fill="#2dbea3" d="M367.32 348.35h1v1h-1zM367.11 344.77h1v1h-1z"/>
<path fill="#2dbea1" d="M363.68 343.74h1v1h-1z"/>
<path fill="#2dbe9d" d="M364.08 347.68h1v1h-1z"/>
<path fill="#2dbe9b" d="M367.96 347.43h1v1h-1z"/>
<path fill="#2ebe96" d="M367.32 348.34h1v1h-1z"/>
<path fill="#2ebe93" d="M367.32 348.76h1v1h-1z"/>
<path fill="#2ebe92" d="M366.5 349.01h1v1h-1z"/>
<path fill="#2ebe90" d="M367.6 343.96h1v1h-1z"/>
<path fill="#2fbe8d" d="M366.41 348.29h1v1h-1z"/>
<path fill="#2fbe89" d="M368.09 345.53h1v1h-1z"/>
<path fill="#2fbe88" d="M368.4 347.49h1v1h-1z"/>
<path fill="#2fbe87" d="M365.22 343.81h1v1h-1z"/>
<path fill="#2fbe86" d="M364.91 343.35h1v1h-1zM365.4 343.43h1v1h-1z"/>
<path fill="#2fbe85" d="M363.66 347.93h1v1h-1zM367.17 345.6h1v1h-1z"/>
<path fill="#2fbe84" d="M366.28 348.82h1v1h-1z"/>
<path fill="#30be83" d="M365.73 349.39h1v1h-1z"/>
<path fill="#30be81" d="M366.78 344.24h1v1h-1z"/>
<path fill="#30be80" d="M364.53 347.55h1v1h-1z"/>
<path fill="#30be7f" d="M364.57 345h1v1h-1z"/>
<path fill="#30be7e" d="M363.82 344.03h1v1h-1z"/>
<path fill="#30be7b" d="M368.27 346.59h1v1h-1z"/>
<path fill="#30be7a" d="M364.51 343.63h1v1h-1zM364.78 348.24h1v1h-1z"/>
<path fill="#31be77" d="M365.25 344.55h1v1h-1z"/>
<path fill="#31be76" d="M364.6 346.7h1v1h-1zM367.69 345.25h1v1h-1z"/>
<path fill="#31be75" d="M366.6 347.12h1v1h-1z"/>
<path fill="#31be73" d="M367.42 346.81h1v1h-1z"/>
<path fill="#31be72" d="M363.51 347.82h1v1h-1z"/>
<path fill="#31be70" d="M365.22 345.16h1v1h-1z"/>
<path fill="#31be6e" d="M363.9 348.57h1v1h-1z"/>
<path fill="#33be6c" d="M364.54 345.27h1v1h-1z"/>
<path fill="#36be6b" d="M367.72 346.26h1v1h-1z"/>
<path fill="#36be6a" d="M365.74 344.27h1v1h-1z"/>
<path fill="#38be69" d="M366.9 347.29h1v1h-1z"/>
<path fill="#39be68" d="M368.02 347.69h1v1h-1zM365.11 346.82h1v1h-1z"/>
<path fill="#3bbe67" d="M364.17 345.81h1v1h-1z"/>
<path fill="#3cbf66" d="M366.82 344.16h1v1h-1z"/>
<path fill="#3fbf64" d="M367.47 348.49h1v1h-1zM364.81 347.98h1v1h-1z"/>
<path fill="#40bf63" d="M364.77 345.2h1v1h-1z"/>
<path fill="#41bf63" d="M364.38 348.78h1v1h-1zM363.92 348.41h1v1h-1z"/>
<path fill="#41bf62" d="M366.94 347.04h1v1h-1z"/>
<path fill="#42bf62" d="M365.42 345.47h1v1h-1zM364.56 346.76h1v1h-1z"/>
<path fill="#43bf61" d="M363.69 347.53h1v1h-1zM364.35 348.22h1v1h-1z"/>
<path fill="#47c05f" d="M364.31 346.65h1v1h-1z"/>
<path fill="#48c05e" d="M366.13 346.64h1v1h-1z"/>
<path fill="#48c05d" d="M363.64 345.39h1v1h-1z"/>
<path fill="#49c05d" d="M364.19 345.98h1v1h-1z"/>
<path fill="#4ac05c" d="M366.83 346.6h1v1h-1z"/>
<path fill="#4cc05b" d="M364.06 347.8h1v1h-1z"/>
<path fill="#4dc05b" d="M367.83 345.99h1v1h-1z"/>
<path fill="#4fc059" d="M366.44 344.64h1v1h-1zM365.76 344.07h1v1h-1z"/>
<path fill="#50c158" d="M367.14 345.15h1v1h-1z"/>
<path fill="#53c156" d="M365.78 346.94h1v1h-1z"/>
<path fill="#54c155" d="M366.78 348.51h1v1h-1zM363.7 344.69h1v1h-1z"/>
<path fill="#55c155" d="M364.11 347.12h1v1h-1z"/>
<path fill="#58c152" d="M366.39 345.22h1v1h-1z"/>
<path fill="#59c152" d="M363.83 347.37h1v1h-1z"/>
<path fill="#5bc250" d="M367.69 347.13h1v1h-1z"/>
<path fill="#5cc250" d="M366.27 345.27h1v1h-1zM365.76 345.77h1v1h-1z"/>
<path fill="#5fc24e" d="M364.11 346.86h1v1h-1z"/>
<path fill="#60c24d" d="M364.56 345.24h1v1h-1z"/>
<path fill="#62c24c" d="M365.24 345.65h1v1h-1z"/>
<path fill="#62c24b" d="M365.4 346.71h1v1h-1z"/>
<path fill="#63c24b" d="M364.11 345.54h1v1h-1z"/>
<path fill="#65c34a" d="M366.87 344.88h1v1h-1z"/>
<path fill="#68c347" d="M365.78 347.77h1v1h-1z"/>
<path fill="#6ac346" d="M366.93 345.24h1v1h-1z"/>
<path fill="#6bc346" d="M366.74 346.95h1v1h-1z"/>
<path fill="#6bc345" d="M364.82 348.18h1v1h-1z"/>
<path fill="#6cc345" d="M365.76 346.48h1v1h-1zM365.12 347.77h1v1h-1z"/>
<path fill="#6dc344" d="M367.33 346.08h1v1h-1z"/>
<path fill="#6fc442" d="M365.1 346h1v1h-1z"/>
<path fill="#71c441" d="M367.92 346.66h1v1h-1z"/>
<path fill="#73c440" d="M367.37 345.41h1v1h-1z"/>
<path fill="#74c43f" d="M363.86 346.08h1v1h-1z"/>
<path fill="#7ac53b" d="M367.13 345.57h1v1h-1z"/>
<path fill="#7bc53a" d="M365.69 344.96h1v1h-1zM365.01 346.74h1v1h-1z"/>
<path fill="#7cc539" d="M363.93 345.2h1v1h-1z"/>
<path fill="#7dc539" d="M366.42 347.53h1v1h-1zM364.33 344.73h1v1h-1z"/>
<path fill="#7ec538" d="M366.96 347.49h1v1h-1zM366.23 348.44h1v1h-1z"/>
<path fill="#84c634" d="M367.78 346.11h1v1h-1z"/>
<path fill="#85c633" d="M367.61 345.54h1v1h-1z"/>
<path fill="#87c631" d="M366.07 347.77h1v1h-1z"/>
<path fill="#8ac630" d="M364.09 345.28h1v1h-1z"/>
<path fill="#8dc72e" d="M367.48 347.37h1v1h-1z"/>
<path fill="#8dc72d" d="M364.07 346.26h1v1h-1z"/>
<path fill="#90c72c" d="M363.91 347.17h1v1h-1z"/>
<path fill="#90c72b" d="M364.61 344.73h1v1h-1z"/>
<path fill="#93c729" d="M364.44 345.78h1v1h-1z"/>
<path fill="#95c728" d="M365.94 347.63h1v1h-1z"/>
<path fill="#9ec626" d="M365.88 344.79h1v1h-1z"/>
<path fill="#a8c525" d="M366.65 347.76h1v1h-1z"/>
<path fill="#aac525" d="M366.62 346.57h1v1h-1z"/>
<path fill="#afc424" d="M365.7 344.71h1v1h-1z"/>
<path fill="#b1c424" d="M367.21 346.86h1v1h-1z"/>
<path fill="#bec222" d="M366.88 346.02h1v1h-1z"/>
<path fill="#c3c121" d="M367.01 346.36h1v1h-1z"/>
<path fill="#c5c121" d="M366.75 346.33h1v1h-1zM365.3 346.06h1v1h-1z"/>
<path fill="#d2bf1f" d="M365.07 345.83h1v1h-1z"/>
<path fill="#d6be1e" d="M365.34 347.08h1v1h-1z"/>
<path fill="#dbbe1e" d="M366.54 345.99h1v1h-1z"/>
<path fill="#dcbe1e" d="M365.93 346.01h1v1h-1z"/>
</g>
<rect x="356.9" y="327.6" width="59.8" height="59.3" fill="none" stroke="#1a1a1a" stroke-width="0.9"/>
<line x1="376.1" y1="327.6" x2="376.1" y2="386.9" stroke="#1a1a1a" stroke-width="0.9"/>
<line x1="356.9" y1="356.4" x2="416.7" y2="356.4" stroke="#1a1a1a" stroke-width="0.9"/>
<text x="359.2" y="334.74" font-size="6.5" textLength="13.3" lengthAdjust="spacingAndGlyphs">96.1</text>
<text x="415.1" y="334.74" font-size="6.5" text-anchor="end" textLength="9.4" lengthAdjust="spacingAndGlyphs">1.7</text>
<text x="415.1" y="385.24" font-size="6.5" text-anchor="end" textLength="9.4" lengthAdjust="spacingAndGlyphs">0.3</text>
<line x1="354.9" y1="332.94" x2="356.9" y2="332.94" stroke="#111" stroke-width="0.8"/>
<line x1="353.6" y1="335.72" x2="356.9" y2="335.72" stroke="#111" stroke-width="0.8"/>
<line x1="353.6" y1="346.4" x2="356.9" y2="346.4" stroke="#111" stroke-width="0.8"/>
<line x1="354.9" y1="349.78" x2="356.9" y2="349.78" stroke="#111" stroke-width="0.8"/>
<line x1="353.6" y1="360.45" x2="356.9" y2="360.45" stroke="#111" stroke-width="0.8"/>
<line x1="353.6" y1="373.85" x2="356.9" y2="373.85" stroke="#111" stroke-width="0.8"/>
<line x1="354.9" y1="375.99" x2="356.9" y2="375.99" stroke="#111" stroke-width="0.8"/>
<line x1="354.9" y1="378.3" x2="356.9" y2="378.3" stroke="#111" stroke-width="0.8"/>
<line x1="353.6" y1="380.61" x2="356.9" y2="380.61" stroke="#111" stroke-width="0.8"/>
<line x1="354.9" y1="382.51" x2="356.9" y2="382.51" stroke="#111" stroke-width="0.8"/>
<line x1="354.9" y1="385.6" x2="356.9" y2="385.6" stroke="#111" stroke-width="0.8"/>
<line x1="358.1" y1="386.9" x2="358.1" y2="388.9" stroke="#111" stroke-width="0.8"/>
<line x1="360.49" y1="386.9" x2="360.49" y2="389.9" stroke="#111" stroke-width="0.8"/>
<line x1="362.88" y1="386.9" x2="362.88" y2="388.9" stroke="#111" stroke-width="0.8"/>
<line x1="365.27" y1="386.9" x2="365.27" y2="389.9" stroke="#111" stroke-width="0.8"/>
<line x1="367.66" y1="386.9" x2="367.66" y2="388.9" stroke="#111" stroke-width="0.8"/>
<line x1="370.06" y1="386.9" x2="370.06" y2="388.9" stroke="#111" stroke-width="0.8"/>
<line x1="374.84" y1="386.9" x2="374.84" y2="388.9" stroke="#111" stroke-width="0.8"/>
<line x1="381.42" y1="386.9" x2="381.42" y2="389.9" stroke="#111" stroke-width="0.8"/>
<line x1="388.59" y1="386.9" x2="388.59" y2="388.9" stroke="#111" stroke-width="0.8"/>
<line x1="398.16" y1="386.9" x2="398.16" y2="389.9" stroke="#111" stroke-width="0.8"/>
<line x1="411.32" y1="386.9" x2="411.32" y2="388.9" stroke="#111" stroke-width="0.8"/>
<line x1="349.6" y1="370" x2="349.6" y2="349.5" stroke="#111" stroke-width="1.1"/>
<path fill="#111" d="M349.6 346.5L347.35 351.5L351.85 351.5Z"/>
<text x="349.6" y="383.82" font-size="7" text-anchor="middle" textLength="18.5" lengthAdjust="spacingAndGlyphs" transform="rotate(-90 349.6 381.3)">CD69</text>
<text x="357.4" y="398.52" font-size="7" textLength="22.5" lengthAdjust="spacingAndGlyphs">CD103</text>
<line x1="381" y1="396" x2="402.5" y2="396" stroke="#111" stroke-width="1.1"/>
<path fill="#111" d="M405.5 396L400.5 393.75L400.5 398.25Z"/>
<text x="122.9" y="420.79" font-size="10" font-weight="bold" fill="#000">H</text>
<text x="163.6" y="420.64" font-size="6.5" text-anchor="middle" textLength="24.2" lengthAdjust="spacingAndGlyphs">Gated on</text>
<text x="165.8" y="429.64" font-size="6.5" text-anchor="middle" textLength="40.6" lengthAdjust="spacingAndGlyphs">H2-K<tspan font-size="3.6" dy="-2">bm</tspan><tspan dy="2"> CD4</tspan><tspan font-size="3.8" dy="-2">+</tspan></text>
<text x="165.4" y="442.32" font-size="7" text-anchor="middle" textLength="53.7" lengthAdjust="spacingAndGlyphs">GM-CSF<tspan font-size="4" dy="-2">+</tspan><tspan dy="2"> IFN-γ</tspan><tspan font-size="4" dy="-2">+</tspan></text>
<text x="164.9" y="521.72" font-size="7" text-anchor="middle" textLength="54.4" lengthAdjust="spacingAndGlyphs">GM-CSF<tspan font-size="4" dy="-2">+</tspan><tspan dy="2"> IFN-γ</tspan><tspan font-size="4" dy="-2">−</tspan></text>
<g filter="url(#bl)">
<path fill="#b4b8f4" d="M135.43 484.62h1v1h-1zM144.72 491.65h1v1h-1zM150.37 489.77h1v1h-1zM143.1 492.3h1v1h-1zM146.14 486.9h1v1h-1zM143 478.93h1v1h-1zM157.32 485.88h1v1h-1zM149.04 494.67h1v1h-1zM141.85 481.51h1v1h-1zM149.83 486.9h1v1h-1zM136.89 489.67h1v1h-1zM143.19 482.34h1v1h-1zM145.64 482h1v1h-1zM149.52 494.43h1v1h-1zM145.23 486.84h1v1h-1zM142.61 489.28h1v1h-1zM143.33 489.96h1v1h-1zM152.48 489.25h1v1h-1zM136.78 488.53h1v1h-1zM141.39 487.18h1v1h-1zM149.5 483.43h1v1h-1zM144.48 491.62h1v1h-1zM137.63 485.24h1v1h-1zM147.9 485.08h1v1h-1zM149.87 482.09h1v1h-1zM142.22 487.18h1v1h-1zM149.45 490.02h1v1h-1zM140.84 484.48h1v1h-1zM144.74 486.81h1v1h-1zM142.86 490.21h1v1h-1zM140.8 489.69h1v1h-1zM135.85 478.84h1v1h-1zM137.82 488.67h1v1h-1zM145.82 478.7h1v1h-1zM144.09 488.55h1v1h-1zM154.15 488.98h1v1h-1zM146.47 479.88h1v1h-1zM145.57 478.39h1v1h-1zM141.19 484.55h1v1h-1zM136.75 482.06h1v1h-1zM142.2 488.21h1v1h-1zM138.88 487.13h1v1h-1zM147.78 485.88h1v1h-1zM155.67 484.77h1v1h-1zM138.33 478.65h1v1h-1zM150.15 488.59h1v1h-1zM141.91 487.17h1v1h-1zM142.27 489.33h1v1h-1zM143.05 486.84h1v1h-1zM142.61 482.55h1v1h-1zM134.97 487.5h1v1h-1zM147.31 493.23h1v1h-1zM138.25 486.54h1v1h-1zM149.33 483.39h1v1h-1zM139.27 487.7h1v1h-1zM156.64 490.13h1v1h-1zM149.38 482.25h1v1h-1zM147.44 490.36h1v1h-1zM134.85 486.01h1v1h-1zM141.86 488.46h1v1h-1zM143.12 484.94h1v1h-1zM139.57 488.48h1v1h-1zM145.9 488.86h1v1h-1zM151.93 479.99h1v1h-1zM147.38 483.16h1v1h-1zM146.71 486.35h1v1h-1zM151.44 485.54h1v1h-1zM151.21 487.27h1v1h-1zM148.95 484.44h1v1h-1zM144.55 484.53h1v1h-1zM149.05 483.74h1v1h-1zM150.36 492.03h1v1h-1zM135.18 485.31h1v1h-1zM146.66 492.81h1v1h-1zM150.63 486.3h1v1h-1zM139.28 486.71h1v1h-1zM145.75 480.52h1v1h-1zM150.07 489.5h1v1h-1zM146.88 488.26h1v1h-1zM145.44 480.56h1v1h-1zM139.8 489.11h1v1h-1zM140.96 486.05h1v1h-1zM145.55 486.3h1v1h-1zM144.8 487.83h1v1h-1zM143.13 481.71h1v1h-1zM141.36 489.65h1v1h-1zM138.7 487.77h1v1h-1zM145.11 482.56h1v1h-1zM138.05 483.54h1v1h-1zM149.21 483h1v1h-1zM145.39 486.41h1v1h-1zM144.42 493.64h1v1h-1zM142.17 484.88h1v1h-1zM138.76 486.11h1v1h-1zM143.42 482.42h1v1h-1zM153.79 483.1h1v1h-1zM142.23 481.07h1v1h-1zM144.1 487.33h1v1h-1zM150.18 489.74h1v1h-1zM139.86 492.14h1v1h-1zM142.42 491.94h1v1h-1zM154.27 484.4h1v1h-1zM136.12 488.04h1v1h-1zM152.48 487.49h1v1h-1zM150.24 488.24h1v1h-1zM148.9 491.05h1v1h-1zM141.2 480.5h1v1h-1zM142.34 482.91h1v1h-1zM135.36 485.31h1v1h-1zM147.75 478.85h1v1h-1zM137.34 484.45h1v1h-1zM151.92 490.27h1v1h-1zM145.44 488.03h1v1h-1zM145.6 480.6h1v1h-1zM144.3 487.71h1v1h-1zM142.36 489h1v1h-1zM148.85 486.15h1v1h-1zM141.5 481.41h1v1h-1zM150.52 483.75h1v1h-1zM145.18 491.85h1v1h-1zM148.15 481.06h1v1h-1zM142.55 483.21h1v1h-1zM146.91 487.25h1v1h-1zM141.77 486.62h1v1h-1zM135.54 483h1v1h-1zM142.03 489.01h1v1h-1zM141.03 485.31h1v1h-1zM145.28 491.6h1v1h-1zM134.92 488h1v1h-1zM144.32 485.68h1v1h-1zM144.71 478.33h1v1h-1zM143.3 485.04h1v1h-1z"/>
<path fill="#8c94f0" d="M165.31 483.56h0.8v0.8h-0.8zM156.05 483.06h0.8v0.8h-0.8zM160.04 485.66h0.8v0.8h-0.8zM153.34 486h0.8v0.8h-0.8zM165.13 491h0.8v0.8h-0.8zM160.33 490.81h0.8v0.8h-0.8zM158.41 486.06h0.8v0.8h-0.8zM161.34 482.22h0.8v0.8h-0.8zM159.91 486.12h0.8v0.8h-0.8zM155.77 486.07h0.8v0.8h-0.8zM154.09 487.95h0.8v0.8h-0.8zM153.2 485.41h0.8v0.8h-0.8zM152.38 486.62h0.8v0.8h-0.8zM152.96 490.31h0.8v0.8h-0.8z"/>
<path fill="#3b46eb" d="M158.88 484.11h1v1h-1z"/>
<path fill="#3b47eb" d="M135.62 492.56h1v1h-1zM147.25 493.43h1v1h-1zM147.15 479h1v1h-1zM136.95 492.5h1v1h-1z"/>
<path fill="#3a48eb" d="M155.94 486.12h1v1h-1zM151.78 480.84h1v1h-1zM140.99 478.72h1v1h-1zM135.77 479.89h1v1h-1zM143.68 478.61h1v1h-1zM142.38 478.85h1v1h-1z"/>
<path fill="#3a49eb" d="M153.92 482.97h1v1h-1zM154.86 487.3h1v1h-1zM144.11 479.35h1v1h-1z"/>
<path fill="#394aeb" d="M148.72 491.51h1v1h-1zM141.16 492.3h1v1h-1zM136.58 491.05h1v1h-1zM154.61 486.97h1v1h-1zM140.8 492.19h1v1h-1zM152 489.83h1v1h-1z"/>
<path fill="#394beb" d="M151.17 490.36h1v1h-1zM135.27 481.74h1v1h-1z"/>
<path fill="#384ceb" d="M145.63 479.99h1v1h-1zM141.42 492h1v1h-1zM135.37 489.9h1v1h-1z"/>
<path fill="#384deb" d="M150.94 481.76h1v1h-1zM139.33 480.46h1v1h-1z"/>
<path fill="#374eec" d="M138.97 480.69h1v1h-1zM152.73 487.42h1v1h-1z"/>
<path fill="#374fec" d="M136.24 490.17h1v1h-1zM152.83 485.65h1v1h-1zM147.02 491.34h1v1h-1zM146.21 480.43h1v1h-1zM138.8 491.07h1v1h-1z"/>
<path fill="#3650ec" d="M141.94 480.54h1v1h-1z"/>
<path fill="#3552ec" d="M152.08 485.09h1v1h-1zM145.01 480.63h1v1h-1z"/>
<path fill="#3553ec" d="M140.86 490.77h1v1h-1zM152.05 485.31h1v1h-1zM136.39 482.13h1v1h-1z"/>
<path fill="#3454ec" d="M142.75 480.71h1v1h-1zM145.29 481.04h1v1h-1zM148.45 489.83h1v1h-1z"/>
<path fill="#3455ec" d="M142.85 480.77h1v1h-1zM151.89 487.04h1v1h-1z"/>
<path fill="#3356ed" d="M137.4 489.48h1v1h-1zM137.25 489.3h1v1h-1zM152.01 485.05h1v1h-1zM150.45 489.1h1v1h-1zM148.15 482.05h1v1h-1zM150.26 482.87h1v1h-1z"/>
<path fill="#3357ed" d="M148.9 489.3h1v1h-1zM151.54 486.45h1v1h-1zM135.2 483.51h1v1h-1zM136.37 483.3h1v1h-1zM149.61 489.26h1v1h-1zM140.79 490.44h1v1h-1z"/>
<path fill="#3258ed" d="M136.27 488.38h1v1h-1zM150.42 483.96h1v1h-1zM135.74 487.88h1v1h-1zM134.84 486.32h1v1h-1zM146.18 481.7h1v1h-1z"/>
<path fill="#3259ed" d="M136.13 488.73h1v1h-1zM135.02 484.83h1v1h-1zM146.29 481.45h1v1h-1zM142.34 490.44h1v1h-1zM150.63 487.4h1v1h-1zM144.49 481.45h1v1h-1z"/>
<path fill="#315aed" d="M148.04 489.46h1v1h-1zM150.88 486.6h1v1h-1zM151.07 486.29h1v1h-1z"/>
<path fill="#315bed" d="M147.77 490.03h1v1h-1zM149.83 483.45h1v1h-1zM135.12 485.25h1v1h-1zM136.85 489.19h1v1h-1zM137.12 489.27h1v1h-1zM148.59 482.58h1v1h-1zM149.61 488.98h1v1h-1zM147.6 482h1v1h-1zM151.29 486.36h1v1h-1z"/>
<path fill="#305ced" d="M138.89 482.04h1v1h-1zM147.25 489.94h1v1h-1zM145.09 490.55h1v1h-1zM148.53 482.85h1v1h-1z"/>
<path fill="#305ded" d="M150.95 486.23h1v1h-1zM148.06 482.72h1v1h-1zM136.69 488.26h1v1h-1zM135.54 484.3h1v1h-1z"/>
<path fill="#2f5eee" d="M149.84 483.58h1v1h-1zM140.53 481.82h1v1h-1zM137.95 489.16h1v1h-1zM141.34 490.44h1v1h-1zM149.74 488.26h1v1h-1z"/>
<path fill="#2f5fee" d="M144.8 481.48h1v1h-1zM146.4 490.04h1v1h-1zM150.89 487.18h1v1h-1zM137.9 489.21h1v1h-1z"/>
<path fill="#2e60ee" d="M135.77 486.29h1v1h-1zM145.34 489.83h1v1h-1zM141.11 481.63h1v1h-1zM143.08 490.32h1v1h-1z"/>
<path fill="#2e61ee" d="M136.99 483.25h1v1h-1zM136.15 488.06h1v1h-1zM140.17 481.92h1v1h-1zM145.47 482.2h1v1h-1zM149.55 487.73h1v1h-1zM146.56 481.87h1v1h-1zM145.47 490.13h1v1h-1zM141.79 490.28h1v1h-1z"/>
<path fill="#2d62ee" d="M135.28 485.96h1v1h-1zM147.19 489.01h1v1h-1zM135.57 486.91h1v1h-1zM141.76 490.08h1v1h-1zM136.9 483.81h1v1h-1zM142.54 481.76h1v1h-1zM135.92 486.63h1v1h-1zM149.03 487.91h1v1h-1z"/>
<path fill="#2d63ee" d="M135.81 486.53h1v1h-1zM145.8 489.4h1v1h-1zM148.85 488.53h1v1h-1zM150.45 486.18h1v1h-1z"/>
<path fill="#2c64ee" d="M136.14 487.49h1v1h-1zM149.58 483.89h1v1h-1zM148.77 483.86h1v1h-1z"/>
<path fill="#2c65ee" d="M145.62 489.32h1v1h-1zM136.76 487.87h1v1h-1zM143.23 489.72h1v1h-1zM143.11 489.79h1v1h-1zM139.49 489.45h1v1h-1zM140.74 482.4h1v1h-1z"/>
<path fill="#2b66ef" d="M140.81 489.86h1v1h-1zM149.33 487.1h1v1h-1zM148.81 487.67h1v1h-1zM147.04 489.13h1v1h-1zM144.9 489.76h1v1h-1zM136.72 486.99h1v1h-1z"/>
<path fill="#2b67ef" d="M141.64 482.37h1v1h-1zM142.69 482.23h1v1h-1z"/>
<path fill="#2a68ef" d="M149.4 487.38h1v1h-1zM149.82 486.4h1v1h-1zM149.9 484.33h1v1h-1zM146.81 488.86h1v1h-1zM137.32 484.15h1v1h-1zM139.94 482.84h1v1h-1z"/>
<path fill="#2a69ef" d="M145.92 489.17h1v1h-1zM137.33 488.3h1v1h-1zM146.55 482.97h1v1h-1zM136.86 485.43h1v1h-1zM149.91 485.09h1v1h-1z"/>
<path fill="#296aef" d="M141.92 482.25h1v1h-1zM137.13 484.23h1v1h-1z"/>
<path fill="#296bef" d="M139.03 488.71h1v1h-1zM149.18 485.19h1v1h-1zM147.52 488.47h1v1h-1z"/>
<path fill="#286cef" d="M141.63 482.35h1v1h-1zM136.92 487.04h1v1h-1zM140.2 482.29h1v1h-1zM146.82 488.46h1v1h-1zM148.64 486.85h1v1h-1zM142.85 482.4h1v1h-1zM141.83 489.51h1v1h-1z"/>
<path fill="#286def" d="M142.26 489.69h1v1h-1z"/>
<path fill="#286eef" d="M143.3 489.74h1v1h-1zM143.64 482.54h1v1h-1zM149.36 486.28h1v1h-1zM141.97 489.09h1v1h-1z"/>
<path fill="#2870ef" d="M137.22 487.2h1v1h-1zM145.8 488.81h1v1h-1zM139.79 488.89h1v1h-1z"/>
<path fill="#2871ef" d="M136.91 487.49h1v1h-1z"/>
<path fill="#2872ee" d="M148.01 484.32h1v1h-1zM144.44 489.66h1v1h-1z"/>
<path fill="#2873ee" d="M137.21 487.19h1v1h-1z"/>
<path fill="#2874ee" d="M139.16 483.3h1v1h-1z"/>
<path fill="#2875ee" d="M143.05 482.31h1v1h-1zM137.89 484.33h1v1h-1zM139.55 488.4h1v1h-1z"/>
<path fill="#2876ed" d="M138.43 484.02h1v1h-1zM137.51 485.45h1v1h-1zM136.57 486.44h1v1h-1zM137.24 486.3h1v1h-1z"/>
<path fill="#2877ed" d="M148.34 487.16h1v1h-1z"/>
<path fill="#2878ed" d="M149.44 485.07h1v1h-1z"/>
<path fill="#287cec" d="M149.12 485.83h1v1h-1z"/>
<path fill="#287dec" d="M141.34 482.36h1v1h-1z"/>
<path fill="#287eeb" d="M148.58 485.23h1v1h-1zM136.81 485.67h1v1h-1z"/>
<path fill="#287feb" d="M136.84 485.54h1v1h-1zM142.15 482.91h1v1h-1z"/>
<path fill="#2880eb" d="M145.56 489h1v1h-1zM139.71 488.43h1v1h-1zM138.82 484.25h1v1h-1zM137.5 487.11h1v1h-1z"/>
<path fill="#2881eb" d="M137.95 485.65h1v1h-1zM138.77 484.17h1v1h-1z"/>
<path fill="#2884ea" d="M147.3 487.91h1v1h-1zM149.13 486.96h1v1h-1z"/>
<path fill="#2885ea" d="M144.44 483.09h1v1h-1z"/>
<path fill="#2886e9" d="M140.81 488.91h1v1h-1z"/>
<path fill="#2887e9" d="M136.96 485.82h1v1h-1zM138.31 484.76h1v1h-1zM140.27 488.74h1v1h-1z"/>
<path fill="#2889e9" d="M137.98 485.87h1v1h-1z"/>
<path fill="#288ce8" d="M147.66 483.69h1v1h-1zM147.44 488.4h1v1h-1zM138.11 484.34h1v1h-1z"/>
<path fill="#288de8" d="M138.03 485.45h1v1h-1zM141.19 488.78h1v1h-1zM139.57 488.45h1v1h-1z"/>
<path fill="#288ee7" d="M145.57 483.55h1v1h-1z"/>
<path fill="#2891e7" d="M138.64 484.22h1v1h-1zM137.29 485.8h1v1h-1z"/>
<path fill="#2892e6" d="M139.17 488.5h1v1h-1z"/>
<path fill="#2893e6" d="M148.19 486.18h1v1h-1zM137.71 485.2h1v1h-1zM142.05 488.62h1v1h-1zM146.68 487.59h1v1h-1z"/>
<path fill="#2897e5" d="M139.65 487.56h1v1h-1z"/>
<path fill="#2898e5" d="M140.4 483.66h1v1h-1z"/>
<path fill="#2899e5" d="M145.9 483.36h1v1h-1z"/>
<path fill="#289ae4" d="M143.85 482.85h1v1h-1z"/>
<path fill="#289be4" d="M144.1 488.66h1v1h-1zM147.37 484.07h1v1h-1z"/>
<path fill="#289de4" d="M145.03 488.4h1v1h-1z"/>
<path fill="#289ee3" d="M141.58 483.15h1v1h-1zM139.18 487.74h1v1h-1z"/>
<path fill="#289fe3" d="M146.83 487.57h1v1h-1z"/>
<path fill="#28a0e3" d="M145.6 483.16h1v1h-1zM140.22 487.72h1v1h-1zM141.32 488.17h1v1h-1zM140.43 483.83h1v1h-1zM146.07 487.59h1v1h-1z"/>
<path fill="#28a2e2" d="M138.31 485.6h1v1h-1z"/>
<path fill="#28a3e2" d="M138.81 486.04h1v1h-1z"/>
<path fill="#28a4e2" d="M139.28 484.55h1v1h-1z"/>
<path fill="#28a5e2" d="M142.85 482.74h1v1h-1zM143.91 488.58h1v1h-1z"/>
<path fill="#28a7e1" d="M147.51 486.01h1v1h-1z"/>
<path fill="#28aae0" d="M138.72 484.59h1v1h-1z"/>
<path fill="#28abe0" d="M138.42 487.07h1v1h-1z"/>
<path fill="#28ace0" d="M140.27 483.91h1v1h-1z"/>
<path fill="#28ade0" d="M147.07 485.12h1v1h-1zM147.5 484.17h1v1h-1zM146.06 483.42h1v1h-1z"/>
<path fill="#28aedf" d="M141.06 487.82h1v1h-1zM145.56 483.46h1v1h-1z"/>
<path fill="#28afdf" d="M143.15 482.82h1v1h-1zM139.33 484.86h1v1h-1z"/>
<path fill="#28b0df" d="M146.02 483.39h1v1h-1z"/>
<path fill="#28b1df" d="M140.66 484.33h1v1h-1z"/>
<path fill="#28b2de" d="M146.13 488.39h1v1h-1zM142.89 488.12h1v1h-1zM140.56 483.8h1v1h-1z"/>
<path fill="#28b3de" d="M145.62 487.41h1v1h-1z"/>
<path fill="#28b4de" d="M141.39 488.58h1v1h-1z"/>
<path fill="#28b5de" d="M148.01 485.47h1v1h-1zM147.29 487.35h1v1h-1z"/>
<path fill="#28b8dd" d="M142.33 488.1h1v1h-1zM147.03 487.1h1v1h-1zM146.62 484.67h1v1h-1z"/>
<path fill="#28b9dd" d="M141.89 488.53h1v1h-1zM147.25 486.78h1v1h-1z"/>
<path fill="#28badc" d="M146.12 484.46h1v1h-1zM143.5 483.34h1v1h-1zM139.17 486.78h1v1h-1z"/>
<path fill="#28bbdc" d="M147.13 486.97h1v1h-1zM146.19 488.07h1v1h-1z"/>
<path fill="#28bddc" d="M146.3 486.34h1v1h-1zM139.97 484.84h1v1h-1zM143.33 483.32h1v1h-1zM138.44 485.66h1v1h-1z"/>
<path fill="#28beda" d="M141.6 487.97h1v1h-1z"/>
<path fill="#28bed7" d="M139.78 484.08h1v1h-1zM143.96 487.67h1v1h-1z"/>
<path fill="#28bed6" d="M142.08 483.25h1v1h-1z"/>
<path fill="#28bed4" d="M146.43 487.59h1v1h-1z"/>
<path fill="#28bed3" d="M141.18 487.94h1v1h-1z"/>
<path fill="#28bed2" d="M141.11 487.94h1v1h-1z"/>
<path fill="#28bed1" d="M143.78 488.21h1v1h-1z"/>
<path fill="#29becf" d="M141.69 488.01h1v1h-1z"/>
<path fill="#29becd" d="M142.42 488.46h1v1h-1z"/>
<path fill="#29becc" d="M142.48 488.03h1v1h-1z"/>
<path fill="#29becb" d="M144.83 487.94h1v1h-1zM139.72 484.22h1v1h-1zM143.42 487.89h1v1h-1z"/>
<path fill="#29beca" d="M145.76 484.42h1v1h-1z"/>
<path fill="#29bec9" d="M146.35 485.75h1v1h-1z"/>
<path fill="#2abec5" d="M143.21 483.77h1v1h-1z"/>
<path fill="#2abebf" d="M140.95 484.31h1v1h-1z"/>
<path fill="#2abebd" d="M145.99 484.59h1v1h-1z"/>
<path fill="#2bbeb9" d="M146.96 485.47h1v1h-1zM140.84 484.46h1v1h-1z"/>
<path fill="#2bbeb8" d="M139.81 487.45h1v1h-1zM143.03 487.92h1v1h-1z"/>
<path fill="#2bbeb7" d="M141.74 488.23h1v1h-1z"/>
<path fill="#2bbeb5" d="M145.32 486.97h1v1h-1z"/>
<path fill="#2bbeb4" d="M140.09 484.57h1v1h-1zM141.54 488.15h1v1h-1z"/>
<path fill="#2bbeb1" d="M140.77 484.46h1v1h-1zM141.82 487.7h1v1h-1z"/>
<path fill="#2cbeaf" d="M145.11 487.93h1v1h-1zM144.24 483.79h1v1h-1z"/>
<path fill="#2cbeae" d="M145.75 487.62h1v1h-1z"/>
<path fill="#2cbead" d="M140.2 487.51h1v1h-1z"/>
<path fill="#2cbeac" d="M140.6 485.93h1v1h-1z"/>
<path fill="#2cbeaa" d="M143.72 484.35h1v1h-1z"/>
<path fill="#2cbea8" d="M143.35 487.2h1v1h-1z"/>
<path fill="#2cbea5" d="M139.93 485.6h1v1h-1z"/>
<path fill="#2dbea4" d="M142.16 483.54h1v1h-1z"/>
<path fill="#2dbea3" d="M140.53 485.11h1v1h-1z"/>
<path fill="#2dbea2" d="M139.28 486.97h1v1h-1z"/>
<path fill="#2dbea1" d="M140.31 484.2h1v1h-1z"/>
<path fill="#2dbea0" d="M142.54 484.36h1v1h-1zM142.2 488.16h1v1h-1z"/>
<path fill="#2dbe9f" d="M140.11 486.77h1v1h-1z"/>
<path fill="#2dbe9a" d="M143.98 484.3h1v1h-1zM141.43 485.46h1v1h-1zM141.45 485.57h1v1h-1z"/>
<path fill="#2ebe99" d="M141.22 487.38h1v1h-1z"/>
<path fill="#2ebe96" d="M141.23 484.48h1v1h-1z"/>
<path fill="#2ebe95" d="M141.88 484.81h1v1h-1zM145.98 485.04h1v1h-1z"/>
<path fill="#2ebe94" d="M144.23 487.5h1v1h-1z"/>
<path fill="#2ebe93" d="M143.4 485.22h1v1h-1zM140.73 486.45h1v1h-1zM142.32 484.57h1v1h-1z"/>
<path fill="#2ebe92" d="M146.1 484.68h1v1h-1zM145.45 485.58h1v1h-1z"/>
<path fill="#2ebe91" d="M144.22 485.52h1v1h-1z"/>
<path fill="#2ebe90" d="M144.65 485.04h1v1h-1z"/>
<path fill="#2ebe8f" d="M142.01 488.07h1v1h-1zM142.58 487.44h1v1h-1zM143.06 487.31h1v1h-1z"/>
<path fill="#2fbe8e" d="M142.41 487.27h1v1h-1z"/>
<path fill="#2fbe8d" d="M139.76 485.5h1v1h-1z"/>
<path fill="#2fbe8c" d="M140.68 486.68h1v1h-1z"/>
<path fill="#2fbe8b" d="M145.2 485.65h1v1h-1zM145.05 487.4h1v1h-1zM142.6 485.43h1v1h-1z"/>
<path fill="#2fbe89" d="M145.76 486.91h1v1h-1zM142.58 487.53h1v1h-1zM141.8 484.06h1v1h-1z"/>
<path fill="#2fbe86" d="M143.19 486.86h1v1h-1zM142.41 486.16h1v1h-1z"/>
<path fill="#2fbe85" d="M143.19 484.39h1v1h-1z"/>
<path fill="#30be7f" d="M143.05 485.06h1v1h-1z"/>
<path fill="#30be7d" d="M145.14 487.11h1v1h-1z"/>
<path fill="#30be79" d="M142.24 487.25h1v1h-1zM141.24 486.08h1v1h-1z"/>
<path fill="#31be78" d="M139.72 486.71h1v1h-1z"/>
<path fill="#31be75" d="M141.76 485.35h1v1h-1z"/>
<path fill="#31be71" d="M141.99 487.22h1v1h-1zM146.22 486.21h1v1h-1z"/>
<path fill="#31be6f" d="M143.88 486.16h1v1h-1z"/>
<path fill="#33be6d" d="M140.67 486.58h1v1h-1z"/>
<path fill="#33be6c" d="M146.39 486.15h1v1h-1z"/>
<path fill="#36be6a" d="M141.66 485.41h1v1h-1zM144.47 485.15h1v1h-1z"/>
<path fill="#37be69" d="M141.2 486.48h1v1h-1z"/>
<path fill="#39be68" d="M142.58 485.55h1v1h-1z"/>
<path fill="#3abe67" d="M142.56 484.73h1v1h-1z"/>
<path fill="#3bbe67" d="M143.21 487.23h1v1h-1z"/>
<path fill="#3cbf66" d="M145.8 485.68h1v1h-1zM143.62 485.74h1v1h-1z"/>
<path fill="#3ebf65" d="M145.9 485.97h1v1h-1z"/>
<path fill="#3fbf64" d="M144.4 484.55h1v1h-1zM140.43 485.06h1v1h-1z"/>
<path fill="#40bf63" d="M144.97 485.02h1v1h-1z"/>
<path fill="#44bf61" d="M145.01 485.82h1v1h-1z"/>
<path fill="#4ac05c" d="M142.79 484.15h1v1h-1z"/>
<path fill="#4bc05c" d="M140.79 484.76h1v1h-1zM142.76 486.55h1v1h-1z"/>
<path fill="#4bc05b" d="M144.72 486.66h1v1h-1z"/>
<path fill="#4cc05b" d="M143.22 485.46h1v1h-1z"/>
<path fill="#4dc05a" d="M142.91 486.61h1v1h-1z"/>
<path fill="#4ec059" d="M143.25 484.22h1v1h-1z"/>
<path fill="#4fc059" d="M141.79 485.14h1v1h-1z"/>
<path fill="#50c158" d="M142.63 487.53h1v1h-1z"/>
<path fill="#5bc251" d="M144.93 487.18h1v1h-1z"/>
<path fill="#5bc250" d="M140.65 485.84h1v1h-1z"/>
<path fill="#5cc250" d="M145.82 485.76h1v1h-1zM141.79 486.96h1v1h-1z"/>
<path fill="#5dc24f" d="M145.44 485.29h1v1h-1z"/>
<path fill="#60c24d" d="M141.14 485.33h1v1h-1z"/>
<path fill="#66c349" d="M142.07 486.88h1v1h-1z"/>
<path fill="#6bc345" d="M143.42 484.39h1v1h-1zM141.84 485.29h1v1h-1z"/>
<path fill="#6cc345" d="M143.98 486.87h1v1h-1z"/>
<path fill="#71c441" d="M144.58 485.09h1v1h-1z"/>
<path fill="#76c43d" d="M141.44 485.44h1v1h-1z"/>
<path fill="#78c53c" d="M144.71 485.79h1v1h-1z"/>
<path fill="#7bc53a" d="M144.28 486.38h1v1h-1zM141.65 486.05h1v1h-1zM143.89 486.85h1v1h-1z"/>
<path fill="#7dc539" d="M144.94 485.32h1v1h-1z"/>
<path fill="#7ec538" d="M141.09 486.19h1v1h-1z"/>
<path fill="#83c634" d="M144.26 485.16h1v1h-1zM144 486.3h1v1h-1z"/>
<path fill="#88c631" d="M141.03 485.74h1v1h-1z"/>
<path fill="#96c727" d="M142.85 485.87h1v1h-1z"/>
<path fill="#9ac727" d="M143.9 485.34h1v1h-1z"/>
<path fill="#9ec626" d="M142.1 485.77h1v1h-1zM142.08 485.24h1v1h-1z"/>
<path fill="#9fc626" d="M143.49 485.85h1v1h-1z"/>
<path fill="#a4c525" d="M143.24 486h1v1h-1z"/>
<path fill="#a8c525" d="M142.36 485.37h1v1h-1zM141.75 485.67h1v1h-1z"/>
<path fill="#afc424" d="M142.71 485.71h1v1h-1z"/>
<path fill="#b1c424" d="M143.71 485.6h1v1h-1z"/>
</g>
<rect x="134.7" y="444.6" width="62.6" height="62.7" fill="none" stroke="#1a1a1a" stroke-width="0.9"/>
<rect x="155.3" y="475.4" width="28.7" height="20" fill="none" stroke="#1a1a1a" stroke-width="0.9"/>
<text x="182.5" y="482.04" font-size="6.5" text-anchor="end" textLength="13" lengthAdjust="spacingAndGlyphs">1.16</text>
<line x1="131.7" y1="447.2" x2="134.7" y2="447.2" stroke="#111" stroke-width="0.8"/>
<line x1="132.7" y1="449.6" x2="134.7" y2="449.6" stroke="#111" stroke-width="0.8"/>
<line x1="132.7" y1="452.01" x2="134.7" y2="452.01" stroke="#111" stroke-width="0.8"/>
<line x1="132.7" y1="454.41" x2="134.7" y2="454.41" stroke="#111" stroke-width="0.8"/>
<line x1="132.7" y1="456.82" x2="134.7" y2="456.82" stroke="#111" stroke-width="0.8"/>
<line x1="131.7" y1="459.22" x2="134.7" y2="459.22" stroke="#111" stroke-width="0.8"/>
<line x1="132.7" y1="461.62" x2="134.7" y2="461.62" stroke="#111" stroke-width="0.8"/>
<line x1="132.7" y1="464.03" x2="134.7" y2="464.03" stroke="#111" stroke-width="0.8"/>
<line x1="132.7" y1="466.43" x2="134.7" y2="466.43" stroke="#111" stroke-width="0.8"/>
<line x1="132.7" y1="468.84" x2="134.7" y2="468.84" stroke="#111" stroke-width="0.8"/>
<line x1="131.7" y1="471.24" x2="134.7" y2="471.24" stroke="#111" stroke-width="0.8"/>
<line x1="132.7" y1="473.64" x2="134.7" y2="473.64" stroke="#111" stroke-width="0.8"/>
<line x1="132.7" y1="476.05" x2="134.7" y2="476.05" stroke="#111" stroke-width="0.8"/>
<line x1="132.7" y1="478.45" x2="134.7" y2="478.45" stroke="#111" stroke-width="0.8"/>
<line x1="132.7" y1="480.86" x2="134.7" y2="480.86" stroke="#111" stroke-width="0.8"/>
<line x1="131.7" y1="483.26" x2="134.7" y2="483.26" stroke="#111" stroke-width="0.8"/>
<line x1="132.7" y1="485.66" x2="134.7" y2="485.66" stroke="#111" stroke-width="0.8"/>
<line x1="132.7" y1="488.07" x2="134.7" y2="488.07" stroke="#111" stroke-width="0.8"/>
<line x1="132.7" y1="490.47" x2="134.7" y2="490.47" stroke="#111" stroke-width="0.8"/>
<line x1="132.7" y1="492.88" x2="134.7" y2="492.88" stroke="#111" stroke-width="0.8"/>
<line x1="131.7" y1="495.28" x2="134.7" y2="495.28" stroke="#111" stroke-width="0.8"/>
<line x1="132.7" y1="497.68" x2="134.7" y2="497.68" stroke="#111" stroke-width="0.8"/>
<line x1="132.7" y1="500.09" x2="134.7" y2="500.09" stroke="#111" stroke-width="0.8"/>
<line x1="132.7" y1="502.49" x2="134.7" y2="502.49" stroke="#111" stroke-width="0.8"/>
<line x1="132.7" y1="504.9" x2="134.7" y2="504.9" stroke="#111" stroke-width="0.8"/>
<line x1="136.58" y1="507.3" x2="136.58" y2="508.7" stroke="#111" stroke-width="0.8"/>
<line x1="138.46" y1="507.3" x2="138.46" y2="508.7" stroke="#111" stroke-width="0.8"/>
<line x1="140.33" y1="507.3" x2="140.33" y2="508.7" stroke="#111" stroke-width="0.8"/>
<line x1="142.21" y1="507.3" x2="142.21" y2="508.7" stroke="#111" stroke-width="0.8"/>
<line x1="144.09" y1="507.3" x2="144.09" y2="508.7" stroke="#111" stroke-width="0.8"/>
<line x1="147.22" y1="507.3" x2="147.22" y2="508.7" stroke="#111" stroke-width="0.8"/>
<line x1="150.98" y1="507.3" x2="150.98" y2="508.7" stroke="#111" stroke-width="0.8"/>
<line x1="155.36" y1="507.3" x2="155.36" y2="508.7" stroke="#111" stroke-width="0.8"/>
<line x1="159.74" y1="507.3" x2="159.74" y2="508.7" stroke="#111" stroke-width="0.8"/>
<line x1="166" y1="507.3" x2="166" y2="508.7" stroke="#111" stroke-width="0.8"/>
<line x1="172.26" y1="507.3" x2="172.26" y2="508.7" stroke="#111" stroke-width="0.8"/>
<line x1="176.02" y1="507.3" x2="176.02" y2="508.7" stroke="#111" stroke-width="0.8"/>
<line x1="179.77" y1="507.3" x2="179.77" y2="508.7" stroke="#111" stroke-width="0.8"/>
<line x1="183.53" y1="507.3" x2="183.53" y2="508.7" stroke="#111" stroke-width="0.8"/>
<line x1="187.91" y1="507.3" x2="187.91" y2="508.7" stroke="#111" stroke-width="0.8"/>
<line x1="191.04" y1="507.3" x2="191.04" y2="508.7" stroke="#111" stroke-width="0.8"/>
<line x1="194.8" y1="507.3" x2="194.8" y2="508.7" stroke="#111" stroke-width="0.8"/>
<g filter="url(#bl)">
<path fill="#b4b8f4" d="M151.21 556.94h1v1h-1zM143.43 559.7h1v1h-1zM151.71 571.89h1v1h-1zM148.2 568.45h1v1h-1zM147.5 573.28h1v1h-1zM150.98 571.74h1v1h-1zM136.09 564.13h1v1h-1zM143.72 557.5h1v1h-1zM141.83 566.06h1v1h-1zM143.3 575.94h1v1h-1zM142.38 565.37h1v1h-1zM142.93 564.81h1v1h-1zM143.89 567.54h1v1h-1zM143.97 563.11h1v1h-1zM147.28 565.66h1v1h-1zM148.61 563.07h1v1h-1zM141.78 566.71h1v1h-1zM143.06 566.81h1v1h-1zM153.28 564.5h1v1h-1zM144.63 563.61h1v1h-1zM147.35 567h1v1h-1zM138.83 562.22h1v1h-1zM135.75 565.03h1v1h-1zM144.75 564.21h1v1h-1zM142.98 566.65h1v1h-1zM159.37 570.7h1v1h-1zM159.18 566.65h1v1h-1zM145.17 573.69h1v1h-1zM146.26 568.67h1v1h-1zM140.36 564.02h1v1h-1zM148.91 563.8h1v1h-1zM139.33 560.33h1v1h-1zM145.69 565.76h1v1h-1zM147.36 562.75h1v1h-1zM135.46 570.41h1v1h-1zM143.88 569.19h1v1h-1zM136.08 561.09h1v1h-1zM150.32 571.28h1v1h-1zM155.52 559.04h1v1h-1zM136.46 564.07h1v1h-1zM138.45 565.3h1v1h-1zM138.39 560.41h1v1h-1zM143.44 566.6h1v1h-1zM138.59 566.24h1v1h-1zM135.07 564.84h1v1h-1zM141.48 564.34h1v1h-1zM143.2 561.19h1v1h-1zM134.78 562.89h1v1h-1zM148.61 562.42h1v1h-1zM137.49 573.82h1v1h-1zM142 564.62h1v1h-1zM137.82 571.83h1v1h-1zM147.22 567.13h1v1h-1zM154.33 561.47h1v1h-1zM146.6 564.11h1v1h-1zM149.02 565.74h1v1h-1zM156.73 561.18h1v1h-1zM146.11 569.91h1v1h-1zM149.62 564.7h1v1h-1zM141.06 564.41h1v1h-1zM148.31 564.54h1v1h-1zM142.79 570.1h1v1h-1zM142.97 567.06h1v1h-1zM142.88 566.14h1v1h-1zM146.16 563.61h1v1h-1zM139.6 566.31h1v1h-1zM158.97 563.15h1v1h-1zM137.34 559.11h1v1h-1zM146.78 565.88h1v1h-1zM138.1 564.51h1v1h-1zM150.25 570.07h1v1h-1zM146.16 570.6h1v1h-1zM150.46 564.31h1v1h-1zM149.02 566.71h1v1h-1zM148.83 567.19h1v1h-1zM157.96 561.21h1v1h-1zM146.13 561.88h1v1h-1zM159.2 564.09h1v1h-1zM141.25 566.02h1v1h-1zM143.41 572.75h1v1h-1zM143.35 567.07h1v1h-1zM150.82 571.98h1v1h-1zM137.29 567.28h1v1h-1zM134.84 568.02h1v1h-1zM153.17 564.06h1v1h-1zM141.83 570.74h1v1h-1zM146.64 569.23h1v1h-1zM140.65 564.87h1v1h-1zM141.23 572.21h1v1h-1zM154.14 565.82h1v1h-1zM136.38 567.02h1v1h-1zM142.24 565.62h1v1h-1zM147.04 569.18h1v1h-1zM153.74 560.87h1v1h-1zM143.06 561.57h1v1h-1zM148.17 562.8h1v1h-1zM141.47 564.48h1v1h-1zM146.76 560.99h1v1h-1zM152.81 564.13h1v1h-1zM146.48 567.13h1v1h-1zM144.43 566.01h1v1h-1zM140 565.14h1v1h-1zM151.78 567.83h1v1h-1zM152.31 563.26h1v1h-1zM144.5 563.59h1v1h-1zM134.82 569.59h1v1h-1zM141.8 567.03h1v1h-1z"/>
<path fill="#8c94f0" d="M159.89 559.15h0.8v0.8h-0.8zM155.14 565.04h0.8v0.8h-0.8zM150.42 560.09h0.8v0.8h-0.8zM164.43 560.27h0.8v0.8h-0.8zM159.69 562.18h0.8v0.8h-0.8zM159.08 564.48h0.8v0.8h-0.8zM154.39 565.45h0.8v0.8h-0.8zM154.6 572.77h0.8v0.8h-0.8zM157.88 560.5h0.8v0.8h-0.8zM162.96 561.06h0.8v0.8h-0.8zM162.99 570.23h0.8v0.8h-0.8zM166.21 566.38h0.8v0.8h-0.8zM163.05 570.47h0.8v0.8h-0.8zM164.27 567.68h0.8v0.8h-0.8zM165.7 569.77h0.8v0.8h-0.8zM156.48 564.13h0.8v0.8h-0.8zM164.72 572.51h0.8v0.8h-0.8zM156.39 572.45h0.8v0.8h-0.8zM163.89 569.04h0.8v0.8h-0.8zM155.69 562.73h0.8v0.8h-0.8zM154.82 568.89h0.8v0.8h-0.8zM157.93 561.94h0.8v0.8h-0.8zM152.23 570.75h0.8v0.8h-0.8zM153.03 561.16h0.8v0.8h-0.8zM159.16 559.42h0.8v0.8h-0.8zM156.88 561.65h0.8v0.8h-0.8zM165.06 566.91h0.8v0.8h-0.8zM158.49 565.63h0.8v0.8h-0.8zM149.93 571.26h0.8v0.8h-0.8zM166.6 558.72h0.8v0.8h-0.8zM159.77 570.4h0.8v0.8h-0.8zM164.85 572.97h0.8v0.8h-0.8z"/>
<path fill="#3b46eb" d="M149.84 575.29h1v1h-1zM157.31 563.41h1v1h-1z"/>
<path fill="#3b47eb" d="M155.31 562.65h1v1h-1zM148.9 559.36h1v1h-1z"/>
<path fill="#3a48eb" d="M141.7 558.92h1v1h-1zM134.99 571.29h1v1h-1zM146.33 573.05h1v1h-1zM136.34 571.76h1v1h-1z"/>
<path fill="#3a49eb" d="M137.15 571.33h1v1h-1zM146.36 559.56h1v1h-1z"/>
<path fill="#394aeb" d="M151.67 561.35h1v1h-1zM137.74 571.54h1v1h-1zM146.78 559.74h1v1h-1zM141.38 559.69h1v1h-1z"/>
<path fill="#394beb" d="M136.58 561.61h1v1h-1zM135.09 562.42h1v1h-1z"/>
<path fill="#384ceb" d="M136.91 561.27h1v1h-1zM134.78 563.21h1v1h-1zM154.09 566.06h1v1h-1zM144.41 571.97h1v1h-1z"/>
<path fill="#384deb" d="M151.41 562.56h1v1h-1zM140.48 560.33h1v1h-1zM153.67 567.09h1v1h-1zM138.36 570.96h1v1h-1zM153.03 568.28h1v1h-1z"/>
<path fill="#374eec" d="M151.73 562.81h1v1h-1zM153.15 566.87h1v1h-1zM144.51 572h1v1h-1zM136.06 562.42h1v1h-1zM147.59 561.08h1v1h-1zM139.53 560.95h1v1h-1zM152.16 568.42h1v1h-1z"/>
<path fill="#374fec" d="M150.1 570.37h1v1h-1zM144.84 560.43h1v1h-1z"/>
<path fill="#3650ec" d="M141.5 560.89h1v1h-1zM141.49 571.63h1v1h-1z"/>
<path fill="#3651ec" d="M150.36 562.3h1v1h-1zM141.26 561.03h1v1h-1zM152.79 567.34h1v1h-1z"/>
<path fill="#3552ec" d="M134.7 566.73h1v1h-1zM136.3 563.32h1v1h-1z"/>
<path fill="#3553ec" d="M151.52 568.29h1v1h-1zM140.22 561.48h1v1h-1zM137.83 562.26h1v1h-1zM135 566.53h1v1h-1zM151.6 567.52h1v1h-1zM135.67 568.35h1v1h-1zM138.94 561.68h1v1h-1z"/>
<path fill="#3454ec" d="M143.85 561.27h1v1h-1z"/>
<path fill="#3455ec" d="M136.65 563.33h1v1h-1zM138.47 569.57h1v1h-1zM135.22 566.62h1v1h-1zM137.87 569.34h1v1h-1z"/>
<path fill="#3356ed" d="M147.97 561.74h1v1h-1zM135.36 565.32h1v1h-1zM136.29 563.89h1v1h-1zM147.87 562.07h1v1h-1z"/>
<path fill="#3357ed" d="M141.83 570.81h1v1h-1zM139.19 562.3h1v1h-1zM151.51 567.03h1v1h-1zM146.99 570.32h1v1h-1zM136.02 567.11h1v1h-1z"/>
<path fill="#3258ed" d="M138.91 569.48h1v1h-1zM142.22 570.71h1v1h-1zM136.94 568.89h1v1h-1zM148.27 562.61h1v1h-1zM147.69 570.15h1v1h-1zM151.89 565.77h1v1h-1zM138.86 569.48h1v1h-1zM144.59 570.43h1v1h-1zM141.06 561.8h1v1h-1z"/>
<path fill="#3259ed" d="M139.22 562.56h1v1h-1zM142.98 561.3h1v1h-1zM136.71 564.04h1v1h-1zM135.61 565.64h1v1h-1zM148.29 569.97h1v1h-1z"/>
<path fill="#315aed" d="M151.25 565.9h1v1h-1zM139.44 562.07h1v1h-1zM137.79 563.12h1v1h-1z"/>
<path fill="#315bed" d="M148.47 562.26h1v1h-1zM150.18 568.58h1v1h-1zM150.18 563.74h1v1h-1zM150.4 568.26h1v1h-1zM139.51 562.2h1v1h-1z"/>
<path fill="#305ced" d="M142 570.2h1v1h-1zM144.55 570.46h1v1h-1zM149.12 569.38h1v1h-1zM150.83 564.45h1v1h-1zM149.72 568.03h1v1h-1zM150.64 567.45h1v1h-1zM141.31 569.91h1v1h-1zM149.06 563.47h1v1h-1z"/>
<path fill="#305ded" d="M143.62 561.97h1v1h-1zM151.34 566.41h1v1h-1zM149.45 568.3h1v1h-1z"/>
<path fill="#2f5eee" d="M149.78 563.71h1v1h-1zM137.45 568.27h1v1h-1z"/>
<path fill="#2f5fee" d="M139.49 569.37h1v1h-1zM146.34 569.73h1v1h-1z"/>
<path fill="#2e60ee" d="M143.23 570.17h1v1h-1zM147.11 569.5h1v1h-1zM148.52 568.7h1v1h-1zM142.68 569.9h1v1h-1zM136.76 567.45h1v1h-1zM146.23 562.22h1v1h-1zM150.31 567.78h1v1h-1z"/>
<path fill="#2e61ee" d="M137.86 564.88h1v1h-1z"/>
<path fill="#2d62ee" d="M140.85 569.57h1v1h-1zM149.39 568.62h1v1h-1zM144.38 561.9h1v1h-1zM148.73 568.78h1v1h-1z"/>
<path fill="#2d63ee" d="M140.89 562.3h1v1h-1zM145.87 569.7h1v1h-1zM140.91 562.55h1v1h-1zM139.3 568.73h1v1h-1z"/>
<path fill="#2c64ee" d="M138.59 568.14h1v1h-1zM141.74 562.21h1v1h-1zM148.85 568.57h1v1h-1zM140.98 569.25h1v1h-1z"/>
<path fill="#2c65ee" d="M150.61 566.47h1v1h-1zM149.15 567.65h1v1h-1zM140.02 563.45h1v1h-1z"/>
<path fill="#2b66ef" d="M143.24 562.16h1v1h-1zM147.55 568.66h1v1h-1z"/>
<path fill="#2b67ef" d="M137.81 566.9h1v1h-1zM137.11 565.89h1v1h-1zM137.8 565.65h1v1h-1z"/>
<path fill="#2a68ef" d="M139.24 568.21h1v1h-1zM137.99 567.39h1v1h-1zM144.81 569.28h1v1h-1zM146.94 569.02h1v1h-1zM147.6 568.45h1v1h-1zM150.11 565.74h1v1h-1zM145.42 569.35h1v1h-1z"/>
<path fill="#2a69ef" d="M144.61 562.51h1v1h-1zM139.85 564.01h1v1h-1zM148.9 564.29h1v1h-1zM149.57 567.53h1v1h-1zM144.32 562.8h1v1h-1zM147.11 562.98h1v1h-1z"/>
<path fill="#296aef" d="M140.36 563.16h1v1h-1zM144.36 569.37h1v1h-1z"/>
<path fill="#296bef" d="M146.68 568.73h1v1h-1zM148.31 564.79h1v1h-1zM146.08 568.85h1v1h-1zM145.91 569.05h1v1h-1z"/>
<path fill="#286cef" d="M148.88 566.05h1v1h-1zM149.98 565.74h1v1h-1zM138.68 567.34h1v1h-1z"/>
<path fill="#286def" d="M146.12 563.3h1v1h-1z"/>
<path fill="#286eef" d="M148.1 564.55h1v1h-1z"/>
<path fill="#286fef" d="M142.27 563.09h1v1h-1z"/>
<path fill="#2871ef" d="M147.23 568.56h1v1h-1zM139.95 567.66h1v1h-1z"/>
<path fill="#2872ee" d="M142.25 563.03h1v1h-1zM142.4 568.81h1v1h-1z"/>
<path fill="#2873ee" d="M148.68 564.49h1v1h-1zM139.22 564.26h1v1h-1z"/>
<path fill="#2876ed" d="M138.51 565.7h1v1h-1z"/>
<path fill="#2877ed" d="M142.52 569.39h1v1h-1z"/>
<path fill="#2878ed" d="M146.92 563.55h1v1h-1zM144.58 569.16h1v1h-1z"/>
<path fill="#287cec" d="M144.91 563.65h1v1h-1z"/>
<path fill="#287eeb" d="M140.34 568.8h1v1h-1zM139.48 564.26h1v1h-1zM142.58 569.11h1v1h-1z"/>
<path fill="#287feb" d="M149.04 566.83h1v1h-1zM142.14 568.37h1v1h-1zM146.61 568.13h1v1h-1z"/>
<path fill="#2881eb" d="M142.96 568.97h1v1h-1z"/>
<path fill="#2885ea" d="M147.94 564.38h1v1h-1zM148.25 566.53h1v1h-1z"/>
<path fill="#2886e9" d="M141.4 564.12h1v1h-1zM140.99 563.73h1v1h-1z"/>
<path fill="#2887e9" d="M138.7 566.59h1v1h-1zM140.95 567.8h1v1h-1z"/>
<path fill="#2889e9" d="M147.85 566.85h1v1h-1zM144.65 568.41h1v1h-1zM143.82 568.56h1v1h-1z"/>
<path fill="#288be8" d="M140.4 568.44h1v1h-1zM144.16 563.06h1v1h-1z"/>
<path fill="#288ce8" d="M139.45 564.24h1v1h-1zM145.92 568.53h1v1h-1zM142.6 563.66h1v1h-1zM140.74 568.54h1v1h-1z"/>
<path fill="#288de8" d="M145.77 568.54h1v1h-1zM146.94 564.29h1v1h-1z"/>
<path fill="#288ee7" d="M145.44 568.56h1v1h-1z"/>
<path fill="#288fe7" d="M147.86 564.32h1v1h-1zM142.26 563.91h1v1h-1zM139.66 565.03h1v1h-1z"/>
<path fill="#2890e7" d="M146.33 564.15h1v1h-1zM140.69 563.99h1v1h-1z"/>
<path fill="#2891e7" d="M143.21 563.85h1v1h-1zM140.56 564.67h1v1h-1z"/>
<path fill="#2892e6" d="M139.96 564.92h1v1h-1z"/>
<path fill="#2893e6" d="M144.23 568.31h1v1h-1z"/>
<path fill="#2894e6" d="M139.1 566.08h1v1h-1zM139.21 566.98h1v1h-1zM140.62 568.34h1v1h-1zM139.42 566.08h1v1h-1z"/>
<path fill="#2895e6" d="M141.2 568.32h1v1h-1zM139.63 567.41h1v1h-1z"/>
<path fill="#2896e5" d="M146.46 564.83h1v1h-1zM147.01 564.83h1v1h-1z"/>
<path fill="#2898e5" d="M147.26 566.25h1v1h-1zM147.33 566.32h1v1h-1z"/>
<path fill="#2899e5" d="M139.87 564.18h1v1h-1zM144.69 567.82h1v1h-1z"/>
<path fill="#289ce4" d="M143.94 563.94h1v1h-1z"/>
<path fill="#289de4" d="M145.6 568.76h1v1h-1zM143.09 568.11h1v1h-1z"/>
<path fill="#289ee3" d="M146.47 565.39h1v1h-1z"/>
<path fill="#289fe3" d="M146.14 563.63h1v1h-1z"/>
<path fill="#28a0e3" d="M148.35 565.85h1v1h-1zM141.81 563.98h1v1h-1z"/>
<path fill="#28a1e3" d="M139.99 566.16h1v1h-1zM141.43 568.01h1v1h-1zM146.15 564.32h1v1h-1z"/>
<path fill="#28a2e2" d="M140.41 564.74h1v1h-1z"/>
<path fill="#28a3e2" d="M142.29 568.73h1v1h-1z"/>
<path fill="#28a5e2" d="M146.99 566.83h1v1h-1z"/>
<path fill="#28a6e1" d="M140.83 564.13h1v1h-1z"/>
<path fill="#28a7e1" d="M145.08 564.15h1v1h-1zM140.86 566.42h1v1h-1zM146.27 564.51h1v1h-1z"/>
<path fill="#28a8e1" d="M148.1 566.02h1v1h-1z"/>
<path fill="#28a9e1" d="M146.35 566.67h1v1h-1z"/>
<path fill="#28abe0" d="M147.71 565.48h1v1h-1zM139.79 565.85h1v1h-1zM140.85 567.19h1v1h-1zM146.15 567.54h1v1h-1z"/>
<path fill="#28ace0" d="M147.96 565.63h1v1h-1z"/>
<path fill="#28ade0" d="M141.18 568.05h1v1h-1zM140.63 566.04h1v1h-1z"/>
<path fill="#28aedf" d="M140.65 565.89h1v1h-1zM143.28 568.13h1v1h-1z"/>
<path fill="#28afdf" d="M147.83 565.8h1v1h-1z"/>
<path fill="#28b0df" d="M147.48 564.78h1v1h-1zM148.06 566.64h1v1h-1z"/>
<path fill="#28b1df" d="M143.46 563.65h1v1h-1zM142.15 563.75h1v1h-1z"/>
<path fill="#28b3de" d="M146.28 566.2h1v1h-1zM145.99 565.54h1v1h-1zM140.78 564.95h1v1h-1z"/>
<path fill="#28b4de" d="M145.03 567.44h1v1h-1z"/>
<path fill="#28b6dd" d="M139.76 565.58h1v1h-1zM143.42 567.72h1v1h-1z"/>
<path fill="#28b7dd" d="M147.17 564.67h1v1h-1z"/>
<path fill="#28b8dd" d="M146.84 566.96h1v1h-1z"/>
<path fill="#28b9dd" d="M143.75 568.45h1v1h-1z"/>
<path fill="#28badc" d="M142.3 563.83h1v1h-1zM145.96 565.23h1v1h-1z"/>
<path fill="#28bbdc" d="M140.38 565.25h1v1h-1z"/>
<path fill="#28bcdc" d="M143.32 565.12h1v1h-1z"/>
<path fill="#28bddc" d="M141.65 565.18h1v1h-1zM145.83 564.41h1v1h-1zM144 568.28h1v1h-1zM145.53 565.85h1v1h-1z"/>
<path fill="#28bedb" d="M140.89 565.62h1v1h-1zM143.37 564.79h1v1h-1z"/>
<path fill="#28beda" d="M140.55 567h1v1h-1z"/>
<path fill="#28bed9" d="M146.58 564.72h1v1h-1zM145.68 567.3h1v1h-1z"/>
<path fill="#28bed7" d="M141.71 567.13h1v1h-1z"/>
<path fill="#28bed5" d="M146.82 566.5h1v1h-1z"/>
<path fill="#28bed4" d="M144.36 567.34h1v1h-1z"/>
<path fill="#28bed3" d="M144.29 564.51h1v1h-1zM144.74 566.87h1v1h-1zM143.52 563.96h1v1h-1z"/>
<path fill="#29bed0" d="M145.03 567.55h1v1h-1zM142.13 565.22h1v1h-1zM139.95 566.03h1v1h-1z"/>
<path fill="#29becf" d="M141.47 566.11h1v1h-1zM143.09 565.6h1v1h-1zM142.62 568.25h1v1h-1zM143.77 565.97h1v1h-1z"/>
<path fill="#29bece" d="M144.21 566.46h1v1h-1z"/>
<path fill="#29becd" d="M140.25 566.77h1v1h-1z"/>
<path fill="#29becc" d="M145.97 567.08h1v1h-1z"/>
<path fill="#29becb" d="M146.35 566.59h1v1h-1z"/>
<path fill="#29beca" d="M140.18 565.81h1v1h-1z"/>
<path fill="#29bec8" d="M144.41 568.11h1v1h-1z"/>
<path fill="#29bec7" d="M145.55 566.29h1v1h-1zM141.76 565.54h1v1h-1z"/>
<path fill="#29bec6" d="M140.82 564.86h1v1h-1z"/>
<path fill="#2abec5" d="M145.53 564.82h1v1h-1zM143.76 567.35h1v1h-1z"/>
<path fill="#2abec2" d="M142.35 567.27h1v1h-1z"/>
<path fill="#2abec1" d="M142.14 565.56h1v1h-1z"/>
<path fill="#2abebd" d="M145.09 567.01h1v1h-1z"/>
<path fill="#2bbeba" d="M142.65 564.42h1v1h-1z"/>
<path fill="#2bbeb8" d="M146.04 566.07h1v1h-1z"/>
<path fill="#2bbeb7" d="M142.09 564.66h1v1h-1z"/>
<path fill="#2bbeb4" d="M143.59 567.15h1v1h-1zM145.43 567.47h1v1h-1z"/>
<path fill="#2bbeb0" d="M142.21 566h1v1h-1z"/>
<path fill="#2cbead" d="M141.41 566.8h1v1h-1z"/>
<path fill="#2cbeab" d="M145.67 567.06h1v1h-1z"/>
<path fill="#2cbeaa" d="M143.61 564.29h1v1h-1z"/>
<path fill="#2cbea5" d="M145.77 564.83h1v1h-1z"/>
<path fill="#2dbea4" d="M145.01 567.29h1v1h-1z"/>
<path fill="#2dbea3" d="M145.26 566.21h1v1h-1z"/>
<path fill="#2dbea1" d="M146.37 566.25h1v1h-1z"/>
<path fill="#2dbea0" d="M144.07 564.59h1v1h-1z"/>
<path fill="#2ebe96" d="M143.97 565.61h1v1h-1z"/>
<path fill="#2fbe8e" d="M144.59 566.55h1v1h-1z"/>
<path fill="#2fbe8a" d="M144.56 565.06h1v1h-1z"/>
<path fill="#2fbe87" d="M142.54 565.12h1v1h-1zM142.57 565.38h1v1h-1z"/>
<path fill="#30be83" d="M145.18 566.37h1v1h-1z"/>
<path fill="#30be82" d="M142.84 566.79h1v1h-1z"/>
<path fill="#30be81" d="M141.44 566.23h1v1h-1z"/>
<path fill="#30be7c" d="M141.71 565.71h1v1h-1z"/>
<path fill="#30be79" d="M143.67 567.39h1v1h-1z"/>
<path fill="#31be70" d="M144.18 566.7h1v1h-1z"/>
<path fill="#32be6d" d="M141.93 566.64h1v1h-1zM144.56 565.5h1v1h-1zM145.35 566.03h1v1h-1z"/>
<path fill="#33be6d" d="M141.77 566.16h1v1h-1z"/>
<path fill="#38be69" d="M144.15 565.76h1v1h-1z"/>
<path fill="#3abe68" d="M144.72 566.79h1v1h-1z"/>
<path fill="#3dbf65" d="M144.29 565.59h1v1h-1z"/>
<path fill="#3ebf65" d="M143.74 565.47h1v1h-1z"/>
<path fill="#3fbf64" d="M144.35 566.15h1v1h-1z"/>
<path fill="#59c152" d="M143.78 566.15h1v1h-1z"/>
</g>
<rect x="134.5" y="524.7" width="62.7" height="62.9" fill="none" stroke="#1a1a1a" stroke-width="0.9"/>
<rect x="152.9" y="555.7" width="28.6" height="20.6" fill="none" stroke="#1a1a1a" stroke-width="0.9"/>
<text x="180" y="562.34" font-size="6.5" text-anchor="end" textLength="13" lengthAdjust="spacingAndGlyphs">13.6</text>
<line x1="131.5" y1="527.3" x2="134.5" y2="527.3" stroke="#111" stroke-width="0.8"/>
<line x1="132.5" y1="529.71" x2="134.5" y2="529.71" stroke="#111" stroke-width="0.8"/>
<line x1="132.5" y1="532.12" x2="134.5" y2="532.12" stroke="#111" stroke-width="0.8"/>
<line x1="132.5" y1="534.54" x2="134.5" y2="534.54" stroke="#111" stroke-width="0.8"/>
<line x1="132.5" y1="536.95" x2="134.5" y2="536.95" stroke="#111" stroke-width="0.8"/>
<line x1="131.5" y1="539.36" x2="134.5" y2="539.36" stroke="#111" stroke-width="0.8"/>
<line x1="132.5" y1="541.77" x2="134.5" y2="541.77" stroke="#111" stroke-width="0.8"/>
<line x1="132.5" y1="544.18" x2="134.5" y2="544.18" stroke="#111" stroke-width="0.8"/>
<line x1="132.5" y1="546.6" x2="134.5" y2="546.6" stroke="#111" stroke-width="0.8"/>
<line x1="132.5" y1="549.01" x2="134.5" y2="549.01" stroke="#111" stroke-width="0.8"/>
<line x1="131.5" y1="551.42" x2="134.5" y2="551.42" stroke="#111" stroke-width="0.8"/>
<line x1="132.5" y1="553.83" x2="134.5" y2="553.83" stroke="#111" stroke-width="0.8"/>
<line x1="132.5" y1="556.24" x2="134.5" y2="556.24" stroke="#111" stroke-width="0.8"/>
<line x1="132.5" y1="558.66" x2="134.5" y2="558.66" stroke="#111" stroke-width="0.8"/>
<line x1="132.5" y1="561.07" x2="134.5" y2="561.07" stroke="#111" stroke-width="0.8"/>
<line x1="131.5" y1="563.48" x2="134.5" y2="563.48" stroke="#111" stroke-width="0.8"/>
<line x1="132.5" y1="565.89" x2="134.5" y2="565.89" stroke="#111" stroke-width="0.8"/>
<line x1="132.5" y1="568.3" x2="134.5" y2="568.3" stroke="#111" stroke-width="0.8"/>
<line x1="132.5" y1="570.72" x2="134.5" y2="570.72" stroke="#111" stroke-width="0.8"/>
<line x1="132.5" y1="573.13" x2="134.5" y2="573.13" stroke="#111" stroke-width="0.8"/>
<line x1="131.5" y1="575.54" x2="134.5" y2="575.54" stroke="#111" stroke-width="0.8"/>
<line x1="132.5" y1="577.95" x2="134.5" y2="577.95" stroke="#111" stroke-width="0.8"/>
<line x1="132.5" y1="580.36" x2="134.5" y2="580.36" stroke="#111" stroke-width="0.8"/>
<line x1="132.5" y1="582.78" x2="134.5" y2="582.78" stroke="#111" stroke-width="0.8"/>
<line x1="132.5" y1="585.19" x2="134.5" y2="585.19" stroke="#111" stroke-width="0.8"/>
<line x1="136.38" y1="587.6" x2="136.38" y2="589" stroke="#111" stroke-width="0.8"/>
<line x1="138.26" y1="587.6" x2="138.26" y2="589" stroke="#111" stroke-width="0.8"/>
<line x1="140.14" y1="587.6" x2="140.14" y2="589" stroke="#111" stroke-width="0.8"/>
<line x1="142.02" y1="587.6" x2="142.02" y2="589" stroke="#111" stroke-width="0.8"/>
<line x1="143.91" y1="587.6" x2="143.91" y2="589" stroke="#111" stroke-width="0.8"/>
<line x1="147.04" y1="587.6" x2="147.04" y2="589" stroke="#111" stroke-width="0.8"/>
<line x1="150.8" y1="587.6" x2="150.8" y2="589" stroke="#111" stroke-width="0.8"/>
<line x1="155.19" y1="587.6" x2="155.19" y2="589" stroke="#111" stroke-width="0.8"/>
<line x1="159.58" y1="587.6" x2="159.58" y2="589" stroke="#111" stroke-width="0.8"/>
<line x1="165.85" y1="587.6" x2="165.85" y2="589" stroke="#111" stroke-width="0.8"/>
<line x1="172.12" y1="587.6" x2="172.12" y2="589" stroke="#111" stroke-width="0.8"/>
<line x1="175.88" y1="587.6" x2="175.88" y2="589" stroke="#111" stroke-width="0.8"/>
<line x1="179.64" y1="587.6" x2="179.64" y2="589" stroke="#111" stroke-width="0.8"/>
<line x1="183.41" y1="587.6" x2="183.41" y2="589" stroke="#111" stroke-width="0.8"/>
<line x1="187.79" y1="587.6" x2="187.79" y2="589" stroke="#111" stroke-width="0.8"/>
<line x1="190.93" y1="587.6" x2="190.93" y2="589" stroke="#111" stroke-width="0.8"/>
<line x1="194.69" y1="587.6" x2="194.69" y2="589" stroke="#111" stroke-width="0.8"/>
<text x="136" y="509.3" font-size="3" fill="#222" textLength="60" lengthAdjust="spacingAndGlyphs">-10³ 0 10³  10⁴  10⁵</text>
<text x="136" y="589.6" font-size="3" fill="#222" textLength="60" lengthAdjust="spacingAndGlyphs">-10³ 0 10³  10⁴  10⁵</text>
<line x1="127.3" y1="565" x2="127.3" y2="545.26" stroke="#111" stroke-width="1.1"/>
<path fill="#111" d="M127.3 542.5L125.23 547.1L129.37 547.1Z"/>
<text x="127.3" y="582.52" font-size="7" text-anchor="middle" textLength="16.5" lengthAdjust="spacingAndGlyphs" transform="rotate(-90 127.3 580)">FSC-A</text>
<text x="134.6" y="598.02" font-size="7" textLength="11" lengthAdjust="spacingAndGlyphs">ST2</text>
<line x1="149.8" y1="595.5" x2="168.54" y2="595.5" stroke="#111" stroke-width="1.1"/>
<path fill="#111" d="M171.3 595.5L166.7 593.43L166.7 597.57Z"/></svg>
</body></html>
